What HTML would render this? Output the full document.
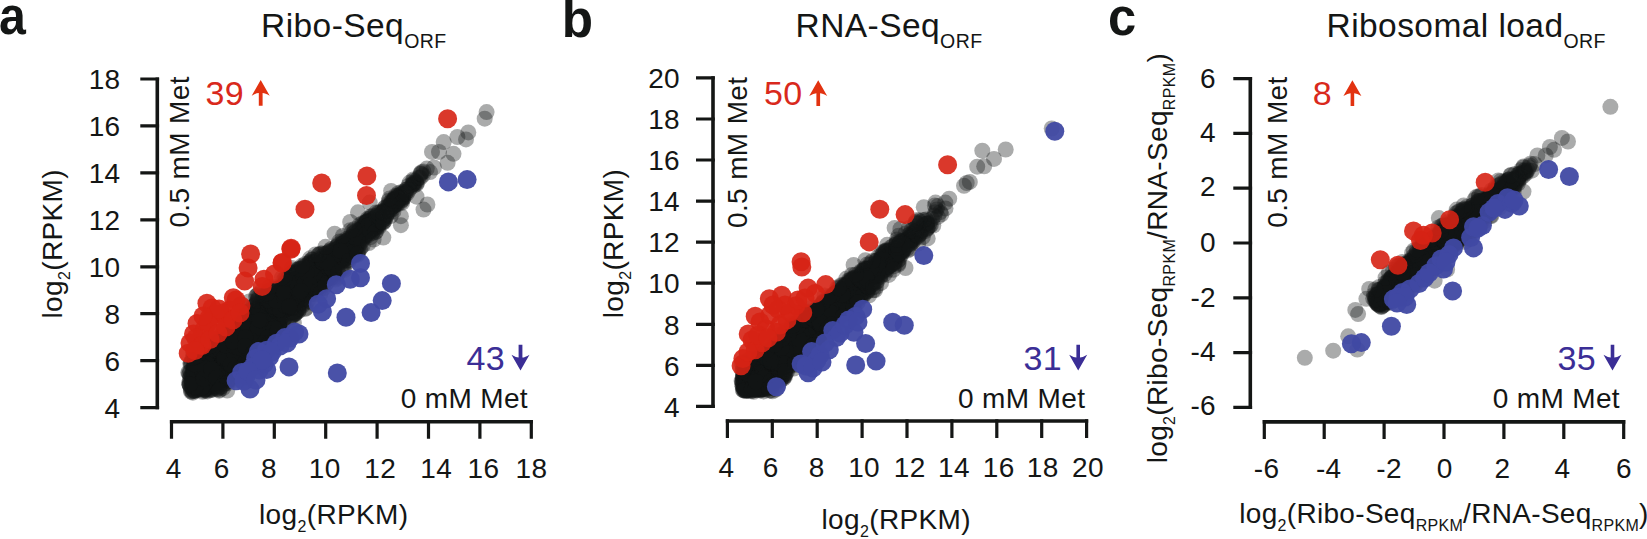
<!DOCTYPE html>
<html lang="en"><head><meta charset="utf-8"><title>Figure</title>
<style>html,body{margin:0;padding:0;background:#fff;overflow:hidden}svg{display:block}text{font-family:"Liberation Sans",sans-serif;letter-spacing:0.013em}</style>
</head><body>
<svg width="1647" height="539" viewBox="0 0 1647 539">
<rect width="1647" height="539" fill="#fff"/>
<text transform="translate(-0.9 34.4) scale(0.885 1)" font-size="54.5" font-weight="bold" fill="#141615">a</text>
<text x="261" y="37.2" font-size="33.5" text-anchor="start" fill="#141615">Ribo-Seq<tspan font-size="19.5" dy="11">ORF</tspan></text>
<path d="M157.3 77.4V409.2M169.9 421.8H532.9" fill="none" stroke="#141615" stroke-width="3.6"/>
<path d="M159.1 79H140.3M159.1 125.9H140.3M159.1 172.9H140.3M159.1 219.8H140.3M159.1 266.8H140.3M159.1 313.7H140.3M159.1 360.6H140.3M159.1 407.6H140.3M171.5 420V438.8M222.9 420V438.8M274.3 420V438.8M325.7 420V438.8M377.1 420V438.8M428.5 420V438.8M479.9 420V438.8M531.3 420V438.8" fill="none" stroke="#141615" stroke-width="3.2"/>
<text x="120.5" y="89.2" font-size="28" text-anchor="end" fill="#141615">18</text>
<text x="120.5" y="136.1" font-size="28" text-anchor="end" fill="#141615">16</text>
<text x="120.5" y="183.1" font-size="28" text-anchor="end" fill="#141615">14</text>
<text x="120.5" y="230" font-size="28" text-anchor="end" fill="#141615">12</text>
<text x="120.5" y="277" font-size="28" text-anchor="end" fill="#141615">10</text>
<text x="120.5" y="323.9" font-size="28" text-anchor="end" fill="#141615">8</text>
<text x="120.5" y="370.8" font-size="28" text-anchor="end" fill="#141615">6</text>
<text x="120.5" y="417.8" font-size="28" text-anchor="end" fill="#141615">4</text>
<text x="173.8" y="478" font-size="28" text-anchor="middle" fill="#141615">4</text>
<text x="221.6" y="478" font-size="28" text-anchor="middle" fill="#141615">6</text>
<text x="269" y="478" font-size="28" text-anchor="middle" fill="#141615">8</text>
<text x="324.8" y="478" font-size="28" text-anchor="middle" fill="#141615">10</text>
<text x="380.3" y="478" font-size="28" text-anchor="middle" fill="#141615">12</text>
<text x="436.2" y="478" font-size="28" text-anchor="middle" fill="#141615">14</text>
<text x="483.5" y="478" font-size="28" text-anchor="middle" fill="#141615">16</text>
<text x="531.5" y="478" font-size="28" text-anchor="middle" fill="#141615">18</text>
<text x="259" y="523.8" font-size="28" text-anchor="start" fill="#141615">log<tspan font-size="16" dy="8">2</tspan><tspan font-size="28" dy="-8">(RPKM)</tspan></text>
<text transform="translate(62 318.5) rotate(-90)" font-size="28" text-anchor="start" fill="#141615">log<tspan font-size="16" dy="8">2</tspan><tspan font-size="28" dy="-8">(RPKM)</tspan></text>
<text transform="translate(189.2 227.6) rotate(-90)" font-size="28" text-anchor="start" fill="#141615">0.5 mM Met</text>
<text x="205.5" y="105" font-size="34" text-anchor="start" fill="#d9291c">39</text>
<path d="M260.7 80L269.7 95.8Q265.2 93 262.6 93L262.6 105.8L258.8 105.8L258.8 93Q256.2 93 251.7 95.8Z" fill="#e23210"/>
<text x="466.5" y="370.4" font-size="34" text-anchor="start" fill="#3b2e96">43</text>
<path d="M520.5 370.6L529.5 354.8Q525 357.6 522.4 357.6L522.4 344.8L518.6 344.8L518.6 357.6Q516 357.6 511.5 354.8Z" fill="#3b2e96"/>
<text x="528" y="407.7" font-size="28" text-anchor="end" fill="#141615">0 mM Met</text>
<g fill="#141615" fill-opacity="0.36">
<circle cx="207.3" cy="386.9" r="8"/><circle cx="214.8" cy="367.5" r="8"/><circle cx="210.3" cy="374.6" r="8"/><circle cx="197.2" cy="377.8" r="8"/><circle cx="195.5" cy="371.8" r="8"/><circle cx="216.2" cy="379.2" r="8"/><circle cx="221.1" cy="356.8" r="8"/><circle cx="210.6" cy="370.5" r="8"/><circle cx="227.7" cy="366.1" r="8"/><circle cx="226.9" cy="363.6" r="8"/><circle cx="204.6" cy="371.3" r="8"/><circle cx="209.2" cy="381.2" r="8"/><circle cx="202.7" cy="361.4" r="8"/><circle cx="200.7" cy="386.6" r="8"/><circle cx="202.9" cy="373.5" r="8"/><circle cx="193.6" cy="372.9" r="8"/><circle cx="213.7" cy="354.7" r="8"/><circle cx="224.7" cy="369.4" r="8"/><circle cx="221.5" cy="371.1" r="8"/><circle cx="192.8" cy="392.7" r="8"/><circle cx="212.4" cy="379.7" r="8"/><circle cx="198.4" cy="370.3" r="8"/><circle cx="206" cy="351.7" r="8"/><circle cx="213.6" cy="374.6" r="8"/><circle cx="207.7" cy="368.4" r="8"/><circle cx="207.4" cy="373.4" r="8"/><circle cx="203.1" cy="376.6" r="8"/><circle cx="204.7" cy="365.5" r="8"/><circle cx="202.7" cy="391.8" r="8"/><circle cx="230.1" cy="375.2" r="8"/><circle cx="227.5" cy="373.4" r="8"/><circle cx="221.8" cy="379.1" r="8"/><circle cx="207.7" cy="376.4" r="8"/><circle cx="209" cy="369.8" r="8"/><circle cx="219.2" cy="361.3" r="8"/><circle cx="206.2" cy="387.8" r="8"/><circle cx="213.2" cy="376.3" r="8"/><circle cx="205.8" cy="358.3" r="8"/><circle cx="215.9" cy="364.1" r="8"/><circle cx="207.8" cy="385.1" r="8"/><circle cx="225.2" cy="361.8" r="8"/><circle cx="217" cy="376.2" r="8"/><circle cx="209.2" cy="362.5" r="8"/><circle cx="204.6" cy="371.3" r="8"/><circle cx="203.7" cy="368.5" r="8"/><circle cx="221.7" cy="381.5" r="8"/><circle cx="224.2" cy="379.1" r="8"/><circle cx="200.2" cy="359.9" r="8"/><circle cx="199.4" cy="366.9" r="8"/><circle cx="208.8" cy="380" r="8"/><circle cx="230.6" cy="369.8" r="8"/><circle cx="206.3" cy="365.8" r="8"/><circle cx="212.1" cy="350" r="8"/><circle cx="221.8" cy="374.1" r="8"/><circle cx="218.6" cy="366" r="8"/><circle cx="217.3" cy="366" r="8"/><circle cx="215.7" cy="355.8" r="8"/><circle cx="205.9" cy="380.8" r="8"/><circle cx="206.2" cy="378.3" r="8"/><circle cx="208.5" cy="357.6" r="8"/><circle cx="219.7" cy="367.4" r="8"/><circle cx="206.4" cy="377.5" r="8"/><circle cx="222.8" cy="360.6" r="8"/><circle cx="215.1" cy="367.1" r="8"/><circle cx="213.3" cy="374.3" r="8"/><circle cx="197.3" cy="380.4" r="8"/><circle cx="209.8" cy="352.3" r="8"/><circle cx="212.8" cy="374.2" r="8"/><circle cx="194.9" cy="363.2" r="8"/><circle cx="209.2" cy="376.9" r="8"/><circle cx="216.5" cy="373.3" r="8"/><circle cx="219.5" cy="355.4" r="8"/><circle cx="190.8" cy="390" r="8"/><circle cx="207.6" cy="361.2" r="8"/><circle cx="203.3" cy="365.7" r="8"/><circle cx="201.7" cy="378.9" r="8"/><circle cx="201.8" cy="375" r="8"/><circle cx="210.7" cy="360" r="8"/><circle cx="207.8" cy="387.3" r="8"/><circle cx="206.4" cy="375.2" r="8"/><circle cx="215" cy="363.6" r="8"/><circle cx="202.9" cy="360.9" r="8"/><circle cx="218.3" cy="362.7" r="8"/><circle cx="229.2" cy="375.3" r="8"/><circle cx="212" cy="380.5" r="8"/><circle cx="215" cy="366.8" r="8"/><circle cx="209.7" cy="364.1" r="8"/><circle cx="209" cy="354" r="8"/><circle cx="211.9" cy="366.9" r="8"/><circle cx="203.6" cy="362.9" r="8"/><circle cx="211.7" cy="377.1" r="8"/><circle cx="224.2" cy="364" r="8"/><circle cx="217.9" cy="381" r="8"/><circle cx="208" cy="368.7" r="8"/><circle cx="232.2" cy="367.2" r="8"/><circle cx="194.6" cy="374.8" r="8"/><circle cx="189.5" cy="374.2" r="8"/><circle cx="197.3" cy="385.8" r="8"/><circle cx="205.5" cy="384.4" r="8"/><circle cx="203.2" cy="378.6" r="8"/><circle cx="205.4" cy="384.9" r="8"/><circle cx="207.8" cy="376.3" r="8"/><circle cx="199.4" cy="374.7" r="8"/><circle cx="201.7" cy="365.6" r="8"/><circle cx="202.7" cy="373.4" r="8"/><circle cx="211.6" cy="369.3" r="8"/><circle cx="214.1" cy="358.9" r="8"/><circle cx="190.3" cy="363.4" r="8"/><circle cx="218.8" cy="374.3" r="8"/><circle cx="216.3" cy="353.9" r="8"/><circle cx="195" cy="378.9" r="8"/><circle cx="205.8" cy="379.5" r="8"/><circle cx="207.1" cy="369.9" r="8"/><circle cx="199.7" cy="387.4" r="8"/><circle cx="193.3" cy="384" r="8"/><circle cx="210.7" cy="365.7" r="8"/><circle cx="199.9" cy="365.1" r="8"/><circle cx="203.7" cy="377" r="8"/><circle cx="200.8" cy="384" r="8"/><circle cx="214.4" cy="360.5" r="8"/><circle cx="217.6" cy="388.4" r="8"/><circle cx="191.7" cy="386" r="8"/><circle cx="194.8" cy="388.5" r="8"/><circle cx="213.8" cy="372" r="8"/><circle cx="228" cy="367.8" r="8"/><circle cx="219" cy="370.6" r="8"/><circle cx="209.2" cy="382.6" r="8"/><circle cx="191.2" cy="364" r="8"/><circle cx="204.5" cy="357.2" r="8"/><circle cx="210.6" cy="364.1" r="8"/><circle cx="208.5" cy="366.2" r="8"/><circle cx="197.8" cy="364.7" r="8"/><circle cx="207.4" cy="372.3" r="8"/><circle cx="227.2" cy="381" r="8"/><circle cx="219.5" cy="381.5" r="8"/><circle cx="215.7" cy="374.1" r="8"/><circle cx="190.7" cy="376.2" r="8"/><circle cx="211" cy="359.2" r="8"/><circle cx="206.5" cy="352.3" r="8"/><circle cx="206.2" cy="381.2" r="8"/><circle cx="202.2" cy="385.8" r="8"/><circle cx="203.2" cy="361.1" r="8"/><circle cx="211.8" cy="366.1" r="8"/><circle cx="205.2" cy="383.9" r="8"/><circle cx="207.1" cy="385.4" r="8"/><circle cx="218" cy="358.1" r="8"/><circle cx="210.8" cy="385.1" r="8"/><circle cx="223.1" cy="359.3" r="8"/><circle cx="212.6" cy="365.2" r="8"/><circle cx="214.9" cy="380.1" r="8"/><circle cx="202.9" cy="377.4" r="8"/><circle cx="229.9" cy="379" r="8"/><circle cx="207.1" cy="366.6" r="8"/><circle cx="219.8" cy="366.9" r="8"/><circle cx="217.2" cy="367" r="8"/><circle cx="189" cy="383.1" r="8"/><circle cx="191.8" cy="381.3" r="8"/><circle cx="200.5" cy="386.5" r="8"/><circle cx="210.2" cy="360.4" r="8"/><circle cx="196.9" cy="384.5" r="8"/><circle cx="210.3" cy="381.8" r="8"/><circle cx="222.2" cy="358.4" r="8"/><circle cx="211.9" cy="379.1" r="8"/><circle cx="194.2" cy="369" r="8"/><circle cx="227.8" cy="367.2" r="8"/><circle cx="202.8" cy="363.4" r="8"/><circle cx="208" cy="357.8" r="8"/><circle cx="213.6" cy="368.5" r="8"/><circle cx="195.8" cy="381.7" r="8"/><circle cx="209.4" cy="373.2" r="8"/><circle cx="208.3" cy="361.9" r="8"/><circle cx="209.6" cy="382.4" r="8"/><circle cx="205.5" cy="381.2" r="8"/><circle cx="207" cy="377.8" r="8"/><circle cx="225.7" cy="366.6" r="8"/><circle cx="229" cy="371.5" r="8"/><circle cx="205.5" cy="377.7" r="8"/><circle cx="218" cy="354.5" r="8"/><circle cx="217.8" cy="361.9" r="8"/><circle cx="211.3" cy="361.3" r="8"/><circle cx="211.3" cy="348.7" r="8"/><circle cx="210.4" cy="381.6" r="8"/><circle cx="228.6" cy="366.8" r="8"/><circle cx="207.4" cy="391.4" r="8"/><circle cx="212.2" cy="368" r="8"/><circle cx="214.3" cy="350.9" r="8"/><circle cx="228.8" cy="371.3" r="8"/><circle cx="191.3" cy="375" r="8"/><circle cx="223" cy="379.9" r="8"/><circle cx="195.6" cy="389.1" r="8"/><circle cx="201.7" cy="376.9" r="8"/><circle cx="196.2" cy="382.4" r="8"/><circle cx="207" cy="350.9" r="8"/><circle cx="230.4" cy="375.9" r="8"/><circle cx="206.7" cy="351.3" r="8"/><circle cx="207.9" cy="359.4" r="8"/><circle cx="199.7" cy="370.4" r="8"/><circle cx="217.9" cy="361.9" r="8"/><circle cx="211" cy="352.7" r="8"/><circle cx="219.3" cy="355.4" r="8"/><circle cx="209.6" cy="354.1" r="8"/><circle cx="192.8" cy="375.4" r="8"/><circle cx="194.2" cy="387.7" r="8"/><circle cx="222.5" cy="374.8" r="8"/><circle cx="222.9" cy="367.6" r="8"/><circle cx="194" cy="389.9" r="8"/><circle cx="231.4" cy="367.5" r="8"/><circle cx="199.3" cy="380" r="8"/><circle cx="225" cy="365.9" r="8"/><circle cx="208.7" cy="381" r="8"/><circle cx="205.8" cy="370.1" r="8"/><circle cx="193.4" cy="371.1" r="8"/><circle cx="196.6" cy="372.7" r="8"/><circle cx="207.3" cy="361.7" r="8"/><circle cx="212" cy="365.4" r="8"/><circle cx="198.4" cy="376.9" r="8"/><circle cx="199.5" cy="377.3" r="8"/><circle cx="221.9" cy="364.9" r="8"/><circle cx="218.3" cy="370.8" r="8"/><circle cx="204.3" cy="371.7" r="8"/><circle cx="206.1" cy="375.9" r="8"/><circle cx="204.2" cy="366.1" r="8"/><circle cx="201.1" cy="379.3" r="8"/><circle cx="199.2" cy="380.3" r="8"/><circle cx="199.3" cy="385.5" r="8"/><circle cx="206.4" cy="362.3" r="8"/><circle cx="201.6" cy="382" r="8"/><circle cx="206.2" cy="353.9" r="8"/><circle cx="209.8" cy="389.5" r="8"/><circle cx="193.5" cy="374.1" r="8"/><circle cx="214.4" cy="351.1" r="8"/><circle cx="195.3" cy="384.2" r="8"/><circle cx="221" cy="362.7" r="8"/><circle cx="193.4" cy="382.7" r="8"/><circle cx="211.6" cy="355.4" r="8"/><circle cx="194.1" cy="368.6" r="8"/><circle cx="203.6" cy="363.7" r="8"/><circle cx="212.4" cy="359.5" r="8"/><circle cx="222.6" cy="373.4" r="8"/><circle cx="209.6" cy="372.6" r="8"/><circle cx="212.3" cy="373.6" r="8"/><circle cx="200.5" cy="383.7" r="8"/><circle cx="201.2" cy="387.9" r="8"/><circle cx="222.7" cy="382.1" r="8"/><circle cx="209.7" cy="386.7" r="8"/><circle cx="193.5" cy="385.5" r="8"/><circle cx="193.7" cy="390.9" r="8"/><circle cx="222.4" cy="376.2" r="8"/><circle cx="206.5" cy="390.6" r="8"/><circle cx="212" cy="362" r="8"/><circle cx="224.5" cy="367" r="8"/><circle cx="200.2" cy="377.1" r="8"/><circle cx="214.7" cy="352.7" r="8"/><circle cx="192.3" cy="391.4" r="8"/><circle cx="202.6" cy="376" r="8"/><circle cx="223.2" cy="372.1" r="8"/><circle cx="196" cy="386.2" r="8"/><circle cx="215.4" cy="374.3" r="8"/><circle cx="233" cy="370.5" r="8"/><circle cx="211.1" cy="377.8" r="8"/><circle cx="194.6" cy="383.1" r="8"/><circle cx="203.3" cy="384.4" r="8"/><circle cx="203.8" cy="357.2" r="8"/><circle cx="216.4" cy="387.1" r="8"/><circle cx="198.6" cy="366.4" r="8"/><circle cx="215.4" cy="381" r="8"/><circle cx="211" cy="348.3" r="8"/><circle cx="209.3" cy="367.4" r="8"/><circle cx="193.8" cy="385.5" r="8"/><circle cx="198.4" cy="377.4" r="8"/><circle cx="208.9" cy="361.6" r="8"/><circle cx="202.9" cy="388.8" r="8"/><circle cx="231.4" cy="367.6" r="8"/><circle cx="194.1" cy="368.4" r="8"/><circle cx="217.2" cy="361.8" r="8"/><circle cx="205.3" cy="389.2" r="8"/><circle cx="210.5" cy="377.2" r="8"/><circle cx="205.1" cy="364.1" r="8"/><circle cx="192.4" cy="381.8" r="8"/><circle cx="209.6" cy="385.1" r="8"/><circle cx="220.8" cy="359.6" r="8"/><circle cx="213.9" cy="365.3" r="8"/><circle cx="225" cy="367.5" r="8"/><circle cx="202.4" cy="367.1" r="8"/><circle cx="214.9" cy="380.1" r="8"/><circle cx="213.4" cy="357.3" r="8"/><circle cx="217.6" cy="374.1" r="8"/><circle cx="200.6" cy="377.9" r="8"/><circle cx="198.1" cy="372.8" r="8"/><circle cx="219.3" cy="364.7" r="8"/><circle cx="221.9" cy="360.4" r="8"/><circle cx="201.3" cy="362.1" r="8"/><circle cx="202.5" cy="365.5" r="8"/><circle cx="216.2" cy="381.4" r="8"/><circle cx="223.5" cy="370.4" r="8"/><circle cx="221.8" cy="382.2" r="8"/><circle cx="202.6" cy="386.3" r="8"/><circle cx="215.1" cy="383.2" r="8"/><circle cx="206.1" cy="364" r="8"/><circle cx="210.2" cy="347.6" r="8"/><circle cx="230.2" cy="370" r="8"/><circle cx="217.3" cy="363.7" r="8"/><circle cx="220.8" cy="371.8" r="8"/><circle cx="214.1" cy="361" r="8"/><circle cx="200.6" cy="366.5" r="8"/><circle cx="208.7" cy="362.5" r="8"/><circle cx="213.8" cy="366" r="8"/><circle cx="201.7" cy="352.3" r="8"/><circle cx="228" cy="370.8" r="8"/><circle cx="223.9" cy="381.1" r="8"/><circle cx="192.1" cy="385.1" r="8"/><circle cx="210.8" cy="379.1" r="8"/><circle cx="191.7" cy="361.1" r="8"/><circle cx="218.5" cy="354.7" r="8"/><circle cx="221.6" cy="371.5" r="8"/><circle cx="195.9" cy="373.2" r="8"/><circle cx="212.8" cy="372.9" r="8"/><circle cx="221.5" cy="368.7" r="8"/><circle cx="228.1" cy="368.4" r="8"/><circle cx="195.9" cy="365.6" r="8"/><circle cx="196.4" cy="380.7" r="8"/><circle cx="212.2" cy="352.2" r="8"/><circle cx="195.5" cy="359.6" r="8"/><circle cx="201.9" cy="385.6" r="8"/><circle cx="203.3" cy="352.4" r="8"/><circle cx="197.6" cy="386.2" r="8"/><circle cx="198.4" cy="362.5" r="8"/><circle cx="235.2" cy="371.4" r="8"/><circle cx="215.8" cy="365.6" r="8"/><circle cx="233" cy="367.7" r="8"/><circle cx="192.5" cy="378.6" r="8"/><circle cx="227.2" cy="363" r="8"/><circle cx="195.2" cy="363.3" r="8"/><circle cx="221.1" cy="371.9" r="8"/><circle cx="216.5" cy="363.7" r="8"/><circle cx="204.2" cy="375.9" r="8"/><circle cx="198.7" cy="375.4" r="8"/><circle cx="195.7" cy="376.9" r="8"/><circle cx="219.5" cy="367.3" r="8"/><circle cx="222.3" cy="360.7" r="8"/><circle cx="204.4" cy="364.5" r="8"/><circle cx="231.3" cy="368.7" r="8"/><circle cx="207.7" cy="353.6" r="8"/><circle cx="193.5" cy="371.5" r="8"/><circle cx="192.8" cy="387" r="8"/><circle cx="211.1" cy="385.4" r="8"/><circle cx="213.1" cy="369.5" r="8"/><circle cx="195.9" cy="381.2" r="8"/><circle cx="196.8" cy="367.1" r="8"/><circle cx="210.5" cy="379.2" r="8"/><circle cx="212.4" cy="380.1" r="8"/><circle cx="222.4" cy="369.1" r="8"/><circle cx="203.1" cy="353.7" r="8"/><circle cx="208.5" cy="359.6" r="8"/><circle cx="209.3" cy="376" r="8"/><circle cx="213.7" cy="378.8" r="8"/><circle cx="209.3" cy="365.7" r="8"/><circle cx="211.8" cy="369.3" r="8"/><circle cx="216.2" cy="353.5" r="8"/><circle cx="215" cy="368.7" r="8"/><circle cx="190" cy="378.1" r="8"/><circle cx="197.2" cy="361.6" r="8"/><circle cx="217.4" cy="359.6" r="8"/><circle cx="200.2" cy="374.7" r="8"/><circle cx="219.5" cy="365.3" r="8"/><circle cx="232.4" cy="372.7" r="8"/><circle cx="195.4" cy="382.2" r="8"/><circle cx="205.9" cy="363.4" r="8"/><circle cx="228" cy="364.5" r="8"/><circle cx="204.5" cy="375.6" r="8"/><circle cx="224.9" cy="374.2" r="8"/><circle cx="207" cy="389.2" r="8"/><circle cx="214.3" cy="352.4" r="8"/><circle cx="198.7" cy="377.3" r="8"/><circle cx="205.9" cy="378.8" r="8"/><circle cx="219.4" cy="359" r="8"/><circle cx="207.2" cy="352.1" r="8"/><circle cx="202.9" cy="377.1" r="8"/><circle cx="197.7" cy="374.6" r="8"/><circle cx="209.7" cy="357.5" r="8"/><circle cx="204.1" cy="377.7" r="8"/><circle cx="194.7" cy="359.8" r="8"/><circle cx="205.6" cy="386.4" r="8"/><circle cx="210.8" cy="351.8" r="8"/><circle cx="194.9" cy="385" r="8"/><circle cx="222" cy="362.3" r="8"/><circle cx="210" cy="354.4" r="8"/><circle cx="205.8" cy="353" r="8"/><circle cx="228.5" cy="364.8" r="8"/><circle cx="216.9" cy="370.1" r="8"/><circle cx="197.8" cy="373.3" r="8"/><circle cx="218.8" cy="378.2" r="8"/><circle cx="225.8" cy="363.1" r="8"/><circle cx="222.7" cy="364.1" r="8"/><circle cx="212.4" cy="389.7" r="8"/><circle cx="210.4" cy="350.3" r="8"/><circle cx="215.1" cy="364.9" r="8"/><circle cx="214.7" cy="384.5" r="8"/><circle cx="222" cy="370.9" r="8"/><circle cx="198.6" cy="389.5" r="8"/><circle cx="216.6" cy="369.9" r="8"/><circle cx="208.5" cy="372.9" r="8"/><circle cx="218" cy="375.8" r="8"/><circle cx="227.7" cy="363.5" r="8"/><circle cx="210.8" cy="354.4" r="8"/><circle cx="191.6" cy="382.8" r="8"/><circle cx="199.4" cy="378.8" r="8"/><circle cx="203.5" cy="380.8" r="8"/><circle cx="215.7" cy="358.6" r="8"/><circle cx="212.5" cy="371.7" r="8"/><circle cx="228.3" cy="367.3" r="8"/><circle cx="203.2" cy="375" r="8"/><circle cx="215.5" cy="355.8" r="8"/><circle cx="224.5" cy="365.8" r="8"/><circle cx="204.5" cy="358.1" r="8"/><circle cx="199.9" cy="369.1" r="8"/><circle cx="206.8" cy="364.8" r="8"/><circle cx="217.7" cy="381.4" r="8"/><circle cx="205.9" cy="385.1" r="8"/><circle cx="205.7" cy="389.3" r="8"/><circle cx="196.4" cy="387.6" r="8"/><circle cx="223.2" cy="363.7" r="8"/><circle cx="193.4" cy="388.4" r="8"/><circle cx="223" cy="362.6" r="8"/><circle cx="205.4" cy="367.4" r="8"/><circle cx="190.8" cy="387.7" r="8"/><circle cx="205.3" cy="385.4" r="8"/><circle cx="194.5" cy="373.9" r="8"/><circle cx="208.2" cy="385.8" r="8"/><circle cx="215.2" cy="364" r="8"/><circle cx="211.2" cy="349.4" r="8"/><circle cx="217.8" cy="369.9" r="8"/><circle cx="207.2" cy="359.9" r="8"/><circle cx="228.3" cy="379.9" r="8"/><circle cx="221.8" cy="362.7" r="8"/><circle cx="200.3" cy="357.1" r="8"/><circle cx="215.4" cy="362.1" r="8"/><circle cx="216.1" cy="381" r="8"/><circle cx="194.2" cy="383.9" r="8"/><circle cx="213.2" cy="365.9" r="8"/><circle cx="200.7" cy="356.1" r="8"/><circle cx="201.9" cy="367.3" r="8"/><circle cx="213.9" cy="355.9" r="8"/><circle cx="228" cy="381.1" r="8"/><circle cx="195.6" cy="371.7" r="8"/><circle cx="216.7" cy="363.7" r="8"/><circle cx="213.9" cy="370.6" r="8"/><circle cx="198.6" cy="369.7" r="8"/><circle cx="199.5" cy="374.9" r="8"/><circle cx="201.5" cy="385.8" r="8"/><circle cx="196.2" cy="376.1" r="8"/><circle cx="199.3" cy="382.3" r="8"/><circle cx="217.6" cy="389.1" r="8"/><circle cx="210.3" cy="384.7" r="8"/><circle cx="222.6" cy="381.6" r="8"/><circle cx="214.8" cy="359.8" r="8"/><circle cx="206.6" cy="364" r="8"/><circle cx="201.7" cy="364.5" r="8"/><circle cx="212" cy="371.6" r="8"/><circle cx="197.7" cy="377.5" r="8"/><circle cx="195.9" cy="382.5" r="8"/><circle cx="220.1" cy="359.5" r="8"/><circle cx="213.2" cy="382.5" r="8"/><circle cx="209.3" cy="385.3" r="8"/><circle cx="218.7" cy="363.5" r="8"/><circle cx="218" cy="377.3" r="8"/><circle cx="206.1" cy="388.1" r="8"/><circle cx="212.9" cy="379.3" r="8"/><circle cx="222.3" cy="376" r="8"/><circle cx="225.4" cy="370.3" r="8"/><circle cx="204" cy="349.2" r="8"/><circle cx="204.1" cy="389.1" r="8"/><circle cx="196" cy="390.2" r="8"/><circle cx="212.5" cy="376.4" r="8"/><circle cx="205.5" cy="370.2" r="8"/><circle cx="194.5" cy="369.3" r="8"/><circle cx="201.3" cy="361.7" r="8"/><circle cx="213.4" cy="368.4" r="8"/><circle cx="208.9" cy="352.5" r="8"/><circle cx="210.7" cy="361.5" r="8"/><circle cx="208.6" cy="378.1" r="8"/><circle cx="217.6" cy="373.8" r="8"/><circle cx="220.2" cy="379.5" r="8"/><circle cx="213.1" cy="350.4" r="8"/><circle cx="196.8" cy="388.7" r="8"/><circle cx="194.4" cy="372.8" r="8"/><circle cx="221.8" cy="365.9" r="8"/><circle cx="218.6" cy="369.9" r="8"/><circle cx="216.3" cy="383.9" r="8"/><circle cx="196.1" cy="390" r="8"/><circle cx="227.5" cy="376.3" r="8"/><circle cx="196.1" cy="384" r="8"/><circle cx="212.4" cy="372.5" r="8"/><circle cx="215.7" cy="361.5" r="8"/><circle cx="226.1" cy="364.1" r="8"/><circle cx="188.3" cy="372.4" r="8"/><circle cx="204.9" cy="367.8" r="8"/><circle cx="206.2" cy="366.7" r="8"/><circle cx="216.1" cy="362.4" r="8"/><circle cx="196.3" cy="370.6" r="8"/><circle cx="213.3" cy="360.6" r="8"/><circle cx="209" cy="380.8" r="8"/><circle cx="207.7" cy="387" r="8"/><circle cx="217.7" cy="362.6" r="8"/><circle cx="211.7" cy="375.4" r="8"/><circle cx="210.9" cy="390" r="8"/><circle cx="208.9" cy="362.5" r="8"/><circle cx="219.1" cy="371.2" r="8"/><circle cx="214.3" cy="375.8" r="8"/><circle cx="216.7" cy="365.9" r="8"/><circle cx="218.9" cy="357" r="8"/><circle cx="229.9" cy="365.5" r="8"/><circle cx="200.1" cy="366.4" r="8"/><circle cx="213.5" cy="354.6" r="8"/><circle cx="199.1" cy="369.3" r="8"/><circle cx="202.3" cy="382.5" r="8"/><circle cx="190" cy="381.5" r="8"/><circle cx="219.8" cy="370.4" r="8"/><circle cx="218.4" cy="368.4" r="8"/><circle cx="227.5" cy="364.2" r="8"/><circle cx="198.2" cy="385.2" r="8"/><circle cx="200.3" cy="375.3" r="8"/><circle cx="227.2" cy="363.6" r="8"/><circle cx="212.7" cy="367.8" r="8"/><circle cx="220.3" cy="366.8" r="8"/><circle cx="198.4" cy="378.6" r="8"/><circle cx="221.8" cy="377.7" r="8"/><circle cx="217.1" cy="362.8" r="8"/><circle cx="228.5" cy="370.1" r="8"/><circle cx="200.8" cy="387.2" r="8"/><circle cx="205.7" cy="373.5" r="8"/><circle cx="204.5" cy="390.2" r="8"/><circle cx="219.6" cy="372.6" r="8"/><circle cx="224.5" cy="370.5" r="8"/><circle cx="212.5" cy="352.1" r="8"/><circle cx="208" cy="372.3" r="8"/><circle cx="198.1" cy="383.5" r="8"/><circle cx="215.1" cy="368.8" r="8"/><circle cx="217.1" cy="354.1" r="8"/><circle cx="201.2" cy="363" r="8"/><circle cx="203.8" cy="376.4" r="8"/><circle cx="203.4" cy="382.1" r="8"/><circle cx="226.4" cy="366.7" r="8"/><circle cx="201.5" cy="381.9" r="8"/><circle cx="207.8" cy="361.9" r="8"/><circle cx="204.9" cy="372.6" r="8"/><circle cx="215" cy="385.4" r="8"/><circle cx="192.9" cy="374.3" r="8"/><circle cx="197.7" cy="371.6" r="8"/><circle cx="201.9" cy="370.9" r="8"/><circle cx="228.2" cy="372.5" r="8"/><circle cx="227" cy="373" r="8"/><circle cx="189.7" cy="385.1" r="8"/><circle cx="197" cy="373.9" r="8"/><circle cx="217" cy="384.5" r="8"/><circle cx="216.2" cy="368.8" r="8"/><circle cx="198.2" cy="375.4" r="8"/><circle cx="227.7" cy="369.1" r="8"/><circle cx="204.7" cy="373.6" r="8"/><circle cx="198.9" cy="377.9" r="8"/><circle cx="214.8" cy="359.7" r="8"/><circle cx="211.9" cy="374.3" r="8"/><circle cx="196.2" cy="365.6" r="8"/><circle cx="196.6" cy="376.8" r="8"/><circle cx="196.2" cy="376.4" r="8"/><circle cx="212.4" cy="352.8" r="8"/><circle cx="216" cy="374.2" r="8"/><circle cx="203.2" cy="376.7" r="8"/><circle cx="204.5" cy="363.4" r="8"/><circle cx="204.5" cy="372.5" r="8"/><circle cx="209.1" cy="355.6" r="8"/><circle cx="214" cy="378.3" r="8"/><circle cx="200.5" cy="388.7" r="8"/><circle cx="203.9" cy="367" r="8"/><circle cx="207.3" cy="372.8" r="8"/><circle cx="197.6" cy="377.4" r="8"/><circle cx="200.4" cy="383.9" r="8"/><circle cx="212.2" cy="354.8" r="8"/><circle cx="200.3" cy="373.2" r="8"/><circle cx="225.3" cy="379.9" r="8"/><circle cx="220.9" cy="374.3" r="8"/><circle cx="207" cy="381.5" r="8"/><circle cx="204.9" cy="364.9" r="8"/><circle cx="224" cy="376.2" r="8"/><circle cx="219.7" cy="358.7" r="8"/><circle cx="190.3" cy="371.4" r="8"/><circle cx="216" cy="369.7" r="8"/><circle cx="200" cy="353.1" r="8"/><circle cx="220.1" cy="382.4" r="8"/><circle cx="207.1" cy="369.9" r="8"/><circle cx="197.3" cy="384.6" r="8"/><circle cx="209.1" cy="347.6" r="8"/><circle cx="202.1" cy="353.9" r="8"/><circle cx="213.4" cy="357.6" r="8"/><circle cx="202.3" cy="367.7" r="8"/><circle cx="192.5" cy="381.1" r="8"/><circle cx="206.6" cy="366.6" r="8"/><circle cx="192.3" cy="381.7" r="8"/><circle cx="197" cy="380.7" r="8"/><circle cx="207.3" cy="357" r="8"/><circle cx="205.9" cy="361.3" r="8"/><circle cx="206.8" cy="387.6" r="8"/><circle cx="206.3" cy="359.7" r="8"/><circle cx="214.7" cy="366.5" r="8"/><circle cx="193.1" cy="375.8" r="8"/><circle cx="212.5" cy="388.1" r="8"/><circle cx="189.5" cy="384.6" r="8"/><circle cx="194.7" cy="365.1" r="8"/><circle cx="196.1" cy="380.9" r="8"/><circle cx="206.5" cy="378.2" r="8"/><circle cx="207.1" cy="370" r="8"/><circle cx="217.4" cy="363" r="8"/><circle cx="194.6" cy="370.5" r="8"/><circle cx="212.9" cy="366.4" r="8"/><circle cx="198.1" cy="388.3" r="8"/><circle cx="223.9" cy="375.9" r="8"/><circle cx="219.2" cy="381.1" r="8"/><circle cx="219.2" cy="366.3" r="8"/><circle cx="201.3" cy="369.4" r="8"/><circle cx="219.4" cy="359.3" r="8"/><circle cx="221.4" cy="378.2" r="8"/><circle cx="191.1" cy="391.5" r="8"/><circle cx="213.7" cy="367.8" r="8"/><circle cx="210.6" cy="370.4" r="8"/><circle cx="222.2" cy="362.9" r="8"/><circle cx="202.4" cy="381.4" r="8"/><circle cx="214" cy="359.3" r="8"/><circle cx="200.7" cy="382.5" r="8"/><circle cx="223.1" cy="372.2" r="8"/><circle cx="192.4" cy="373.8" r="8"/><circle cx="207.9" cy="366.2" r="8"/><circle cx="208.9" cy="347.8" r="8"/><circle cx="221.4" cy="377.3" r="8"/><circle cx="195.6" cy="387.6" r="8"/><circle cx="225.2" cy="362.7" r="8"/><circle cx="215.5" cy="354.7" r="8"/><circle cx="221.9" cy="370.1" r="8"/><circle cx="209.6" cy="359.3" r="8"/><circle cx="227.8" cy="371.3" r="8"/><circle cx="209.3" cy="371.9" r="8"/><circle cx="220.9" cy="364.5" r="8"/><circle cx="202.6" cy="376" r="8"/><circle cx="196.4" cy="382.4" r="8"/><circle cx="219.9" cy="362.5" r="8"/><circle cx="227.7" cy="373.3" r="8"/><circle cx="211" cy="378.4" r="8"/><circle cx="197.9" cy="361.1" r="8"/><circle cx="197.6" cy="366.8" r="8"/><circle cx="205.3" cy="357.3" r="8"/><circle cx="223" cy="369.4" r="8"/><circle cx="235.5" cy="371" r="8"/><circle cx="203.4" cy="358.8" r="8"/><circle cx="219.4" cy="363.4" r="8"/><circle cx="192.8" cy="389" r="8"/><circle cx="219.6" cy="387.6" r="8"/><circle cx="202.2" cy="377" r="8"/><circle cx="207.7" cy="385.5" r="8"/><circle cx="194.8" cy="370" r="8"/><circle cx="224.4" cy="383.6" r="8"/><circle cx="207.3" cy="364.8" r="8"/><circle cx="197.9" cy="355.7" r="8"/><circle cx="207" cy="361.8" r="8"/><circle cx="210.3" cy="376.9" r="8"/><circle cx="228" cy="365.5" r="8"/><circle cx="224.4" cy="361.2" r="8"/><circle cx="208.8" cy="372" r="8"/><circle cx="232.4" cy="375.9" r="8"/><circle cx="218.3" cy="368.2" r="8"/><circle cx="220.8" cy="365.5" r="8"/><circle cx="212.1" cy="374.3" r="8"/><circle cx="200.5" cy="361.8" r="8"/><circle cx="190.9" cy="362.9" r="8"/><circle cx="216.6" cy="370.9" r="8"/><circle cx="224.6" cy="361.3" r="8"/><circle cx="199.2" cy="367" r="8"/><circle cx="219.2" cy="368.8" r="8"/><circle cx="202.2" cy="364.5" r="8"/><circle cx="210.1" cy="353.3" r="8"/><circle cx="219.8" cy="365" r="8"/><circle cx="208.3" cy="375.8" r="8"/><circle cx="193.3" cy="368.6" r="8"/><circle cx="215.7" cy="367.2" r="8"/><circle cx="197.7" cy="358.2" r="8"/><circle cx="212" cy="372.9" r="8"/><circle cx="224.1" cy="369" r="8"/><circle cx="205.4" cy="364.3" r="8"/><circle cx="221.9" cy="373.2" r="8"/><circle cx="212.1" cy="364.4" r="8"/><circle cx="214.3" cy="363.7" r="8"/><circle cx="210.2" cy="365.6" r="8"/><circle cx="214.7" cy="353.3" r="8"/><circle cx="193.7" cy="390" r="8"/><circle cx="198.8" cy="362.2" r="8"/><circle cx="216.1" cy="366.7" r="8"/><circle cx="202.1" cy="382.8" r="8"/><circle cx="221.6" cy="374.1" r="8"/><circle cx="221.8" cy="367.9" r="8"/><circle cx="209.3" cy="374.3" r="8"/><circle cx="213.8" cy="354.6" r="8"/><circle cx="222.9" cy="363.9" r="8"/><circle cx="214.5" cy="361" r="8"/><circle cx="203.1" cy="374.2" r="8"/><circle cx="207.6" cy="351.4" r="8"/><circle cx="213" cy="380.8" r="8"/><circle cx="227.4" cy="371.1" r="8"/><circle cx="204.3" cy="354.6" r="8"/><circle cx="227.9" cy="368.1" r="8"/><circle cx="210.4" cy="369.3" r="8"/><circle cx="196" cy="370.1" r="8"/><circle cx="204.8" cy="377.6" r="8"/><circle cx="213.8" cy="385.9" r="8"/><circle cx="204.1" cy="385" r="8"/><circle cx="198.6" cy="374.3" r="8"/><circle cx="194.1" cy="364.1" r="8"/><circle cx="213.2" cy="380.5" r="8"/><circle cx="199.9" cy="362.3" r="8"/><circle cx="205.2" cy="378.3" r="8"/><circle cx="203.2" cy="390.7" r="8"/><circle cx="204.8" cy="364.3" r="8"/><circle cx="194.5" cy="381.7" r="8"/><circle cx="207.5" cy="377" r="8"/><circle cx="226.4" cy="378.9" r="8"/><circle cx="213.1" cy="381.1" r="8"/><circle cx="211.9" cy="375" r="8"/><circle cx="211.4" cy="373.9" r="8"/><circle cx="226.5" cy="364" r="8"/><circle cx="205" cy="381.2" r="8"/><circle cx="212.2" cy="357.5" r="8"/><circle cx="222.6" cy="359.9" r="8"/><circle cx="212.3" cy="377.7" r="8"/><circle cx="193.3" cy="383" r="8"/><circle cx="205.9" cy="378.6" r="8"/><circle cx="194.7" cy="391" r="8"/><circle cx="192.6" cy="375.8" r="8"/><circle cx="220.6" cy="372.6" r="8"/><circle cx="227.5" cy="364.4" r="8"/><circle cx="218.2" cy="379.4" r="8"/><circle cx="225.1" cy="370.7" r="8"/><circle cx="215.7" cy="385.6" r="8"/><circle cx="211" cy="360" r="8"/><circle cx="219.1" cy="381" r="8"/><circle cx="205" cy="357.5" r="8"/><circle cx="195.4" cy="372.9" r="8"/><circle cx="215.1" cy="376.2" r="8"/><circle cx="229.7" cy="364.8" r="8"/><circle cx="199.8" cy="376.5" r="8"/><circle cx="205.5" cy="370.9" r="8"/><circle cx="216.8" cy="383.1" r="8"/><circle cx="201.8" cy="362.9" r="8"/><circle cx="208.3" cy="380.2" r="8"/><circle cx="189.1" cy="372.9" r="8"/><circle cx="197.7" cy="379.2" r="8"/><circle cx="222.2" cy="364" r="8"/><circle cx="207.8" cy="382.6" r="8"/><circle cx="203.1" cy="358.5" r="8"/><circle cx="217.7" cy="385.8" r="8"/><circle cx="195.3" cy="379.2" r="8"/><circle cx="204.7" cy="362.6" r="8"/><circle cx="207" cy="370.9" r="8"/><circle cx="197.9" cy="354.1" r="8"/><circle cx="204.1" cy="357.1" r="8"/><circle cx="199.7" cy="375.2" r="8"/><circle cx="212.6" cy="378.1" r="8"/><circle cx="202.5" cy="386.9" r="8"/><circle cx="226.3" cy="371" r="8"/><circle cx="214.4" cy="368.8" r="8"/><circle cx="213.1" cy="380.8" r="8"/><circle cx="206.3" cy="372.6" r="8"/><circle cx="218.1" cy="369.2" r="8"/><circle cx="212.1" cy="384" r="8"/><circle cx="209.2" cy="349.7" r="8"/><circle cx="220" cy="357.9" r="8"/><circle cx="212.5" cy="363" r="8"/><circle cx="193.8" cy="371.5" r="8"/><circle cx="197.8" cy="375.8" r="8"/><circle cx="204" cy="367.8" r="8"/><circle cx="200.9" cy="360.5" r="8"/><circle cx="194.4" cy="364.4" r="8"/><circle cx="228.3" cy="374.9" r="8"/><circle cx="202" cy="381.7" r="8"/><circle cx="202.8" cy="373.6" r="8"/><circle cx="209.6" cy="367.3" r="8"/><circle cx="194.7" cy="364" r="8"/><circle cx="224.2" cy="367.6" r="8"/><circle cx="201.5" cy="388.1" r="8"/><circle cx="218.1" cy="377.1" r="8"/><circle cx="207.7" cy="354.1" r="8"/><circle cx="229.3" cy="369.8" r="8"/><circle cx="219.2" cy="367.6" r="8"/><circle cx="207.2" cy="370.7" r="8"/><circle cx="193.9" cy="384.1" r="8"/><circle cx="205.1" cy="368.6" r="8"/><circle cx="195.5" cy="387.1" r="8"/><circle cx="211.2" cy="372.4" r="8"/><circle cx="189.7" cy="384.4" r="8"/><circle cx="203.6" cy="378.9" r="8"/><circle cx="227.3" cy="376.7" r="8"/><circle cx="211.5" cy="352.9" r="8"/><circle cx="211.2" cy="369.1" r="8"/><circle cx="216.3" cy="378" r="8"/><circle cx="193.8" cy="355.6" r="8"/><circle cx="193.1" cy="352.4" r="8"/><circle cx="223.8" cy="383.8" r="8"/><circle cx="203.4" cy="346.1" r="8"/><circle cx="203.4" cy="348.9" r="8"/><circle cx="234.8" cy="373" r="8"/><circle cx="192.9" cy="357.6" r="8"/><circle cx="235.5" cy="373.3" r="8"/><circle cx="223.1" cy="388.2" r="8"/><circle cx="194.8" cy="356.6" r="8"/><circle cx="227.4" cy="383.3" r="8"/><circle cx="235.2" cy="376.8" r="8"/><circle cx="207.2" cy="345.8" r="8"/><circle cx="205.8" cy="347.4" r="8"/><circle cx="203.7" cy="343.1" r="8"/><circle cx="233.7" cy="373.7" r="8"/><circle cx="227.2" cy="390.5" r="8"/><circle cx="200.5" cy="344.9" r="8"/><circle cx="195.8" cy="352.7" r="8"/><circle cx="235.3" cy="376.3" r="8"/><circle cx="219.3" cy="389.8" r="8"/><circle cx="196.9" cy="351.6" r="8"/><circle cx="197.5" cy="355.7" r="8"/><circle cx="231.9" cy="379.2" r="8"/><circle cx="222.1" cy="386.4" r="8"/><circle cx="234.9" cy="379.8" r="8"/><circle cx="219.2" cy="390.7" r="8"/><circle cx="234.9" cy="372.5" r="8"/><circle cx="228.3" cy="345.8" r="8"/><circle cx="228.6" cy="363.1" r="8"/><circle cx="265.7" cy="326.7" r="8"/><circle cx="235.4" cy="336.9" r="8"/><circle cx="226.6" cy="349.3" r="8"/><circle cx="258.5" cy="349.6" r="8"/><circle cx="245.5" cy="332.9" r="8"/><circle cx="252" cy="334.4" r="8"/><circle cx="241.9" cy="330.3" r="8"/><circle cx="266.5" cy="315.6" r="8"/><circle cx="247.5" cy="345.5" r="8"/><circle cx="231.1" cy="359.9" r="8"/><circle cx="248.7" cy="346.6" r="8"/><circle cx="229.1" cy="346.9" r="8"/><circle cx="270.3" cy="332.1" r="8"/><circle cx="247.7" cy="343.3" r="8"/><circle cx="243.5" cy="334.4" r="8"/><circle cx="256.1" cy="328.1" r="8"/><circle cx="271.4" cy="314" r="8"/><circle cx="279.3" cy="315.4" r="8"/><circle cx="251.6" cy="327.4" r="8"/><circle cx="279.3" cy="323.7" r="8"/><circle cx="263.2" cy="311.1" r="8"/><circle cx="235.7" cy="363.6" r="8"/><circle cx="222.7" cy="355.7" r="8"/><circle cx="237.8" cy="342.5" r="8"/><circle cx="245.7" cy="328.9" r="8"/><circle cx="242.7" cy="349.9" r="8"/><circle cx="239.8" cy="344.8" r="8"/><circle cx="259.7" cy="326.4" r="8"/><circle cx="231" cy="359.9" r="8"/><circle cx="228" cy="342.5" r="8"/><circle cx="238.5" cy="346.2" r="8"/><circle cx="221.5" cy="348.6" r="8"/><circle cx="263.6" cy="337.3" r="8"/><circle cx="272.7" cy="316.6" r="8"/><circle cx="264.3" cy="319.5" r="8"/><circle cx="256.8" cy="336.8" r="8"/><circle cx="235.2" cy="346.6" r="8"/><circle cx="244.3" cy="320.1" r="8"/><circle cx="254.9" cy="321.3" r="8"/><circle cx="234.3" cy="351.1" r="8"/><circle cx="257.6" cy="333.6" r="8"/><circle cx="264.9" cy="317.9" r="8"/><circle cx="253.9" cy="319.2" r="8"/><circle cx="264.3" cy="314.2" r="8"/><circle cx="257" cy="324.1" r="8"/><circle cx="272.6" cy="308.8" r="8"/><circle cx="271.3" cy="321.3" r="8"/><circle cx="248.2" cy="326" r="8"/><circle cx="237.7" cy="326.3" r="8"/><circle cx="266" cy="302.9" r="8"/><circle cx="229.5" cy="357" r="8"/><circle cx="277.5" cy="321.9" r="8"/><circle cx="277.3" cy="326.2" r="8"/><circle cx="247.9" cy="332.6" r="8"/><circle cx="217.7" cy="349.5" r="8"/><circle cx="254.6" cy="340.8" r="8"/><circle cx="230.9" cy="344.3" r="8"/><circle cx="271.2" cy="322.6" r="8"/><circle cx="259" cy="321.8" r="8"/><circle cx="217" cy="350.3" r="8"/><circle cx="239.5" cy="336.5" r="8"/><circle cx="257.6" cy="324.5" r="8"/><circle cx="268.2" cy="311.4" r="8"/><circle cx="230.5" cy="364.5" r="8"/><circle cx="229.6" cy="347.3" r="8"/><circle cx="221.1" cy="351.2" r="8"/><circle cx="244.5" cy="346.5" r="8"/><circle cx="231.2" cy="364.5" r="8"/><circle cx="231.6" cy="360.6" r="8"/><circle cx="243.7" cy="348.3" r="8"/><circle cx="222.9" cy="349" r="8"/><circle cx="244.5" cy="322.1" r="8"/><circle cx="253.4" cy="347.2" r="8"/><circle cx="228" cy="345.7" r="8"/><circle cx="232.1" cy="362.9" r="8"/><circle cx="268.4" cy="314.3" r="8"/><circle cx="251.3" cy="355.4" r="8"/><circle cx="263.1" cy="329.3" r="8"/><circle cx="250.2" cy="315.1" r="8"/><circle cx="235.5" cy="345.9" r="8"/><circle cx="266.7" cy="327.8" r="8"/><circle cx="270.9" cy="332.4" r="8"/><circle cx="223.4" cy="346" r="8"/><circle cx="269.7" cy="317.7" r="8"/><circle cx="277.2" cy="315.9" r="8"/><circle cx="271.7" cy="323.6" r="8"/><circle cx="233.4" cy="325.5" r="8"/><circle cx="259" cy="340.2" r="8"/><circle cx="279.8" cy="315.1" r="8"/><circle cx="224.6" cy="341" r="8"/><circle cx="268.4" cy="312.8" r="8"/><circle cx="270.8" cy="312.5" r="8"/><circle cx="247.7" cy="345.2" r="8"/><circle cx="261.3" cy="313.8" r="8"/><circle cx="239.2" cy="343.2" r="8"/><circle cx="235.4" cy="341" r="8"/><circle cx="238.8" cy="317.7" r="8"/><circle cx="233" cy="355.9" r="8"/><circle cx="258.8" cy="318.2" r="8"/><circle cx="245.3" cy="330.8" r="8"/><circle cx="254" cy="324.7" r="8"/><circle cx="262.3" cy="339" r="8"/><circle cx="231" cy="327.2" r="8"/><circle cx="225.7" cy="355" r="8"/><circle cx="216.3" cy="338.5" r="8"/><circle cx="223.2" cy="354.1" r="8"/><circle cx="214.4" cy="343.2" r="8"/><circle cx="239.4" cy="330.6" r="8"/><circle cx="261.5" cy="316.6" r="8"/><circle cx="247.4" cy="355.3" r="8"/><circle cx="242.5" cy="332.2" r="8"/><circle cx="229.5" cy="356.2" r="8"/><circle cx="268.1" cy="316.1" r="8"/><circle cx="272.4" cy="316.1" r="8"/><circle cx="265.6" cy="327.7" r="8"/><circle cx="241.2" cy="359.1" r="8"/><circle cx="280.8" cy="317.1" r="8"/><circle cx="248.3" cy="314.9" r="8"/><circle cx="253.2" cy="326.7" r="8"/><circle cx="266.6" cy="338.9" r="8"/><circle cx="249.5" cy="325.3" r="8"/><circle cx="256" cy="303.3" r="8"/><circle cx="254.5" cy="329.3" r="8"/><circle cx="239" cy="348.1" r="8"/><circle cx="252.7" cy="334.6" r="8"/><circle cx="259" cy="316.3" r="8"/><circle cx="279.7" cy="322" r="8"/><circle cx="222.1" cy="334.7" r="8"/><circle cx="249.6" cy="315.2" r="8"/><circle cx="283.1" cy="322.4" r="8"/><circle cx="258.1" cy="311.8" r="8"/><circle cx="242.3" cy="340" r="8"/><circle cx="265.8" cy="309.7" r="8"/><circle cx="241.2" cy="327.5" r="8"/><circle cx="277.8" cy="314.1" r="8"/><circle cx="243.5" cy="338" r="8"/><circle cx="258.9" cy="314.5" r="8"/><circle cx="234" cy="324.4" r="8"/><circle cx="228.9" cy="356.3" r="8"/><circle cx="221.5" cy="356.3" r="8"/><circle cx="262.6" cy="321.4" r="8"/><circle cx="235.8" cy="346.5" r="8"/><circle cx="241.3" cy="337.2" r="8"/><circle cx="265.2" cy="302.2" r="8"/><circle cx="227.4" cy="330.6" r="8"/><circle cx="254.8" cy="329.9" r="8"/><circle cx="253.3" cy="313.4" r="8"/><circle cx="222.9" cy="354.7" r="8"/><circle cx="263.1" cy="324.2" r="8"/><circle cx="234.3" cy="328.3" r="8"/><circle cx="265.5" cy="306" r="8"/><circle cx="224.1" cy="351.3" r="8"/><circle cx="232.2" cy="355.9" r="8"/><circle cx="244.3" cy="317.2" r="8"/><circle cx="230.4" cy="361.1" r="8"/><circle cx="279.5" cy="327.2" r="8"/><circle cx="235.7" cy="329.6" r="8"/><circle cx="242.8" cy="330.6" r="8"/><circle cx="231.9" cy="333.7" r="8"/><circle cx="263.9" cy="323.8" r="8"/><circle cx="260" cy="313.5" r="8"/><circle cx="264.1" cy="300.8" r="8"/><circle cx="283.9" cy="321.1" r="8"/><circle cx="232.9" cy="365.5" r="8"/><circle cx="235.3" cy="328.4" r="8"/><circle cx="260.7" cy="315.9" r="8"/><circle cx="265.8" cy="338" r="8"/><circle cx="229" cy="358.2" r="8"/><circle cx="235.6" cy="363.9" r="8"/><circle cx="277.4" cy="321.8" r="8"/><circle cx="269.3" cy="322.7" r="8"/><circle cx="221.6" cy="350.7" r="8"/><circle cx="244.5" cy="344.8" r="8"/><circle cx="250.7" cy="323.9" r="8"/><circle cx="266" cy="330.2" r="8"/><circle cx="247.2" cy="339.1" r="8"/><circle cx="257.9" cy="330.1" r="8"/><circle cx="255.5" cy="343.4" r="8"/><circle cx="240" cy="328.2" r="8"/><circle cx="240.2" cy="331.8" r="8"/><circle cx="274.6" cy="322.1" r="8"/><circle cx="242.5" cy="332.4" r="8"/><circle cx="243.7" cy="339.7" r="8"/><circle cx="261.1" cy="306.4" r="8"/><circle cx="262.7" cy="314" r="8"/><circle cx="271.6" cy="327.1" r="8"/><circle cx="270.6" cy="309.8" r="8"/><circle cx="262.2" cy="308.9" r="8"/><circle cx="233" cy="339.6" r="8"/><circle cx="245.6" cy="331.9" r="8"/><circle cx="241.1" cy="336.3" r="8"/><circle cx="237.3" cy="338.9" r="8"/><circle cx="279.4" cy="324.6" r="8"/><circle cx="230.4" cy="341" r="8"/><circle cx="248.4" cy="329.7" r="8"/><circle cx="271.7" cy="331.9" r="8"/><circle cx="259.3" cy="328" r="8"/><circle cx="265.2" cy="339.8" r="8"/><circle cx="243.9" cy="337.7" r="8"/><circle cx="260.6" cy="341.4" r="8"/><circle cx="247.5" cy="353.5" r="8"/><circle cx="221.7" cy="344.6" r="8"/><circle cx="252" cy="311.9" r="8"/><circle cx="262.5" cy="334" r="8"/><circle cx="278.1" cy="314.3" r="8"/><circle cx="248.8" cy="313.5" r="8"/><circle cx="232.1" cy="328.8" r="8"/><circle cx="263.6" cy="308.1" r="8"/><circle cx="230.5" cy="335.1" r="8"/><circle cx="274.2" cy="316.9" r="8"/><circle cx="239.2" cy="339.8" r="8"/><circle cx="256.6" cy="314.8" r="8"/><circle cx="251.6" cy="330.9" r="8"/><circle cx="280.6" cy="317.8" r="8"/><circle cx="238.9" cy="343.6" r="8"/><circle cx="225.9" cy="354.3" r="8"/><circle cx="251.5" cy="333.1" r="8"/><circle cx="241.7" cy="365.8" r="8"/><circle cx="243.5" cy="362.9" r="8"/><circle cx="232.5" cy="331.2" r="8"/><circle cx="243.1" cy="360" r="8"/><circle cx="216.2" cy="343.8" r="8"/><circle cx="226" cy="357" r="8"/><circle cx="253.5" cy="335.9" r="8"/><circle cx="246.3" cy="337.4" r="8"/><circle cx="265.5" cy="321.1" r="8"/><circle cx="239.2" cy="336.7" r="8"/><circle cx="242.7" cy="347.3" r="8"/><circle cx="217.4" cy="346.3" r="8"/><circle cx="263.5" cy="317.5" r="8"/><circle cx="279.9" cy="316.5" r="8"/><circle cx="241" cy="341" r="8"/><circle cx="240.7" cy="359.2" r="8"/><circle cx="254.7" cy="322.4" r="8"/><circle cx="254.2" cy="323.8" r="8"/><circle cx="240.5" cy="319.3" r="8"/><circle cx="232.7" cy="345" r="8"/><circle cx="271.7" cy="329.4" r="8"/><circle cx="250.5" cy="346" r="8"/><circle cx="224.8" cy="342.7" r="8"/><circle cx="221.7" cy="356" r="8"/><circle cx="227.6" cy="328.9" r="8"/><circle cx="227.6" cy="348.7" r="8"/><circle cx="248.9" cy="319.8" r="8"/><circle cx="261.4" cy="313.9" r="8"/><circle cx="236.9" cy="365.4" r="8"/><circle cx="233.5" cy="348.1" r="8"/><circle cx="249.9" cy="336.3" r="8"/><circle cx="277.9" cy="318.4" r="8"/><circle cx="251.9" cy="328.3" r="8"/><circle cx="240.5" cy="337.7" r="8"/><circle cx="234.7" cy="349.8" r="8"/><circle cx="234.5" cy="342.2" r="8"/><circle cx="255.2" cy="321" r="8"/><circle cx="253.3" cy="343" r="8"/><circle cx="233.9" cy="345.1" r="8"/><circle cx="272.8" cy="313.9" r="8"/><circle cx="250.5" cy="342.6" r="8"/><circle cx="225.6" cy="340.8" r="8"/><circle cx="253.8" cy="341.9" r="8"/><circle cx="242" cy="364.4" r="8"/><circle cx="249.8" cy="351.7" r="8"/><circle cx="278.6" cy="320.4" r="8"/><circle cx="240.4" cy="330.3" r="8"/><circle cx="236.7" cy="357.4" r="8"/><circle cx="239.6" cy="367.9" r="8"/><circle cx="232.1" cy="360.1" r="8"/><circle cx="218.9" cy="346.2" r="8"/><circle cx="243.9" cy="348.8" r="8"/><circle cx="269.3" cy="337.3" r="8"/><circle cx="264.1" cy="330.5" r="8"/><circle cx="270.7" cy="320.3" r="8"/><circle cx="250.1" cy="310.5" r="8"/><circle cx="233.3" cy="350.1" r="8"/><circle cx="257.3" cy="310.1" r="8"/><circle cx="268.3" cy="312.6" r="8"/><circle cx="260.3" cy="322.7" r="8"/><circle cx="250.1" cy="335.8" r="8"/><circle cx="275" cy="324.6" r="8"/><circle cx="238.2" cy="322.9" r="8"/><circle cx="258.5" cy="328" r="8"/><circle cx="264.1" cy="303.9" r="8"/><circle cx="237.7" cy="360.2" r="8"/><circle cx="261" cy="309.7" r="8"/><circle cx="216.7" cy="347.8" r="8"/><circle cx="261" cy="346.1" r="8"/><circle cx="267.2" cy="312.9" r="8"/><circle cx="263.7" cy="330.5" r="8"/><circle cx="260.8" cy="335.8" r="8"/><circle cx="262.6" cy="321.1" r="8"/><circle cx="253.3" cy="339.7" r="8"/><circle cx="262.3" cy="316.3" r="8"/><circle cx="261.6" cy="318.3" r="8"/><circle cx="236.2" cy="358.8" r="8"/><circle cx="225" cy="339.1" r="8"/><circle cx="226.8" cy="353.7" r="8"/><circle cx="245.4" cy="320.4" r="8"/><circle cx="233.9" cy="358.8" r="8"/><circle cx="274.8" cy="328.4" r="8"/><circle cx="244.5" cy="337" r="8"/><circle cx="227.8" cy="360.8" r="8"/><circle cx="221.3" cy="339.4" r="8"/><circle cx="265.2" cy="322.6" r="8"/><circle cx="227.5" cy="348.1" r="8"/><circle cx="261.6" cy="303.7" r="8"/><circle cx="260.1" cy="322.5" r="8"/><circle cx="265.4" cy="312" r="8"/><circle cx="272" cy="308.7" r="8"/><circle cx="236.6" cy="364.8" r="8"/><circle cx="244.3" cy="326.2" r="8"/><circle cx="225.9" cy="348.3" r="8"/><circle cx="262" cy="328.2" r="8"/><circle cx="279.7" cy="328" r="8"/><circle cx="260.2" cy="332.2" r="8"/><circle cx="230.2" cy="334.4" r="8"/><circle cx="235.1" cy="326.4" r="8"/><circle cx="223.7" cy="343.1" r="8"/><circle cx="253.4" cy="329.1" r="8"/><circle cx="262.4" cy="318.4" r="8"/><circle cx="240.5" cy="358.2" r="8"/><circle cx="222.1" cy="338.1" r="8"/><circle cx="254.2" cy="350.1" r="8"/><circle cx="250.6" cy="330.3" r="8"/><circle cx="239.4" cy="323.5" r="8"/><circle cx="246.4" cy="338.9" r="8"/><circle cx="266.1" cy="339.7" r="8"/><circle cx="263.1" cy="300.9" r="8"/><circle cx="275.9" cy="328.8" r="8"/><circle cx="228.3" cy="357.7" r="8"/><circle cx="241.8" cy="340.4" r="8"/><circle cx="279.1" cy="326.3" r="8"/><circle cx="235.7" cy="360.3" r="8"/><circle cx="260.9" cy="313.8" r="8"/><circle cx="257.4" cy="319" r="8"/><circle cx="237.4" cy="346.2" r="8"/><circle cx="277.1" cy="321.7" r="8"/><circle cx="232.8" cy="345.7" r="8"/><circle cx="237.8" cy="324.2" r="8"/><circle cx="276.6" cy="312.6" r="8"/><circle cx="267.6" cy="314.2" r="8"/><circle cx="248.1" cy="339.9" r="8"/><circle cx="226.7" cy="341.6" r="8"/><circle cx="231.6" cy="334.7" r="8"/><circle cx="249.9" cy="326.5" r="8"/><circle cx="265.4" cy="326.1" r="8"/><circle cx="274.9" cy="325.7" r="8"/><circle cx="260.9" cy="329.6" r="8"/><circle cx="260.9" cy="318.4" r="8"/><circle cx="266.9" cy="310.2" r="8"/><circle cx="243.7" cy="334.5" r="8"/><circle cx="265.1" cy="306" r="8"/><circle cx="236.9" cy="359.5" r="8"/><circle cx="235.7" cy="346.3" r="8"/><circle cx="241.7" cy="332.2" r="8"/><circle cx="230.5" cy="360.8" r="8"/><circle cx="230.3" cy="343.2" r="8"/><circle cx="220.1" cy="354" r="8"/><circle cx="266.7" cy="318" r="8"/><circle cx="277.2" cy="328.9" r="8"/><circle cx="272" cy="330.3" r="8"/><circle cx="251.8" cy="322.1" r="8"/><circle cx="248.5" cy="333.6" r="8"/><circle cx="269.3" cy="314.4" r="8"/><circle cx="265.1" cy="318.8" r="8"/><circle cx="224.3" cy="336.3" r="8"/><circle cx="254.1" cy="315.3" r="8"/><circle cx="247.7" cy="360.4" r="8"/><circle cx="258" cy="323.2" r="8"/><circle cx="251.9" cy="320.1" r="8"/><circle cx="270.3" cy="318.6" r="8"/><circle cx="257.8" cy="328.4" r="8"/><circle cx="249.5" cy="315.1" r="8"/><circle cx="256.5" cy="325" r="8"/><circle cx="251" cy="317.3" r="8"/><circle cx="237.2" cy="333.9" r="8"/><circle cx="255.5" cy="310.1" r="8"/><circle cx="229.7" cy="330.4" r="8"/><circle cx="258.1" cy="317.8" r="8"/><circle cx="259.9" cy="306.9" r="8"/><circle cx="261.8" cy="315.2" r="8"/><circle cx="242.3" cy="344" r="8"/><circle cx="226" cy="357.6" r="8"/><circle cx="238.8" cy="340.5" r="8"/><circle cx="263.6" cy="330.1" r="8"/><circle cx="256.7" cy="328.3" r="8"/><circle cx="263.3" cy="318.1" r="8"/><circle cx="251.1" cy="331" r="8"/><circle cx="224.8" cy="355.5" r="8"/><circle cx="247.6" cy="326.8" r="8"/><circle cx="221.6" cy="355.2" r="8"/><circle cx="265.6" cy="330" r="8"/><circle cx="234.1" cy="347.9" r="8"/><circle cx="269" cy="307.3" r="8"/><circle cx="232.5" cy="357" r="8"/><circle cx="238.5" cy="354.5" r="8"/><circle cx="220.3" cy="349" r="8"/><circle cx="254.5" cy="330.4" r="8"/><circle cx="273.7" cy="322.8" r="8"/><circle cx="234.9" cy="344.5" r="8"/><circle cx="238.9" cy="354" r="8"/><circle cx="261.3" cy="332.1" r="8"/><circle cx="270.4" cy="310.4" r="8"/><circle cx="232.3" cy="333.5" r="8"/><circle cx="270" cy="317.3" r="8"/><circle cx="257.5" cy="329" r="8"/><circle cx="270.8" cy="324.2" r="8"/><circle cx="246" cy="346.7" r="8"/><circle cx="247.6" cy="330.4" r="8"/><circle cx="233.5" cy="353.6" r="8"/><circle cx="251.2" cy="317.5" r="8"/><circle cx="259.1" cy="314.9" r="8"/><circle cx="267.4" cy="335.6" r="8"/><circle cx="261.9" cy="335.5" r="8"/><circle cx="257.7" cy="320.8" r="8"/><circle cx="227.2" cy="333.6" r="8"/><circle cx="247.3" cy="323.5" r="8"/><circle cx="263.6" cy="323.3" r="8"/><circle cx="267.4" cy="309.5" r="8"/><circle cx="249.8" cy="343.9" r="8"/><circle cx="237.9" cy="338.5" r="8"/><circle cx="211.1" cy="344.6" r="8"/><circle cx="278.6" cy="323.7" r="8"/><circle cx="266.3" cy="313.5" r="8"/><circle cx="266.5" cy="323.1" r="8"/><circle cx="247.1" cy="329.7" r="8"/><circle cx="248.5" cy="311.6" r="8"/><circle cx="267.7" cy="310" r="8"/><circle cx="274.5" cy="317.2" r="8"/><circle cx="248.6" cy="342.7" r="8"/><circle cx="247.3" cy="331.1" r="8"/><circle cx="231.5" cy="356.9" r="8"/><circle cx="260.7" cy="324.8" r="8"/><circle cx="280.1" cy="316.4" r="8"/><circle cx="258.4" cy="331.9" r="8"/><circle cx="263.2" cy="317.2" r="8"/><circle cx="266.2" cy="315.5" r="8"/><circle cx="261" cy="320.7" r="8"/><circle cx="245.3" cy="340.2" r="8"/><circle cx="261.5" cy="312.4" r="8"/><circle cx="269.4" cy="313.7" r="8"/><circle cx="249.1" cy="345.4" r="8"/><circle cx="246.1" cy="337.7" r="8"/><circle cx="218.1" cy="350.9" r="8"/><circle cx="237.7" cy="321.3" r="8"/><circle cx="259" cy="310" r="8"/><circle cx="264.3" cy="301.2" r="8"/><circle cx="271.2" cy="310" r="8"/><circle cx="251.1" cy="317.7" r="8"/><circle cx="237.4" cy="346.8" r="8"/><circle cx="240.8" cy="338.5" r="8"/><circle cx="266.3" cy="309.1" r="8"/><circle cx="221.5" cy="348.2" r="8"/><circle cx="277.1" cy="313.2" r="8"/><circle cx="275.8" cy="317.4" r="8"/><circle cx="224.5" cy="334.6" r="8"/><circle cx="239" cy="330.7" r="8"/><circle cx="241.6" cy="334.1" r="8"/><circle cx="256" cy="337.1" r="8"/><circle cx="227.8" cy="355.5" r="8"/><circle cx="262" cy="331.8" r="8"/><circle cx="232.9" cy="349.4" r="8"/><circle cx="273.4" cy="312.4" r="8"/><circle cx="246.9" cy="315.2" r="8"/><circle cx="242.1" cy="332.4" r="8"/><circle cx="251.7" cy="342.4" r="8"/><circle cx="270.6" cy="315" r="8"/><circle cx="248.3" cy="353.8" r="8"/><circle cx="264.8" cy="338" r="8"/><circle cx="261.9" cy="327.8" r="8"/><circle cx="230.8" cy="334.4" r="8"/><circle cx="229.7" cy="352.1" r="8"/><circle cx="231.2" cy="349.5" r="8"/><circle cx="237" cy="326.3" r="8"/><circle cx="269.8" cy="318.5" r="8"/><circle cx="228.5" cy="357.2" r="8"/><circle cx="261.7" cy="315.3" r="8"/><circle cx="272" cy="313.8" r="8"/><circle cx="233.1" cy="356.9" r="8"/><circle cx="224.6" cy="355.6" r="8"/><circle cx="250.1" cy="317.3" r="8"/><circle cx="275" cy="320.5" r="8"/><circle cx="261.7" cy="319.1" r="8"/><circle cx="236.9" cy="338.1" r="8"/><circle cx="240.6" cy="330" r="8"/><circle cx="252" cy="351.6" r="8"/><circle cx="235.8" cy="329.3" r="8"/><circle cx="273.4" cy="323.4" r="8"/><circle cx="258.2" cy="310.6" r="8"/><circle cx="244.6" cy="356.3" r="8"/><circle cx="244.2" cy="351.9" r="8"/><circle cx="254" cy="330.6" r="8"/><circle cx="248.8" cy="323.5" r="8"/><circle cx="239.9" cy="342.8" r="8"/><circle cx="232.7" cy="344.8" r="8"/><circle cx="223.4" cy="358.1" r="8"/><circle cx="240.2" cy="330.8" r="8"/><circle cx="251.6" cy="322.5" r="8"/><circle cx="246.7" cy="335.1" r="8"/><circle cx="274.7" cy="327.2" r="8"/><circle cx="267.8" cy="323.1" r="8"/><circle cx="269" cy="315.9" r="8"/><circle cx="237.2" cy="323.9" r="8"/><circle cx="266" cy="314.8" r="8"/><circle cx="224.4" cy="347" r="8"/><circle cx="253.6" cy="333.1" r="8"/><circle cx="254.8" cy="317.5" r="8"/><circle cx="231.4" cy="350.6" r="8"/><circle cx="223.8" cy="345.4" r="8"/><circle cx="264.3" cy="328.1" r="8"/><circle cx="243.2" cy="349.9" r="8"/><circle cx="235.6" cy="358.5" r="8"/><circle cx="263.1" cy="311.1" r="8"/><circle cx="259.2" cy="313.7" r="8"/><circle cx="241.1" cy="327.2" r="8"/><circle cx="266.9" cy="336.7" r="8"/><circle cx="242.3" cy="341.8" r="8"/><circle cx="246.2" cy="351.7" r="8"/><circle cx="274.9" cy="328.7" r="8"/><circle cx="261.6" cy="328.5" r="8"/><circle cx="226.3" cy="354.8" r="8"/><circle cx="215.6" cy="350.6" r="8"/><circle cx="267.3" cy="316" r="8"/><circle cx="231.2" cy="355.3" r="8"/><circle cx="241.4" cy="316.7" r="8"/><circle cx="234.7" cy="340.1" r="8"/><circle cx="223.8" cy="346.7" r="8"/><circle cx="265.6" cy="312.7" r="8"/><circle cx="234.7" cy="335.6" r="8"/><circle cx="217.5" cy="341.3" r="8"/><circle cx="241.9" cy="360.3" r="8"/><circle cx="262.4" cy="327.6" r="8"/><circle cx="250.1" cy="337.7" r="8"/><circle cx="259.9" cy="315.7" r="8"/><circle cx="276.6" cy="320.5" r="8"/><circle cx="232.8" cy="330.2" r="8"/><circle cx="237" cy="322.4" r="8"/><circle cx="232" cy="361.4" r="8"/><circle cx="240.5" cy="344" r="8"/><circle cx="263.8" cy="308.9" r="8"/><circle cx="245.5" cy="324.7" r="8"/><circle cx="254.5" cy="319.1" r="8"/><circle cx="251" cy="343.5" r="8"/><circle cx="273" cy="319.5" r="8"/><circle cx="227.8" cy="356.7" r="8"/><circle cx="227.2" cy="354.5" r="8"/><circle cx="218.8" cy="347.8" r="8"/><circle cx="250" cy="325.5" r="8"/><circle cx="243.5" cy="327" r="8"/><circle cx="247.8" cy="323" r="8"/><circle cx="260.5" cy="329.6" r="8"/><circle cx="246.5" cy="326.3" r="8"/><circle cx="261" cy="313" r="8"/><circle cx="227.6" cy="358.3" r="8"/><circle cx="233.7" cy="347.6" r="8"/><circle cx="263" cy="318.3" r="8"/><circle cx="265.2" cy="329.2" r="8"/><circle cx="269.4" cy="325.9" r="8"/><circle cx="227.3" cy="362.3" r="8"/><circle cx="222.6" cy="350.8" r="8"/><circle cx="243.7" cy="345.8" r="8"/><circle cx="252.6" cy="317.6" r="8"/><circle cx="255.7" cy="304.5" r="8"/><circle cx="259.5" cy="317.9" r="8"/><circle cx="263.2" cy="317.4" r="8"/><circle cx="260" cy="330.7" r="8"/><circle cx="245.8" cy="333.2" r="8"/><circle cx="222.9" cy="345.2" r="8"/><circle cx="220.9" cy="350.5" r="8"/><circle cx="239.8" cy="352.8" r="8"/><circle cx="282.2" cy="316.9" r="8"/><circle cx="236.1" cy="331" r="8"/><circle cx="273.9" cy="313.8" r="8"/><circle cx="255.6" cy="305.2" r="8"/><circle cx="252.5" cy="328" r="8"/><circle cx="266.7" cy="317.7" r="8"/><circle cx="263.5" cy="330.7" r="8"/><circle cx="279.9" cy="328.1" r="8"/><circle cx="226.8" cy="338.2" r="8"/><circle cx="227.2" cy="358.9" r="8"/><circle cx="258.4" cy="347.5" r="8"/><circle cx="261.7" cy="311" r="8"/><circle cx="232.3" cy="334.6" r="8"/><circle cx="228.4" cy="361.5" r="8"/><circle cx="224.8" cy="340.9" r="8"/><circle cx="250.3" cy="319.4" r="8"/><circle cx="255.3" cy="325.4" r="8"/><circle cx="269.1" cy="318.5" r="8"/><circle cx="264.2" cy="309.1" r="8"/><circle cx="226.7" cy="349.5" r="8"/><circle cx="239" cy="325.8" r="8"/><circle cx="254.6" cy="319" r="8"/><circle cx="274.8" cy="314.3" r="8"/><circle cx="231.3" cy="341.9" r="8"/><circle cx="266.6" cy="314.2" r="8"/><circle cx="240.6" cy="339.9" r="8"/><circle cx="278.6" cy="314.1" r="8"/><circle cx="235.2" cy="330.6" r="8"/><circle cx="254.1" cy="323" r="8"/><circle cx="249" cy="343.6" r="8"/><circle cx="235.8" cy="359.5" r="8"/><circle cx="265.4" cy="335.8" r="8"/><circle cx="227.7" cy="347.7" r="8"/><circle cx="254.2" cy="332.2" r="8"/><circle cx="267.4" cy="324.3" r="8"/><circle cx="247.4" cy="330.5" r="8"/><circle cx="242.3" cy="351.3" r="8"/><circle cx="236.2" cy="346.8" r="8"/><circle cx="258.4" cy="306.9" r="8"/><circle cx="264.6" cy="309.4" r="8"/><circle cx="252.5" cy="324.7" r="8"/><circle cx="257" cy="336.7" r="8"/><circle cx="227.8" cy="341.7" r="8"/><circle cx="251.8" cy="332.9" r="8"/><circle cx="247.2" cy="336.8" r="8"/><circle cx="252.9" cy="319.2" r="8"/><circle cx="224" cy="352.4" r="8"/><circle cx="219.3" cy="340.7" r="8"/><circle cx="264.6" cy="309.8" r="8"/><circle cx="251.3" cy="320.1" r="8"/><circle cx="259.9" cy="339.3" r="8"/><circle cx="266.7" cy="327.8" r="8"/><circle cx="237.1" cy="352.3" r="8"/><circle cx="265.8" cy="321.3" r="8"/><circle cx="227.5" cy="358.8" r="8"/><circle cx="255.3" cy="327.5" r="8"/><circle cx="274.3" cy="324.4" r="8"/><circle cx="262.1" cy="310.3" r="8"/><circle cx="223.5" cy="355.7" r="8"/><circle cx="244.9" cy="340" r="8"/><circle cx="263.2" cy="329.4" r="8"/><circle cx="241" cy="348.6" r="8"/><circle cx="227.7" cy="335.6" r="8"/><circle cx="251.3" cy="319.2" r="8"/><circle cx="254.6" cy="333.6" r="8"/><circle cx="245.6" cy="345.2" r="8"/><circle cx="259.4" cy="337.7" r="8"/><circle cx="226.6" cy="355.2" r="8"/><circle cx="223.7" cy="354.4" r="8"/><circle cx="265.3" cy="304.4" r="8"/><circle cx="272.9" cy="334" r="8"/><circle cx="273.6" cy="309.6" r="8"/><circle cx="254.9" cy="308.9" r="8"/><circle cx="246.1" cy="339.8" r="8"/><circle cx="226.9" cy="349.5" r="8"/><circle cx="274.8" cy="315" r="8"/><circle cx="239.2" cy="343.7" r="8"/><circle cx="265.9" cy="307.6" r="8"/><circle cx="269.5" cy="309.2" r="8"/><circle cx="256.2" cy="328.7" r="8"/><circle cx="262.6" cy="332.9" r="8"/><circle cx="244.3" cy="329.1" r="8"/><circle cx="271.7" cy="327.5" r="8"/><circle cx="251.6" cy="319.7" r="8"/><circle cx="255.8" cy="328.1" r="8"/><circle cx="229.1" cy="335" r="8"/><circle cx="228.7" cy="345.6" r="8"/><circle cx="229" cy="350.9" r="8"/><circle cx="217" cy="347" r="8"/><circle cx="263.1" cy="304.9" r="8"/><circle cx="261.1" cy="345" r="8"/><circle cx="270.8" cy="324.6" r="8"/><circle cx="223.4" cy="348.2" r="8"/><circle cx="263.6" cy="324.7" r="8"/><circle cx="243.4" cy="363.5" r="8"/><circle cx="230.8" cy="347.6" r="8"/><circle cx="234.2" cy="341.9" r="8"/><circle cx="228.6" cy="330.9" r="8"/><circle cx="264.6" cy="335.6" r="8"/><circle cx="254.2" cy="346.1" r="8"/><circle cx="240.6" cy="340.7" r="8"/><circle cx="265.8" cy="318.9" r="8"/><circle cx="254.8" cy="322.7" r="8"/><circle cx="241.8" cy="317.6" r="8"/><circle cx="276.7" cy="314.6" r="8"/><circle cx="259.5" cy="339.7" r="8"/><circle cx="240.7" cy="351.5" r="8"/><circle cx="265.9" cy="337.8" r="8"/><circle cx="257.2" cy="340.4" r="8"/><circle cx="278.7" cy="314.8" r="8"/><circle cx="244.2" cy="331.7" r="8"/><circle cx="244.8" cy="337.3" r="8"/><circle cx="269.2" cy="318" r="8"/><circle cx="252.4" cy="331" r="8"/><circle cx="276.9" cy="312.2" r="8"/><circle cx="239.2" cy="359.4" r="8"/><circle cx="230.4" cy="350.9" r="8"/><circle cx="267.1" cy="311.8" r="8"/><circle cx="230.9" cy="339.8" r="8"/><circle cx="265.1" cy="317.6" r="8"/><circle cx="271.3" cy="332.5" r="8"/><circle cx="218.9" cy="343.1" r="8"/><circle cx="228.9" cy="333.9" r="8"/><circle cx="240.5" cy="335.4" r="8"/><circle cx="230.4" cy="356.6" r="8"/><circle cx="255.5" cy="315.6" r="8"/><circle cx="259.8" cy="309.3" r="8"/><circle cx="247" cy="334.2" r="8"/><circle cx="239.8" cy="333.5" r="8"/><circle cx="268" cy="325.3" r="8"/><circle cx="244.8" cy="346.3" r="8"/><circle cx="242.6" cy="345" r="8"/><circle cx="248.5" cy="329.1" r="8"/><circle cx="245.8" cy="351.1" r="8"/><circle cx="258.1" cy="317.4" r="8"/><circle cx="263.8" cy="317.3" r="8"/><circle cx="278.3" cy="318" r="8"/><circle cx="258.5" cy="306.3" r="8"/><circle cx="252.5" cy="333.6" r="8"/><circle cx="270.4" cy="315.7" r="8"/><circle cx="261.3" cy="320.8" r="8"/><circle cx="248.5" cy="324.5" r="8"/><circle cx="244.7" cy="315.3" r="8"/><circle cx="235.7" cy="342.1" r="8"/><circle cx="274.7" cy="322.6" r="8"/><circle cx="272.8" cy="320.1" r="8"/><circle cx="266.1" cy="331.7" r="8"/><circle cx="225.5" cy="338.7" r="8"/><circle cx="263" cy="308.7" r="8"/><circle cx="242.5" cy="316.3" r="8"/><circle cx="253.3" cy="331.6" r="8"/><circle cx="224.3" cy="357" r="8"/><circle cx="266.4" cy="324.2" r="8"/><circle cx="279.8" cy="327" r="8"/><circle cx="265.3" cy="310.1" r="8"/><circle cx="229.8" cy="328.2" r="8"/><circle cx="235.4" cy="329.2" r="8"/><circle cx="254.8" cy="334.9" r="8"/><circle cx="247.2" cy="347.6" r="8"/><circle cx="263.2" cy="333.5" r="8"/><circle cx="220.2" cy="350" r="8"/><circle cx="250.9" cy="320.1" r="8"/><circle cx="241.4" cy="348.1" r="8"/><circle cx="224.1" cy="350.6" r="8"/><circle cx="250.1" cy="310.9" r="8"/><circle cx="270.2" cy="326.1" r="8"/><circle cx="228.1" cy="359.1" r="8"/><circle cx="263.6" cy="316.8" r="8"/><circle cx="228.3" cy="338.4" r="8"/><circle cx="252.7" cy="314.5" r="8"/><circle cx="265.8" cy="323.6" r="8"/><circle cx="268.9" cy="306.6" r="8"/><circle cx="266" cy="325.9" r="8"/><circle cx="276.4" cy="320.6" r="8"/><circle cx="230" cy="346.3" r="8"/><circle cx="266.8" cy="310.3" r="8"/><circle cx="240.9" cy="351.4" r="8"/><circle cx="263" cy="328.6" r="8"/><circle cx="239.4" cy="350.9" r="8"/><circle cx="248.7" cy="334.7" r="8"/><circle cx="222.2" cy="346.5" r="8"/><circle cx="263.6" cy="321.2" r="8"/><circle cx="261.2" cy="316.1" r="8"/><circle cx="231.5" cy="354.6" r="8"/><circle cx="228.7" cy="350.8" r="8"/><circle cx="251.5" cy="332.8" r="8"/><circle cx="212.9" cy="349.1" r="8"/><circle cx="250.1" cy="332.1" r="8"/><circle cx="266.8" cy="323" r="8"/><circle cx="253.7" cy="334.6" r="8"/><circle cx="243.5" cy="350.9" r="8"/><circle cx="264.1" cy="336" r="8"/><circle cx="270.4" cy="321.6" r="8"/><circle cx="265.9" cy="323.3" r="8"/><circle cx="224" cy="358.4" r="8"/><circle cx="266.2" cy="329.7" r="8"/><circle cx="274.1" cy="317.6" r="8"/><circle cx="221.8" cy="340" r="8"/><circle cx="234.4" cy="349.3" r="8"/><circle cx="240.7" cy="337.9" r="8"/><circle cx="234.3" cy="353.4" r="8"/><circle cx="268.6" cy="320.3" r="8"/><circle cx="260.3" cy="304.4" r="8"/><circle cx="270.8" cy="315.1" r="8"/><circle cx="240.3" cy="342.4" r="8"/><circle cx="224.2" cy="331.3" r="8"/><circle cx="230.7" cy="365.1" r="8"/><circle cx="273.5" cy="327.9" r="8"/><circle cx="248.7" cy="329.6" r="8"/><circle cx="233.2" cy="342.9" r="8"/><circle cx="269.3" cy="313.7" r="8"/><circle cx="242.5" cy="325.1" r="8"/><circle cx="256.1" cy="335.5" r="8"/><circle cx="235.2" cy="368.7" r="8"/><circle cx="225.5" cy="345.3" r="8"/><circle cx="257.9" cy="327.7" r="8"/><circle cx="235.7" cy="346.8" r="8"/><circle cx="248.8" cy="352.3" r="8"/><circle cx="250.2" cy="340" r="8"/><circle cx="237.8" cy="347.3" r="8"/><circle cx="232.8" cy="330.4" r="8"/><circle cx="268.1" cy="337.4" r="8"/><circle cx="264.3" cy="314.8" r="8"/><circle cx="237.5" cy="336.5" r="8"/><circle cx="260.7" cy="320.4" r="8"/><circle cx="232.8" cy="341.7" r="8"/><circle cx="245.5" cy="337.3" r="8"/><circle cx="259.1" cy="319.9" r="8"/><circle cx="245" cy="346.2" r="8"/><circle cx="279.4" cy="335.4" r="8"/><circle cx="207.9" cy="338.8" r="8"/><circle cx="209.9" cy="346.2" r="8"/><circle cx="252.9" cy="306.4" r="8"/><circle cx="253.7" cy="360.1" r="8"/><circle cx="277.8" cy="334" r="8"/><circle cx="277.8" cy="329.2" r="8"/><circle cx="263.4" cy="346.9" r="8"/><circle cx="249.6" cy="364.5" r="8"/><circle cx="253.1" cy="353.1" r="8"/><circle cx="246.3" cy="361" r="8"/><circle cx="256" cy="296.5" r="8"/><circle cx="264.4" cy="343.3" r="8"/><circle cx="245.1" cy="363.5" r="8"/><circle cx="258.3" cy="297.5" r="8"/><circle cx="256.9" cy="295.4" r="8"/><circle cx="258.4" cy="299.2" r="8"/><circle cx="249.3" cy="301.4" r="8"/><circle cx="243.2" cy="313.5" r="8"/><circle cx="267.9" cy="344" r="8"/><circle cx="244.2" cy="307.1" r="8"/><circle cx="249.3" cy="362.2" r="8"/><circle cx="268.5" cy="345.3" r="8"/><circle cx="260.4" cy="354.1" r="8"/><circle cx="257.4" cy="300.7" r="8"/><circle cx="248.2" cy="362.9" r="8"/><circle cx="239.7" cy="369.2" r="8"/><circle cx="226.8" cy="329.4" r="8"/><circle cx="289.9" cy="293.2" r="8"/><circle cx="300.1" cy="281.4" r="8"/><circle cx="325.4" cy="265.6" r="8"/><circle cx="320.6" cy="273.7" r="8"/><circle cx="284.4" cy="286.5" r="8"/><circle cx="291.2" cy="297.1" r="8"/><circle cx="309.7" cy="294.6" r="8"/><circle cx="324.2" cy="264.9" r="8"/><circle cx="279.7" cy="312.6" r="8"/><circle cx="311.3" cy="283.9" r="8"/><circle cx="276.9" cy="303" r="8"/><circle cx="288" cy="297.3" r="8"/><circle cx="333.3" cy="274.1" r="8"/><circle cx="316" cy="276.8" r="8"/><circle cx="313" cy="270.3" r="8"/><circle cx="300" cy="294.8" r="8"/><circle cx="299.4" cy="290.2" r="8"/><circle cx="288.6" cy="308.9" r="8"/><circle cx="318.8" cy="285.2" r="8"/><circle cx="288.6" cy="305.7" r="8"/><circle cx="288.8" cy="303.6" r="8"/><circle cx="329.1" cy="269.4" r="8"/><circle cx="298.9" cy="280" r="8"/><circle cx="307.5" cy="286.1" r="8"/><circle cx="289" cy="309.9" r="8"/><circle cx="314.9" cy="276" r="8"/><circle cx="295.6" cy="276.5" r="8"/><circle cx="303.9" cy="268.9" r="8"/><circle cx="307.5" cy="282.5" r="8"/><circle cx="313.5" cy="269.7" r="8"/><circle cx="282.8" cy="289.3" r="8"/><circle cx="297.1" cy="299.1" r="8"/><circle cx="321.4" cy="274" r="8"/><circle cx="276.7" cy="292.6" r="8"/><circle cx="288.1" cy="306.2" r="8"/><circle cx="273.5" cy="303.7" r="8"/><circle cx="316.7" cy="289.4" r="8"/><circle cx="291.2" cy="278.7" r="8"/><circle cx="304.3" cy="296.6" r="8"/><circle cx="312.8" cy="273.9" r="8"/><circle cx="318.2" cy="287.8" r="8"/><circle cx="315.6" cy="267.2" r="8"/><circle cx="306" cy="274.9" r="8"/><circle cx="303.9" cy="268" r="8"/><circle cx="299.2" cy="268.9" r="8"/><circle cx="323.9" cy="278.3" r="8"/><circle cx="284.6" cy="287.1" r="8"/><circle cx="310.2" cy="261.6" r="8"/><circle cx="314" cy="283.5" r="8"/><circle cx="292.4" cy="304.9" r="8"/><circle cx="306.6" cy="270.5" r="8"/><circle cx="305" cy="282.5" r="8"/><circle cx="287.1" cy="300" r="8"/><circle cx="283.8" cy="301.4" r="8"/><circle cx="311" cy="267.6" r="8"/><circle cx="309.5" cy="265.5" r="8"/><circle cx="298.7" cy="304.8" r="8"/><circle cx="278.9" cy="303.4" r="8"/><circle cx="292.4" cy="291.3" r="8"/><circle cx="327.1" cy="272.3" r="8"/><circle cx="312.4" cy="272.3" r="8"/><circle cx="308.9" cy="280.7" r="8"/><circle cx="310.1" cy="267.7" r="8"/><circle cx="295.8" cy="281.1" r="8"/><circle cx="287.9" cy="279.8" r="8"/><circle cx="322.4" cy="263" r="8"/><circle cx="281.5" cy="307.9" r="8"/><circle cx="279.8" cy="309.1" r="8"/><circle cx="298.7" cy="311" r="8"/><circle cx="316" cy="278.5" r="8"/><circle cx="308.8" cy="270.7" r="8"/><circle cx="268.4" cy="304.2" r="8"/><circle cx="293.4" cy="301.4" r="8"/><circle cx="285.5" cy="278.7" r="8"/><circle cx="275.1" cy="309.7" r="8"/><circle cx="296.3" cy="294.3" r="8"/><circle cx="325.3" cy="280.6" r="8"/><circle cx="325.7" cy="267.1" r="8"/><circle cx="273.5" cy="298.9" r="8"/><circle cx="298.4" cy="286.2" r="8"/><circle cx="313.7" cy="280.8" r="8"/><circle cx="295" cy="272.1" r="8"/><circle cx="303.8" cy="280.9" r="8"/><circle cx="298.9" cy="284.9" r="8"/><circle cx="326.8" cy="270.7" r="8"/><circle cx="291.6" cy="287.4" r="8"/><circle cx="301.1" cy="268.6" r="8"/><circle cx="297.1" cy="298.7" r="8"/><circle cx="301.2" cy="279.1" r="8"/><circle cx="300.9" cy="299.9" r="8"/><circle cx="303" cy="289.2" r="8"/><circle cx="296.1" cy="283.3" r="8"/><circle cx="268.5" cy="295.6" r="8"/><circle cx="298.6" cy="278.2" r="8"/><circle cx="326.5" cy="268.1" r="8"/><circle cx="306.8" cy="270.5" r="8"/><circle cx="280" cy="294.4" r="8"/><circle cx="331.9" cy="272.8" r="8"/><circle cx="305.1" cy="280.3" r="8"/><circle cx="311.8" cy="277.5" r="8"/><circle cx="315.1" cy="272.5" r="8"/><circle cx="309.9" cy="264.6" r="8"/><circle cx="286.5" cy="293.3" r="8"/><circle cx="290.8" cy="296.1" r="8"/><circle cx="314.1" cy="261.7" r="8"/><circle cx="274" cy="305.9" r="8"/><circle cx="307" cy="285.9" r="8"/><circle cx="302.8" cy="271.3" r="8"/><circle cx="292.1" cy="272.8" r="8"/><circle cx="307.8" cy="267.3" r="8"/><circle cx="314.7" cy="276.5" r="8"/><circle cx="316.1" cy="286.7" r="8"/><circle cx="303.6" cy="303.8" r="8"/><circle cx="267.5" cy="300.2" r="8"/><circle cx="304.7" cy="278.9" r="8"/><circle cx="276.4" cy="288.7" r="8"/><circle cx="322.9" cy="275.4" r="8"/><circle cx="294.4" cy="302.7" r="8"/><circle cx="291.9" cy="291.8" r="8"/><circle cx="286" cy="281.9" r="8"/><circle cx="330.3" cy="272" r="8"/><circle cx="301.1" cy="285.7" r="8"/><circle cx="307.6" cy="270.7" r="8"/><circle cx="318.4" cy="266.8" r="8"/><circle cx="300.2" cy="288.8" r="8"/><circle cx="276.4" cy="308.7" r="8"/><circle cx="293.9" cy="302.3" r="8"/><circle cx="314.1" cy="276" r="8"/><circle cx="275.1" cy="287.2" r="8"/><circle cx="279.7" cy="293.7" r="8"/><circle cx="318.1" cy="276.4" r="8"/><circle cx="305.7" cy="280.5" r="8"/><circle cx="316.7" cy="285" r="8"/><circle cx="311.6" cy="287.1" r="8"/><circle cx="322" cy="270.9" r="8"/><circle cx="291.8" cy="291.7" r="8"/><circle cx="281.2" cy="302.4" r="8"/><circle cx="318.2" cy="264.2" r="8"/><circle cx="287.5" cy="297.4" r="8"/><circle cx="303.6" cy="275.9" r="8"/><circle cx="285.7" cy="310.1" r="8"/><circle cx="294.2" cy="298.3" r="8"/><circle cx="274.3" cy="304.3" r="8"/><circle cx="274.7" cy="296.2" r="8"/><circle cx="315" cy="270.6" r="8"/><circle cx="274.8" cy="292.9" r="8"/><circle cx="307.7" cy="300.8" r="8"/><circle cx="287.2" cy="310.2" r="8"/><circle cx="298.3" cy="308.8" r="8"/><circle cx="284.9" cy="309.4" r="8"/><circle cx="302.5" cy="289" r="8"/><circle cx="327.4" cy="279" r="8"/><circle cx="295.2" cy="288.9" r="8"/><circle cx="286.2" cy="307.8" r="8"/><circle cx="310.8" cy="265.5" r="8"/><circle cx="322.4" cy="264.2" r="8"/><circle cx="297" cy="293.5" r="8"/><circle cx="314.3" cy="280.7" r="8"/><circle cx="300.2" cy="288.2" r="8"/><circle cx="287.2" cy="285.7" r="8"/><circle cx="293.9" cy="275.2" r="8"/><circle cx="303.1" cy="272.7" r="8"/><circle cx="309" cy="280.8" r="8"/><circle cx="315.5" cy="278.7" r="8"/><circle cx="310.3" cy="291.4" r="8"/><circle cx="306.9" cy="280.5" r="8"/><circle cx="310.3" cy="265.9" r="8"/><circle cx="304.2" cy="280.5" r="8"/><circle cx="302.6" cy="305.5" r="8"/><circle cx="318.2" cy="275.7" r="8"/><circle cx="273.8" cy="298.7" r="8"/><circle cx="282.2" cy="309.3" r="8"/><circle cx="317.5" cy="259.3" r="8"/><circle cx="310" cy="272.2" r="8"/><circle cx="274.2" cy="301" r="8"/><circle cx="295.3" cy="313.4" r="8"/><circle cx="316.4" cy="278.2" r="8"/><circle cx="295" cy="295.1" r="8"/><circle cx="317.1" cy="266.6" r="8"/><circle cx="306.5" cy="267.2" r="8"/><circle cx="313.9" cy="289.1" r="8"/><circle cx="317.5" cy="265.6" r="8"/><circle cx="316.5" cy="288.4" r="8"/><circle cx="294.6" cy="278.6" r="8"/><circle cx="313" cy="268" r="8"/><circle cx="302.9" cy="278.7" r="8"/><circle cx="290.6" cy="301.7" r="8"/><circle cx="322.7" cy="272.9" r="8"/><circle cx="329.6" cy="270" r="8"/><circle cx="285" cy="307.4" r="8"/><circle cx="275.4" cy="302.9" r="8"/><circle cx="281.7" cy="298" r="8"/><circle cx="321.7" cy="272.3" r="8"/><circle cx="304.8" cy="266.4" r="8"/><circle cx="294.3" cy="312" r="8"/><circle cx="311.2" cy="270.7" r="8"/><circle cx="304.4" cy="276.3" r="8"/><circle cx="285.5" cy="288.1" r="8"/><circle cx="309" cy="268.5" r="8"/><circle cx="306.1" cy="291.3" r="8"/><circle cx="298.6" cy="310.7" r="8"/><circle cx="317.6" cy="272.1" r="8"/><circle cx="295.5" cy="269.9" r="8"/><circle cx="312.2" cy="263.2" r="8"/><circle cx="275.7" cy="304.7" r="8"/><circle cx="308.7" cy="290.7" r="8"/><circle cx="304.6" cy="277.9" r="8"/><circle cx="303.7" cy="300.5" r="8"/><circle cx="304.8" cy="286.1" r="8"/><circle cx="300.5" cy="282.4" r="8"/><circle cx="296.9" cy="282.1" r="8"/><circle cx="281.1" cy="298.2" r="8"/><circle cx="304.2" cy="285.3" r="8"/><circle cx="295.5" cy="284.8" r="8"/><circle cx="286.6" cy="298.4" r="8"/><circle cx="272.2" cy="291.2" r="8"/><circle cx="270.5" cy="302.8" r="8"/><circle cx="302.4" cy="282.4" r="8"/><circle cx="290.3" cy="282.3" r="8"/><circle cx="267.7" cy="294.2" r="8"/><circle cx="280.2" cy="290.3" r="8"/><circle cx="300.5" cy="280.6" r="8"/><circle cx="323.5" cy="270.3" r="8"/><circle cx="308.6" cy="276.6" r="8"/><circle cx="296.1" cy="293.9" r="8"/><circle cx="316" cy="277.3" r="8"/><circle cx="305.2" cy="279.3" r="8"/><circle cx="305.1" cy="275.7" r="8"/><circle cx="331" cy="277.8" r="8"/><circle cx="288.9" cy="303.2" r="8"/><circle cx="300.3" cy="283.9" r="8"/><circle cx="302.6" cy="284.5" r="8"/><circle cx="319" cy="272.6" r="8"/><circle cx="296.2" cy="292.9" r="8"/><circle cx="292.3" cy="277.7" r="8"/><circle cx="279.2" cy="297.7" r="8"/><circle cx="309.5" cy="287.6" r="8"/><circle cx="319" cy="276.2" r="8"/><circle cx="318.6" cy="282" r="8"/><circle cx="284.1" cy="303" r="8"/><circle cx="307.4" cy="280.8" r="8"/><circle cx="283" cy="313.8" r="8"/><circle cx="296.4" cy="288.7" r="8"/><circle cx="302.7" cy="270.9" r="8"/><circle cx="316.3" cy="263.8" r="8"/><circle cx="305.2" cy="271.6" r="8"/><circle cx="295" cy="290.9" r="8"/><circle cx="323.1" cy="280.2" r="8"/><circle cx="299.4" cy="303" r="8"/><circle cx="306.1" cy="280.3" r="8"/><circle cx="312.7" cy="268.1" r="8"/><circle cx="282.5" cy="299.5" r="8"/><circle cx="295.4" cy="287.8" r="8"/><circle cx="283.2" cy="307.8" r="8"/><circle cx="309.1" cy="263.2" r="8"/><circle cx="280.6" cy="308.5" r="8"/><circle cx="313.4" cy="277.1" r="8"/><circle cx="315.2" cy="271.2" r="8"/><circle cx="272" cy="299.3" r="8"/><circle cx="278.5" cy="304.5" r="8"/><circle cx="313.6" cy="274.3" r="8"/><circle cx="282.4" cy="303" r="8"/><circle cx="310.9" cy="272.3" r="8"/><circle cx="305.4" cy="289.2" r="8"/><circle cx="316.9" cy="261.5" r="8"/><circle cx="315.9" cy="272.7" r="8"/><circle cx="298.4" cy="288.8" r="8"/><circle cx="276.9" cy="298.6" r="8"/><circle cx="311.1" cy="274.3" r="8"/><circle cx="283.8" cy="299.5" r="8"/><circle cx="277" cy="300.8" r="8"/><circle cx="308.6" cy="277.1" r="8"/><circle cx="269.8" cy="290.5" r="8"/><circle cx="315.7" cy="268.2" r="8"/><circle cx="319.7" cy="285.9" r="8"/><circle cx="315.2" cy="272" r="8"/><circle cx="325.7" cy="275.7" r="8"/><circle cx="276.3" cy="298.7" r="8"/><circle cx="323.2" cy="276.6" r="8"/><circle cx="287.6" cy="313.1" r="8"/><circle cx="285.2" cy="292.5" r="8"/><circle cx="280.6" cy="289.4" r="8"/><circle cx="295.2" cy="280.9" r="8"/><circle cx="318.2" cy="271.5" r="8"/><circle cx="299.2" cy="272.7" r="8"/><circle cx="316.4" cy="262.1" r="8"/><circle cx="316.2" cy="290.3" r="8"/><circle cx="309.2" cy="274.6" r="8"/><circle cx="281.6" cy="290.9" r="8"/><circle cx="279.4" cy="309.5" r="8"/><circle cx="300.6" cy="290.3" r="8"/><circle cx="321.5" cy="270.2" r="8"/><circle cx="274.3" cy="299" r="8"/><circle cx="301.9" cy="272.6" r="8"/><circle cx="284.9" cy="294.1" r="8"/><circle cx="324.3" cy="275.9" r="8"/><circle cx="300.5" cy="295.3" r="8"/><circle cx="317.9" cy="277.4" r="8"/><circle cx="307" cy="278.6" r="8"/><circle cx="305.4" cy="273" r="8"/><circle cx="310.5" cy="262.3" r="8"/><circle cx="303.3" cy="278.4" r="8"/><circle cx="288.2" cy="294.4" r="8"/><circle cx="314.4" cy="274.3" r="8"/><circle cx="323.6" cy="264" r="8"/><circle cx="300.2" cy="292.5" r="8"/><circle cx="325.9" cy="278.5" r="8"/><circle cx="305.5" cy="289.2" r="8"/><circle cx="305.6" cy="296.1" r="8"/><circle cx="287.5" cy="293.6" r="8"/><circle cx="301.1" cy="281.6" r="8"/><circle cx="311.6" cy="268.2" r="8"/><circle cx="273" cy="307.1" r="8"/><circle cx="284.6" cy="298.1" r="8"/><circle cx="323.3" cy="278.6" r="8"/><circle cx="302.7" cy="300.6" r="8"/><circle cx="314.3" cy="287.5" r="8"/><circle cx="312.5" cy="290.5" r="8"/><circle cx="269.4" cy="293" r="8"/><circle cx="334.4" cy="275.5" r="8"/><circle cx="284.3" cy="309.3" r="8"/><circle cx="311.3" cy="284.2" r="8"/><circle cx="318.3" cy="279" r="8"/><circle cx="287.5" cy="285.8" r="8"/><circle cx="294.1" cy="273.6" r="8"/><circle cx="298.1" cy="273.8" r="8"/><circle cx="308.5" cy="281.7" r="8"/><circle cx="295.1" cy="293.5" r="8"/><circle cx="302.5" cy="295.6" r="8"/><circle cx="273.9" cy="299" r="8"/><circle cx="278.4" cy="308.5" r="8"/><circle cx="284.8" cy="300" r="8"/><circle cx="289.8" cy="295.5" r="8"/><circle cx="273.4" cy="308.6" r="8"/><circle cx="288.7" cy="298.2" r="8"/><circle cx="262.7" cy="297.6" r="8"/><circle cx="289.7" cy="292.8" r="8"/><circle cx="301" cy="291" r="8"/><circle cx="324.8" cy="272.9" r="8"/><circle cx="288.7" cy="287.9" r="8"/><circle cx="287.7" cy="299.9" r="8"/><circle cx="284.8" cy="302" r="8"/><circle cx="294.5" cy="289.9" r="8"/><circle cx="295.1" cy="289.2" r="8"/><circle cx="322" cy="271.7" r="8"/><circle cx="276" cy="311.1" r="8"/><circle cx="285" cy="289.4" r="8"/><circle cx="315.2" cy="294.3" r="8"/><circle cx="306.7" cy="271.9" r="8"/><circle cx="332.8" cy="274" r="8"/><circle cx="280.5" cy="294.6" r="8"/><circle cx="326.4" cy="279.6" r="8"/><circle cx="301.8" cy="292.6" r="8"/><circle cx="280.1" cy="308.7" r="8"/><circle cx="294.7" cy="300.2" r="8"/><circle cx="291.4" cy="278.9" r="8"/><circle cx="304.5" cy="279" r="8"/><circle cx="265.8" cy="298.3" r="8"/><circle cx="322.9" cy="265.9" r="8"/><circle cx="273.8" cy="304.9" r="8"/><circle cx="310.8" cy="274" r="8"/><circle cx="321.1" cy="272" r="8"/><circle cx="294.8" cy="299.5" r="8"/><circle cx="294" cy="313.6" r="8"/><circle cx="287.9" cy="283.6" r="8"/><circle cx="289.9" cy="290.4" r="8"/><circle cx="311.2" cy="269.4" r="8"/><circle cx="286.6" cy="307.2" r="8"/><circle cx="327" cy="270.7" r="8"/><circle cx="318.6" cy="285.5" r="8"/><circle cx="286.9" cy="287.6" r="8"/><circle cx="282.1" cy="301" r="8"/><circle cx="313.6" cy="274.8" r="8"/><circle cx="302.6" cy="288.9" r="8"/><circle cx="315" cy="278.7" r="8"/><circle cx="319.8" cy="279.9" r="8"/><circle cx="272.2" cy="303" r="8"/><circle cx="317.9" cy="281.4" r="8"/><circle cx="316.6" cy="261.3" r="8"/><circle cx="303" cy="266.4" r="8"/><circle cx="317.3" cy="265.7" r="8"/><circle cx="299.9" cy="286.1" r="8"/><circle cx="328.2" cy="269.9" r="8"/><circle cx="295.4" cy="275.5" r="8"/><circle cx="287" cy="292.7" r="8"/><circle cx="281.2" cy="302.6" r="8"/><circle cx="311" cy="265" r="8"/><circle cx="290.6" cy="286.8" r="8"/><circle cx="326.7" cy="274.2" r="8"/><circle cx="310.9" cy="265.8" r="8"/><circle cx="303.7" cy="292.3" r="8"/><circle cx="298.9" cy="289.3" r="8"/><circle cx="295.3" cy="306.8" r="8"/><circle cx="317" cy="275.7" r="8"/><circle cx="323.4" cy="266.1" r="8"/><circle cx="296" cy="294.6" r="8"/><circle cx="322.8" cy="275.3" r="8"/><circle cx="317.1" cy="268.5" r="8"/><circle cx="286.6" cy="296.5" r="8"/><circle cx="314.6" cy="290" r="8"/><circle cx="275.5" cy="305.7" r="8"/><circle cx="310.6" cy="275.9" r="8"/><circle cx="326.9" cy="267.6" r="8"/><circle cx="318.7" cy="276.6" r="8"/><circle cx="297" cy="273.2" r="8"/><circle cx="306.6" cy="273.2" r="8"/><circle cx="290" cy="297.5" r="8"/><circle cx="276" cy="302.9" r="8"/><circle cx="309.2" cy="289.4" r="8"/><circle cx="298.7" cy="292.2" r="8"/><circle cx="270.9" cy="302.1" r="8"/><circle cx="289.4" cy="280.8" r="8"/><circle cx="280" cy="306.5" r="8"/><circle cx="293.1" cy="286.6" r="8"/><circle cx="310.5" cy="289.4" r="8"/><circle cx="290.1" cy="317.4" r="8"/><circle cx="316.3" cy="269.3" r="8"/><circle cx="298.5" cy="286.1" r="8"/><circle cx="298.8" cy="294.8" r="8"/><circle cx="291.6" cy="290.2" r="8"/><circle cx="286.7" cy="286.4" r="8"/><circle cx="315.2" cy="275.7" r="8"/><circle cx="292.3" cy="299.5" r="8"/><circle cx="316.6" cy="277.3" r="8"/><circle cx="321.3" cy="266.2" r="8"/><circle cx="325.5" cy="267.1" r="8"/><circle cx="295.9" cy="311.9" r="8"/><circle cx="311.7" cy="282.7" r="8"/><circle cx="304.7" cy="294.9" r="8"/><circle cx="306" cy="282.9" r="8"/><circle cx="288.4" cy="277.5" r="8"/><circle cx="299.8" cy="270" r="8"/><circle cx="311.6" cy="259.8" r="8"/><circle cx="275.6" cy="303.6" r="8"/><circle cx="284.6" cy="295.5" r="8"/><circle cx="296.5" cy="298.3" r="8"/><circle cx="306.6" cy="288.7" r="8"/><circle cx="318.4" cy="274.9" r="8"/><circle cx="296.5" cy="279.2" r="8"/><circle cx="328.6" cy="275.9" r="8"/><circle cx="324" cy="274.9" r="8"/><circle cx="294" cy="288.9" r="8"/><circle cx="274" cy="298.1" r="8"/><circle cx="287" cy="297.1" r="8"/><circle cx="281.6" cy="305.1" r="8"/><circle cx="311.6" cy="281.6" r="8"/><circle cx="292.7" cy="272.2" r="8"/><circle cx="294.4" cy="313.8" r="8"/><circle cx="319.6" cy="274.4" r="8"/><circle cx="306.1" cy="282.5" r="8"/><circle cx="280" cy="291.4" r="8"/><circle cx="310.1" cy="288.1" r="8"/><circle cx="312.4" cy="264.7" r="8"/><circle cx="318.7" cy="265.4" r="8"/><circle cx="293.6" cy="286.6" r="8"/><circle cx="305.1" cy="277.8" r="8"/><circle cx="295.2" cy="303.4" r="8"/><circle cx="286.8" cy="311.8" r="8"/><circle cx="298.2" cy="286.2" r="8"/><circle cx="270.3" cy="294.5" r="8"/><circle cx="306.6" cy="289.1" r="8"/><circle cx="296.8" cy="287.5" r="8"/><circle cx="282.4" cy="296.8" r="8"/><circle cx="279.4" cy="304.4" r="8"/><circle cx="302.4" cy="275.9" r="8"/><circle cx="314.7" cy="281.3" r="8"/><circle cx="267.6" cy="302.8" r="8"/><circle cx="301.8" cy="287.9" r="8"/><circle cx="281.8" cy="305.1" r="8"/><circle cx="287.4" cy="314.1" r="8"/><circle cx="298.4" cy="300" r="8"/><circle cx="312.5" cy="288.8" r="8"/><circle cx="293.7" cy="287.4" r="8"/><circle cx="300.4" cy="291" r="8"/><circle cx="313.3" cy="268.8" r="8"/><circle cx="306" cy="271.1" r="8"/><circle cx="299.4" cy="279.6" r="8"/><circle cx="298" cy="309.3" r="8"/><circle cx="297.1" cy="295.2" r="8"/><circle cx="285.8" cy="308.1" r="8"/><circle cx="301.7" cy="299.2" r="8"/><circle cx="295.2" cy="296.6" r="8"/><circle cx="315.1" cy="280.5" r="8"/><circle cx="287.2" cy="296" r="8"/><circle cx="311.3" cy="280.7" r="8"/><circle cx="282.2" cy="298.4" r="8"/><circle cx="307.4" cy="290.1" r="8"/><circle cx="291.8" cy="275.8" r="8"/><circle cx="270" cy="296.3" r="8"/><circle cx="297.1" cy="272.3" r="8"/><circle cx="322" cy="265.6" r="8"/><circle cx="287.8" cy="303.1" r="8"/><circle cx="286.4" cy="304" r="8"/><circle cx="275.3" cy="307.4" r="8"/><circle cx="289" cy="291" r="8"/><circle cx="310.1" cy="291.1" r="8"/><circle cx="302.4" cy="298.6" r="8"/><circle cx="333.4" cy="273.9" r="8"/><circle cx="323.3" cy="282.2" r="8"/><circle cx="309.9" cy="279.5" r="8"/><circle cx="321.1" cy="272.4" r="8"/><circle cx="305.6" cy="283.6" r="8"/><circle cx="292.1" cy="272.8" r="8"/><circle cx="296.2" cy="293.4" r="8"/><circle cx="291.7" cy="289.6" r="8"/><circle cx="297.3" cy="289.2" r="8"/><circle cx="304.9" cy="290.6" r="8"/><circle cx="274.6" cy="294.5" r="8"/><circle cx="304.4" cy="297.5" r="8"/><circle cx="284.4" cy="308.6" r="8"/><circle cx="263.6" cy="295.7" r="8"/><circle cx="277.1" cy="301.9" r="8"/><circle cx="317.4" cy="274.2" r="8"/><circle cx="305.9" cy="290" r="8"/><circle cx="318.5" cy="263.6" r="8"/><circle cx="323.2" cy="267" r="8"/><circle cx="300.5" cy="286.2" r="8"/><circle cx="266.4" cy="295.9" r="8"/><circle cx="309.5" cy="273.1" r="8"/><circle cx="299.5" cy="293.1" r="8"/><circle cx="292.7" cy="296.3" r="8"/><circle cx="292.7" cy="288.1" r="8"/><circle cx="302.6" cy="288.3" r="8"/><circle cx="320.5" cy="277.3" r="8"/><circle cx="292.5" cy="306.4" r="8"/><circle cx="319.7" cy="270.5" r="8"/><circle cx="273.8" cy="298.2" r="8"/><circle cx="276.5" cy="296.2" r="8"/><circle cx="287.3" cy="299.6" r="8"/><circle cx="301.8" cy="287.9" r="8"/><circle cx="313.2" cy="263.6" r="8"/><circle cx="300.6" cy="296.3" r="8"/><circle cx="322" cy="282.4" r="8"/><circle cx="270.5" cy="302" r="8"/><circle cx="280.5" cy="302.4" r="8"/><circle cx="291.6" cy="317.1" r="8"/><circle cx="274.7" cy="302.2" r="8"/><circle cx="308.3" cy="280.6" r="8"/><circle cx="284.7" cy="287.2" r="8"/><circle cx="320.3" cy="274.2" r="8"/><circle cx="286" cy="290" r="8"/><circle cx="281.5" cy="294.2" r="8"/><circle cx="295" cy="281.3" r="8"/><circle cx="287.9" cy="286.4" r="8"/><circle cx="288.4" cy="320.9" r="8"/><circle cx="278" cy="293.1" r="8"/><circle cx="296" cy="288.4" r="8"/><circle cx="326.9" cy="266.9" r="8"/><circle cx="284.5" cy="287.8" r="8"/><circle cx="311.7" cy="262.6" r="8"/><circle cx="281.9" cy="311.1" r="8"/><circle cx="289.3" cy="302.8" r="8"/><circle cx="301.1" cy="271.7" r="8"/><circle cx="282.1" cy="293.3" r="8"/><circle cx="291.1" cy="308" r="8"/><circle cx="277.4" cy="298.6" r="8"/><circle cx="275.2" cy="309.2" r="8"/><circle cx="304.6" cy="273.7" r="8"/><circle cx="283.1" cy="289.6" r="8"/><circle cx="312.6" cy="270.6" r="8"/><circle cx="301" cy="285.8" r="8"/><circle cx="278.9" cy="292.8" r="8"/><circle cx="327.5" cy="271.9" r="8"/><circle cx="319.6" cy="269.5" r="8"/><circle cx="292.9" cy="297.8" r="8"/><circle cx="278.9" cy="309.4" r="8"/><circle cx="280.6" cy="308.1" r="8"/><circle cx="322.2" cy="265" r="8"/><circle cx="277.7" cy="306.4" r="8"/><circle cx="284.1" cy="288.6" r="8"/><circle cx="312.5" cy="281.4" r="8"/><circle cx="299.6" cy="281.7" r="8"/><circle cx="320.9" cy="281.5" r="8"/><circle cx="283.2" cy="285.4" r="8"/><circle cx="274.6" cy="300.3" r="8"/><circle cx="280.8" cy="293.6" r="8"/><circle cx="289.7" cy="298.2" r="8"/><circle cx="305.5" cy="279.8" r="8"/><circle cx="273.3" cy="306.5" r="8"/><circle cx="282" cy="288.2" r="8"/><circle cx="297.3" cy="278.2" r="8"/><circle cx="324.3" cy="273.6" r="8"/><circle cx="298.8" cy="273.3" r="8"/><circle cx="288.2" cy="294.3" r="8"/><circle cx="292.6" cy="312.1" r="8"/><circle cx="310.9" cy="290.7" r="8"/><circle cx="296.6" cy="294.6" r="8"/><circle cx="292.8" cy="289.2" r="8"/><circle cx="285.2" cy="316.9" r="8"/><circle cx="285.5" cy="281.5" r="8"/><circle cx="300.9" cy="290.3" r="8"/><circle cx="287" cy="285.8" r="8"/><circle cx="302" cy="293.7" r="8"/><circle cx="308.9" cy="276" r="8"/><circle cx="296.1" cy="283.6" r="8"/><circle cx="274.5" cy="297.8" r="8"/><circle cx="285.7" cy="306.8" r="8"/><circle cx="280.6" cy="287.2" r="8"/><circle cx="275.2" cy="302.9" r="8"/><circle cx="306.6" cy="277.5" r="8"/><circle cx="327.2" cy="272.4" r="8"/><circle cx="315.5" cy="263.1" r="8"/><circle cx="329.7" cy="273.9" r="8"/><circle cx="301.4" cy="290.4" r="8"/><circle cx="281.9" cy="307.5" r="8"/><circle cx="322.3" cy="271.8" r="8"/><circle cx="291" cy="291.4" r="8"/><circle cx="299.7" cy="285.3" r="8"/><circle cx="323.1" cy="268.2" r="8"/><circle cx="287.2" cy="286.5" r="8"/><circle cx="321.7" cy="267.4" r="8"/><circle cx="290.2" cy="304.9" r="8"/><circle cx="303.2" cy="281" r="8"/><circle cx="290.5" cy="304.1" r="8"/><circle cx="312.1" cy="273.5" r="8"/><circle cx="295.9" cy="300.7" r="8"/><circle cx="304.7" cy="274.9" r="8"/><circle cx="292.5" cy="307.9" r="8"/><circle cx="266.1" cy="293.8" r="8"/><circle cx="303.1" cy="287.3" r="8"/><circle cx="316.5" cy="268" r="8"/><circle cx="295" cy="276.3" r="8"/><circle cx="291.1" cy="305.8" r="8"/><circle cx="311.2" cy="264.5" r="8"/><circle cx="278.4" cy="292.4" r="8"/><circle cx="290.5" cy="291.3" r="8"/><circle cx="324.4" cy="277.2" r="8"/><circle cx="298.2" cy="282.5" r="8"/><circle cx="321.2" cy="273.1" r="8"/><circle cx="300.9" cy="302.9" r="8"/><circle cx="292.1" cy="280.6" r="8"/><circle cx="302.2" cy="279.4" r="8"/><circle cx="284" cy="301.4" r="8"/><circle cx="327.9" cy="276.7" r="8"/><circle cx="303.4" cy="273.3" r="8"/><circle cx="268.2" cy="300.8" r="8"/><circle cx="289.3" cy="274.8" r="8"/><circle cx="275.4" cy="307" r="8"/><circle cx="278.5" cy="288.5" r="8"/><circle cx="309.9" cy="273.8" r="8"/><circle cx="316.8" cy="285.4" r="8"/><circle cx="295.9" cy="275.6" r="8"/><circle cx="303.3" cy="302.9" r="8"/><circle cx="290.5" cy="279.9" r="8"/><circle cx="291.3" cy="304.5" r="8"/><circle cx="323.8" cy="284" r="8"/><circle cx="285.1" cy="298.9" r="8"/><circle cx="279.9" cy="309.9" r="8"/><circle cx="269.1" cy="300.3" r="8"/><circle cx="316.1" cy="273.1" r="8"/><circle cx="294.5" cy="314.7" r="8"/><circle cx="311.6" cy="272.6" r="8"/><circle cx="299.9" cy="290.2" r="8"/><circle cx="303.9" cy="271.5" r="8"/><circle cx="290.6" cy="284.3" r="8"/><circle cx="298.7" cy="291.5" r="8"/><circle cx="296" cy="313.2" r="8"/><circle cx="296.3" cy="301.3" r="8"/><circle cx="286.7" cy="302.5" r="8"/><circle cx="305.8" cy="280.6" r="8"/><circle cx="289.3" cy="307.4" r="8"/><circle cx="268.7" cy="295.9" r="8"/><circle cx="296.6" cy="288.1" r="8"/><circle cx="304.8" cy="283.2" r="8"/><circle cx="271" cy="290.5" r="8"/><circle cx="292" cy="306.9" r="8"/><circle cx="285.3" cy="305.5" r="8"/><circle cx="318.5" cy="277.8" r="8"/><circle cx="314.1" cy="275" r="8"/><circle cx="300.5" cy="281.1" r="8"/><circle cx="306.8" cy="273.1" r="8"/><circle cx="282.8" cy="290" r="8"/><circle cx="310" cy="285.1" r="8"/><circle cx="288.3" cy="281.5" r="8"/><circle cx="276.2" cy="300.9" r="8"/><circle cx="324" cy="279" r="8"/><circle cx="298.8" cy="268.9" r="8"/><circle cx="300.8" cy="291.3" r="8"/><circle cx="283.9" cy="292.7" r="8"/><circle cx="289.3" cy="306.4" r="8"/><circle cx="305.2" cy="263.9" r="8"/><circle cx="312" cy="259.7" r="8"/><circle cx="327.6" cy="282.2" r="8"/><circle cx="310.2" cy="258.3" r="8"/><circle cx="323.5" cy="288.3" r="8"/><circle cx="318.3" cy="290.7" r="8"/><circle cx="284.3" cy="278.9" r="8"/><circle cx="320.5" cy="293.5" r="8"/><circle cx="306.1" cy="308" r="8"/><circle cx="291.7" cy="268.1" r="8"/><circle cx="325.4" cy="284.9" r="8"/><circle cx="336.7" cy="277.8" r="8"/><circle cx="269" cy="290.2" r="8"/><circle cx="282" cy="277.6" r="8"/><circle cx="335.8" cy="279.5" r="8"/><circle cx="267.1" cy="293.3" r="8"/><circle cx="258.1" cy="294.5" r="8"/><circle cx="335" cy="276.9" r="8"/><circle cx="293.9" cy="322.9" r="8"/><circle cx="305.3" cy="308.9" r="8"/><circle cx="301.8" cy="265.8" r="8"/><circle cx="312.2" cy="302.9" r="8"/><circle cx="269.3" cy="286.8" r="8"/><circle cx="261.7" cy="291.2" r="8"/><circle cx="367.5" cy="230.5" r="8"/><circle cx="366.9" cy="225.7" r="8"/><circle cx="370.7" cy="223.2" r="8"/><circle cx="342.7" cy="249.5" r="8"/><circle cx="331.7" cy="255" r="8"/><circle cx="324.6" cy="261.7" r="8"/><circle cx="366.2" cy="228" r="8"/><circle cx="334.5" cy="256.9" r="8"/><circle cx="367.4" cy="219.1" r="8"/><circle cx="326.6" cy="265.1" r="8"/><circle cx="326.8" cy="257.3" r="8"/><circle cx="378.1" cy="222.1" r="8"/><circle cx="329.4" cy="260" r="8"/><circle cx="333.7" cy="263" r="8"/><circle cx="350.2" cy="252.2" r="8"/><circle cx="365.4" cy="223.9" r="8"/><circle cx="369.8" cy="221.6" r="8"/><circle cx="354.1" cy="254.1" r="8"/><circle cx="328.7" cy="252.3" r="8"/><circle cx="333.6" cy="263.8" r="8"/><circle cx="372.2" cy="229.9" r="8"/><circle cx="329" cy="261.6" r="8"/><circle cx="333" cy="258.3" r="8"/><circle cx="364.6" cy="228.3" r="8"/><circle cx="336.3" cy="252.8" r="8"/><circle cx="365.3" cy="237" r="8"/><circle cx="351.9" cy="239.7" r="8"/><circle cx="368.7" cy="227.2" r="8"/><circle cx="344.3" cy="248.9" r="8"/><circle cx="344.7" cy="243.7" r="8"/><circle cx="328.1" cy="261.3" r="8"/><circle cx="344.8" cy="245.7" r="8"/><circle cx="353.8" cy="238.3" r="8"/><circle cx="363.2" cy="235.1" r="8"/><circle cx="370.5" cy="226.8" r="8"/><circle cx="352.3" cy="244.8" r="8"/><circle cx="370.5" cy="224.5" r="8"/><circle cx="323.2" cy="260.6" r="8"/><circle cx="370.1" cy="222" r="8"/><circle cx="373.7" cy="218.9" r="8"/><circle cx="332.4" cy="250.4" r="8"/><circle cx="340.6" cy="260.1" r="8"/><circle cx="344" cy="245.4" r="8"/><circle cx="341.4" cy="246.5" r="8"/><circle cx="339.3" cy="247.9" r="8"/><circle cx="329.8" cy="250.6" r="8"/><circle cx="340" cy="259.6" r="8"/><circle cx="340" cy="246.4" r="8"/><circle cx="356.2" cy="238" r="8"/><circle cx="328.8" cy="268" r="8"/><circle cx="363.1" cy="232.1" r="8"/><circle cx="321.9" cy="262.1" r="8"/><circle cx="376.4" cy="224.5" r="8"/><circle cx="338.7" cy="261.7" r="8"/><circle cx="341.7" cy="261.9" r="8"/><circle cx="376.6" cy="221.8" r="8"/><circle cx="330.2" cy="264.8" r="8"/><circle cx="352.9" cy="236.4" r="8"/><circle cx="367.3" cy="221.1" r="8"/><circle cx="344.6" cy="256" r="8"/><circle cx="355.8" cy="238.4" r="8"/><circle cx="374" cy="230.5" r="8"/><circle cx="372.9" cy="228.7" r="8"/><circle cx="346.2" cy="250" r="8"/><circle cx="378.9" cy="224" r="8"/><circle cx="355" cy="254.7" r="8"/><circle cx="370.5" cy="216.6" r="8"/><circle cx="375.9" cy="224.8" r="8"/><circle cx="333.7" cy="264.1" r="8"/><circle cx="342.1" cy="247.5" r="8"/><circle cx="324.9" cy="261.7" r="8"/><circle cx="348.4" cy="246.8" r="8"/><circle cx="328.4" cy="262.3" r="8"/><circle cx="340.8" cy="258.2" r="8"/><circle cx="347.4" cy="248.6" r="8"/><circle cx="348.2" cy="252.1" r="8"/><circle cx="346.9" cy="240.4" r="8"/><circle cx="347.3" cy="249" r="8"/><circle cx="352.1" cy="231.6" r="8"/><circle cx="331.7" cy="264.9" r="8"/><circle cx="343.3" cy="253.7" r="8"/><circle cx="342.3" cy="246.4" r="8"/><circle cx="334.3" cy="249.6" r="8"/><circle cx="331.1" cy="266" r="8"/><circle cx="334.8" cy="255.6" r="8"/><circle cx="351.9" cy="246.7" r="8"/><circle cx="327.8" cy="264.1" r="8"/><circle cx="362" cy="223.5" r="8"/><circle cx="355.1" cy="238.1" r="8"/><circle cx="355.9" cy="241.9" r="8"/><circle cx="373.4" cy="228.1" r="8"/><circle cx="351.5" cy="245.1" r="8"/><circle cx="359.3" cy="237.2" r="8"/><circle cx="362.4" cy="239.3" r="8"/><circle cx="374.4" cy="222.1" r="8"/><circle cx="371.7" cy="219.4" r="8"/><circle cx="323.3" cy="262.6" r="8"/><circle cx="348.8" cy="242.6" r="8"/><circle cx="353.6" cy="239.3" r="8"/><circle cx="368.3" cy="231.4" r="8"/><circle cx="333.2" cy="262.6" r="8"/><circle cx="326.7" cy="256.6" r="8"/><circle cx="330.4" cy="258.4" r="8"/><circle cx="371.1" cy="229" r="8"/><circle cx="366.9" cy="227.5" r="8"/><circle cx="326.6" cy="260.2" r="8"/><circle cx="374.7" cy="222.5" r="8"/><circle cx="338.3" cy="244.6" r="8"/><circle cx="342.4" cy="243.4" r="8"/><circle cx="351.2" cy="256.7" r="8"/><circle cx="332.2" cy="265.1" r="8"/><circle cx="372.2" cy="216" r="8"/><circle cx="365.3" cy="230.3" r="8"/><circle cx="347.6" cy="251.4" r="8"/><circle cx="350.1" cy="251.3" r="8"/><circle cx="375.5" cy="228.2" r="8"/><circle cx="324.1" cy="260.1" r="8"/><circle cx="354.6" cy="247.9" r="8"/><circle cx="364.4" cy="227.6" r="8"/><circle cx="349.7" cy="246.8" r="8"/><circle cx="368.2" cy="221.8" r="8"/><circle cx="365.4" cy="235.9" r="8"/><circle cx="364.2" cy="231.4" r="8"/><circle cx="342.1" cy="248.1" r="8"/><circle cx="329.3" cy="261.4" r="8"/><circle cx="337.5" cy="267.2" r="8"/><circle cx="346.7" cy="244.2" r="8"/><circle cx="330.8" cy="267.8" r="8"/><circle cx="358.2" cy="245.7" r="8"/><circle cx="348.3" cy="244.2" r="8"/><circle cx="358.1" cy="251.1" r="8"/><circle cx="332.4" cy="265.4" r="8"/><circle cx="336.4" cy="249.5" r="8"/><circle cx="371.2" cy="226.7" r="8"/><circle cx="354.7" cy="238.3" r="8"/><circle cx="349.3" cy="246.2" r="8"/><circle cx="362.1" cy="225.4" r="8"/><circle cx="360.1" cy="232.1" r="8"/><circle cx="321.6" cy="258.9" r="8"/><circle cx="331.1" cy="269.2" r="8"/><circle cx="367.6" cy="227.9" r="8"/><circle cx="326.6" cy="253.5" r="8"/><circle cx="342.5" cy="243.7" r="8"/><circle cx="372.4" cy="233" r="8"/><circle cx="342.1" cy="251.6" r="8"/><circle cx="366.3" cy="229.4" r="8"/><circle cx="322.6" cy="262.7" r="8"/><circle cx="339.8" cy="255.9" r="8"/><circle cx="352" cy="247.2" r="8"/><circle cx="334.1" cy="271" r="8"/><circle cx="356.5" cy="241.8" r="8"/><circle cx="359.1" cy="230" r="8"/><circle cx="355.4" cy="252.4" r="8"/><circle cx="345.5" cy="246.4" r="8"/><circle cx="341.4" cy="255.4" r="8"/><circle cx="375.3" cy="221.8" r="8"/><circle cx="342.2" cy="258.3" r="8"/><circle cx="347.5" cy="260.6" r="8"/><circle cx="360.4" cy="236.2" r="8"/><circle cx="376.5" cy="225.7" r="8"/><circle cx="378.4" cy="224.2" r="8"/><circle cx="331.9" cy="267.1" r="8"/><circle cx="349.1" cy="240.2" r="8"/><circle cx="332" cy="257.3" r="8"/><circle cx="356.4" cy="233.9" r="8"/><circle cx="342.5" cy="247.5" r="8"/><circle cx="367" cy="225.7" r="8"/><circle cx="341.4" cy="260.6" r="8"/><circle cx="370.1" cy="230.9" r="8"/><circle cx="330.7" cy="259.1" r="8"/><circle cx="351.2" cy="242.3" r="8"/><circle cx="355.9" cy="247.6" r="8"/><circle cx="348.4" cy="244.9" r="8"/><circle cx="371.2" cy="223.5" r="8"/><circle cx="352.7" cy="238.5" r="8"/><circle cx="331.7" cy="261.1" r="8"/><circle cx="340.3" cy="252.3" r="8"/><circle cx="345.1" cy="248.7" r="8"/><circle cx="345.7" cy="250.9" r="8"/><circle cx="333.4" cy="258.9" r="8"/><circle cx="345.3" cy="247.9" r="8"/><circle cx="335.5" cy="262.1" r="8"/><circle cx="351.3" cy="239.1" r="8"/><circle cx="370.9" cy="231.6" r="8"/><circle cx="369.8" cy="223.2" r="8"/><circle cx="339.2" cy="254.9" r="8"/><circle cx="328.4" cy="265.3" r="8"/><circle cx="337.2" cy="246.2" r="8"/><circle cx="354.1" cy="246.4" r="8"/><circle cx="335.8" cy="262.9" r="8"/><circle cx="335.9" cy="249.9" r="8"/><circle cx="354.1" cy="236.5" r="8"/><circle cx="329.3" cy="253.4" r="8"/><circle cx="366.3" cy="226.3" r="8"/><circle cx="327.6" cy="256.6" r="8"/><circle cx="361.9" cy="236.2" r="8"/><circle cx="349.2" cy="239.3" r="8"/><circle cx="370.7" cy="228" r="8"/><circle cx="356.4" cy="230.9" r="8"/><circle cx="346.2" cy="247.7" r="8"/><circle cx="323.9" cy="254.4" r="8"/><circle cx="361" cy="232.8" r="8"/><circle cx="359.7" cy="248.9" r="8"/><circle cx="353.1" cy="253.3" r="8"/><circle cx="348.2" cy="249" r="8"/><circle cx="349.9" cy="247.6" r="8"/><circle cx="334.5" cy="271.5" r="8"/><circle cx="342.4" cy="241.4" r="8"/><circle cx="361.8" cy="229.7" r="8"/><circle cx="337.9" cy="252" r="8"/><circle cx="366.2" cy="228.7" r="8"/><circle cx="336.2" cy="263.1" r="8"/><circle cx="344.9" cy="258.2" r="8"/><circle cx="367" cy="225.7" r="8"/><circle cx="368.1" cy="235.4" r="8"/><circle cx="339.5" cy="261.7" r="8"/><circle cx="363.2" cy="233" r="8"/><circle cx="368.4" cy="222.8" r="8"/><circle cx="369.3" cy="224" r="8"/><circle cx="354.7" cy="239.5" r="8"/><circle cx="336.7" cy="252.4" r="8"/><circle cx="320.5" cy="253.5" r="8"/><circle cx="355.2" cy="234.3" r="8"/><circle cx="335.1" cy="261.8" r="8"/><circle cx="318.8" cy="254.7" r="8"/><circle cx="348.5" cy="253.9" r="8"/><circle cx="351.6" cy="237.1" r="8"/><circle cx="326.3" cy="256.6" r="8"/><circle cx="370" cy="226.7" r="8"/><circle cx="345.5" cy="250.2" r="8"/><circle cx="337.7" cy="263.5" r="8"/><circle cx="340.2" cy="251.8" r="8"/><circle cx="361.4" cy="228.7" r="8"/><circle cx="353.9" cy="256" r="8"/><circle cx="355.4" cy="243.3" r="8"/><circle cx="373" cy="224.3" r="8"/><circle cx="375.5" cy="224" r="8"/><circle cx="373.3" cy="218.4" r="8"/><circle cx="347.5" cy="260" r="8"/><circle cx="326.3" cy="264.6" r="8"/><circle cx="338.9" cy="261.9" r="8"/><circle cx="333.1" cy="262.4" r="8"/><circle cx="371.4" cy="217.5" r="8"/><circle cx="344.7" cy="259.6" r="8"/><circle cx="325.7" cy="265.5" r="8"/><circle cx="359.2" cy="230.8" r="8"/><circle cx="345.4" cy="247.3" r="8"/><circle cx="334" cy="271.1" r="8"/><circle cx="330.6" cy="255.2" r="8"/><circle cx="364.3" cy="223" r="8"/><circle cx="335.7" cy="254.7" r="8"/><circle cx="341.9" cy="268.1" r="8"/><circle cx="347" cy="240.7" r="8"/><circle cx="344.6" cy="248" r="8"/><circle cx="329.4" cy="268.9" r="8"/><circle cx="341.3" cy="262.1" r="8"/><circle cx="337" cy="257.9" r="8"/><circle cx="363.4" cy="230.9" r="8"/><circle cx="329.6" cy="260.6" r="8"/><circle cx="330.3" cy="261.1" r="8"/><circle cx="374.9" cy="218.1" r="8"/><circle cx="338.5" cy="256.5" r="8"/><circle cx="362.5" cy="230.7" r="8"/><circle cx="347" cy="246.3" r="8"/><circle cx="331.1" cy="256.8" r="8"/><circle cx="323.2" cy="260.6" r="8"/><circle cx="359.8" cy="233.6" r="8"/><circle cx="331.2" cy="265.3" r="8"/><circle cx="349.7" cy="250.3" r="8"/><circle cx="341.7" cy="259.6" r="8"/><circle cx="322.1" cy="256.7" r="8"/><circle cx="343.1" cy="256.7" r="8"/><circle cx="354.3" cy="254.5" r="8"/><circle cx="359.3" cy="240.9" r="8"/><circle cx="372.9" cy="229.2" r="8"/><circle cx="335.2" cy="259.3" r="8"/><circle cx="340.4" cy="255.3" r="8"/><circle cx="374.1" cy="223.4" r="8"/><circle cx="369.4" cy="226.4" r="8"/><circle cx="336.7" cy="256.8" r="8"/><circle cx="361.4" cy="228" r="8"/><circle cx="374.8" cy="222.9" r="8"/><circle cx="368" cy="231.5" r="8"/><circle cx="345.4" cy="247.2" r="8"/><circle cx="328.7" cy="251.9" r="8"/><circle cx="348.8" cy="243.1" r="8"/><circle cx="362.4" cy="233.8" r="8"/><circle cx="340.4" cy="256.4" r="8"/><circle cx="343.5" cy="243" r="8"/><circle cx="369.1" cy="221.2" r="8"/><circle cx="352.4" cy="244.6" r="8"/><circle cx="340.2" cy="256.7" r="8"/><circle cx="353.4" cy="237.4" r="8"/><circle cx="344.1" cy="251.2" r="8"/><circle cx="337.3" cy="254.8" r="8"/><circle cx="347.8" cy="251.2" r="8"/><circle cx="371.7" cy="229.4" r="8"/><circle cx="340.8" cy="267.5" r="8"/><circle cx="349.1" cy="252.9" r="8"/><circle cx="333.5" cy="269" r="8"/><circle cx="363.6" cy="225.9" r="8"/><circle cx="336.8" cy="246.9" r="8"/><circle cx="374.6" cy="220.1" r="8"/><circle cx="342.5" cy="252.8" r="8"/><circle cx="359.9" cy="236.7" r="8"/><circle cx="355.8" cy="236.4" r="8"/><circle cx="332.7" cy="268.9" r="8"/><circle cx="378.1" cy="225.7" r="8"/><circle cx="348.4" cy="247.4" r="8"/><circle cx="367.3" cy="223.2" r="8"/><circle cx="354.6" cy="251.3" r="8"/><circle cx="366.5" cy="228.8" r="8"/><circle cx="333.9" cy="254.6" r="8"/><circle cx="367.1" cy="234.2" r="8"/><circle cx="334.3" cy="252" r="8"/><circle cx="349.3" cy="237.7" r="8"/><circle cx="341" cy="259.1" r="8"/><circle cx="337.3" cy="264.6" r="8"/><circle cx="378.4" cy="226.3" r="8"/><circle cx="329.2" cy="258.5" r="8"/><circle cx="362.9" cy="229.7" r="8"/><circle cx="344.5" cy="242.3" r="8"/><circle cx="339.2" cy="241.6" r="8"/><circle cx="334.2" cy="268.9" r="8"/><circle cx="362.7" cy="245.6" r="8"/><circle cx="359.6" cy="224.9" r="8"/><circle cx="349.8" cy="244.4" r="8"/><circle cx="370.2" cy="218.7" r="8"/><circle cx="350.9" cy="251.2" r="8"/><circle cx="365.3" cy="231.9" r="8"/><circle cx="344.6" cy="251.6" r="8"/><circle cx="347.4" cy="257.4" r="8"/><circle cx="331.5" cy="267.7" r="8"/><circle cx="345.5" cy="257.5" r="8"/><circle cx="345.4" cy="251.8" r="8"/><circle cx="347" cy="246.4" r="8"/><circle cx="360.6" cy="248.1" r="8"/><circle cx="340.8" cy="259.9" r="8"/><circle cx="366" cy="222.1" r="8"/><circle cx="355" cy="243.2" r="8"/><circle cx="348.5" cy="249.5" r="8"/><circle cx="367.3" cy="221.2" r="8"/><circle cx="359.9" cy="234.7" r="8"/><circle cx="365.1" cy="223.7" r="8"/><circle cx="364.4" cy="235.7" r="8"/><circle cx="334.7" cy="263.6" r="8"/><circle cx="358.4" cy="235.9" r="8"/><circle cx="352.2" cy="238.9" r="8"/><circle cx="350.5" cy="251.8" r="8"/><circle cx="331.3" cy="248.9" r="8"/><circle cx="378.6" cy="227.4" r="8"/><circle cx="332.9" cy="270.3" r="8"/><circle cx="361.9" cy="237.9" r="8"/><circle cx="355.7" cy="238.1" r="8"/><circle cx="334.4" cy="261.6" r="8"/><circle cx="376.3" cy="224.3" r="8"/><circle cx="359.3" cy="244.8" r="8"/><circle cx="366.3" cy="222.1" r="8"/><circle cx="348.2" cy="243.3" r="8"/><circle cx="322.6" cy="261.6" r="8"/><circle cx="347.6" cy="249.5" r="8"/><circle cx="370.6" cy="237.2" r="8"/><circle cx="353.8" cy="232.8" r="8"/><circle cx="334.2" cy="271.8" r="8"/><circle cx="356.8" cy="245.5" r="8"/><circle cx="356.2" cy="246.2" r="8"/><circle cx="329.6" cy="259.6" r="8"/><circle cx="322.2" cy="253.6" r="8"/><circle cx="351.9" cy="246.4" r="8"/><circle cx="360.7" cy="235" r="8"/><circle cx="340.2" cy="254.9" r="8"/><circle cx="324.9" cy="259.6" r="8"/><circle cx="353.5" cy="233.5" r="8"/><circle cx="357.6" cy="234.9" r="8"/><circle cx="347.7" cy="247.1" r="8"/><circle cx="346.4" cy="238.9" r="8"/><circle cx="372.6" cy="220.5" r="8"/><circle cx="346.1" cy="245.2" r="8"/><circle cx="361.8" cy="241" r="8"/><circle cx="340.6" cy="256.9" r="8"/><circle cx="346.9" cy="258.1" r="8"/><circle cx="346.7" cy="249.1" r="8"/><circle cx="375" cy="222.7" r="8"/><circle cx="363.7" cy="231" r="8"/><circle cx="363.8" cy="227.5" r="8"/><circle cx="321.9" cy="259.1" r="8"/><circle cx="373.9" cy="223.2" r="8"/><circle cx="378.5" cy="222.6" r="8"/><circle cx="366.5" cy="234.2" r="8"/><circle cx="368.7" cy="225.2" r="8"/><circle cx="345.6" cy="251.1" r="8"/><circle cx="367.5" cy="232.7" r="8"/><circle cx="352.6" cy="252.7" r="8"/><circle cx="331.1" cy="267.8" r="8"/><circle cx="330.8" cy="253" r="8"/><circle cx="327" cy="262.6" r="8"/><circle cx="356.4" cy="238.4" r="8"/><circle cx="340.3" cy="250.7" r="8"/><circle cx="372.1" cy="224" r="8"/><circle cx="354.4" cy="229.2" r="8"/><circle cx="357.6" cy="253.7" r="8"/><circle cx="318.9" cy="254.8" r="8"/><circle cx="342.9" cy="235.9" r="8"/><circle cx="338.3" cy="272.7" r="8"/><circle cx="315.4" cy="254.5" r="8"/><circle cx="375.5" cy="232.1" r="8"/><circle cx="348.7" cy="261.4" r="8"/><circle cx="325.5" cy="246.8" r="8"/><circle cx="350.2" cy="230.2" r="8"/><circle cx="357.7" cy="254.9" r="8"/><circle cx="344.3" cy="270.1" r="8"/><circle cx="376" cy="231.6" r="8"/><circle cx="368.8" cy="243.1" r="8"/><circle cx="343.1" cy="268.9" r="8"/><circle cx="382.8" cy="219.5" r="8"/><circle cx="401.5" cy="200" r="8"/><circle cx="381.2" cy="213.5" r="8"/><circle cx="402.8" cy="196.3" r="8"/><circle cx="393" cy="206.7" r="8"/><circle cx="403.2" cy="197.7" r="8"/><circle cx="397.7" cy="195.4" r="8"/><circle cx="394.3" cy="199.4" r="8"/><circle cx="388.9" cy="200.7" r="8"/><circle cx="386.2" cy="215.9" r="8"/><circle cx="379.1" cy="220.1" r="8"/><circle cx="375.9" cy="212.6" r="8"/><circle cx="393.9" cy="201.4" r="8"/><circle cx="396.1" cy="202.6" r="8"/><circle cx="402.1" cy="196.1" r="8"/><circle cx="384.6" cy="208.2" r="8"/><circle cx="385.4" cy="218.4" r="8"/><circle cx="398.8" cy="198.5" r="8"/><circle cx="390.9" cy="207.7" r="8"/><circle cx="384.5" cy="220.9" r="8"/><circle cx="381.9" cy="222.1" r="8"/><circle cx="378.5" cy="215.8" r="8"/><circle cx="383.5" cy="211.6" r="8"/><circle cx="392.9" cy="201.4" r="8"/><circle cx="380.1" cy="218.6" r="8"/><circle cx="381.5" cy="211.4" r="8"/><circle cx="390.6" cy="203.3" r="8"/><circle cx="400.1" cy="197" r="8"/><circle cx="384" cy="219" r="8"/><circle cx="402.7" cy="199.9" r="8"/><circle cx="397.1" cy="198.1" r="8"/><circle cx="395.4" cy="204.1" r="8"/><circle cx="399.1" cy="195.6" r="8"/><circle cx="383.7" cy="217.6" r="8"/><circle cx="391.5" cy="203.9" r="8"/><circle cx="402" cy="196.1" r="8"/><circle cx="394.5" cy="198.5" r="8"/><circle cx="392.5" cy="207" r="8"/><circle cx="397.6" cy="201" r="8"/><circle cx="382.9" cy="217.1" r="8"/><circle cx="382.2" cy="213.3" r="8"/><circle cx="397.4" cy="203.3" r="8"/><circle cx="384.3" cy="211.9" r="8"/><circle cx="388" cy="206.3" r="8"/><circle cx="396.3" cy="201.2" r="8"/><circle cx="390.6" cy="204.1" r="8"/><circle cx="385.1" cy="207.3" r="8"/><circle cx="383" cy="222.4" r="8"/><circle cx="403.5" cy="197.8" r="8"/><circle cx="395.8" cy="195.5" r="8"/><circle cx="396.3" cy="200.7" r="8"/><circle cx="392.8" cy="209" r="8"/><circle cx="401.4" cy="193.8" r="8"/><circle cx="399.2" cy="197.9" r="8"/><circle cx="396.6" cy="196.5" r="8"/><circle cx="401.8" cy="197.8" r="8"/><circle cx="378.7" cy="213.2" r="8"/><circle cx="393.4" cy="199.9" r="8"/><circle cx="379.2" cy="217" r="8"/><circle cx="385.7" cy="210.4" r="8"/><circle cx="391.3" cy="206.2" r="8"/><circle cx="394.5" cy="200.5" r="8"/><circle cx="386.7" cy="213.9" r="8"/><circle cx="392" cy="200.3" r="8"/><circle cx="395.3" cy="205.1" r="8"/><circle cx="384.1" cy="210.5" r="8"/><circle cx="403.4" cy="194.9" r="8"/><circle cx="397.7" cy="200.6" r="8"/><circle cx="388.5" cy="210.3" r="8"/><circle cx="386.9" cy="211.1" r="8"/><circle cx="389.6" cy="211.2" r="8"/><circle cx="376.6" cy="215.8" r="8"/><circle cx="398.8" cy="193" r="8"/><circle cx="378.3" cy="212.6" r="8"/><circle cx="389.9" cy="209.6" r="8"/><circle cx="383.3" cy="222.5" r="8"/><circle cx="394.7" cy="199.9" r="8"/><circle cx="394" cy="205.5" r="8"/><circle cx="394.5" cy="204" r="8"/><circle cx="401.9" cy="198.2" r="8"/><circle cx="400.8" cy="197.3" r="8"/><circle cx="394.9" cy="200.3" r="8"/><circle cx="397.5" cy="201.1" r="8"/><circle cx="400.6" cy="197.6" r="8"/><circle cx="400.7" cy="202.2" r="8"/><circle cx="393.4" cy="211.4" r="8"/><circle cx="397.2" cy="200.6" r="8"/><circle cx="383.2" cy="217.1" r="8"/><circle cx="386.7" cy="214.5" r="8"/><circle cx="397.4" cy="204.3" r="8"/><circle cx="397.6" cy="197.3" r="8"/><circle cx="388.6" cy="203.4" r="8"/><circle cx="397.6" cy="198.1" r="8"/><circle cx="389.3" cy="206.5" r="8"/><circle cx="382.9" cy="212.4" r="8"/><circle cx="402" cy="202.9" r="8"/><circle cx="390.7" cy="216" r="8"/><circle cx="389.6" cy="198.4" r="8"/><circle cx="416.9" cy="182.9" r="8"/><circle cx="412.3" cy="184.9" r="8"/><circle cx="413.5" cy="180.7" r="8"/><circle cx="416.6" cy="184.2" r="8"/><circle cx="410.2" cy="187.9" r="8"/><circle cx="413.1" cy="184.1" r="8"/><circle cx="413.2" cy="179.5" r="8"/><circle cx="401.8" cy="191.9" r="8"/><circle cx="413.8" cy="184.1" r="8"/><circle cx="413.4" cy="183" r="8"/><circle cx="415.9" cy="182.4" r="8"/><circle cx="406" cy="189.8" r="8"/><circle cx="406.3" cy="189.7" r="8"/><circle cx="413.9" cy="185.6" r="8"/><circle cx="406" cy="191.8" r="8"/><circle cx="415.7" cy="181.2" r="8"/><circle cx="408.8" cy="190.3" r="8"/><circle cx="403.8" cy="192.2" r="8"/><circle cx="402.5" cy="193.7" r="8"/><circle cx="405.3" cy="193.6" r="8"/><circle cx="406.8" cy="193.5" r="8"/><circle cx="408.4" cy="186" r="8"/><circle cx="409.7" cy="182.6" r="8"/><circle cx="421.6" cy="172.2" r="8"/><circle cx="420.4" cy="177.5" r="8"/><circle cx="421" cy="174" r="8"/><circle cx="418.7" cy="177.7" r="8"/><circle cx="420.5" cy="173.5" r="8"/><circle cx="422.9" cy="175.2" r="8"/><circle cx="426.8" cy="168.6" r="8"/><circle cx="423.5" cy="171.5" r="8"/><circle cx="486.6" cy="112.1" r="8"/><circle cx="484.7" cy="118.7" r="8"/><circle cx="468.3" cy="132.4" r="8"/><circle cx="466" cy="139.4" r="8"/><circle cx="457.4" cy="137" r="8"/><circle cx="443.7" cy="142.1" r="8"/><circle cx="432" cy="151.9" r="8"/><circle cx="439" cy="151.9" r="8"/><circle cx="453.5" cy="153.8" r="8"/><circle cx="447.6" cy="162.8" r="8"/><circle cx="434" cy="167.5" r="8"/><circle cx="430" cy="172.1" r="8"/><circle cx="427.4" cy="204.5" r="8"/><circle cx="423.5" cy="209.6" r="8"/><circle cx="416.5" cy="196.7" r="8"/><circle cx="400.9" cy="216.2" r="8"/><circle cx="400.9" cy="225.2" r="8"/><circle cx="383.3" cy="237.6" r="8"/><circle cx="373.6" cy="239.6" r="8"/><circle cx="334.6" cy="233.7" r="8"/><circle cx="350.2" cy="222" r="8"/><circle cx="358" cy="212.3" r="8"/><circle cx="369.7" cy="202.6" r="8"/><circle cx="391.1" cy="190.9" r="8"/>
</g>
<g fill="#d62214" fill-opacity="0.9">
<circle cx="447.6" cy="118.7" r="9.5"/><circle cx="366.9" cy="176" r="9.5"/><circle cx="366.5" cy="195.5" r="9.5"/><circle cx="321.7" cy="183" r="9.5"/><circle cx="305" cy="209.2" r="9.5"/><circle cx="290.9" cy="249.3" r="9.5"/><circle cx="282" cy="263" r="9.5"/><circle cx="250.6" cy="254" r="9.5"/><circle cx="291.1" cy="248.3" r="9.5"/><circle cx="282.3" cy="262.4" r="9.5"/><circle cx="248.1" cy="268" r="9.5"/><circle cx="244.6" cy="281.1" r="9.5"/><circle cx="264" cy="279.3" r="9.5"/><circle cx="274.5" cy="274" r="9.5"/><circle cx="262.2" cy="286.4" r="9.5"/><circle cx="206.9" cy="303.3" r="9.5"/><circle cx="233.3" cy="297.7" r="9.5"/><circle cx="241" cy="305.8" r="9.5"/><circle cx="223.4" cy="312.8" r="9.5"/><circle cx="197" cy="323.4" r="9.5"/><circle cx="193.5" cy="334" r="9.5"/><circle cx="188.2" cy="353.3" r="9.5"/><circle cx="209" cy="318" r="9.5"/><circle cx="216" cy="325" r="9.5"/><circle cx="202" cy="335" r="9.5"/><circle cx="230" cy="310" r="9.5"/><circle cx="212" cy="308" r="9.5"/><circle cx="200" cy="345" r="9.5"/><circle cx="190" cy="343" r="9.5"/><circle cx="236" cy="300" r="9.5"/><circle cx="205" cy="328" r="9.5"/><circle cx="196" cy="338" r="9.5"/><circle cx="226" cy="318" r="9.5"/><circle cx="215" cy="314" r="9.5"/><circle cx="208" cy="322" r="9.5"/><circle cx="219" cy="309" r="9.5"/><circle cx="203" cy="316" r="9.5"/><circle cx="202" cy="345.5" r="9.5"/><circle cx="210" cy="339.5" r="9.5"/><circle cx="218" cy="333.5" r="9.5"/><circle cx="226" cy="327" r="9.5"/><circle cx="195" cy="350.5" r="9.5"/><circle cx="233" cy="320" r="9.5"/><circle cx="240" cy="313" r="9.5"/>
</g>
<g fill="#4049a3" fill-opacity="0.95">
<circle cx="448.4" cy="181.9" r="9.5"/><circle cx="467.1" cy="179.6" r="9.5"/><circle cx="360.5" cy="263.4" r="9.5"/><circle cx="360.5" cy="277.8" r="9.5"/><circle cx="350.2" cy="279.2" r="9.5"/><circle cx="336.3" cy="284.8" r="9.5"/><circle cx="391.4" cy="283.4" r="9.5"/><circle cx="382.2" cy="300.6" r="9.5"/><circle cx="371.1" cy="312.6" r="9.5"/><circle cx="346" cy="317.3" r="9.5"/><circle cx="326.6" cy="298.7" r="9.5"/><circle cx="318.2" cy="304.3" r="9.5"/><circle cx="322.4" cy="311.8" r="9.5"/><circle cx="294.6" cy="332.1" r="9.5"/><circle cx="284.8" cy="337.6" r="9.5"/><circle cx="276.5" cy="343.2" r="9.5"/><circle cx="266.7" cy="350.2" r="9.5"/><circle cx="258.4" cy="351.6" r="9.5"/><circle cx="289" cy="366.9" r="9.5"/><circle cx="337.3" cy="372.9" r="9.5"/><circle cx="250" cy="389.1" r="9.5"/><circle cx="241.7" cy="372.4" r="9.5"/><circle cx="252.8" cy="366.9" r="9.5"/><circle cx="264" cy="364.1" r="9.5"/><circle cx="266.7" cy="369.6" r="9.5"/><circle cx="236.1" cy="380.8" r="9.5"/><circle cx="255.6" cy="358.5" r="9.5"/><circle cx="269.5" cy="357.1" r="9.5"/><circle cx="280" cy="346" r="9.5"/><circle cx="290" cy="338" r="9.5"/><circle cx="246" cy="376" r="9.5"/><circle cx="259" cy="370" r="9.5"/><circle cx="272" cy="352" r="9.5"/><circle cx="244" cy="381" r="9.5"/><circle cx="262" cy="360" r="9.5"/><circle cx="287" cy="343" r="9.5"/><circle cx="299" cy="334" r="9.5"/><circle cx="248" cy="371" r="9.5"/><circle cx="256" cy="380" r="9.5"/>
</g>
<text transform="translate(561.8 36.8) scale(0.94 1)" font-size="54.5" font-weight="bold" fill="#141615">b</text>
<text x="795.5" y="37" font-size="33.5" text-anchor="start" fill="#141615">RNA-Seq<tspan font-size="19.5" dy="11">ORF</tspan></text>
<path d="M713 76.3V408M725.8 421H1088.2" fill="none" stroke="#141615" stroke-width="3.6"/>
<path d="M714.8 77.9H696M714.8 119H696M714.8 160H696M714.8 201.1H696M714.8 242.1H696M714.8 283.2H696M714.8 324.3H696M714.8 365.3H696M714.8 406.4H696M727.4 419.2V438M772.3 419.2V438M817.2 419.2V438M862.1 419.2V438M907 419.2V438M951.9 419.2V438M996.8 419.2V438M1041.7 419.2V438M1086.6 419.2V438" fill="none" stroke="#141615" stroke-width="3.2"/>
<text x="680" y="88.1" font-size="28" text-anchor="end" fill="#141615">20</text>
<text x="680" y="129.2" font-size="28" text-anchor="end" fill="#141615">18</text>
<text x="680" y="170.2" font-size="28" text-anchor="end" fill="#141615">16</text>
<text x="680" y="211.3" font-size="28" text-anchor="end" fill="#141615">14</text>
<text x="680" y="252.3" font-size="28" text-anchor="end" fill="#141615">12</text>
<text x="680" y="293.4" font-size="28" text-anchor="end" fill="#141615">10</text>
<text x="680" y="334.5" font-size="28" text-anchor="end" fill="#141615">8</text>
<text x="680" y="375.5" font-size="28" text-anchor="end" fill="#141615">6</text>
<text x="680" y="416.6" font-size="28" text-anchor="end" fill="#141615">4</text>
<text x="726.5" y="477" font-size="28" text-anchor="middle" fill="#141615">4</text>
<text x="770.7" y="477" font-size="28" text-anchor="middle" fill="#141615">6</text>
<text x="816.6" y="477" font-size="28" text-anchor="middle" fill="#141615">8</text>
<text x="864.1" y="477" font-size="28" text-anchor="middle" fill="#141615">10</text>
<text x="909.7" y="477" font-size="28" text-anchor="middle" fill="#141615">12</text>
<text x="954" y="477" font-size="28" text-anchor="middle" fill="#141615">14</text>
<text x="998.7" y="477" font-size="28" text-anchor="middle" fill="#141615">16</text>
<text x="1042.7" y="477" font-size="28" text-anchor="middle" fill="#141615">18</text>
<text x="1088" y="477" font-size="28" text-anchor="middle" fill="#141615">20</text>
<text x="821.5" y="529.4" font-size="28" text-anchor="start" fill="#141615">log<tspan font-size="16" dy="8">2</tspan><tspan font-size="28" dy="-8">(RPKM)</tspan></text>
<text transform="translate(622.6 318.3) rotate(-90)" font-size="28" text-anchor="start" fill="#141615">log<tspan font-size="16" dy="8">2</tspan><tspan font-size="28" dy="-8">(RPKM)</tspan></text>
<text transform="translate(746.5 228) rotate(-90)" font-size="28" text-anchor="start" fill="#141615">0.5 mM Met</text>
<text x="764" y="105.3" font-size="34" text-anchor="start" fill="#d9291c">50</text>
<path d="M818.2 80.3L827.2 96.1Q822.7 93.3 820.1 93.3L820.1 106.1L816.4 106.1L816.4 93.3Q813.7 93.3 809.2 96.1Z" fill="#e23210"/>
<text x="1023.5" y="370.4" font-size="34" text-anchor="start" fill="#3b2e96">31</text>
<path d="M1078.2 370.6L1087.2 354.8Q1082.7 357.6 1080 357.6L1080 344.8L1076.4 344.8L1076.4 357.6Q1073.7 357.6 1069.2 354.8Z" fill="#3b2e96"/>
<text x="1085.3" y="407.7" font-size="28" text-anchor="end" fill="#141615">0 mM Met</text>
<g fill="#141615" fill-opacity="0.36">
<circle cx="769.9" cy="365" r="8"/><circle cx="771.1" cy="363.3" r="8"/><circle cx="766.9" cy="383.7" r="8"/><circle cx="747.7" cy="369.6" r="8"/><circle cx="769.9" cy="367.4" r="8"/><circle cx="772.2" cy="372.5" r="8"/><circle cx="767.7" cy="364.4" r="8"/><circle cx="758.8" cy="382.2" r="8"/><circle cx="755.2" cy="363.9" r="8"/><circle cx="762.6" cy="389.1" r="8"/><circle cx="771.1" cy="369.1" r="8"/><circle cx="759.1" cy="381.3" r="8"/><circle cx="764.4" cy="388.9" r="8"/><circle cx="762.7" cy="358.9" r="8"/><circle cx="757.6" cy="382.5" r="8"/><circle cx="742.4" cy="381.8" r="8"/><circle cx="752.8" cy="378.9" r="8"/><circle cx="752.1" cy="386.9" r="8"/><circle cx="773.9" cy="376.5" r="8"/><circle cx="745.2" cy="368.5" r="8"/><circle cx="753.6" cy="384" r="8"/><circle cx="744.7" cy="384.2" r="8"/><circle cx="756.1" cy="376.9" r="8"/><circle cx="757.5" cy="385.7" r="8"/><circle cx="761.4" cy="359.6" r="8"/><circle cx="750.3" cy="387.7" r="8"/><circle cx="762.4" cy="372.7" r="8"/><circle cx="771.1" cy="371" r="8"/><circle cx="755.1" cy="383.6" r="8"/><circle cx="754" cy="383.4" r="8"/><circle cx="763.9" cy="387.9" r="8"/><circle cx="751.6" cy="379.4" r="8"/><circle cx="753.5" cy="368.3" r="8"/><circle cx="770.2" cy="379.1" r="8"/><circle cx="747.8" cy="385.2" r="8"/><circle cx="766.9" cy="361.5" r="8"/><circle cx="773.2" cy="374.6" r="8"/><circle cx="758.1" cy="373.3" r="8"/><circle cx="764.8" cy="361.8" r="8"/><circle cx="758.3" cy="377.8" r="8"/><circle cx="762.4" cy="357.4" r="8"/><circle cx="765.8" cy="365.3" r="8"/><circle cx="747.5" cy="389" r="8"/><circle cx="753.3" cy="385.7" r="8"/><circle cx="758.1" cy="387.8" r="8"/><circle cx="767.9" cy="373.3" r="8"/><circle cx="762" cy="363.4" r="8"/><circle cx="744.4" cy="387" r="8"/><circle cx="770.9" cy="363.4" r="8"/><circle cx="749.8" cy="380" r="8"/><circle cx="774.8" cy="372.5" r="8"/><circle cx="748.5" cy="368.3" r="8"/><circle cx="767.8" cy="373.6" r="8"/><circle cx="754.5" cy="377" r="8"/><circle cx="755.8" cy="371" r="8"/><circle cx="752.1" cy="387.8" r="8"/><circle cx="751.2" cy="386.5" r="8"/><circle cx="769.5" cy="374.1" r="8"/><circle cx="760.1" cy="383" r="8"/><circle cx="762.8" cy="386.8" r="8"/><circle cx="753.8" cy="365.8" r="8"/><circle cx="745.2" cy="387.9" r="8"/><circle cx="761.2" cy="376.5" r="8"/><circle cx="756.9" cy="363.6" r="8"/><circle cx="751.8" cy="379.9" r="8"/><circle cx="752.8" cy="390.4" r="8"/><circle cx="755.6" cy="378.5" r="8"/><circle cx="763.9" cy="366.5" r="8"/><circle cx="773.1" cy="370.4" r="8"/><circle cx="751.1" cy="384.7" r="8"/><circle cx="766.3" cy="372.6" r="8"/><circle cx="751.2" cy="390.8" r="8"/><circle cx="762.3" cy="361.8" r="8"/><circle cx="771.4" cy="370.1" r="8"/><circle cx="756.1" cy="387.8" r="8"/><circle cx="756" cy="376" r="8"/><circle cx="770.8" cy="374.7" r="8"/><circle cx="759.8" cy="369.8" r="8"/><circle cx="771.3" cy="370.5" r="8"/><circle cx="769.3" cy="368.6" r="8"/><circle cx="774.7" cy="374.6" r="8"/><circle cx="774.4" cy="373.9" r="8"/><circle cx="766.1" cy="375" r="8"/><circle cx="768.4" cy="379.2" r="8"/><circle cx="745" cy="381.7" r="8"/><circle cx="767" cy="362.2" r="8"/><circle cx="771.2" cy="378.2" r="8"/><circle cx="748.4" cy="376.1" r="8"/><circle cx="762.8" cy="378.2" r="8"/><circle cx="750.5" cy="373.7" r="8"/><circle cx="766.8" cy="373.2" r="8"/><circle cx="748.5" cy="383" r="8"/><circle cx="748.9" cy="385.4" r="8"/><circle cx="758.6" cy="362.3" r="8"/><circle cx="773.3" cy="379.6" r="8"/><circle cx="763.4" cy="372.9" r="8"/><circle cx="771.5" cy="363.6" r="8"/><circle cx="744.6" cy="378.7" r="8"/><circle cx="772.9" cy="377.6" r="8"/><circle cx="758.8" cy="367.4" r="8"/><circle cx="767.5" cy="364.4" r="8"/><circle cx="761.7" cy="382.8" r="8"/><circle cx="754.2" cy="388.3" r="8"/><circle cx="774.4" cy="372.9" r="8"/><circle cx="756.8" cy="380.1" r="8"/><circle cx="759.3" cy="376" r="8"/><circle cx="753.7" cy="364.1" r="8"/><circle cx="751.9" cy="387.2" r="8"/><circle cx="751.2" cy="378.3" r="8"/><circle cx="766.1" cy="376.1" r="8"/><circle cx="762.3" cy="370.3" r="8"/><circle cx="749.7" cy="377.8" r="8"/><circle cx="774.9" cy="376.2" r="8"/><circle cx="760.6" cy="373" r="8"/><circle cx="770.3" cy="376.2" r="8"/><circle cx="749.2" cy="369.3" r="8"/><circle cx="765.4" cy="375.7" r="8"/><circle cx="759.3" cy="389" r="8"/><circle cx="750.7" cy="383.3" r="8"/><circle cx="753.3" cy="381.7" r="8"/><circle cx="761.5" cy="387.7" r="8"/><circle cx="768.4" cy="361.6" r="8"/><circle cx="751.3" cy="388.6" r="8"/><circle cx="754" cy="377.8" r="8"/><circle cx="761.2" cy="375.3" r="8"/><circle cx="748" cy="367.4" r="8"/><circle cx="767.9" cy="375.9" r="8"/><circle cx="769.7" cy="363.6" r="8"/><circle cx="756.1" cy="389.6" r="8"/><circle cx="754.1" cy="383.3" r="8"/><circle cx="757.2" cy="389.1" r="8"/><circle cx="760.4" cy="374.5" r="8"/><circle cx="744.2" cy="374.7" r="8"/><circle cx="759.1" cy="379.3" r="8"/><circle cx="769.4" cy="362.7" r="8"/><circle cx="774.3" cy="377.4" r="8"/><circle cx="769.1" cy="369.5" r="8"/><circle cx="761.3" cy="370.9" r="8"/><circle cx="762.2" cy="369.5" r="8"/><circle cx="757" cy="375.1" r="8"/><circle cx="757.3" cy="387" r="8"/><circle cx="766.7" cy="370.2" r="8"/><circle cx="756.1" cy="366.8" r="8"/><circle cx="763.2" cy="381.7" r="8"/><circle cx="775.3" cy="374.5" r="8"/><circle cx="760.5" cy="360.9" r="8"/><circle cx="772.6" cy="375.5" r="8"/><circle cx="763.7" cy="370.8" r="8"/><circle cx="767.1" cy="361.8" r="8"/><circle cx="764.8" cy="367.4" r="8"/><circle cx="768.1" cy="366.7" r="8"/><circle cx="768.4" cy="378.1" r="8"/><circle cx="759.4" cy="359.2" r="8"/><circle cx="760.4" cy="374.5" r="8"/><circle cx="750.6" cy="364.5" r="8"/><circle cx="746.2" cy="387.6" r="8"/><circle cx="773.4" cy="375.5" r="8"/><circle cx="762.5" cy="362.3" r="8"/><circle cx="778" cy="370.4" r="8"/><circle cx="765" cy="380.4" r="8"/><circle cx="760.9" cy="372.6" r="8"/><circle cx="743" cy="386.5" r="8"/><circle cx="772.4" cy="377.9" r="8"/><circle cx="779.5" cy="373.7" r="8"/><circle cx="753.3" cy="362.6" r="8"/><circle cx="769.8" cy="366.3" r="8"/><circle cx="759.9" cy="372.4" r="8"/><circle cx="760.6" cy="384.2" r="8"/><circle cx="752.5" cy="372.8" r="8"/><circle cx="749.1" cy="375.6" r="8"/><circle cx="759" cy="385.2" r="8"/><circle cx="761.6" cy="389" r="8"/><circle cx="765.4" cy="374.5" r="8"/><circle cx="746.2" cy="389.6" r="8"/><circle cx="772.7" cy="382.8" r="8"/><circle cx="754.1" cy="378.4" r="8"/><circle cx="749.8" cy="382.1" r="8"/><circle cx="752.6" cy="362.2" r="8"/><circle cx="775.7" cy="375.7" r="8"/><circle cx="760.4" cy="367.9" r="8"/><circle cx="755.7" cy="369.5" r="8"/><circle cx="774" cy="372.1" r="8"/><circle cx="752.9" cy="385.3" r="8"/><circle cx="752.3" cy="376.7" r="8"/><circle cx="757.8" cy="375.1" r="8"/><circle cx="753.7" cy="379.2" r="8"/><circle cx="753.7" cy="391.8" r="8"/><circle cx="757.3" cy="361.2" r="8"/><circle cx="764.8" cy="372.8" r="8"/><circle cx="753.4" cy="376.3" r="8"/><circle cx="748.3" cy="373.2" r="8"/><circle cx="761.9" cy="380.6" r="8"/><circle cx="744.8" cy="375.4" r="8"/><circle cx="768" cy="380" r="8"/><circle cx="759.1" cy="361.7" r="8"/><circle cx="770.4" cy="385.5" r="8"/><circle cx="752" cy="385.4" r="8"/><circle cx="763.9" cy="362.9" r="8"/><circle cx="766" cy="378.8" r="8"/><circle cx="752.1" cy="374.1" r="8"/><circle cx="775.4" cy="372.1" r="8"/><circle cx="749.4" cy="386.5" r="8"/><circle cx="763.8" cy="381.9" r="8"/><circle cx="767.2" cy="367.7" r="8"/><circle cx="748.5" cy="390.9" r="8"/><circle cx="742.6" cy="380.6" r="8"/><circle cx="767.2" cy="360.1" r="8"/><circle cx="757.3" cy="376.2" r="8"/><circle cx="755.6" cy="389.2" r="8"/><circle cx="752.9" cy="368.6" r="8"/><circle cx="756.3" cy="368.6" r="8"/><circle cx="769.2" cy="369.2" r="8"/><circle cx="746.2" cy="386.6" r="8"/><circle cx="747.7" cy="377.7" r="8"/><circle cx="767.4" cy="369.2" r="8"/><circle cx="765.2" cy="359" r="8"/><circle cx="775.6" cy="370.9" r="8"/><circle cx="755" cy="369.7" r="8"/><circle cx="744.6" cy="382.8" r="8"/><circle cx="753.1" cy="375.5" r="8"/><circle cx="760.6" cy="385.9" r="8"/><circle cx="776.6" cy="379.4" r="8"/><circle cx="752.4" cy="382.4" r="8"/><circle cx="752.3" cy="383.6" r="8"/><circle cx="763" cy="371.4" r="8"/><circle cx="760.7" cy="374.8" r="8"/><circle cx="762.4" cy="368.9" r="8"/><circle cx="763.1" cy="363.1" r="8"/><circle cx="756.4" cy="366.8" r="8"/><circle cx="743.5" cy="388.3" r="8"/><circle cx="776.3" cy="379.3" r="8"/><circle cx="763.8" cy="387.3" r="8"/><circle cx="775" cy="379.6" r="8"/><circle cx="776.8" cy="372" r="8"/><circle cx="750.9" cy="385.7" r="8"/><circle cx="767.9" cy="379.1" r="8"/><circle cx="758.2" cy="375.2" r="8"/><circle cx="751.6" cy="388.2" r="8"/><circle cx="749.4" cy="384.7" r="8"/><circle cx="758.3" cy="372.1" r="8"/><circle cx="753.8" cy="371.3" r="8"/><circle cx="749.3" cy="381.4" r="8"/><circle cx="754.4" cy="376.6" r="8"/><circle cx="758.3" cy="361.7" r="8"/><circle cx="771.9" cy="364.6" r="8"/><circle cx="746.6" cy="380.4" r="8"/><circle cx="766.6" cy="371.9" r="8"/><circle cx="753.2" cy="384.9" r="8"/><circle cx="765.8" cy="365.1" r="8"/><circle cx="749.4" cy="388.5" r="8"/><circle cx="771.7" cy="371.4" r="8"/><circle cx="748.9" cy="374.2" r="8"/><circle cx="751" cy="363.7" r="8"/><circle cx="760.8" cy="382" r="8"/><circle cx="755.5" cy="364.9" r="8"/><circle cx="776.5" cy="374" r="8"/><circle cx="768" cy="382.5" r="8"/><circle cx="769.1" cy="383.6" r="8"/><circle cx="775" cy="370.1" r="8"/><circle cx="764.6" cy="380.8" r="8"/><circle cx="757.1" cy="374.9" r="8"/><circle cx="754.9" cy="374.9" r="8"/><circle cx="750.6" cy="365.7" r="8"/><circle cx="744.9" cy="382.5" r="8"/><circle cx="760.9" cy="366.2" r="8"/><circle cx="752.3" cy="373.4" r="8"/><circle cx="754.5" cy="383.3" r="8"/><circle cx="761" cy="370.9" r="8"/><circle cx="762.2" cy="360.8" r="8"/><circle cx="751.4" cy="370.6" r="8"/><circle cx="765.8" cy="370.1" r="8"/><circle cx="769.5" cy="378.7" r="8"/><circle cx="757.9" cy="358.4" r="8"/><circle cx="749.8" cy="386.8" r="8"/><circle cx="767.2" cy="387.1" r="8"/><circle cx="750.6" cy="386.2" r="8"/><circle cx="760.3" cy="364.2" r="8"/><circle cx="760.4" cy="373.9" r="8"/><circle cx="765.7" cy="386.9" r="8"/><circle cx="745.8" cy="387.7" r="8"/><circle cx="758.6" cy="366.7" r="8"/><circle cx="769.4" cy="366.6" r="8"/><circle cx="768" cy="377.7" r="8"/><circle cx="769.4" cy="379.2" r="8"/><circle cx="777.8" cy="371.2" r="8"/><circle cx="754.5" cy="384.4" r="8"/><circle cx="761.2" cy="380.7" r="8"/><circle cx="748.8" cy="383" r="8"/><circle cx="751.4" cy="383" r="8"/><circle cx="753.4" cy="375.5" r="8"/><circle cx="772.6" cy="378.9" r="8"/><circle cx="768.5" cy="365" r="8"/><circle cx="745.5" cy="387.2" r="8"/><circle cx="769.4" cy="377.1" r="8"/><circle cx="771.1" cy="374.2" r="8"/><circle cx="759.8" cy="390" r="8"/><circle cx="760" cy="364" r="8"/><circle cx="752.8" cy="387.9" r="8"/><circle cx="764.1" cy="370.1" r="8"/><circle cx="762.6" cy="372.3" r="8"/><circle cx="771.6" cy="366.3" r="8"/><circle cx="768.8" cy="362.4" r="8"/><circle cx="762.5" cy="367" r="8"/><circle cx="761.1" cy="372" r="8"/><circle cx="754.6" cy="371.5" r="8"/><circle cx="763.2" cy="365.9" r="8"/><circle cx="759.4" cy="358.7" r="8"/><circle cx="767.4" cy="361.5" r="8"/><circle cx="751.2" cy="380.5" r="8"/><circle cx="759.4" cy="375.6" r="8"/><circle cx="765.6" cy="387.4" r="8"/><circle cx="745.7" cy="390.8" r="8"/><circle cx="773.2" cy="378.2" r="8"/><circle cx="743.2" cy="377.7" r="8"/><circle cx="760.7" cy="376" r="8"/><circle cx="755.8" cy="363.7" r="8"/><circle cx="764.3" cy="360.5" r="8"/><circle cx="754.1" cy="388.2" r="8"/><circle cx="770.1" cy="373.3" r="8"/><circle cx="748.9" cy="375.8" r="8"/><circle cx="744" cy="388.5" r="8"/><circle cx="772" cy="370.3" r="8"/><circle cx="760.8" cy="383.6" r="8"/><circle cx="763.7" cy="379.8" r="8"/><circle cx="769" cy="384.9" r="8"/><circle cx="766.2" cy="373.6" r="8"/><circle cx="771.3" cy="384.4" r="8"/><circle cx="770.7" cy="373" r="8"/><circle cx="757.2" cy="366.4" r="8"/><circle cx="758.6" cy="359" r="8"/><circle cx="761.5" cy="368.7" r="8"/><circle cx="764.8" cy="364.2" r="8"/><circle cx="758.9" cy="371.2" r="8"/><circle cx="761" cy="380.2" r="8"/><circle cx="763.4" cy="375.3" r="8"/><circle cx="772.5" cy="369.9" r="8"/><circle cx="744.2" cy="384.5" r="8"/><circle cx="750.4" cy="383.4" r="8"/><circle cx="753.7" cy="381" r="8"/><circle cx="752.3" cy="375" r="8"/><circle cx="745.3" cy="368.5" r="8"/><circle cx="754.5" cy="388.1" r="8"/><circle cx="757.2" cy="378.1" r="8"/><circle cx="756.8" cy="385.6" r="8"/><circle cx="763.9" cy="388.7" r="8"/><circle cx="763.3" cy="368.4" r="8"/><circle cx="766.7" cy="367.2" r="8"/><circle cx="771.3" cy="377.2" r="8"/><circle cx="771.9" cy="374" r="8"/><circle cx="757.5" cy="362.9" r="8"/><circle cx="751.5" cy="367.8" r="8"/><circle cx="765.9" cy="367.5" r="8"/><circle cx="762.2" cy="389.3" r="8"/><circle cx="762.8" cy="385" r="8"/><circle cx="751.3" cy="387.8" r="8"/><circle cx="757.3" cy="365.9" r="8"/><circle cx="761.4" cy="369.8" r="8"/><circle cx="766.9" cy="372.6" r="8"/><circle cx="763.9" cy="379.6" r="8"/><circle cx="752.9" cy="387.6" r="8"/><circle cx="768.9" cy="373" r="8"/><circle cx="768.4" cy="365.6" r="8"/><circle cx="751.8" cy="385.3" r="8"/><circle cx="751.8" cy="375.9" r="8"/><circle cx="759.9" cy="390.4" r="8"/><circle cx="771.9" cy="368.5" r="8"/><circle cx="769.7" cy="371.7" r="8"/><circle cx="765.2" cy="373.7" r="8"/><circle cx="758.9" cy="375.5" r="8"/><circle cx="761.5" cy="386.6" r="8"/><circle cx="761.8" cy="388.8" r="8"/><circle cx="752.9" cy="381.9" r="8"/><circle cx="769.8" cy="379.6" r="8"/><circle cx="742.9" cy="378.2" r="8"/><circle cx="744.1" cy="376.7" r="8"/><circle cx="749" cy="388.6" r="8"/><circle cx="767.6" cy="379.5" r="8"/><circle cx="775.6" cy="368.6" r="8"/><circle cx="762.4" cy="362" r="8"/><circle cx="759.2" cy="384.2" r="8"/><circle cx="745.2" cy="377.1" r="8"/><circle cx="758.5" cy="374.2" r="8"/><circle cx="764" cy="373.2" r="8"/><circle cx="773" cy="382.1" r="8"/><circle cx="763.7" cy="366.9" r="8"/><circle cx="747.3" cy="374.9" r="8"/><circle cx="743.6" cy="378.9" r="8"/><circle cx="758.4" cy="387.5" r="8"/><circle cx="772.5" cy="378.8" r="8"/><circle cx="745.4" cy="388.9" r="8"/><circle cx="768.5" cy="379.6" r="8"/><circle cx="768.1" cy="368.9" r="8"/><circle cx="776.5" cy="376.4" r="8"/><circle cx="753.9" cy="379.1" r="8"/><circle cx="752.8" cy="369.7" r="8"/><circle cx="771.2" cy="364.8" r="8"/><circle cx="758.1" cy="362.7" r="8"/><circle cx="773.9" cy="373.7" r="8"/><circle cx="766" cy="370.3" r="8"/><circle cx="761.9" cy="364.4" r="8"/><circle cx="752.9" cy="386.7" r="8"/><circle cx="750.5" cy="370.9" r="8"/><circle cx="746.5" cy="390.7" r="8"/><circle cx="776.3" cy="369.4" r="8"/><circle cx="749.6" cy="378.9" r="8"/><circle cx="766.8" cy="363.8" r="8"/><circle cx="765.3" cy="381.3" r="8"/><circle cx="772.4" cy="367.4" r="8"/><circle cx="761.8" cy="382.9" r="8"/><circle cx="749.8" cy="382.3" r="8"/><circle cx="769.3" cy="381.3" r="8"/><circle cx="767.8" cy="372" r="8"/><circle cx="749.4" cy="377.9" r="8"/><circle cx="753.8" cy="386.1" r="8"/><circle cx="767" cy="366" r="8"/><circle cx="770.3" cy="381.3" r="8"/><circle cx="767.3" cy="379.8" r="8"/><circle cx="757.6" cy="378.8" r="8"/><circle cx="753.8" cy="375" r="8"/><circle cx="768.8" cy="373.5" r="8"/><circle cx="767" cy="377.2" r="8"/><circle cx="759.9" cy="378.7" r="8"/><circle cx="761.8" cy="357.2" r="8"/><circle cx="742.9" cy="389.6" r="8"/><circle cx="764.5" cy="376.1" r="8"/><circle cx="773.1" cy="374" r="8"/><circle cx="744.5" cy="384.1" r="8"/><circle cx="773.6" cy="368.6" r="8"/><circle cx="754.5" cy="386.9" r="8"/><circle cx="744.5" cy="378.3" r="8"/><circle cx="764.9" cy="368.9" r="8"/><circle cx="749.2" cy="382.6" r="8"/><circle cx="768.3" cy="368.4" r="8"/><circle cx="745.5" cy="371.7" r="8"/><circle cx="769.4" cy="387" r="8"/><circle cx="759.1" cy="379.3" r="8"/><circle cx="749.8" cy="388.3" r="8"/><circle cx="750.6" cy="380.2" r="8"/><circle cx="763.1" cy="376.7" r="8"/><circle cx="747.9" cy="386.1" r="8"/><circle cx="756.4" cy="369.6" r="8"/><circle cx="744.3" cy="374.4" r="8"/><circle cx="755.1" cy="377.8" r="8"/><circle cx="762.4" cy="387.9" r="8"/><circle cx="764.4" cy="374.1" r="8"/><circle cx="749.2" cy="375.8" r="8"/><circle cx="767.7" cy="364.9" r="8"/><circle cx="753.2" cy="372.1" r="8"/><circle cx="777" cy="370.7" r="8"/><circle cx="764.1" cy="381.4" r="8"/><circle cx="758.3" cy="366.2" r="8"/><circle cx="759.3" cy="358.9" r="8"/><circle cx="769.1" cy="382.7" r="8"/><circle cx="751.5" cy="383.2" r="8"/><circle cx="778.5" cy="374.4" r="8"/><circle cx="745.1" cy="383.6" r="8"/><circle cx="767.4" cy="367.8" r="8"/><circle cx="755.1" cy="380.6" r="8"/><circle cx="747.2" cy="374.6" r="8"/><circle cx="766.9" cy="381.6" r="8"/><circle cx="766.8" cy="378.8" r="8"/><circle cx="744.2" cy="384.4" r="8"/><circle cx="767.3" cy="361.7" r="8"/><circle cx="750.6" cy="377.9" r="8"/><circle cx="766.8" cy="383.5" r="8"/><circle cx="762.4" cy="384.9" r="8"/><circle cx="767.6" cy="376.5" r="8"/><circle cx="752" cy="374" r="8"/><circle cx="763.7" cy="375.4" r="8"/><circle cx="754.3" cy="376.6" r="8"/><circle cx="759.9" cy="361.9" r="8"/><circle cx="762.7" cy="367.1" r="8"/><circle cx="746.7" cy="388.5" r="8"/><circle cx="753.3" cy="369.2" r="8"/><circle cx="764.5" cy="371.3" r="8"/><circle cx="775.7" cy="369.6" r="8"/><circle cx="744.3" cy="381.4" r="8"/><circle cx="774.9" cy="373.1" r="8"/><circle cx="765" cy="382.5" r="8"/><circle cx="756.6" cy="373.2" r="8"/><circle cx="776.8" cy="370.5" r="8"/><circle cx="760.1" cy="379.9" r="8"/><circle cx="771.7" cy="383.1" r="8"/><circle cx="758.2" cy="384.4" r="8"/><circle cx="757.6" cy="379.9" r="8"/><circle cx="771.2" cy="367.2" r="8"/><circle cx="771" cy="377.6" r="8"/><circle cx="760" cy="371.1" r="8"/><circle cx="767.3" cy="380.2" r="8"/><circle cx="761.1" cy="357.9" r="8"/><circle cx="763" cy="375.1" r="8"/><circle cx="752.2" cy="374.9" r="8"/><circle cx="762.4" cy="357.9" r="8"/><circle cx="743.3" cy="390.4" r="8"/><circle cx="779.8" cy="375.3" r="8"/><circle cx="763.2" cy="372.4" r="8"/><circle cx="747.7" cy="377.4" r="8"/><circle cx="759.5" cy="380.4" r="8"/><circle cx="763.6" cy="379.6" r="8"/><circle cx="747.1" cy="370.2" r="8"/><circle cx="747.3" cy="390.4" r="8"/><circle cx="758" cy="377.9" r="8"/><circle cx="768.9" cy="386.3" r="8"/><circle cx="749.5" cy="368.2" r="8"/><circle cx="746" cy="368.1" r="8"/><circle cx="757.9" cy="383.9" r="8"/><circle cx="758.9" cy="386.9" r="8"/><circle cx="778.2" cy="378.1" r="8"/><circle cx="755.6" cy="381.2" r="8"/><circle cx="759.6" cy="366.6" r="8"/><circle cx="758.2" cy="373.6" r="8"/><circle cx="755.3" cy="369.4" r="8"/><circle cx="754.2" cy="384.5" r="8"/><circle cx="756.6" cy="360.9" r="8"/><circle cx="774.6" cy="377.1" r="8"/><circle cx="747" cy="384.7" r="8"/><circle cx="766.8" cy="364.9" r="8"/><circle cx="762.2" cy="379.2" r="8"/><circle cx="757.7" cy="390.1" r="8"/><circle cx="756.9" cy="378.8" r="8"/><circle cx="755.6" cy="372.7" r="8"/><circle cx="746.1" cy="383" r="8"/><circle cx="754.2" cy="376.3" r="8"/><circle cx="763.1" cy="377.5" r="8"/><circle cx="758.4" cy="375.6" r="8"/><circle cx="765.9" cy="370.7" r="8"/><circle cx="765.6" cy="383.9" r="8"/><circle cx="768.6" cy="373.8" r="8"/><circle cx="760.8" cy="375.4" r="8"/><circle cx="761.2" cy="382" r="8"/><circle cx="770.9" cy="372.5" r="8"/><circle cx="750.4" cy="373.9" r="8"/><circle cx="775.9" cy="368.2" r="8"/><circle cx="743.9" cy="381.5" r="8"/><circle cx="758" cy="369.6" r="8"/><circle cx="749.2" cy="373.4" r="8"/><circle cx="752.9" cy="364.3" r="8"/><circle cx="768.1" cy="374.2" r="8"/><circle cx="764.6" cy="377.2" r="8"/><circle cx="760.7" cy="382.8" r="8"/><circle cx="748.4" cy="381.7" r="8"/><circle cx="751.7" cy="375.4" r="8"/><circle cx="760.8" cy="383.2" r="8"/><circle cx="749.3" cy="377.6" r="8"/><circle cx="771.2" cy="366.3" r="8"/><circle cx="779.3" cy="372.2" r="8"/><circle cx="752.7" cy="369" r="8"/><circle cx="774.7" cy="370.3" r="8"/><circle cx="749.3" cy="386.4" r="8"/><circle cx="744.2" cy="387.5" r="8"/><circle cx="766.4" cy="362.3" r="8"/><circle cx="769.2" cy="366.1" r="8"/><circle cx="756.2" cy="388.4" r="8"/><circle cx="764.2" cy="366.8" r="8"/><circle cx="768.5" cy="372.9" r="8"/><circle cx="754.7" cy="371.7" r="8"/><circle cx="771.5" cy="369.8" r="8"/><circle cx="767.2" cy="374.3" r="8"/><circle cx="768.6" cy="371.4" r="8"/><circle cx="765.8" cy="381.3" r="8"/><circle cx="743.4" cy="379.7" r="8"/><circle cx="769.7" cy="385" r="8"/><circle cx="767.9" cy="384.4" r="8"/><circle cx="766.2" cy="372.4" r="8"/><circle cx="746.1" cy="377.7" r="8"/><circle cx="748.5" cy="384.7" r="8"/><circle cx="755.9" cy="379.4" r="8"/><circle cx="774.8" cy="380.4" r="8"/><circle cx="752" cy="377" r="8"/><circle cx="764.5" cy="368.9" r="8"/><circle cx="758" cy="376.4" r="8"/><circle cx="752.9" cy="381.3" r="8"/><circle cx="752.8" cy="375.5" r="8"/><circle cx="758.2" cy="374.2" r="8"/><circle cx="777.4" cy="373.7" r="8"/><circle cx="746.8" cy="374.2" r="8"/><circle cx="770.5" cy="373.7" r="8"/><circle cx="746.6" cy="368.1" r="8"/><circle cx="769.5" cy="385.2" r="8"/><circle cx="745.2" cy="377.6" r="8"/><circle cx="760.1" cy="386.5" r="8"/><circle cx="743" cy="375.3" r="8"/><circle cx="764.9" cy="377.5" r="8"/><circle cx="755" cy="366.7" r="8"/><circle cx="752.1" cy="377.3" r="8"/><circle cx="768.5" cy="386.4" r="8"/><circle cx="757.4" cy="363.5" r="8"/><circle cx="757.7" cy="381" r="8"/><circle cx="749.7" cy="389.5" r="8"/><circle cx="757.9" cy="358.8" r="8"/><circle cx="763.7" cy="391.4" r="8"/><circle cx="750.2" cy="380.2" r="8"/><circle cx="771.3" cy="370.5" r="8"/><circle cx="762.2" cy="364.1" r="8"/><circle cx="770.4" cy="375" r="8"/><circle cx="741.6" cy="380.8" r="8"/><circle cx="764.3" cy="372.7" r="8"/><circle cx="764.1" cy="366.5" r="8"/><circle cx="769.6" cy="374.3" r="8"/><circle cx="772.9" cy="369.6" r="8"/><circle cx="742.5" cy="386.3" r="8"/><circle cx="753.8" cy="382.3" r="8"/><circle cx="762.4" cy="386.6" r="8"/><circle cx="770.9" cy="377.5" r="8"/><circle cx="766.2" cy="362" r="8"/><circle cx="755.2" cy="376.3" r="8"/><circle cx="746.7" cy="386" r="8"/><circle cx="759.8" cy="372.7" r="8"/><circle cx="751.1" cy="377.5" r="8"/><circle cx="771.4" cy="373.8" r="8"/><circle cx="773.4" cy="375.9" r="8"/><circle cx="754" cy="383.4" r="8"/><circle cx="745.9" cy="384.7" r="8"/><circle cx="765.7" cy="363.5" r="8"/><circle cx="767.4" cy="378.4" r="8"/><circle cx="762" cy="377.6" r="8"/><circle cx="748.2" cy="377.1" r="8"/><circle cx="768.1" cy="363.8" r="8"/><circle cx="765.5" cy="365.8" r="8"/><circle cx="746.1" cy="390.1" r="8"/><circle cx="760.5" cy="368.9" r="8"/><circle cx="752.7" cy="377.6" r="8"/><circle cx="768" cy="365.6" r="8"/><circle cx="745.9" cy="387.6" r="8"/><circle cx="742.2" cy="384.2" r="8"/><circle cx="765.6" cy="373" r="8"/><circle cx="742.5" cy="381.9" r="8"/><circle cx="766.1" cy="367.4" r="8"/><circle cx="752.1" cy="374.5" r="8"/><circle cx="755.5" cy="361.9" r="8"/><circle cx="772.7" cy="368.8" r="8"/><circle cx="754.3" cy="373.6" r="8"/><circle cx="763.4" cy="362.4" r="8"/><circle cx="758.5" cy="374.8" r="8"/><circle cx="756" cy="381.3" r="8"/><circle cx="772.2" cy="375.4" r="8"/><circle cx="744.9" cy="389.3" r="8"/><circle cx="748.3" cy="384.9" r="8"/><circle cx="753.8" cy="383.6" r="8"/><circle cx="745.6" cy="390" r="8"/><circle cx="749.1" cy="375.1" r="8"/><circle cx="769.6" cy="382.5" r="8"/><circle cx="748.9" cy="387.1" r="8"/><circle cx="773.1" cy="384.1" r="8"/><circle cx="763.7" cy="370.5" r="8"/><circle cx="746.5" cy="375.9" r="8"/><circle cx="756.5" cy="367.2" r="8"/><circle cx="760.6" cy="378.8" r="8"/><circle cx="746.6" cy="376.6" r="8"/><circle cx="771.8" cy="384.1" r="8"/><circle cx="759.2" cy="361.4" r="8"/><circle cx="748.6" cy="385.1" r="8"/><circle cx="743.1" cy="374.4" r="8"/><circle cx="768.6" cy="366" r="8"/><circle cx="761.3" cy="372.1" r="8"/><circle cx="746.9" cy="387" r="8"/><circle cx="752.9" cy="389.7" r="8"/><circle cx="768.1" cy="378" r="8"/><circle cx="771.2" cy="370" r="8"/><circle cx="759.2" cy="365" r="8"/><circle cx="768.3" cy="380.9" r="8"/><circle cx="761.7" cy="372.6" r="8"/><circle cx="762.3" cy="367.5" r="8"/><circle cx="760.2" cy="370.3" r="8"/><circle cx="756.8" cy="387.1" r="8"/><circle cx="775.2" cy="371.2" r="8"/><circle cx="745.1" cy="373.5" r="8"/><circle cx="753.4" cy="365.1" r="8"/><circle cx="759.7" cy="376.1" r="8"/><circle cx="768.5" cy="362.8" r="8"/><circle cx="766.1" cy="383.5" r="8"/><circle cx="775.9" cy="367.8" r="8"/><circle cx="758.4" cy="369.3" r="8"/><circle cx="759.9" cy="383.8" r="8"/><circle cx="745.5" cy="382.5" r="8"/><circle cx="758.2" cy="384" r="8"/><circle cx="763.2" cy="387.2" r="8"/><circle cx="760.3" cy="378.1" r="8"/><circle cx="755.9" cy="380.8" r="8"/><circle cx="763.6" cy="365.3" r="8"/><circle cx="757.4" cy="375.8" r="8"/><circle cx="750.5" cy="383.4" r="8"/><circle cx="750.8" cy="383.6" r="8"/><circle cx="758.4" cy="363.8" r="8"/><circle cx="780.9" cy="372.6" r="8"/><circle cx="753.8" cy="366.2" r="8"/><circle cx="743.7" cy="384.2" r="8"/><circle cx="750.8" cy="377.4" r="8"/><circle cx="767.5" cy="369.1" r="8"/><circle cx="775.6" cy="368.1" r="8"/><circle cx="754.3" cy="379.6" r="8"/><circle cx="753.5" cy="369.2" r="8"/><circle cx="749.3" cy="378.8" r="8"/><circle cx="761.7" cy="379.9" r="8"/><circle cx="773.4" cy="370.8" r="8"/><circle cx="750.5" cy="373.4" r="8"/><circle cx="750.7" cy="371.4" r="8"/><circle cx="766.6" cy="377.8" r="8"/><circle cx="746.7" cy="382.1" r="8"/><circle cx="775.6" cy="369.5" r="8"/><circle cx="752.5" cy="390.7" r="8"/><circle cx="752" cy="385.7" r="8"/><circle cx="769.3" cy="383.1" r="8"/><circle cx="745.8" cy="384.2" r="8"/><circle cx="756.2" cy="364" r="8"/><circle cx="750.9" cy="380.2" r="8"/><circle cx="759.2" cy="364.9" r="8"/><circle cx="754.7" cy="362.5" r="8"/><circle cx="760.9" cy="360.5" r="8"/><circle cx="744.4" cy="390.6" r="8"/><circle cx="766.7" cy="377" r="8"/><circle cx="758.9" cy="372" r="8"/><circle cx="762" cy="361.2" r="8"/><circle cx="756.2" cy="371.6" r="8"/><circle cx="767.3" cy="367.7" r="8"/><circle cx="774.4" cy="379.7" r="8"/><circle cx="755" cy="387.3" r="8"/><circle cx="746.3" cy="387.8" r="8"/><circle cx="757.6" cy="380.9" r="8"/><circle cx="760.8" cy="381.9" r="8"/><circle cx="771" cy="366.3" r="8"/><circle cx="744.5" cy="390.3" r="8"/><circle cx="765.5" cy="369.7" r="8"/><circle cx="765.1" cy="371" r="8"/><circle cx="752.1" cy="378.7" r="8"/><circle cx="766.6" cy="385.7" r="8"/><circle cx="777.3" cy="375.8" r="8"/><circle cx="761.1" cy="371.6" r="8"/><circle cx="763.8" cy="389.8" r="8"/><circle cx="766.5" cy="362.4" r="8"/><circle cx="768.4" cy="378.1" r="8"/><circle cx="755.7" cy="378.4" r="8"/><circle cx="757" cy="383.4" r="8"/><circle cx="754.3" cy="378.5" r="8"/><circle cx="748" cy="374" r="8"/><circle cx="765.7" cy="375.9" r="8"/><circle cx="768.1" cy="365.2" r="8"/><circle cx="752.9" cy="387.1" r="8"/><circle cx="775.5" cy="369.3" r="8"/><circle cx="755.8" cy="389.5" r="8"/><circle cx="751.7" cy="388.4" r="8"/><circle cx="755.5" cy="380" r="8"/><circle cx="762.1" cy="367.8" r="8"/><circle cx="773.1" cy="382.8" r="8"/><circle cx="742.5" cy="371.3" r="8"/><circle cx="755.1" cy="389.2" r="8"/><circle cx="764.3" cy="377.4" r="8"/><circle cx="756" cy="381.7" r="8"/><circle cx="768.4" cy="362.7" r="8"/><circle cx="770.8" cy="381.3" r="8"/><circle cx="748.3" cy="360.6" r="8"/><circle cx="783.4" cy="378.5" r="8"/><circle cx="746.8" cy="367" r="8"/><circle cx="752.2" cy="362.5" r="8"/><circle cx="770" cy="388.2" r="8"/><circle cx="778.4" cy="384.9" r="8"/><circle cx="784.3" cy="376" r="8"/><circle cx="785" cy="376.5" r="8"/><circle cx="742.8" cy="368.7" r="8"/><circle cx="743.1" cy="368.6" r="8"/><circle cx="776.5" cy="382.7" r="8"/><circle cx="753.2" cy="358.7" r="8"/><circle cx="779.6" cy="377.5" r="8"/><circle cx="750.3" cy="362.4" r="8"/><circle cx="781" cy="379.8" r="8"/><circle cx="747.6" cy="364" r="8"/><circle cx="745.4" cy="366.2" r="8"/><circle cx="768.8" cy="388.5" r="8"/><circle cx="772" cy="385.6" r="8"/><circle cx="761.2" cy="356.4" r="8"/><circle cx="769.6" cy="390.6" r="8"/><circle cx="783.6" cy="374.7" r="8"/><circle cx="753.6" cy="358.9" r="8"/><circle cx="784" cy="376.7" r="8"/><circle cx="772.5" cy="391.3" r="8"/><circle cx="744.1" cy="369.2" r="8"/><circle cx="745.9" cy="363.6" r="8"/><circle cx="760.8" cy="354.7" r="8"/><circle cx="775.8" cy="389.7" r="8"/><circle cx="759.2" cy="356.7" r="8"/><circle cx="755.3" cy="353.8" r="8"/><circle cx="749.2" cy="359.1" r="8"/><circle cx="771.1" cy="390.4" r="8"/><circle cx="782.3" cy="376.3" r="8"/><circle cx="741.6" cy="363.1" r="8"/><circle cx="743" cy="362" r="8"/><circle cx="780.3" cy="379.8" r="8"/><circle cx="756.7" cy="353" r="8"/><circle cx="805.6" cy="328" r="8"/><circle cx="772.4" cy="356.7" r="8"/><circle cx="781.8" cy="354.9" r="8"/><circle cx="784" cy="360.9" r="8"/><circle cx="804.8" cy="331.2" r="8"/><circle cx="813.1" cy="326.5" r="8"/><circle cx="771.9" cy="362.9" r="8"/><circle cx="778" cy="354.9" r="8"/><circle cx="783.5" cy="344.7" r="8"/><circle cx="795.6" cy="342.6" r="8"/><circle cx="777.7" cy="352.8" r="8"/><circle cx="778.6" cy="349.2" r="8"/><circle cx="814.9" cy="325.8" r="8"/><circle cx="810.9" cy="318.2" r="8"/><circle cx="788.6" cy="353.1" r="8"/><circle cx="801.3" cy="350.5" r="8"/><circle cx="791.2" cy="349.3" r="8"/><circle cx="787" cy="359.6" r="8"/><circle cx="790.4" cy="340.8" r="8"/><circle cx="801" cy="345.5" r="8"/><circle cx="804" cy="323.2" r="8"/><circle cx="808" cy="329.2" r="8"/><circle cx="797.4" cy="328.5" r="8"/><circle cx="780.3" cy="361.6" r="8"/><circle cx="788.8" cy="358.7" r="8"/><circle cx="774.2" cy="357.5" r="8"/><circle cx="768" cy="356" r="8"/><circle cx="800" cy="331.4" r="8"/><circle cx="787.5" cy="351.9" r="8"/><circle cx="771.1" cy="352.2" r="8"/><circle cx="804.4" cy="329.2" r="8"/><circle cx="811.1" cy="331.2" r="8"/><circle cx="770.1" cy="362.2" r="8"/><circle cx="774.7" cy="363.3" r="8"/><circle cx="791.4" cy="341.8" r="8"/><circle cx="817.5" cy="324.4" r="8"/><circle cx="777.3" cy="367.3" r="8"/><circle cx="807.5" cy="335" r="8"/><circle cx="783.7" cy="371.4" r="8"/><circle cx="786.4" cy="358.8" r="8"/><circle cx="808.8" cy="324.4" r="8"/><circle cx="816.3" cy="333.8" r="8"/><circle cx="775.4" cy="355.3" r="8"/><circle cx="814.8" cy="329.2" r="8"/><circle cx="774.7" cy="355.6" r="8"/><circle cx="813.1" cy="325.3" r="8"/><circle cx="768.2" cy="352.3" r="8"/><circle cx="810" cy="316.9" r="8"/><circle cx="807.6" cy="340" r="8"/><circle cx="778.2" cy="359.8" r="8"/><circle cx="806.1" cy="333.6" r="8"/><circle cx="808.1" cy="334.3" r="8"/><circle cx="794.4" cy="340.4" r="8"/><circle cx="805.7" cy="335.2" r="8"/><circle cx="797.7" cy="335.4" r="8"/><circle cx="774.6" cy="352.1" r="8"/><circle cx="801.9" cy="345.7" r="8"/><circle cx="817.2" cy="328.4" r="8"/><circle cx="787.9" cy="353.6" r="8"/><circle cx="814.3" cy="323.7" r="8"/><circle cx="794.1" cy="339.2" r="8"/><circle cx="812.9" cy="332.6" r="8"/><circle cx="787.4" cy="347.3" r="8"/><circle cx="785.8" cy="336.4" r="8"/><circle cx="770.8" cy="360.5" r="8"/><circle cx="790.3" cy="354.4" r="8"/><circle cx="799.5" cy="333.9" r="8"/><circle cx="781.8" cy="363.5" r="8"/><circle cx="812.7" cy="323.6" r="8"/><circle cx="781.5" cy="345.1" r="8"/><circle cx="805.5" cy="320.2" r="8"/><circle cx="818" cy="334.3" r="8"/><circle cx="794.3" cy="341.8" r="8"/><circle cx="781.5" cy="362" r="8"/><circle cx="802.8" cy="343.6" r="8"/><circle cx="809.6" cy="338.5" r="8"/><circle cx="803.4" cy="325.9" r="8"/><circle cx="773.5" cy="361" r="8"/><circle cx="807.2" cy="330.1" r="8"/><circle cx="776.8" cy="359.1" r="8"/><circle cx="805.6" cy="343.7" r="8"/><circle cx="810.8" cy="329.5" r="8"/><circle cx="775.4" cy="359.4" r="8"/><circle cx="809.5" cy="322.1" r="8"/><circle cx="808.6" cy="335.8" r="8"/><circle cx="773.1" cy="357.4" r="8"/><circle cx="784.7" cy="349.3" r="8"/><circle cx="780.4" cy="368.3" r="8"/><circle cx="781.5" cy="362.3" r="8"/><circle cx="811.2" cy="325.5" r="8"/><circle cx="781.4" cy="363.8" r="8"/><circle cx="807.9" cy="328.9" r="8"/><circle cx="775.3" cy="348.4" r="8"/><circle cx="801" cy="346.3" r="8"/><circle cx="791.9" cy="361.9" r="8"/><circle cx="797.2" cy="358.6" r="8"/><circle cx="789.5" cy="345.2" r="8"/><circle cx="795.9" cy="331.2" r="8"/><circle cx="808.9" cy="320" r="8"/><circle cx="806.4" cy="329.9" r="8"/><circle cx="807.1" cy="341.3" r="8"/><circle cx="804.9" cy="335.7" r="8"/><circle cx="794.3" cy="347.7" r="8"/><circle cx="814.9" cy="341" r="8"/><circle cx="783.5" cy="350.3" r="8"/><circle cx="777.9" cy="357.6" r="8"/><circle cx="774.1" cy="360.1" r="8"/><circle cx="813.7" cy="323.2" r="8"/><circle cx="796.3" cy="354.9" r="8"/><circle cx="781.2" cy="354.3" r="8"/><circle cx="783.7" cy="350.2" r="8"/><circle cx="791.6" cy="340.4" r="8"/><circle cx="799.3" cy="350.7" r="8"/><circle cx="794.8" cy="359.7" r="8"/><circle cx="769.2" cy="359" r="8"/><circle cx="803.3" cy="343.4" r="8"/><circle cx="792" cy="354.2" r="8"/><circle cx="806.6" cy="333.8" r="8"/><circle cx="800.1" cy="355.3" r="8"/><circle cx="794.1" cy="360" r="8"/><circle cx="812.5" cy="329.2" r="8"/><circle cx="805.1" cy="319.3" r="8"/><circle cx="775.7" cy="352" r="8"/><circle cx="780.7" cy="350.1" r="8"/><circle cx="786.2" cy="355.6" r="8"/><circle cx="798.7" cy="353.5" r="8"/><circle cx="794.7" cy="337.5" r="8"/><circle cx="797.6" cy="343.2" r="8"/><circle cx="796.3" cy="332.9" r="8"/><circle cx="801" cy="334.3" r="8"/><circle cx="802.6" cy="332.9" r="8"/><circle cx="797" cy="350.9" r="8"/><circle cx="789.3" cy="349.4" r="8"/><circle cx="791.4" cy="344.1" r="8"/><circle cx="789.8" cy="350" r="8"/><circle cx="786.4" cy="356.1" r="8"/><circle cx="819" cy="335.2" r="8"/><circle cx="815.6" cy="333.7" r="8"/><circle cx="772.9" cy="354.2" r="8"/><circle cx="798.3" cy="348.3" r="8"/><circle cx="787.2" cy="358.6" r="8"/><circle cx="784.1" cy="342" r="8"/><circle cx="803.6" cy="325.6" r="8"/><circle cx="814.5" cy="324.4" r="8"/><circle cx="775.7" cy="367.4" r="8"/><circle cx="796.6" cy="332.2" r="8"/><circle cx="790.8" cy="351.2" r="8"/><circle cx="772.4" cy="360.6" r="8"/><circle cx="816.8" cy="324.6" r="8"/><circle cx="785.1" cy="354.2" r="8"/><circle cx="794.8" cy="335.1" r="8"/><circle cx="813.1" cy="339.2" r="8"/><circle cx="814.6" cy="334.7" r="8"/><circle cx="805.4" cy="324.6" r="8"/><circle cx="781.4" cy="352.8" r="8"/><circle cx="808.6" cy="319.3" r="8"/><circle cx="784.5" cy="359" r="8"/><circle cx="810.2" cy="329" r="8"/><circle cx="806.3" cy="323.8" r="8"/><circle cx="808.5" cy="340.8" r="8"/><circle cx="798.9" cy="328" r="8"/><circle cx="778.7" cy="350.2" r="8"/><circle cx="780.9" cy="349.3" r="8"/><circle cx="800.2" cy="342.1" r="8"/><circle cx="778" cy="368.8" r="8"/><circle cx="819.1" cy="332" r="8"/><circle cx="780.3" cy="345.8" r="8"/><circle cx="781.3" cy="350.1" r="8"/><circle cx="780.7" cy="358.8" r="8"/><circle cx="807" cy="332.6" r="8"/><circle cx="805.2" cy="330" r="8"/><circle cx="791.8" cy="334" r="8"/><circle cx="814" cy="333" r="8"/><circle cx="806.2" cy="334.2" r="8"/><circle cx="812.5" cy="328.2" r="8"/><circle cx="769.5" cy="356.9" r="8"/><circle cx="796.6" cy="345" r="8"/><circle cx="791.1" cy="334.5" r="8"/><circle cx="771.1" cy="362.2" r="8"/><circle cx="800.8" cy="336.7" r="8"/><circle cx="777.8" cy="359.2" r="8"/><circle cx="774.7" cy="352.3" r="8"/><circle cx="769.4" cy="351.1" r="8"/><circle cx="782.8" cy="351" r="8"/><circle cx="807.4" cy="324.8" r="8"/><circle cx="814.7" cy="329.5" r="8"/><circle cx="771.4" cy="362.8" r="8"/><circle cx="793" cy="334.9" r="8"/><circle cx="810.4" cy="325.8" r="8"/><circle cx="790.9" cy="346.4" r="8"/><circle cx="778.6" cy="360.5" r="8"/><circle cx="802.9" cy="341.6" r="8"/><circle cx="787" cy="358.8" r="8"/><circle cx="796.8" cy="353.6" r="8"/><circle cx="787.5" cy="353.2" r="8"/><circle cx="794.5" cy="335.7" r="8"/><circle cx="778.1" cy="361.1" r="8"/><circle cx="794" cy="338.1" r="8"/><circle cx="791.7" cy="361.1" r="8"/><circle cx="794.8" cy="352" r="8"/><circle cx="809.3" cy="340.8" r="8"/><circle cx="780.1" cy="353.9" r="8"/><circle cx="770.8" cy="361.9" r="8"/><circle cx="801.6" cy="346.2" r="8"/><circle cx="783" cy="347.2" r="8"/><circle cx="772.2" cy="362.9" r="8"/><circle cx="797.6" cy="349.1" r="8"/><circle cx="794.8" cy="332.9" r="8"/><circle cx="773.1" cy="347.9" r="8"/><circle cx="793.3" cy="357.6" r="8"/><circle cx="799.7" cy="348" r="8"/><circle cx="791.2" cy="344" r="8"/><circle cx="768.5" cy="356.1" r="8"/><circle cx="791.9" cy="348.5" r="8"/><circle cx="803.1" cy="330.1" r="8"/><circle cx="814.6" cy="335" r="8"/><circle cx="814" cy="328.1" r="8"/><circle cx="770.8" cy="355.4" r="8"/><circle cx="792.1" cy="349.8" r="8"/><circle cx="780.3" cy="370.6" r="8"/><circle cx="801.1" cy="329.6" r="8"/><circle cx="804.5" cy="329.2" r="8"/><circle cx="812.7" cy="330.9" r="8"/><circle cx="809.2" cy="330" r="8"/><circle cx="778.4" cy="354.9" r="8"/><circle cx="797.8" cy="345.5" r="8"/><circle cx="803.8" cy="322.5" r="8"/><circle cx="776.3" cy="364.2" r="8"/><circle cx="809.7" cy="334.2" r="8"/><circle cx="800.8" cy="340.7" r="8"/><circle cx="796.1" cy="336" r="8"/><circle cx="813.1" cy="320.9" r="8"/><circle cx="811.6" cy="325.8" r="8"/><circle cx="799" cy="346.8" r="8"/><circle cx="799.8" cy="333.9" r="8"/><circle cx="812.9" cy="325.9" r="8"/><circle cx="789.5" cy="333.7" r="8"/><circle cx="805" cy="351" r="8"/><circle cx="786.6" cy="338.6" r="8"/><circle cx="795" cy="330.9" r="8"/><circle cx="778.7" cy="357.2" r="8"/><circle cx="808.6" cy="326.8" r="8"/><circle cx="775.3" cy="361.5" r="8"/><circle cx="784" cy="358.3" r="8"/><circle cx="813.1" cy="334.5" r="8"/><circle cx="780.5" cy="351.2" r="8"/><circle cx="777.2" cy="356.3" r="8"/><circle cx="781.3" cy="350.4" r="8"/><circle cx="768.8" cy="357.9" r="8"/><circle cx="799.9" cy="330.6" r="8"/><circle cx="801.4" cy="352.6" r="8"/><circle cx="807.2" cy="339.1" r="8"/><circle cx="811.4" cy="335.8" r="8"/><circle cx="780.5" cy="352.5" r="8"/><circle cx="793.2" cy="349.3" r="8"/><circle cx="799.7" cy="353.1" r="8"/><circle cx="794.5" cy="342.3" r="8"/><circle cx="794.6" cy="342.7" r="8"/><circle cx="778.2" cy="349.4" r="8"/><circle cx="814" cy="326.6" r="8"/><circle cx="801.4" cy="324.6" r="8"/><circle cx="802.6" cy="336.6" r="8"/><circle cx="812.7" cy="327.1" r="8"/><circle cx="811.8" cy="318.5" r="8"/><circle cx="796.9" cy="333.4" r="8"/><circle cx="820" cy="333.3" r="8"/><circle cx="783.6" cy="360.1" r="8"/><circle cx="790.8" cy="361.5" r="8"/><circle cx="812.1" cy="333.4" r="8"/><circle cx="800.1" cy="342.7" r="8"/><circle cx="800.1" cy="341.4" r="8"/><circle cx="778.8" cy="359.5" r="8"/><circle cx="801.5" cy="343.5" r="8"/><circle cx="799.2" cy="347.5" r="8"/><circle cx="783.4" cy="351.5" r="8"/><circle cx="777.7" cy="364.4" r="8"/><circle cx="795.8" cy="339.8" r="8"/><circle cx="789.2" cy="366.6" r="8"/><circle cx="806.3" cy="324.7" r="8"/><circle cx="811.3" cy="338.1" r="8"/><circle cx="810.7" cy="343.3" r="8"/><circle cx="796.8" cy="335.7" r="8"/><circle cx="802.2" cy="329.1" r="8"/><circle cx="790.9" cy="334.3" r="8"/><circle cx="809.2" cy="338.9" r="8"/><circle cx="778.8" cy="349.9" r="8"/><circle cx="796.9" cy="327.9" r="8"/><circle cx="789.7" cy="361.7" r="8"/><circle cx="789.4" cy="356.1" r="8"/><circle cx="813.4" cy="328.1" r="8"/><circle cx="795.4" cy="333.9" r="8"/><circle cx="796.2" cy="327.1" r="8"/><circle cx="791.1" cy="348.4" r="8"/><circle cx="791.7" cy="348.8" r="8"/><circle cx="791.8" cy="341.5" r="8"/><circle cx="797.8" cy="331.6" r="8"/><circle cx="823.4" cy="329" r="8"/><circle cx="808.2" cy="327.9" r="8"/><circle cx="774.4" cy="359.7" r="8"/><circle cx="790.1" cy="349.9" r="8"/><circle cx="799.1" cy="333.1" r="8"/><circle cx="795.3" cy="349.3" r="8"/><circle cx="779.9" cy="364.8" r="8"/><circle cx="787.7" cy="355.4" r="8"/><circle cx="776.7" cy="365.7" r="8"/><circle cx="799.9" cy="339.6" r="8"/><circle cx="803.4" cy="329.4" r="8"/><circle cx="810" cy="322.7" r="8"/><circle cx="779.9" cy="363.3" r="8"/><circle cx="798.6" cy="343.7" r="8"/><circle cx="804.1" cy="349.7" r="8"/><circle cx="802.3" cy="345.5" r="8"/><circle cx="778.1" cy="364" r="8"/><circle cx="815.4" cy="332" r="8"/><circle cx="777.5" cy="364.9" r="8"/><circle cx="783.2" cy="348.6" r="8"/><circle cx="800.5" cy="344.8" r="8"/><circle cx="813.9" cy="333.9" r="8"/><circle cx="809.4" cy="325.8" r="8"/><circle cx="806.8" cy="348" r="8"/><circle cx="789.8" cy="365.2" r="8"/><circle cx="801.1" cy="324.9" r="8"/><circle cx="785.4" cy="345.2" r="8"/><circle cx="782.9" cy="362.5" r="8"/><circle cx="790.7" cy="345.7" r="8"/><circle cx="808.2" cy="327.4" r="8"/><circle cx="792.8" cy="337" r="8"/><circle cx="789.5" cy="338.3" r="8"/><circle cx="777.1" cy="355.7" r="8"/><circle cx="793.2" cy="355.9" r="8"/><circle cx="814.3" cy="327.9" r="8"/><circle cx="771.2" cy="358.5" r="8"/><circle cx="774.5" cy="354.2" r="8"/><circle cx="770.4" cy="349.8" r="8"/><circle cx="769.7" cy="352.9" r="8"/><circle cx="801.7" cy="338.2" r="8"/><circle cx="799.4" cy="331.7" r="8"/><circle cx="780" cy="353.4" r="8"/><circle cx="796.9" cy="351.4" r="8"/><circle cx="792.9" cy="340.2" r="8"/><circle cx="775" cy="358.6" r="8"/><circle cx="782.3" cy="356.8" r="8"/><circle cx="823.9" cy="332.7" r="8"/><circle cx="783" cy="353.1" r="8"/><circle cx="811.1" cy="335.7" r="8"/><circle cx="811.3" cy="318.9" r="8"/><circle cx="788.6" cy="354" r="8"/><circle cx="807.8" cy="322.5" r="8"/><circle cx="804.4" cy="345.7" r="8"/><circle cx="804.8" cy="336.3" r="8"/><circle cx="811.4" cy="325.6" r="8"/><circle cx="777.5" cy="345.8" r="8"/><circle cx="817" cy="324.8" r="8"/><circle cx="790.9" cy="353.9" r="8"/><circle cx="781.8" cy="356.2" r="8"/><circle cx="781.3" cy="342.2" r="8"/><circle cx="801" cy="346.2" r="8"/><circle cx="793.3" cy="333.9" r="8"/><circle cx="820.5" cy="333" r="8"/><circle cx="787.1" cy="334.6" r="8"/><circle cx="789.7" cy="348.3" r="8"/><circle cx="781.9" cy="348.4" r="8"/><circle cx="786.4" cy="355.5" r="8"/><circle cx="786.8" cy="344.2" r="8"/><circle cx="792.4" cy="338.8" r="8"/><circle cx="792" cy="343.6" r="8"/><circle cx="782.3" cy="370.3" r="8"/><circle cx="776.1" cy="354.9" r="8"/><circle cx="783.5" cy="348.2" r="8"/><circle cx="782" cy="354.5" r="8"/><circle cx="785.1" cy="354.8" r="8"/><circle cx="788.6" cy="349.5" r="8"/><circle cx="800.5" cy="332" r="8"/><circle cx="798.1" cy="351" r="8"/><circle cx="789" cy="365.8" r="8"/><circle cx="770.3" cy="353.5" r="8"/><circle cx="781.4" cy="354.4" r="8"/><circle cx="799.1" cy="340.4" r="8"/><circle cx="796.8" cy="333.5" r="8"/><circle cx="797.5" cy="344" r="8"/><circle cx="790.9" cy="351.4" r="8"/><circle cx="812.6" cy="326.6" r="8"/><circle cx="814.6" cy="327.8" r="8"/><circle cx="772.4" cy="362.1" r="8"/><circle cx="774.6" cy="352.6" r="8"/><circle cx="817.5" cy="326.3" r="8"/><circle cx="768.2" cy="357.2" r="8"/><circle cx="772.8" cy="361.4" r="8"/><circle cx="763.7" cy="355.6" r="8"/><circle cx="812.2" cy="323.3" r="8"/><circle cx="792.2" cy="352" r="8"/><circle cx="817.5" cy="326.3" r="8"/><circle cx="773.1" cy="362.7" r="8"/><circle cx="811.6" cy="341.8" r="8"/><circle cx="813.1" cy="328.8" r="8"/><circle cx="793.1" cy="350.5" r="8"/><circle cx="792.7" cy="348.9" r="8"/><circle cx="811.3" cy="325.1" r="8"/><circle cx="776.6" cy="351.2" r="8"/><circle cx="798" cy="333.9" r="8"/><circle cx="788.3" cy="364.2" r="8"/><circle cx="806.8" cy="347.7" r="8"/><circle cx="789.3" cy="342.9" r="8"/><circle cx="790.1" cy="338.7" r="8"/><circle cx="812.9" cy="338.2" r="8"/><circle cx="814.3" cy="336.5" r="8"/><circle cx="792.7" cy="354.3" r="8"/><circle cx="797.1" cy="338.2" r="8"/><circle cx="823.4" cy="333.2" r="8"/><circle cx="771.3" cy="357.2" r="8"/><circle cx="800.4" cy="348.5" r="8"/><circle cx="808.9" cy="319.9" r="8"/><circle cx="775.3" cy="352.5" r="8"/><circle cx="792.5" cy="349.3" r="8"/><circle cx="788.5" cy="361.3" r="8"/><circle cx="789.7" cy="347.9" r="8"/><circle cx="778.5" cy="344.4" r="8"/><circle cx="777.7" cy="357.8" r="8"/><circle cx="812.3" cy="344" r="8"/><circle cx="768.3" cy="357.9" r="8"/><circle cx="792.6" cy="344.3" r="8"/><circle cx="790" cy="339.2" r="8"/><circle cx="813.6" cy="327.3" r="8"/><circle cx="817.7" cy="326.8" r="8"/><circle cx="807" cy="319.9" r="8"/><circle cx="818.3" cy="334.6" r="8"/><circle cx="802.7" cy="341.7" r="8"/><circle cx="784.2" cy="359.6" r="8"/><circle cx="781.4" cy="355.1" r="8"/><circle cx="801.8" cy="335.6" r="8"/><circle cx="803.7" cy="347.4" r="8"/><circle cx="784.2" cy="365.9" r="8"/><circle cx="769.1" cy="361.2" r="8"/><circle cx="791.2" cy="342.7" r="8"/><circle cx="810.9" cy="333.5" r="8"/><circle cx="773.9" cy="352.2" r="8"/><circle cx="784.4" cy="349.5" r="8"/><circle cx="811" cy="321.5" r="8"/><circle cx="790.3" cy="341.2" r="8"/><circle cx="790.7" cy="342.1" r="8"/><circle cx="783.7" cy="351.1" r="8"/><circle cx="773.6" cy="355.6" r="8"/><circle cx="776.1" cy="360.3" r="8"/><circle cx="811.7" cy="319.2" r="8"/><circle cx="821.2" cy="333.1" r="8"/><circle cx="779.6" cy="355.6" r="8"/><circle cx="800.5" cy="339.9" r="8"/><circle cx="806.6" cy="337.9" r="8"/><circle cx="799.8" cy="329.2" r="8"/><circle cx="773.8" cy="360.1" r="8"/><circle cx="803.8" cy="338.2" r="8"/><circle cx="797.1" cy="342.6" r="8"/><circle cx="810.7" cy="321" r="8"/><circle cx="772.7" cy="361.1" r="8"/><circle cx="782" cy="354.5" r="8"/><circle cx="783.3" cy="353.7" r="8"/><circle cx="776.8" cy="357.6" r="8"/><circle cx="790.6" cy="352.9" r="8"/><circle cx="816.3" cy="328.6" r="8"/><circle cx="809" cy="332.1" r="8"/><circle cx="803.3" cy="328.8" r="8"/><circle cx="796.5" cy="332.7" r="8"/><circle cx="771.6" cy="363.6" r="8"/><circle cx="773.6" cy="350.3" r="8"/><circle cx="786.2" cy="359.8" r="8"/><circle cx="778.9" cy="369.4" r="8"/><circle cx="810.4" cy="323.6" r="8"/><circle cx="802.8" cy="334.3" r="8"/><circle cx="798.3" cy="341.5" r="8"/><circle cx="799" cy="332.4" r="8"/><circle cx="799.2" cy="337.5" r="8"/><circle cx="796.4" cy="351.2" r="8"/><circle cx="807.9" cy="327.7" r="8"/><circle cx="781.9" cy="359.8" r="8"/><circle cx="804.8" cy="333.7" r="8"/><circle cx="805.5" cy="339.5" r="8"/><circle cx="798.4" cy="340.7" r="8"/><circle cx="814.6" cy="326.6" r="8"/><circle cx="799.2" cy="343.5" r="8"/><circle cx="778" cy="355.5" r="8"/><circle cx="804.1" cy="336.5" r="8"/><circle cx="780.4" cy="357.1" r="8"/><circle cx="812.3" cy="325.8" r="8"/><circle cx="805.3" cy="341" r="8"/><circle cx="774.7" cy="351" r="8"/><circle cx="818" cy="329.4" r="8"/><circle cx="803.1" cy="341.5" r="8"/><circle cx="790.9" cy="350.4" r="8"/><circle cx="815.7" cy="333.6" r="8"/><circle cx="781.2" cy="354.2" r="8"/><circle cx="786.7" cy="339.6" r="8"/><circle cx="786.3" cy="362.7" r="8"/><circle cx="810" cy="328.4" r="8"/><circle cx="787" cy="334.1" r="8"/><circle cx="778" cy="356.8" r="8"/><circle cx="779.4" cy="351.9" r="8"/><circle cx="789.7" cy="350" r="8"/><circle cx="773.6" cy="349.5" r="8"/><circle cx="794.5" cy="354.2" r="8"/><circle cx="773.3" cy="351.4" r="8"/><circle cx="776.9" cy="351.8" r="8"/><circle cx="799.4" cy="349.1" r="8"/><circle cx="780.7" cy="341.5" r="8"/><circle cx="794.3" cy="341.9" r="8"/><circle cx="804.6" cy="327.9" r="8"/><circle cx="814.9" cy="325.4" r="8"/><circle cx="782.4" cy="358.9" r="8"/><circle cx="808.8" cy="334.2" r="8"/><circle cx="795.9" cy="338.1" r="8"/><circle cx="782.1" cy="349.2" r="8"/><circle cx="795.9" cy="337.9" r="8"/><circle cx="811.1" cy="321.8" r="8"/><circle cx="811.8" cy="340.2" r="8"/><circle cx="794.9" cy="357.5" r="8"/><circle cx="772.1" cy="361.9" r="8"/><circle cx="791.4" cy="356.8" r="8"/><circle cx="805.6" cy="323.8" r="8"/><circle cx="813.4" cy="334" r="8"/><circle cx="796.5" cy="337" r="8"/><circle cx="801.2" cy="329.5" r="8"/><circle cx="775.8" cy="356.4" r="8"/><circle cx="808.6" cy="340.8" r="8"/><circle cx="809.8" cy="339.6" r="8"/><circle cx="802.7" cy="335.2" r="8"/><circle cx="819.3" cy="328.4" r="8"/><circle cx="810.4" cy="331.3" r="8"/><circle cx="773.6" cy="362.5" r="8"/><circle cx="793.1" cy="346.4" r="8"/><circle cx="801.6" cy="343.6" r="8"/><circle cx="816.7" cy="330.2" r="8"/><circle cx="818.4" cy="332.4" r="8"/><circle cx="788.8" cy="345.8" r="8"/><circle cx="786.9" cy="355.1" r="8"/><circle cx="765.1" cy="357.7" r="8"/><circle cx="799.9" cy="324.6" r="8"/><circle cx="778.6" cy="358.8" r="8"/><circle cx="788.5" cy="356.8" r="8"/><circle cx="787.5" cy="343" r="8"/><circle cx="778" cy="364.4" r="8"/><circle cx="788.8" cy="360.4" r="8"/><circle cx="813.1" cy="336.9" r="8"/><circle cx="796.5" cy="354.8" r="8"/><circle cx="809.1" cy="333.4" r="8"/><circle cx="805.2" cy="334" r="8"/><circle cx="790.2" cy="358.4" r="8"/><circle cx="786.1" cy="356.6" r="8"/><circle cx="798.1" cy="336.1" r="8"/><circle cx="805.2" cy="349.2" r="8"/><circle cx="796.8" cy="339.9" r="8"/><circle cx="802" cy="334.1" r="8"/><circle cx="793.4" cy="355" r="8"/><circle cx="815.2" cy="330.8" r="8"/><circle cx="795.5" cy="338.1" r="8"/><circle cx="778.1" cy="364.7" r="8"/><circle cx="775.3" cy="346.7" r="8"/><circle cx="787.6" cy="342.3" r="8"/><circle cx="802.6" cy="336.1" r="8"/><circle cx="799.4" cy="330.3" r="8"/><circle cx="793.9" cy="353.2" r="8"/><circle cx="795.8" cy="359.1" r="8"/><circle cx="791.8" cy="342.4" r="8"/><circle cx="797.6" cy="352.4" r="8"/><circle cx="804.6" cy="347" r="8"/><circle cx="794.4" cy="353.1" r="8"/><circle cx="790.2" cy="353.3" r="8"/><circle cx="817.1" cy="338.7" r="8"/><circle cx="799.5" cy="342.9" r="8"/><circle cx="790.3" cy="341.7" r="8"/><circle cx="777.2" cy="344.6" r="8"/><circle cx="806.1" cy="326.4" r="8"/><circle cx="782.6" cy="360" r="8"/><circle cx="785.4" cy="352.3" r="8"/><circle cx="783.5" cy="358.4" r="8"/><circle cx="811.3" cy="325.5" r="8"/><circle cx="804.5" cy="348" r="8"/><circle cx="797.9" cy="328.5" r="8"/><circle cx="778.8" cy="369.4" r="8"/><circle cx="772.8" cy="363.2" r="8"/><circle cx="783.5" cy="363.3" r="8"/><circle cx="791.1" cy="336.7" r="8"/><circle cx="809.2" cy="318.3" r="8"/><circle cx="801.5" cy="331.1" r="8"/><circle cx="820.4" cy="331.4" r="8"/><circle cx="796.6" cy="338.3" r="8"/><circle cx="787.2" cy="362" r="8"/><circle cx="792.5" cy="349.6" r="8"/><circle cx="781" cy="347.1" r="8"/><circle cx="792.2" cy="356.4" r="8"/><circle cx="806.4" cy="336.2" r="8"/><circle cx="819.7" cy="327.2" r="8"/><circle cx="813.8" cy="321.6" r="8"/><circle cx="812.2" cy="327.1" r="8"/><circle cx="797.1" cy="326.9" r="8"/><circle cx="807.7" cy="337.1" r="8"/><circle cx="795.8" cy="335.9" r="8"/><circle cx="791.5" cy="347.8" r="8"/><circle cx="783.2" cy="371.3" r="8"/><circle cx="796.1" cy="344.2" r="8"/><circle cx="815.1" cy="322.4" r="8"/><circle cx="780.6" cy="354.6" r="8"/><circle cx="807.8" cy="326" r="8"/><circle cx="806.7" cy="318.1" r="8"/><circle cx="778.6" cy="366.9" r="8"/><circle cx="784.4" cy="341.8" r="8"/><circle cx="784.1" cy="354.3" r="8"/><circle cx="800.2" cy="334.3" r="8"/><circle cx="812.3" cy="326.4" r="8"/><circle cx="805.7" cy="322.5" r="8"/><circle cx="793.4" cy="354.1" r="8"/><circle cx="786.5" cy="365.6" r="8"/><circle cx="778.1" cy="360" r="8"/><circle cx="813.9" cy="331.2" r="8"/><circle cx="795" cy="351.7" r="8"/><circle cx="786.6" cy="343.6" r="8"/><circle cx="811.9" cy="318.8" r="8"/><circle cx="790.6" cy="341.3" r="8"/><circle cx="783.8" cy="366.8" r="8"/><circle cx="779.4" cy="356" r="8"/><circle cx="811.1" cy="328.9" r="8"/><circle cx="796.8" cy="326.1" r="8"/><circle cx="777.9" cy="355" r="8"/><circle cx="803.3" cy="340.6" r="8"/><circle cx="810.7" cy="328.4" r="8"/><circle cx="793.7" cy="339.5" r="8"/><circle cx="795.2" cy="334.7" r="8"/><circle cx="777.5" cy="361.4" r="8"/><circle cx="799.5" cy="342.4" r="8"/><circle cx="792.8" cy="362.8" r="8"/><circle cx="792.8" cy="342" r="8"/><circle cx="792.6" cy="354.9" r="8"/><circle cx="818.6" cy="329.3" r="8"/><circle cx="812.5" cy="332.4" r="8"/><circle cx="816.5" cy="324.5" r="8"/><circle cx="794.9" cy="354.7" r="8"/><circle cx="800.5" cy="343.2" r="8"/><circle cx="790.6" cy="350.4" r="8"/><circle cx="802.1" cy="335.4" r="8"/><circle cx="796.3" cy="339.9" r="8"/><circle cx="799.1" cy="350.5" r="8"/><circle cx="784" cy="358.2" r="8"/><circle cx="815" cy="333.6" r="8"/><circle cx="807.2" cy="346.6" r="8"/><circle cx="798" cy="326.8" r="8"/><circle cx="812.1" cy="333.8" r="8"/><circle cx="796.3" cy="338.9" r="8"/><circle cx="770" cy="357.7" r="8"/><circle cx="777.9" cy="349.5" r="8"/><circle cx="789.9" cy="352.1" r="8"/><circle cx="770.4" cy="359.1" r="8"/><circle cx="786.6" cy="346.5" r="8"/><circle cx="778.9" cy="356" r="8"/><circle cx="795.1" cy="345.4" r="8"/><circle cx="773.7" cy="348.3" r="8"/><circle cx="796.6" cy="351" r="8"/><circle cx="800.4" cy="339.4" r="8"/><circle cx="787.1" cy="356.4" r="8"/><circle cx="804.3" cy="330.4" r="8"/><circle cx="784.9" cy="345" r="8"/><circle cx="766.7" cy="358.4" r="8"/><circle cx="794.8" cy="333.7" r="8"/><circle cx="794.8" cy="349.3" r="8"/><circle cx="785.1" cy="363.5" r="8"/><circle cx="776.3" cy="359.6" r="8"/><circle cx="782.3" cy="345.9" r="8"/><circle cx="808.7" cy="339.4" r="8"/><circle cx="812.4" cy="335.4" r="8"/><circle cx="797.8" cy="348.2" r="8"/><circle cx="800.4" cy="328.5" r="8"/><circle cx="772.8" cy="355.2" r="8"/><circle cx="803.8" cy="349.2" r="8"/><circle cx="775.9" cy="351.7" r="8"/><circle cx="816.1" cy="330.1" r="8"/><circle cx="792" cy="330.7" r="8"/><circle cx="810.3" cy="337.9" r="8"/><circle cx="812.8" cy="322.3" r="8"/><circle cx="808.6" cy="329.4" r="8"/><circle cx="815.8" cy="324.6" r="8"/><circle cx="787.2" cy="358.3" r="8"/><circle cx="792" cy="357.8" r="8"/><circle cx="811.9" cy="333.3" r="8"/><circle cx="810.1" cy="328.2" r="8"/><circle cx="810.8" cy="325.3" r="8"/><circle cx="779.9" cy="358.4" r="8"/><circle cx="806.9" cy="325.4" r="8"/><circle cx="773.5" cy="359.3" r="8"/><circle cx="775.6" cy="355.3" r="8"/><circle cx="784.2" cy="352.6" r="8"/><circle cx="808" cy="326.2" r="8"/><circle cx="793.3" cy="352" r="8"/><circle cx="774.7" cy="362.3" r="8"/><circle cx="801.7" cy="335.7" r="8"/><circle cx="791.4" cy="352.4" r="8"/><circle cx="817.3" cy="336.2" r="8"/><circle cx="778.9" cy="355.5" r="8"/><circle cx="787.7" cy="358.9" r="8"/><circle cx="809" cy="336" r="8"/><circle cx="798.6" cy="339.1" r="8"/><circle cx="771.7" cy="354.8" r="8"/><circle cx="790.7" cy="346" r="8"/><circle cx="812.8" cy="322.7" r="8"/><circle cx="786.4" cy="344.8" r="8"/><circle cx="814.2" cy="334.6" r="8"/><circle cx="785.6" cy="344.2" r="8"/><circle cx="814" cy="330.9" r="8"/><circle cx="779.7" cy="350.3" r="8"/><circle cx="778.6" cy="357.1" r="8"/><circle cx="782.6" cy="352.5" r="8"/><circle cx="787.7" cy="339.2" r="8"/><circle cx="780.5" cy="358.6" r="8"/><circle cx="792" cy="347.3" r="8"/><circle cx="799.5" cy="346.2" r="8"/><circle cx="776.9" cy="355.7" r="8"/><circle cx="785.2" cy="368.5" r="8"/><circle cx="800.9" cy="335.2" r="8"/><circle cx="792.5" cy="333.7" r="8"/><circle cx="779.2" cy="346.5" r="8"/><circle cx="799.9" cy="348.4" r="8"/><circle cx="809.9" cy="336.1" r="8"/><circle cx="770.1" cy="354" r="8"/><circle cx="772.7" cy="355.6" r="8"/><circle cx="775.5" cy="353.7" r="8"/><circle cx="783.5" cy="340.5" r="8"/><circle cx="785.9" cy="354.9" r="8"/><circle cx="791.6" cy="352.7" r="8"/><circle cx="796.2" cy="341.8" r="8"/><circle cx="801.7" cy="348" r="8"/><circle cx="785.9" cy="346.9" r="8"/><circle cx="799" cy="345.3" r="8"/><circle cx="818.6" cy="336.1" r="8"/><circle cx="770.1" cy="359.3" r="8"/><circle cx="779.2" cy="363.5" r="8"/><circle cx="810.1" cy="335.5" r="8"/><circle cx="793.6" cy="349.1" r="8"/><circle cx="787.7" cy="348.1" r="8"/><circle cx="799.5" cy="336.6" r="8"/><circle cx="811.8" cy="322.3" r="8"/><circle cx="775.5" cy="351.2" r="8"/><circle cx="796.9" cy="349.5" r="8"/><circle cx="811.2" cy="338.8" r="8"/><circle cx="782.1" cy="349.7" r="8"/><circle cx="804" cy="329.1" r="8"/><circle cx="795.7" cy="330.2" r="8"/><circle cx="786" cy="351.2" r="8"/><circle cx="812.6" cy="322" r="8"/><circle cx="783.5" cy="363.4" r="8"/><circle cx="799" cy="339" r="8"/><circle cx="770.6" cy="361.5" r="8"/><circle cx="803.8" cy="320.8" r="8"/><circle cx="781.4" cy="348" r="8"/><circle cx="816.2" cy="328.2" r="8"/><circle cx="785.6" cy="373.9" r="8"/><circle cx="790.6" cy="329.8" r="8"/><circle cx="793.8" cy="368.6" r="8"/><circle cx="774.3" cy="341" r="8"/><circle cx="825.4" cy="332.4" r="8"/><circle cx="793.6" cy="327.7" r="8"/><circle cx="785.8" cy="330.2" r="8"/><circle cx="787" cy="371.4" r="8"/><circle cx="816.1" cy="342.2" r="8"/><circle cx="782.9" cy="333.9" r="8"/><circle cx="797.8" cy="326.2" r="8"/><circle cx="823.4" cy="335.2" r="8"/><circle cx="817.8" cy="344" r="8"/><circle cx="793.7" cy="365.4" r="8"/><circle cx="809.8" cy="353" r="8"/><circle cx="767.5" cy="344.3" r="8"/><circle cx="817.9" cy="343.6" r="8"/><circle cx="800.7" cy="316.7" r="8"/><circle cx="804.5" cy="319.6" r="8"/><circle cx="795.3" cy="362" r="8"/><circle cx="820.5" cy="339.9" r="8"/><circle cx="784.9" cy="332.6" r="8"/><circle cx="785.2" cy="373.5" r="8"/><circle cx="805.3" cy="319.5" r="8"/><circle cx="784.9" cy="370.9" r="8"/><circle cx="795.4" cy="363.7" r="8"/><circle cx="795" cy="323.9" r="8"/><circle cx="792" cy="323.9" r="8"/><circle cx="798.9" cy="361.3" r="8"/><circle cx="808.1" cy="354.3" r="8"/><circle cx="805.4" cy="313.4" r="8"/><circle cx="813.5" cy="345.4" r="8"/><circle cx="766.7" cy="350" r="8"/><circle cx="788.8" cy="334" r="8"/><circle cx="781.7" cy="339.4" r="8"/><circle cx="779.8" cy="334.8" r="8"/><circle cx="774.6" cy="344.6" r="8"/><circle cx="792.3" cy="325.8" r="8"/><circle cx="849.8" cy="304.7" r="8"/><circle cx="824.8" cy="317" r="8"/><circle cx="842.2" cy="303" r="8"/><circle cx="855.2" cy="277.4" r="8"/><circle cx="817.4" cy="320.3" r="8"/><circle cx="849.4" cy="299.4" r="8"/><circle cx="845.7" cy="295.7" r="8"/><circle cx="836.9" cy="317.1" r="8"/><circle cx="825.6" cy="304.2" r="8"/><circle cx="867.4" cy="289.8" r="8"/><circle cx="826.2" cy="310.5" r="8"/><circle cx="844.4" cy="292" r="8"/><circle cx="859.5" cy="291.3" r="8"/><circle cx="843" cy="299.9" r="8"/><circle cx="836.5" cy="317.5" r="8"/><circle cx="821" cy="312.6" r="8"/><circle cx="823.1" cy="307" r="8"/><circle cx="838.3" cy="295" r="8"/><circle cx="827.2" cy="320.6" r="8"/><circle cx="840.8" cy="300" r="8"/><circle cx="835.6" cy="306.9" r="8"/><circle cx="828.3" cy="307.6" r="8"/><circle cx="857.7" cy="283.3" r="8"/><circle cx="839.8" cy="316.1" r="8"/><circle cx="843.6" cy="297.2" r="8"/><circle cx="858.2" cy="296.8" r="8"/><circle cx="845.6" cy="297.5" r="8"/><circle cx="827.3" cy="306.9" r="8"/><circle cx="850.9" cy="283.3" r="8"/><circle cx="832.6" cy="304.5" r="8"/><circle cx="821.7" cy="314.1" r="8"/><circle cx="846.4" cy="296.9" r="8"/><circle cx="834.7" cy="313.8" r="8"/><circle cx="841" cy="300.5" r="8"/><circle cx="824.4" cy="320.4" r="8"/><circle cx="841.8" cy="305.1" r="8"/><circle cx="827.8" cy="302.9" r="8"/><circle cx="818.6" cy="320" r="8"/><circle cx="811.4" cy="317.6" r="8"/><circle cx="825.3" cy="312.9" r="8"/><circle cx="838.5" cy="298.4" r="8"/><circle cx="856.7" cy="296.2" r="8"/><circle cx="858.4" cy="280.7" r="8"/><circle cx="852" cy="282.5" r="8"/><circle cx="847.9" cy="304.6" r="8"/><circle cx="847.8" cy="291.5" r="8"/><circle cx="851.4" cy="290.7" r="8"/><circle cx="820.7" cy="305.2" r="8"/><circle cx="830.8" cy="313" r="8"/><circle cx="820.8" cy="314.7" r="8"/><circle cx="863.9" cy="289.2" r="8"/><circle cx="831.6" cy="310.5" r="8"/><circle cx="856" cy="291.3" r="8"/><circle cx="841.8" cy="312.7" r="8"/><circle cx="823.6" cy="315.8" r="8"/><circle cx="848.6" cy="292.1" r="8"/><circle cx="851" cy="301.3" r="8"/><circle cx="854.4" cy="297.5" r="8"/><circle cx="829.3" cy="318.5" r="8"/><circle cx="860.8" cy="291.5" r="8"/><circle cx="860.3" cy="296.3" r="8"/><circle cx="850.8" cy="291.7" r="8"/><circle cx="824" cy="314.3" r="8"/><circle cx="832" cy="322.4" r="8"/><circle cx="841.5" cy="297.7" r="8"/><circle cx="854.6" cy="294.7" r="8"/><circle cx="835.3" cy="295" r="8"/><circle cx="845.1" cy="295.4" r="8"/><circle cx="843.8" cy="305.9" r="8"/><circle cx="825.2" cy="309.5" r="8"/><circle cx="850.3" cy="291.7" r="8"/><circle cx="841.9" cy="291.4" r="8"/><circle cx="833.1" cy="320.8" r="8"/><circle cx="825.7" cy="321.7" r="8"/><circle cx="823.7" cy="317.5" r="8"/><circle cx="840.5" cy="298.4" r="8"/><circle cx="842.3" cy="299.4" r="8"/><circle cx="837.4" cy="305.1" r="8"/><circle cx="816" cy="310.8" r="8"/><circle cx="851.5" cy="304.5" r="8"/><circle cx="830.2" cy="319.9" r="8"/><circle cx="835.7" cy="299.4" r="8"/><circle cx="847.3" cy="299.9" r="8"/><circle cx="840.1" cy="294.5" r="8"/><circle cx="834.6" cy="306.4" r="8"/><circle cx="849.3" cy="298.3" r="8"/><circle cx="831.4" cy="318.3" r="8"/><circle cx="859.8" cy="280.8" r="8"/><circle cx="831.6" cy="317.3" r="8"/><circle cx="833" cy="304.8" r="8"/><circle cx="837.4" cy="317.1" r="8"/><circle cx="843.4" cy="301.5" r="8"/><circle cx="850.2" cy="298.6" r="8"/><circle cx="847.2" cy="298.2" r="8"/><circle cx="851.8" cy="284.7" r="8"/><circle cx="836.1" cy="298" r="8"/><circle cx="831.2" cy="317.3" r="8"/><circle cx="853.2" cy="287.3" r="8"/><circle cx="839.7" cy="298.8" r="8"/><circle cx="850.5" cy="294.2" r="8"/><circle cx="845.6" cy="288" r="8"/><circle cx="863.9" cy="288.7" r="8"/><circle cx="846" cy="299.1" r="8"/><circle cx="861.5" cy="286.5" r="8"/><circle cx="837.6" cy="297.8" r="8"/><circle cx="827.8" cy="315.3" r="8"/><circle cx="833.4" cy="322.7" r="8"/><circle cx="832.3" cy="309.3" r="8"/><circle cx="851.2" cy="299.5" r="8"/><circle cx="823.4" cy="315.1" r="8"/><circle cx="856.3" cy="284.5" r="8"/><circle cx="816.9" cy="318.6" r="8"/><circle cx="836.3" cy="308.3" r="8"/><circle cx="829.1" cy="317.6" r="8"/><circle cx="845.4" cy="309.5" r="8"/><circle cx="850.4" cy="295" r="8"/><circle cx="841" cy="308.8" r="8"/><circle cx="842.6" cy="285.2" r="8"/><circle cx="842.7" cy="307.6" r="8"/><circle cx="858" cy="282.3" r="8"/><circle cx="846.3" cy="298.1" r="8"/><circle cx="836" cy="305.3" r="8"/><circle cx="861.9" cy="284.3" r="8"/><circle cx="858.1" cy="296.5" r="8"/><circle cx="857.7" cy="295.3" r="8"/><circle cx="853.9" cy="288.8" r="8"/><circle cx="845.9" cy="296.7" r="8"/><circle cx="865.5" cy="288.4" r="8"/><circle cx="832.6" cy="317.7" r="8"/><circle cx="842.8" cy="291.1" r="8"/><circle cx="817" cy="321.6" r="8"/><circle cx="843.2" cy="313.3" r="8"/><circle cx="854.9" cy="292.4" r="8"/><circle cx="834" cy="294.5" r="8"/><circle cx="831.3" cy="305.1" r="8"/><circle cx="866.9" cy="287.5" r="8"/><circle cx="823.5" cy="307.8" r="8"/><circle cx="836.6" cy="293" r="8"/><circle cx="857" cy="289.4" r="8"/><circle cx="853.5" cy="289.3" r="8"/><circle cx="846.7" cy="304.6" r="8"/><circle cx="855.8" cy="280.2" r="8"/><circle cx="818.4" cy="321.6" r="8"/><circle cx="842.3" cy="289" r="8"/><circle cx="860.2" cy="291.3" r="8"/><circle cx="853" cy="279.3" r="8"/><circle cx="818" cy="322.5" r="8"/><circle cx="846.2" cy="296.4" r="8"/><circle cx="849.1" cy="291" r="8"/><circle cx="858.5" cy="290.5" r="8"/><circle cx="845.9" cy="303.4" r="8"/><circle cx="832.4" cy="310" r="8"/><circle cx="864.9" cy="285.5" r="8"/><circle cx="831.4" cy="313.2" r="8"/><circle cx="844.5" cy="297.1" r="8"/><circle cx="844.2" cy="303.6" r="8"/><circle cx="850.1" cy="294.2" r="8"/><circle cx="855" cy="295.6" r="8"/><circle cx="857.9" cy="283.6" r="8"/><circle cx="819.7" cy="312.3" r="8"/><circle cx="815.8" cy="321.4" r="8"/><circle cx="843.4" cy="286.9" r="8"/><circle cx="827.9" cy="323.2" r="8"/><circle cx="826.8" cy="324" r="8"/><circle cx="861.9" cy="285.7" r="8"/><circle cx="850.1" cy="299.8" r="8"/><circle cx="845.6" cy="306.8" r="8"/><circle cx="832.9" cy="316.4" r="8"/><circle cx="834.1" cy="321.2" r="8"/><circle cx="845.5" cy="286.6" r="8"/><circle cx="827.9" cy="318.4" r="8"/><circle cx="815.1" cy="310.7" r="8"/><circle cx="829.2" cy="310" r="8"/><circle cx="822.2" cy="312.2" r="8"/><circle cx="849" cy="287.1" r="8"/><circle cx="845.1" cy="307.9" r="8"/><circle cx="848.3" cy="291.5" r="8"/><circle cx="835.9" cy="308.2" r="8"/><circle cx="814.3" cy="319.6" r="8"/><circle cx="844.8" cy="298.6" r="8"/><circle cx="840.3" cy="300.4" r="8"/><circle cx="841.1" cy="301.7" r="8"/><circle cx="849.3" cy="291.3" r="8"/><circle cx="854.5" cy="287.4" r="8"/><circle cx="862.3" cy="294.5" r="8"/><circle cx="833" cy="296.7" r="8"/><circle cx="838.8" cy="302.7" r="8"/><circle cx="833.9" cy="300.9" r="8"/><circle cx="826.6" cy="319.5" r="8"/><circle cx="836.4" cy="317.3" r="8"/><circle cx="844" cy="309.4" r="8"/><circle cx="837.9" cy="302" r="8"/><circle cx="842.5" cy="314.3" r="8"/><circle cx="835.7" cy="303.6" r="8"/><circle cx="836" cy="300" r="8"/><circle cx="841.8" cy="305.2" r="8"/><circle cx="824.2" cy="309.8" r="8"/><circle cx="832.4" cy="312" r="8"/><circle cx="840" cy="296.7" r="8"/><circle cx="846.4" cy="294.3" r="8"/><circle cx="840.4" cy="290.7" r="8"/><circle cx="816.6" cy="317.9" r="8"/><circle cx="836.3" cy="311.5" r="8"/><circle cx="841" cy="292.7" r="8"/><circle cx="852.2" cy="296.7" r="8"/><circle cx="822.9" cy="315.6" r="8"/><circle cx="823.7" cy="308.4" r="8"/><circle cx="853.8" cy="295.3" r="8"/><circle cx="827.2" cy="314.6" r="8"/><circle cx="822.8" cy="325.6" r="8"/><circle cx="830.4" cy="304.1" r="8"/><circle cx="825.1" cy="312.8" r="8"/><circle cx="851.9" cy="290.9" r="8"/><circle cx="834.2" cy="302.3" r="8"/><circle cx="858.3" cy="286.9" r="8"/><circle cx="831.6" cy="319" r="8"/><circle cx="834.8" cy="308.8" r="8"/><circle cx="843" cy="293.7" r="8"/><circle cx="863.8" cy="284.5" r="8"/><circle cx="841" cy="296.8" r="8"/><circle cx="830.6" cy="316" r="8"/><circle cx="853.4" cy="293.1" r="8"/><circle cx="826.7" cy="314.6" r="8"/><circle cx="822.4" cy="308.8" r="8"/><circle cx="826" cy="324.6" r="8"/><circle cx="862.7" cy="289.3" r="8"/><circle cx="857.9" cy="285.8" r="8"/><circle cx="826.8" cy="301.9" r="8"/><circle cx="819.8" cy="314.4" r="8"/><circle cx="827.2" cy="302.7" r="8"/><circle cx="827.1" cy="316.7" r="8"/><circle cx="862.5" cy="282.7" r="8"/><circle cx="833.9" cy="305.6" r="8"/><circle cx="844.2" cy="310.3" r="8"/><circle cx="838.1" cy="296.1" r="8"/><circle cx="832.3" cy="314.3" r="8"/><circle cx="856.2" cy="288" r="8"/><circle cx="844.4" cy="304.5" r="8"/><circle cx="834.5" cy="311.3" r="8"/><circle cx="836.8" cy="292.5" r="8"/><circle cx="822.5" cy="316.8" r="8"/><circle cx="815.3" cy="316.6" r="8"/><circle cx="863.3" cy="284.8" r="8"/><circle cx="841.5" cy="302" r="8"/><circle cx="838.9" cy="298.9" r="8"/><circle cx="831.4" cy="298.6" r="8"/><circle cx="835" cy="296.9" r="8"/><circle cx="829.7" cy="317.5" r="8"/><circle cx="830.8" cy="311.8" r="8"/><circle cx="844.3" cy="309.3" r="8"/><circle cx="851.5" cy="286.7" r="8"/><circle cx="850.5" cy="290.9" r="8"/><circle cx="856.7" cy="295.4" r="8"/><circle cx="824" cy="328.7" r="8"/><circle cx="825.3" cy="324.8" r="8"/><circle cx="832.5" cy="309.5" r="8"/><circle cx="827.5" cy="316.4" r="8"/><circle cx="839.7" cy="295.5" r="8"/><circle cx="820.4" cy="320.8" r="8"/><circle cx="830.5" cy="304.5" r="8"/><circle cx="846" cy="285.1" r="8"/><circle cx="851.3" cy="298.2" r="8"/><circle cx="823.9" cy="323.5" r="8"/><circle cx="834.1" cy="300" r="8"/><circle cx="846.8" cy="298.7" r="8"/><circle cx="846.2" cy="295.1" r="8"/><circle cx="818.3" cy="310.9" r="8"/><circle cx="851.9" cy="286.1" r="8"/><circle cx="853.5" cy="288.4" r="8"/><circle cx="850.7" cy="296.8" r="8"/><circle cx="848.5" cy="302.6" r="8"/><circle cx="846.7" cy="306.8" r="8"/><circle cx="837" cy="304.9" r="8"/><circle cx="851.9" cy="285" r="8"/><circle cx="830.7" cy="298.7" r="8"/><circle cx="816.2" cy="317.3" r="8"/><circle cx="866.2" cy="291.7" r="8"/><circle cx="850" cy="288" r="8"/><circle cx="854.2" cy="291.9" r="8"/><circle cx="832.9" cy="313.9" r="8"/><circle cx="823.5" cy="319.4" r="8"/><circle cx="827.3" cy="311.9" r="8"/><circle cx="835.7" cy="303" r="8"/><circle cx="852.5" cy="289.6" r="8"/><circle cx="825" cy="323" r="8"/><circle cx="858.4" cy="284.8" r="8"/><circle cx="819.3" cy="322.5" r="8"/><circle cx="819.7" cy="320" r="8"/><circle cx="819.3" cy="315.9" r="8"/><circle cx="831.9" cy="316.5" r="8"/><circle cx="849.2" cy="295.4" r="8"/><circle cx="861.7" cy="288.7" r="8"/><circle cx="831.6" cy="307.5" r="8"/><circle cx="816.7" cy="311.1" r="8"/><circle cx="827.8" cy="310.7" r="8"/><circle cx="833.8" cy="301.1" r="8"/><circle cx="818.1" cy="309.1" r="8"/><circle cx="854.3" cy="289" r="8"/><circle cx="820" cy="324.3" r="8"/><circle cx="843.9" cy="307.3" r="8"/><circle cx="828.4" cy="304.3" r="8"/><circle cx="848.5" cy="302" r="8"/><circle cx="849.5" cy="297.8" r="8"/><circle cx="843.2" cy="302.4" r="8"/><circle cx="837.7" cy="313.4" r="8"/><circle cx="839.5" cy="317.4" r="8"/><circle cx="832" cy="317.9" r="8"/><circle cx="814.7" cy="311.8" r="8"/><circle cx="830.5" cy="317.7" r="8"/><circle cx="863.3" cy="295.1" r="8"/><circle cx="844.5" cy="289" r="8"/><circle cx="851.2" cy="288.3" r="8"/><circle cx="858.8" cy="291.2" r="8"/><circle cx="827" cy="313.4" r="8"/><circle cx="836.3" cy="297.3" r="8"/><circle cx="837.2" cy="297.5" r="8"/><circle cx="845.1" cy="289.8" r="8"/><circle cx="844.3" cy="296.3" r="8"/><circle cx="839.8" cy="296.6" r="8"/><circle cx="831.5" cy="313.2" r="8"/><circle cx="836.9" cy="315" r="8"/><circle cx="850.4" cy="282.6" r="8"/><circle cx="867.6" cy="291.5" r="8"/><circle cx="834.7" cy="313.5" r="8"/><circle cx="819.3" cy="323.7" r="8"/><circle cx="844.1" cy="313.4" r="8"/><circle cx="826.2" cy="315.5" r="8"/><circle cx="854" cy="289.3" r="8"/><circle cx="822.7" cy="303.4" r="8"/><circle cx="840.4" cy="301.8" r="8"/><circle cx="828.7" cy="312.4" r="8"/><circle cx="826.7" cy="313.8" r="8"/><circle cx="842.1" cy="305.5" r="8"/><circle cx="845.2" cy="285.7" r="8"/><circle cx="818.9" cy="310.4" r="8"/><circle cx="836.4" cy="311.8" r="8"/><circle cx="837.4" cy="311.6" r="8"/><circle cx="821.5" cy="319.1" r="8"/><circle cx="830.2" cy="302.8" r="8"/><circle cx="832.5" cy="301.7" r="8"/><circle cx="857.8" cy="295.6" r="8"/><circle cx="852.2" cy="289.8" r="8"/><circle cx="823.9" cy="307.6" r="8"/><circle cx="829.2" cy="323.8" r="8"/><circle cx="835.4" cy="293.1" r="8"/><circle cx="834.4" cy="309.5" r="8"/><circle cx="844.4" cy="308.4" r="8"/><circle cx="829.2" cy="322.1" r="8"/><circle cx="816.4" cy="312.1" r="8"/><circle cx="827" cy="304.8" r="8"/><circle cx="837.8" cy="297.2" r="8"/><circle cx="849.9" cy="301.3" r="8"/><circle cx="821.2" cy="318.1" r="8"/><circle cx="818.4" cy="309.8" r="8"/><circle cx="827.1" cy="323.1" r="8"/><circle cx="851.7" cy="299.1" r="8"/><circle cx="852" cy="304.9" r="8"/><circle cx="813.7" cy="318.4" r="8"/><circle cx="847.8" cy="306" r="8"/><circle cx="817.1" cy="316.7" r="8"/><circle cx="848.2" cy="298" r="8"/><circle cx="826.5" cy="308.9" r="8"/><circle cx="851.6" cy="295.6" r="8"/><circle cx="850.8" cy="287.1" r="8"/><circle cx="833.6" cy="302.4" r="8"/><circle cx="813.6" cy="319.7" r="8"/><circle cx="832.2" cy="305.9" r="8"/><circle cx="850.9" cy="289.2" r="8"/><circle cx="821.6" cy="314.1" r="8"/><circle cx="847.9" cy="292.2" r="8"/><circle cx="854" cy="296" r="8"/><circle cx="824.2" cy="322.9" r="8"/><circle cx="853.3" cy="278.1" r="8"/><circle cx="832.8" cy="313.1" r="8"/><circle cx="843.1" cy="298.1" r="8"/><circle cx="842.4" cy="309.9" r="8"/><circle cx="813" cy="316.3" r="8"/><circle cx="815.2" cy="311.9" r="8"/><circle cx="850.9" cy="301.6" r="8"/><circle cx="848.7" cy="308.1" r="8"/><circle cx="823.2" cy="315.2" r="8"/><circle cx="842.6" cy="288.6" r="8"/><circle cx="831.1" cy="316.1" r="8"/><circle cx="841.6" cy="291.8" r="8"/><circle cx="823.6" cy="302.6" r="8"/><circle cx="841.9" cy="305.9" r="8"/><circle cx="859.2" cy="287.3" r="8"/><circle cx="811.4" cy="313.5" r="8"/><circle cx="831.7" cy="314.2" r="8"/><circle cx="858" cy="289.9" r="8"/><circle cx="849.1" cy="290.2" r="8"/><circle cx="824.6" cy="314.4" r="8"/><circle cx="838.9" cy="307.3" r="8"/><circle cx="819.1" cy="315.9" r="8"/><circle cx="850" cy="301" r="8"/><circle cx="821.6" cy="314.2" r="8"/><circle cx="857.1" cy="278.7" r="8"/><circle cx="842" cy="310.5" r="8"/><circle cx="822.5" cy="313.7" r="8"/><circle cx="831" cy="303.2" r="8"/><circle cx="840.9" cy="291" r="8"/><circle cx="832.8" cy="312.1" r="8"/><circle cx="827.1" cy="303.3" r="8"/><circle cx="860.2" cy="285" r="8"/><circle cx="826.4" cy="325.3" r="8"/><circle cx="824.4" cy="313.3" r="8"/><circle cx="834.8" cy="316.6" r="8"/><circle cx="845.4" cy="294.1" r="8"/><circle cx="842.6" cy="311" r="8"/><circle cx="849.8" cy="300.1" r="8"/><circle cx="844.7" cy="299.5" r="8"/><circle cx="862.6" cy="291.8" r="8"/><circle cx="849.5" cy="293.9" r="8"/><circle cx="825.2" cy="320.2" r="8"/><circle cx="822.4" cy="321.9" r="8"/><circle cx="825.1" cy="311.8" r="8"/><circle cx="840.6" cy="304.4" r="8"/><circle cx="840.7" cy="312" r="8"/><circle cx="846.8" cy="292.4" r="8"/><circle cx="855.6" cy="289.3" r="8"/><circle cx="851.3" cy="286.2" r="8"/><circle cx="829.4" cy="324.8" r="8"/><circle cx="849.7" cy="292.7" r="8"/><circle cx="816.3" cy="316.3" r="8"/><circle cx="843.7" cy="311.2" r="8"/><circle cx="854.9" cy="301" r="8"/><circle cx="843.9" cy="303.9" r="8"/><circle cx="837.7" cy="316.2" r="8"/><circle cx="863" cy="288.7" r="8"/><circle cx="855.6" cy="291.1" r="8"/><circle cx="858" cy="283" r="8"/><circle cx="829.1" cy="310.8" r="8"/><circle cx="846.8" cy="302.2" r="8"/><circle cx="860.8" cy="282.5" r="8"/><circle cx="854.1" cy="284.3" r="8"/><circle cx="850.6" cy="280.7" r="8"/><circle cx="838.6" cy="307.5" r="8"/><circle cx="830" cy="319.4" r="8"/><circle cx="831.2" cy="308.5" r="8"/><circle cx="818" cy="321.7" r="8"/><circle cx="854.2" cy="300.2" r="8"/><circle cx="836" cy="293.2" r="8"/><circle cx="838.9" cy="318.2" r="8"/><circle cx="828.6" cy="320.4" r="8"/><circle cx="867.2" cy="287.3" r="8"/><circle cx="835.9" cy="321.3" r="8"/><circle cx="828.5" cy="320.8" r="8"/><circle cx="856.3" cy="300.8" r="8"/><circle cx="853.9" cy="303.8" r="8"/><circle cx="863.3" cy="287.8" r="8"/><circle cx="859.6" cy="284.5" r="8"/><circle cx="847.3" cy="300.1" r="8"/><circle cx="843.5" cy="301.1" r="8"/><circle cx="819.8" cy="322.7" r="8"/><circle cx="846.9" cy="298.3" r="8"/><circle cx="834.3" cy="302.7" r="8"/><circle cx="854.2" cy="282.1" r="8"/><circle cx="844.5" cy="297.2" r="8"/><circle cx="839.6" cy="304" r="8"/><circle cx="851.8" cy="295.5" r="8"/><circle cx="840" cy="301.7" r="8"/><circle cx="821.1" cy="319.9" r="8"/><circle cx="849.9" cy="297.2" r="8"/><circle cx="827.6" cy="309.9" r="8"/><circle cx="851.1" cy="292.4" r="8"/><circle cx="836.2" cy="301.3" r="8"/><circle cx="834.4" cy="315.6" r="8"/><circle cx="833.5" cy="303.8" r="8"/><circle cx="861.3" cy="293.6" r="8"/><circle cx="851.5" cy="296.9" r="8"/><circle cx="822" cy="327.4" r="8"/><circle cx="839.2" cy="310.4" r="8"/><circle cx="845.8" cy="303.8" r="8"/><circle cx="823.1" cy="314.9" r="8"/><circle cx="840.5" cy="303.3" r="8"/><circle cx="835.8" cy="303.8" r="8"/><circle cx="845" cy="308.5" r="8"/><circle cx="843.8" cy="303.7" r="8"/><circle cx="837.8" cy="314.4" r="8"/><circle cx="839.2" cy="295.2" r="8"/><circle cx="860.1" cy="294" r="8"/><circle cx="846.9" cy="310.4" r="8"/><circle cx="840.6" cy="313.9" r="8"/><circle cx="818" cy="317.7" r="8"/><circle cx="848.2" cy="305.6" r="8"/><circle cx="848.1" cy="294.7" r="8"/><circle cx="844.2" cy="303.3" r="8"/><circle cx="841.8" cy="303.9" r="8"/><circle cx="839.6" cy="300.1" r="8"/><circle cx="829.8" cy="311.3" r="8"/><circle cx="836.5" cy="294" r="8"/><circle cx="838.4" cy="300.8" r="8"/><circle cx="824.7" cy="325" r="8"/><circle cx="835.2" cy="297.7" r="8"/><circle cx="850.2" cy="305.4" r="8"/><circle cx="829.2" cy="301.1" r="8"/><circle cx="828.5" cy="314.4" r="8"/><circle cx="826.3" cy="314.2" r="8"/><circle cx="819.2" cy="319.1" r="8"/><circle cx="842.7" cy="308.5" r="8"/><circle cx="845" cy="299.5" r="8"/><circle cx="824.9" cy="313" r="8"/><circle cx="841.9" cy="291.9" r="8"/><circle cx="821.5" cy="325.5" r="8"/><circle cx="850.3" cy="289.6" r="8"/><circle cx="814.9" cy="316.5" r="8"/><circle cx="862.7" cy="287.7" r="8"/><circle cx="822.8" cy="322.7" r="8"/><circle cx="862.2" cy="282.7" r="8"/><circle cx="850.3" cy="301" r="8"/><circle cx="830.1" cy="314.4" r="8"/><circle cx="827.1" cy="318.1" r="8"/><circle cx="827.2" cy="314.4" r="8"/><circle cx="834.1" cy="305.2" r="8"/><circle cx="825" cy="326.2" r="8"/><circle cx="816.8" cy="311.9" r="8"/><circle cx="829.4" cy="313.9" r="8"/><circle cx="843" cy="298.4" r="8"/><circle cx="840.8" cy="299.9" r="8"/><circle cx="825" cy="311.7" r="8"/><circle cx="863.3" cy="286.9" r="8"/><circle cx="843" cy="307.4" r="8"/><circle cx="845.5" cy="290" r="8"/><circle cx="834.6" cy="312.1" r="8"/><circle cx="832.9" cy="307.9" r="8"/><circle cx="816.4" cy="315" r="8"/><circle cx="829.6" cy="298.5" r="8"/><circle cx="819" cy="315.5" r="8"/><circle cx="841.8" cy="289.1" r="8"/><circle cx="851.2" cy="301.2" r="8"/><circle cx="826.2" cy="309.9" r="8"/><circle cx="834" cy="299.3" r="8"/><circle cx="840.7" cy="292.2" r="8"/><circle cx="831.7" cy="308.5" r="8"/><circle cx="828.1" cy="304.1" r="8"/><circle cx="853.5" cy="291.7" r="8"/><circle cx="859.8" cy="286.4" r="8"/><circle cx="825.2" cy="314.1" r="8"/><circle cx="867.7" cy="290.7" r="8"/><circle cx="836.4" cy="316.4" r="8"/><circle cx="843.2" cy="301.5" r="8"/><circle cx="854.5" cy="278.4" r="8"/><circle cx="855.5" cy="287" r="8"/><circle cx="846.5" cy="298.5" r="8"/><circle cx="848.7" cy="284.2" r="8"/><circle cx="830.7" cy="317.2" r="8"/><circle cx="840.7" cy="314.3" r="8"/><circle cx="849.2" cy="300.7" r="8"/><circle cx="829.8" cy="306.5" r="8"/><circle cx="840.4" cy="306.8" r="8"/><circle cx="832.3" cy="296.4" r="8"/><circle cx="829.9" cy="310.6" r="8"/><circle cx="848.8" cy="296.5" r="8"/><circle cx="849.2" cy="292" r="8"/><circle cx="843.4" cy="293" r="8"/><circle cx="844.8" cy="285" r="8"/><circle cx="816.3" cy="317.1" r="8"/><circle cx="815.7" cy="317.5" r="8"/><circle cx="849.5" cy="280.5" r="8"/><circle cx="857" cy="295.8" r="8"/><circle cx="821.9" cy="314.3" r="8"/><circle cx="824.2" cy="307.9" r="8"/><circle cx="821.5" cy="324.3" r="8"/><circle cx="853.9" cy="291.7" r="8"/><circle cx="828.5" cy="309.6" r="8"/><circle cx="846.1" cy="302.4" r="8"/><circle cx="837.3" cy="311.7" r="8"/><circle cx="830.9" cy="312.8" r="8"/><circle cx="833.6" cy="297.3" r="8"/><circle cx="849.2" cy="293.2" r="8"/><circle cx="846.4" cy="286.1" r="8"/><circle cx="827.9" cy="307.8" r="8"/><circle cx="861.9" cy="287.5" r="8"/><circle cx="852.1" cy="291.7" r="8"/><circle cx="848.9" cy="282.2" r="8"/><circle cx="827.7" cy="317" r="8"/><circle cx="831.4" cy="303" r="8"/><circle cx="812.8" cy="318.2" r="8"/><circle cx="851.8" cy="279" r="8"/><circle cx="839.6" cy="298.5" r="8"/><circle cx="857.3" cy="292.3" r="8"/><circle cx="823.8" cy="313" r="8"/><circle cx="812" cy="318.2" r="8"/><circle cx="831.9" cy="296.1" r="8"/><circle cx="820.3" cy="312.3" r="8"/><circle cx="819.6" cy="323.5" r="8"/><circle cx="835.3" cy="307.5" r="8"/><circle cx="853.9" cy="298.9" r="8"/><circle cx="845.7" cy="298.3" r="8"/><circle cx="850.8" cy="291.9" r="8"/><circle cx="818.1" cy="311.5" r="8"/><circle cx="826.8" cy="317.7" r="8"/><circle cx="839.5" cy="297.8" r="8"/><circle cx="830.1" cy="299.6" r="8"/><circle cx="850.5" cy="282.8" r="8"/><circle cx="838.3" cy="315.9" r="8"/><circle cx="835.7" cy="292.3" r="8"/><circle cx="833.3" cy="297.1" r="8"/><circle cx="824.6" cy="309.3" r="8"/><circle cx="818.9" cy="318.5" r="8"/><circle cx="856.1" cy="281.4" r="8"/><circle cx="852" cy="285.4" r="8"/><circle cx="825.1" cy="319.1" r="8"/><circle cx="837.2" cy="304.1" r="8"/><circle cx="860.2" cy="294.8" r="8"/><circle cx="816.3" cy="315.4" r="8"/><circle cx="843.4" cy="297.4" r="8"/><circle cx="856.5" cy="279.4" r="8"/><circle cx="826" cy="326.2" r="8"/><circle cx="853.7" cy="298.2" r="8"/><circle cx="834.4" cy="303.6" r="8"/><circle cx="849.2" cy="282.6" r="8"/><circle cx="857.2" cy="283" r="8"/><circle cx="846.9" cy="310" r="8"/><circle cx="842.8" cy="294.4" r="8"/><circle cx="830.7" cy="309.5" r="8"/><circle cx="832.3" cy="313.4" r="8"/><circle cx="829.3" cy="312.1" r="8"/><circle cx="842.2" cy="294.9" r="8"/><circle cx="819.8" cy="322" r="8"/><circle cx="812.1" cy="307.5" r="8"/><circle cx="831.7" cy="330.9" r="8"/><circle cx="808.8" cy="314.5" r="8"/><circle cx="837.4" cy="287.6" r="8"/><circle cx="806.8" cy="311.6" r="8"/><circle cx="860.7" cy="297.6" r="8"/><circle cx="822.6" cy="302.5" r="8"/><circle cx="840.8" cy="285.3" r="8"/><circle cx="824.6" cy="295.6" r="8"/><circle cx="848.6" cy="280.3" r="8"/><circle cx="833.3" cy="294.5" r="8"/><circle cx="823.5" cy="301.3" r="8"/><circle cx="827.3" cy="329.8" r="8"/><circle cx="846.9" cy="311.5" r="8"/><circle cx="863.2" cy="295.9" r="8"/><circle cx="857.3" cy="302.7" r="8"/><circle cx="832" cy="324.4" r="8"/><circle cx="817.3" cy="307.8" r="8"/><circle cx="851.9" cy="274.9" r="8"/><circle cx="853.8" cy="309.9" r="8"/><circle cx="836.3" cy="325.2" r="8"/><circle cx="828.9" cy="296.7" r="8"/><circle cx="853.7" cy="307.7" r="8"/><circle cx="869.2" cy="295.3" r="8"/><circle cx="808.5" cy="313.3" r="8"/><circle cx="816.6" cy="309.2" r="8"/><circle cx="857.8" cy="302.6" r="8"/><circle cx="828.4" cy="328.1" r="8"/><circle cx="846.4" cy="278.6" r="8"/><circle cx="843.1" cy="316.2" r="8"/><circle cx="838.5" cy="288.2" r="8"/><circle cx="868" cy="268.6" r="8"/><circle cx="894.4" cy="259" r="8"/><circle cx="890.2" cy="261.9" r="8"/><circle cx="896.4" cy="254.7" r="8"/><circle cx="862.2" cy="276" r="8"/><circle cx="882.5" cy="259.9" r="8"/><circle cx="870.8" cy="276.8" r="8"/><circle cx="881.2" cy="261.8" r="8"/><circle cx="896.9" cy="252.8" r="8"/><circle cx="887.1" cy="261.8" r="8"/><circle cx="864" cy="279.7" r="8"/><circle cx="897.5" cy="261" r="8"/><circle cx="889.4" cy="256.5" r="8"/><circle cx="894.3" cy="258.4" r="8"/><circle cx="867" cy="269.1" r="8"/><circle cx="860.9" cy="279.8" r="8"/><circle cx="875.5" cy="275.6" r="8"/><circle cx="864" cy="278.4" r="8"/><circle cx="868.1" cy="287.3" r="8"/><circle cx="863.2" cy="273.7" r="8"/><circle cx="889.2" cy="254.1" r="8"/><circle cx="863.2" cy="281.2" r="8"/><circle cx="872.2" cy="269.4" r="8"/><circle cx="886.4" cy="251.5" r="8"/><circle cx="888.6" cy="259.1" r="8"/><circle cx="885.2" cy="255" r="8"/><circle cx="880.9" cy="263.3" r="8"/><circle cx="877.8" cy="266.2" r="8"/><circle cx="880.3" cy="269.6" r="8"/><circle cx="866.1" cy="279.9" r="8"/><circle cx="889.8" cy="252.7" r="8"/><circle cx="869.9" cy="277.1" r="8"/><circle cx="882.3" cy="255.2" r="8"/><circle cx="871" cy="284.9" r="8"/><circle cx="876.3" cy="281.5" r="8"/><circle cx="876.8" cy="275.7" r="8"/><circle cx="886.6" cy="264.1" r="8"/><circle cx="875.6" cy="276.3" r="8"/><circle cx="876" cy="260.7" r="8"/><circle cx="879.2" cy="264.3" r="8"/><circle cx="886.6" cy="267" r="8"/><circle cx="882.5" cy="270.7" r="8"/><circle cx="884.7" cy="274" r="8"/><circle cx="880.3" cy="259.4" r="8"/><circle cx="890.1" cy="249.8" r="8"/><circle cx="871.1" cy="264.5" r="8"/><circle cx="889.4" cy="263.5" r="8"/><circle cx="877.1" cy="275" r="8"/><circle cx="868.7" cy="282.3" r="8"/><circle cx="865.1" cy="273.3" r="8"/><circle cx="892.6" cy="259.3" r="8"/><circle cx="888" cy="257.4" r="8"/><circle cx="873.6" cy="269.3" r="8"/><circle cx="879" cy="264.9" r="8"/><circle cx="873.3" cy="284" r="8"/><circle cx="886.2" cy="251.1" r="8"/><circle cx="891.5" cy="259.4" r="8"/><circle cx="879.8" cy="270.4" r="8"/><circle cx="892.5" cy="264" r="8"/><circle cx="879.7" cy="263.9" r="8"/><circle cx="884.1" cy="268.4" r="8"/><circle cx="886.6" cy="261.8" r="8"/><circle cx="868.9" cy="276.3" r="8"/><circle cx="868.7" cy="268.9" r="8"/><circle cx="867.1" cy="268.1" r="8"/><circle cx="877.5" cy="271.6" r="8"/><circle cx="876.8" cy="272.6" r="8"/><circle cx="865.4" cy="268.9" r="8"/><circle cx="893" cy="262.3" r="8"/><circle cx="867.6" cy="282.4" r="8"/><circle cx="868.8" cy="273.5" r="8"/><circle cx="879.2" cy="270.9" r="8"/><circle cx="881" cy="259" r="8"/><circle cx="894.2" cy="262.7" r="8"/><circle cx="874" cy="268.7" r="8"/><circle cx="892.4" cy="258.2" r="8"/><circle cx="887.5" cy="260.9" r="8"/><circle cx="865.7" cy="281.8" r="8"/><circle cx="878.9" cy="263.4" r="8"/><circle cx="887.7" cy="251.7" r="8"/><circle cx="873.9" cy="276.8" r="8"/><circle cx="871.8" cy="284.8" r="8"/><circle cx="879.2" cy="271.1" r="8"/><circle cx="871.8" cy="278.4" r="8"/><circle cx="898" cy="254.7" r="8"/><circle cx="883.6" cy="264.4" r="8"/><circle cx="887.8" cy="255.7" r="8"/><circle cx="870.5" cy="263.2" r="8"/><circle cx="879.1" cy="275" r="8"/><circle cx="864.2" cy="281.8" r="8"/><circle cx="877.3" cy="270.4" r="8"/><circle cx="876.9" cy="264.4" r="8"/><circle cx="861.9" cy="273.3" r="8"/><circle cx="890.2" cy="261.2" r="8"/><circle cx="864.1" cy="280.8" r="8"/><circle cx="880.3" cy="275.7" r="8"/><circle cx="871.1" cy="283.1" r="8"/><circle cx="862.6" cy="278.4" r="8"/><circle cx="872.5" cy="275.1" r="8"/><circle cx="867.2" cy="273.5" r="8"/><circle cx="885.3" cy="251.3" r="8"/><circle cx="867.2" cy="276.1" r="8"/><circle cx="860.5" cy="279.5" r="8"/><circle cx="880.4" cy="276.9" r="8"/><circle cx="892.5" cy="253.9" r="8"/><circle cx="877.2" cy="278.4" r="8"/><circle cx="878.8" cy="266.9" r="8"/><circle cx="865" cy="277.6" r="8"/><circle cx="883.8" cy="251.4" r="8"/><circle cx="894" cy="260.9" r="8"/><circle cx="895.6" cy="253.6" r="8"/><circle cx="883.6" cy="256.4" r="8"/><circle cx="889.7" cy="256.1" r="8"/><circle cx="867" cy="273.2" r="8"/><circle cx="897" cy="253.8" r="8"/><circle cx="876" cy="265.6" r="8"/><circle cx="878.3" cy="266.8" r="8"/><circle cx="876.2" cy="276.1" r="8"/><circle cx="879.1" cy="265.5" r="8"/><circle cx="884.2" cy="254" r="8"/><circle cx="887.2" cy="261.2" r="8"/><circle cx="880.8" cy="260.5" r="8"/><circle cx="885.6" cy="269.6" r="8"/><circle cx="872.2" cy="276.4" r="8"/><circle cx="885" cy="262.2" r="8"/><circle cx="878.1" cy="269.2" r="8"/><circle cx="896.6" cy="252.3" r="8"/><circle cx="889.9" cy="260.9" r="8"/><circle cx="870.2" cy="275.5" r="8"/><circle cx="888.7" cy="251" r="8"/><circle cx="864.4" cy="281.6" r="8"/><circle cx="891.4" cy="257.8" r="8"/><circle cx="866.6" cy="275.3" r="8"/><circle cx="889.9" cy="265.6" r="8"/><circle cx="886.7" cy="270.8" r="8"/><circle cx="865.2" cy="279.4" r="8"/><circle cx="887" cy="264.7" r="8"/><circle cx="891.6" cy="261.3" r="8"/><circle cx="870.8" cy="277.4" r="8"/><circle cx="895.4" cy="255.9" r="8"/><circle cx="890.4" cy="258.9" r="8"/><circle cx="879.7" cy="267.9" r="8"/><circle cx="861.3" cy="274.9" r="8"/><circle cx="867" cy="264.6" r="8"/><circle cx="864.4" cy="268.5" r="8"/><circle cx="899.4" cy="259.2" r="8"/><circle cx="867.4" cy="286.4" r="8"/><circle cx="875" cy="276" r="8"/><circle cx="877.1" cy="281.5" r="8"/><circle cx="871.9" cy="276.1" r="8"/><circle cx="875.4" cy="263.4" r="8"/><circle cx="864.2" cy="276.4" r="8"/><circle cx="870.2" cy="276.4" r="8"/><circle cx="874.2" cy="267.9" r="8"/><circle cx="880.3" cy="258.9" r="8"/><circle cx="871.9" cy="269.5" r="8"/><circle cx="888.7" cy="266.6" r="8"/><circle cx="869.8" cy="274.8" r="8"/><circle cx="862.1" cy="278.5" r="8"/><circle cx="871.2" cy="279.4" r="8"/><circle cx="862.7" cy="281" r="8"/><circle cx="873.6" cy="268.7" r="8"/><circle cx="884.7" cy="257" r="8"/><circle cx="861.2" cy="280.9" r="8"/><circle cx="866.6" cy="281.9" r="8"/><circle cx="884.9" cy="262.1" r="8"/><circle cx="872.6" cy="267.1" r="8"/><circle cx="887.9" cy="258.7" r="8"/><circle cx="868.2" cy="273.5" r="8"/><circle cx="893.2" cy="250.1" r="8"/><circle cx="869.9" cy="280.3" r="8"/><circle cx="883.8" cy="261.1" r="8"/><circle cx="858.7" cy="274" r="8"/><circle cx="862.6" cy="276.7" r="8"/><circle cx="868" cy="276.5" r="8"/><circle cx="862.1" cy="276.2" r="8"/><circle cx="862.8" cy="271.2" r="8"/><circle cx="890.9" cy="251.7" r="8"/><circle cx="865.1" cy="273.5" r="8"/><circle cx="883.8" cy="266.1" r="8"/><circle cx="877.5" cy="272.9" r="8"/><circle cx="871.9" cy="272.7" r="8"/><circle cx="889.7" cy="257.7" r="8"/><circle cx="882.3" cy="259.9" r="8"/><circle cx="867.2" cy="280.7" r="8"/><circle cx="868.9" cy="287.1" r="8"/><circle cx="867.7" cy="269" r="8"/><circle cx="885" cy="261.7" r="8"/><circle cx="864.7" cy="279.2" r="8"/><circle cx="896.3" cy="256.7" r="8"/><circle cx="885.9" cy="260.7" r="8"/><circle cx="869" cy="273.8" r="8"/><circle cx="886.1" cy="257.9" r="8"/><circle cx="888.6" cy="254.3" r="8"/><circle cx="878.6" cy="262.4" r="8"/><circle cx="893.7" cy="257.4" r="8"/><circle cx="891.6" cy="255.6" r="8"/><circle cx="862.9" cy="270.8" r="8"/><circle cx="890.5" cy="257.7" r="8"/><circle cx="895.8" cy="253.8" r="8"/><circle cx="874" cy="270.7" r="8"/><circle cx="872.6" cy="274.2" r="8"/><circle cx="885.7" cy="269.3" r="8"/><circle cx="878.4" cy="256.7" r="8"/><circle cx="890.5" cy="264.5" r="8"/><circle cx="869.7" cy="283.2" r="8"/><circle cx="864.5" cy="282.8" r="8"/><circle cx="890.7" cy="247.5" r="8"/><circle cx="896.2" cy="256.2" r="8"/><circle cx="879.5" cy="264.8" r="8"/><circle cx="882.8" cy="262.5" r="8"/><circle cx="865.8" cy="275.2" r="8"/><circle cx="884.2" cy="260.2" r="8"/><circle cx="861.7" cy="277.5" r="8"/><circle cx="882.3" cy="262.3" r="8"/><circle cx="869.7" cy="284" r="8"/><circle cx="887.5" cy="261.8" r="8"/><circle cx="868.9" cy="276.4" r="8"/><circle cx="888.6" cy="266.6" r="8"/><circle cx="876" cy="268.7" r="8"/><circle cx="882.7" cy="253.9" r="8"/><circle cx="897.7" cy="254.7" r="8"/><circle cx="884.8" cy="266.1" r="8"/><circle cx="861.5" cy="270.9" r="8"/><circle cx="892.4" cy="259.5" r="8"/><circle cx="893.7" cy="257.4" r="8"/><circle cx="885.4" cy="263.7" r="8"/><circle cx="861.7" cy="275.1" r="8"/><circle cx="881.7" cy="269.7" r="8"/><circle cx="895.3" cy="261.7" r="8"/><circle cx="869.7" cy="275.8" r="8"/><circle cx="896.1" cy="256.1" r="8"/><circle cx="878" cy="264.5" r="8"/><circle cx="883.3" cy="271.1" r="8"/><circle cx="887" cy="266.8" r="8"/><circle cx="886.9" cy="258.5" r="8"/><circle cx="878.9" cy="270.2" r="8"/><circle cx="876.6" cy="276.4" r="8"/><circle cx="857.9" cy="277.2" r="8"/><circle cx="879.3" cy="267" r="8"/><circle cx="881.7" cy="261.2" r="8"/><circle cx="874" cy="281.6" r="8"/><circle cx="880.4" cy="263.5" r="8"/><circle cx="881.8" cy="258.5" r="8"/><circle cx="885.6" cy="267.8" r="8"/><circle cx="860.1" cy="276.5" r="8"/><circle cx="864.9" cy="269.4" r="8"/><circle cx="893.1" cy="253.2" r="8"/><circle cx="861.7" cy="279.4" r="8"/><circle cx="896.9" cy="256.2" r="8"/><circle cx="865.6" cy="277.7" r="8"/><circle cx="888.4" cy="251.9" r="8"/><circle cx="876.6" cy="260.8" r="8"/><circle cx="881.7" cy="260.3" r="8"/><circle cx="867" cy="275.9" r="8"/><circle cx="860.3" cy="280.1" r="8"/><circle cx="862.9" cy="280.4" r="8"/><circle cx="876" cy="273.9" r="8"/><circle cx="892.6" cy="250.2" r="8"/><circle cx="874.9" cy="275.7" r="8"/><circle cx="896.7" cy="258" r="8"/><circle cx="866.6" cy="280.3" r="8"/><circle cx="878.4" cy="264.5" r="8"/><circle cx="888.8" cy="255.5" r="8"/><circle cx="895.6" cy="251.5" r="8"/><circle cx="871.2" cy="268.2" r="8"/><circle cx="866.6" cy="278.3" r="8"/><circle cx="886" cy="250.3" r="8"/><circle cx="893.5" cy="263.9" r="8"/><circle cx="892.3" cy="255.7" r="8"/><circle cx="881.4" cy="253" r="8"/><circle cx="898.3" cy="264.7" r="8"/><circle cx="898.5" cy="263.3" r="8"/><circle cx="887.2" cy="244.8" r="8"/><circle cx="855.7" cy="274.4" r="8"/><circle cx="873.3" cy="290.3" r="8"/><circle cx="888.8" cy="274.9" r="8"/><circle cx="873" cy="287.3" r="8"/><circle cx="876.2" cy="286.8" r="8"/><circle cx="872.5" cy="260.9" r="8"/><circle cx="881" cy="282.9" r="8"/><circle cx="894.4" cy="266.2" r="8"/><circle cx="893.2" cy="269.8" r="8"/><circle cx="875.1" cy="290" r="8"/><circle cx="908.7" cy="237.6" r="8"/><circle cx="896.2" cy="243.9" r="8"/><circle cx="896" cy="249.5" r="8"/><circle cx="911.4" cy="239.3" r="8"/><circle cx="903.1" cy="241.1" r="8"/><circle cx="902.8" cy="248.9" r="8"/><circle cx="914.9" cy="238.6" r="8"/><circle cx="913" cy="241.4" r="8"/><circle cx="913.1" cy="234.6" r="8"/><circle cx="898.5" cy="246.8" r="8"/><circle cx="902.6" cy="248.3" r="8"/><circle cx="907.6" cy="244.5" r="8"/><circle cx="910" cy="238.1" r="8"/><circle cx="901.1" cy="255.1" r="8"/><circle cx="899" cy="243.4" r="8"/><circle cx="904.3" cy="240" r="8"/><circle cx="892.4" cy="246.6" r="8"/><circle cx="901.5" cy="252.3" r="8"/><circle cx="900.4" cy="246.1" r="8"/><circle cx="903.4" cy="250.8" r="8"/><circle cx="909.8" cy="238.9" r="8"/><circle cx="912" cy="242.5" r="8"/><circle cx="909.8" cy="234.6" r="8"/><circle cx="907.9" cy="250.4" r="8"/><circle cx="911.4" cy="241.1" r="8"/><circle cx="910.1" cy="237.5" r="8"/><circle cx="906.6" cy="241.5" r="8"/><circle cx="912" cy="240.3" r="8"/><circle cx="908" cy="238.5" r="8"/><circle cx="905.9" cy="245.7" r="8"/><circle cx="896.7" cy="250.7" r="8"/><circle cx="897.7" cy="245.9" r="8"/><circle cx="910.6" cy="236.5" r="8"/><circle cx="901.9" cy="241.6" r="8"/><circle cx="910.7" cy="240.8" r="8"/><circle cx="912.5" cy="239.9" r="8"/><circle cx="900" cy="250.5" r="8"/><circle cx="907.1" cy="248.3" r="8"/><circle cx="903.6" cy="249.7" r="8"/><circle cx="898" cy="245.7" r="8"/><circle cx="902.6" cy="242.7" r="8"/><circle cx="906.6" cy="239.7" r="8"/><circle cx="907.7" cy="242" r="8"/><circle cx="899.1" cy="244.5" r="8"/><circle cx="905.6" cy="247.1" r="8"/><circle cx="896.8" cy="242.5" r="8"/><circle cx="901.3" cy="243.6" r="8"/><circle cx="905.2" cy="244.4" r="8"/><circle cx="911.7" cy="235.9" r="8"/><circle cx="905.5" cy="233.4" r="8"/><circle cx="902.2" cy="252.8" r="8"/><circle cx="900.1" cy="253.4" r="8"/><circle cx="901.1" cy="241.3" r="8"/><circle cx="899.2" cy="246.8" r="8"/><circle cx="903.9" cy="248.6" r="8"/><circle cx="913.1" cy="236" r="8"/><circle cx="910.5" cy="239.3" r="8"/><circle cx="900.1" cy="242.8" r="8"/><circle cx="905.5" cy="241.7" r="8"/><circle cx="912.2" cy="233.6" r="8"/><circle cx="904.2" cy="242.1" r="8"/><circle cx="898.5" cy="248.9" r="8"/><circle cx="911.1" cy="238.6" r="8"/><circle cx="910.6" cy="240.1" r="8"/><circle cx="902.6" cy="245.9" r="8"/><circle cx="907.4" cy="240.4" r="8"/><circle cx="908" cy="235.3" r="8"/><circle cx="900.5" cy="241.2" r="8"/><circle cx="898.8" cy="253.9" r="8"/><circle cx="905.6" cy="241.3" r="8"/><circle cx="898.3" cy="247.8" r="8"/><circle cx="896.4" cy="244.5" r="8"/><circle cx="913" cy="237.2" r="8"/><circle cx="911.6" cy="235.8" r="8"/><circle cx="910" cy="244.2" r="8"/><circle cx="898.7" cy="235.7" r="8"/><circle cx="918.2" cy="243.7" r="8"/><circle cx="897" cy="239.5" r="8"/><circle cx="909.8" cy="248.9" r="8"/><circle cx="927.4" cy="223.7" r="8"/><circle cx="920.2" cy="233.3" r="8"/><circle cx="926.7" cy="221" r="8"/><circle cx="914.2" cy="231.6" r="8"/><circle cx="920.9" cy="231.2" r="8"/><circle cx="918" cy="231.7" r="8"/><circle cx="918.5" cy="230" r="8"/><circle cx="929.6" cy="223" r="8"/><circle cx="925.9" cy="219.6" r="8"/><circle cx="920.4" cy="234" r="8"/><circle cx="914.2" cy="226.1" r="8"/><circle cx="919.1" cy="231.7" r="8"/><circle cx="923.3" cy="225.4" r="8"/><circle cx="926.9" cy="223.4" r="8"/><circle cx="916.6" cy="234.5" r="8"/><circle cx="915.5" cy="231.2" r="8"/><circle cx="919.1" cy="232.9" r="8"/><circle cx="929.8" cy="225.8" r="8"/><circle cx="930.9" cy="225.2" r="8"/><circle cx="915.9" cy="231.3" r="8"/><circle cx="922" cy="230.1" r="8"/><circle cx="927.7" cy="227.4" r="8"/><circle cx="920.7" cy="228.6" r="8"/><circle cx="918.6" cy="235.1" r="8"/><circle cx="927.5" cy="223.2" r="8"/><circle cx="920.3" cy="222.3" r="8"/><circle cx="918.4" cy="236.4" r="8"/><circle cx="916.2" cy="233.3" r="8"/><circle cx="927.5" cy="228.3" r="8"/><circle cx="925.7" cy="223.9" r="8"/><circle cx="911.4" cy="230.5" r="8"/><circle cx="925.3" cy="231" r="8"/><circle cx="926.6" cy="229" r="8"/><circle cx="933.3" cy="225.5" r="8"/><circle cx="923.4" cy="219.9" r="8"/><circle cx="917.4" cy="228.2" r="8"/><circle cx="922.8" cy="237.2" r="8"/><circle cx="919.2" cy="220.7" r="8"/><circle cx="915.7" cy="221.7" r="8"/><circle cx="917.1" cy="220.1" r="8"/><circle cx="909.1" cy="228" r="8"/><circle cx="916.4" cy="223.2" r="8"/><circle cx="915.3" cy="223.2" r="8"/><circle cx="935.4" cy="212.2" r="8"/><circle cx="945.5" cy="208.4" r="8"/><circle cx="934.4" cy="215.5" r="8"/><circle cx="937.9" cy="216.9" r="8"/><circle cx="936.7" cy="209.4" r="8"/><circle cx="940.3" cy="212.2" r="8"/><circle cx="932" cy="218.9" r="8"/><circle cx="937.7" cy="206.1" r="8"/><circle cx="934.9" cy="205.4" r="8"/><circle cx="1051.7" cy="128.5" r="8"/><circle cx="1005.7" cy="149.5" r="8"/><circle cx="982.3" cy="150.7" r="8"/><circle cx="994" cy="158.9" r="8"/><circle cx="984.2" cy="166.3" r="8"/><circle cx="977.2" cy="166.7" r="8"/><circle cx="969.8" cy="181.9" r="8"/><circle cx="964" cy="185.8" r="8"/><circle cx="966.7" cy="183" r="8"/><circle cx="949.2" cy="198.7" r="8"/><circle cx="945.3" cy="202.6" r="8"/><circle cx="935.5" cy="202.6" r="8"/><circle cx="923.8" cy="207.2" r="8"/><circle cx="941.4" cy="214.3" r="8"/><circle cx="894.6" cy="227.9" r="8"/><circle cx="900.4" cy="229" r="8"/><circle cx="927.7" cy="238.4" r="8"/><circle cx="905.5" cy="268" r="8"/><circle cx="853.6" cy="265" r="8"/><circle cx="865.3" cy="260.3" r="8"/>
</g>
<g fill="#d62214" fill-opacity="0.9">
<circle cx="947.6" cy="164.7" r="9.5"/><circle cx="879.8" cy="209.2" r="9.5"/><circle cx="905.1" cy="214.6" r="9.5"/><circle cx="869.2" cy="241.9" r="9.5"/><circle cx="801.1" cy="261.7" r="9.5"/><circle cx="801.8" cy="267" r="9.5"/><circle cx="825.7" cy="284.6" r="9.5"/><circle cx="808.1" cy="288.1" r="9.5"/><circle cx="815.2" cy="293.4" r="9.5"/><circle cx="781.7" cy="295.2" r="9.5"/><circle cx="769.3" cy="298.7" r="9.5"/><circle cx="795.8" cy="305.8" r="9.5"/><circle cx="802.8" cy="312.8" r="9.5"/><circle cx="755.2" cy="316.3" r="9.5"/><circle cx="778.1" cy="309.3" r="9.5"/><circle cx="787" cy="319.9" r="9.5"/><circle cx="748.2" cy="334" r="9.5"/><circle cx="765.8" cy="328.7" r="9.5"/><circle cx="776.4" cy="332.2" r="9.5"/><circle cx="742.9" cy="358.6" r="9.5"/><circle cx="741.1" cy="365.7" r="9.5"/><circle cx="755.2" cy="349.8" r="9.5"/><circle cx="762.3" cy="342.8" r="9.5"/><circle cx="760" cy="322" r="9.5"/><circle cx="770" cy="315" r="9.5"/><circle cx="780" cy="325" r="9.5"/><circle cx="790" cy="312" r="9.5"/><circle cx="752" cy="340" r="9.5"/><circle cx="748" cy="352" r="9.5"/><circle cx="758" cy="335" r="9.5"/><circle cx="768" cy="338" r="9.5"/><circle cx="785" cy="305" r="9.5"/><circle cx="773" cy="305" r="9.5"/><circle cx="798" cy="300" r="9.5"/><circle cx="805" cy="298" r="9.5"/>
</g>
<g fill="#4049a3" fill-opacity="0.95">
<circle cx="1054.8" cy="131.2" r="9.5"/><circle cx="923.8" cy="255.6" r="9.5"/><circle cx="862.7" cy="309.3" r="9.5"/><circle cx="855.7" cy="316.3" r="9.5"/><circle cx="848.6" cy="319.9" r="9.5"/><circle cx="892.7" cy="322.3" r="9.5"/><circle cx="904.3" cy="325.2" r="9.5"/><circle cx="832.8" cy="330.4" r="9.5"/><circle cx="836.3" cy="337.5" r="9.5"/><circle cx="853.9" cy="332.2" r="9.5"/><circle cx="865.6" cy="343.5" r="9.5"/><circle cx="829.3" cy="349.8" r="9.5"/><circle cx="811.6" cy="351.6" r="9.5"/><circle cx="816.9" cy="360.4" r="9.5"/><circle cx="801.1" cy="363.9" r="9.5"/><circle cx="808.1" cy="372.7" r="9.5"/><circle cx="855.7" cy="365" r="9.5"/><circle cx="876.1" cy="361.1" r="9.5"/><circle cx="776.4" cy="386.8" r="9.5"/><circle cx="820" cy="355" r="9.5"/><circle cx="825" cy="343" r="9.5"/><circle cx="840" cy="333" r="9.5"/><circle cx="845" cy="325" r="9.5"/><circle cx="806" cy="366" r="9.5"/><circle cx="813" cy="368" r="9.5"/><circle cx="822" cy="362" r="9.5"/><circle cx="858" cy="322" r="9.5"/>
</g>
<text transform="translate(1107.9 34.8) scale(0.93 1)" font-size="54.5" font-weight="bold" fill="#141615">c</text>
<text x="1326.5" y="37" font-size="33.5" text-anchor="start" fill="#141615">Ribosomal load<tspan font-size="19.5" dy="11">ORF</tspan></text>
<path d="M1250.3 77V409M1262.7 421.9H1625.3" fill="none" stroke="#141615" stroke-width="3.6"/>
<path d="M1252.1 78.6H1233.3M1252.1 133.4H1233.3M1252.1 188.2H1233.3M1252.1 243H1233.3M1252.1 297.8H1233.3M1252.1 352.6H1233.3M1252.1 407.4H1233.3M1264.3 420.1V438.9M1324.2 420.1V438.9M1384.1 420.1V438.9M1444 420.1V438.9M1503.9 420.1V438.9M1563.8 420.1V438.9M1623.7 420.1V438.9" fill="none" stroke="#141615" stroke-width="3.2"/>
<text x="1216" y="88.1" font-size="28" text-anchor="end" fill="#141615">6</text>
<text x="1216" y="142.2" font-size="28" text-anchor="end" fill="#141615">4</text>
<text x="1216" y="196.3" font-size="28" text-anchor="end" fill="#141615">2</text>
<text x="1216" y="252.2" font-size="28" text-anchor="end" fill="#141615">0</text>
<text x="1216" y="306.6" font-size="28" text-anchor="end" fill="#141615">-2</text>
<text x="1216" y="361.4" font-size="28" text-anchor="end" fill="#141615">-4</text>
<text x="1216" y="415.2" font-size="28" text-anchor="end" fill="#141615">-6</text>
<text x="1266.5" y="477.5" font-size="28" text-anchor="middle" fill="#141615">-6</text>
<text x="1328.7" y="477.5" font-size="28" text-anchor="middle" fill="#141615">-4</text>
<text x="1389.1" y="477.5" font-size="28" text-anchor="middle" fill="#141615">-2</text>
<text x="1444.8" y="477.5" font-size="28" text-anchor="middle" fill="#141615">0</text>
<text x="1502.5" y="477.5" font-size="28" text-anchor="middle" fill="#141615">2</text>
<text x="1562.4" y="477.5" font-size="28" text-anchor="middle" fill="#141615">4</text>
<text x="1624" y="477.5" font-size="28" text-anchor="middle" fill="#141615">6</text>
<text x="1239.3" y="523" font-size="28" text-anchor="start" fill="#141615" textLength="409.5">log<tspan font-size="16" dy="8">2</tspan><tspan font-size="28" dy="-8">(Ribo-Seq</tspan><tspan font-size="16" dy="8">RPKM</tspan><tspan font-size="28" dy="-8">/RNA-Seq</tspan><tspan font-size="16" dy="8">RPKM</tspan><tspan font-size="28" dy="-8">)</tspan></text>
<text transform="translate(1167.4 463.3) rotate(-90)" font-size="28" text-anchor="start" fill="#141615" textLength="410.5">log<tspan font-size="16" dy="8">2</tspan><tspan font-size="28" dy="-8">(Ribo-Seq</tspan><tspan font-size="16" dy="8">RPKM</tspan><tspan font-size="28" dy="-8">/RNA-Seq</tspan><tspan font-size="16" dy="8">RPKM</tspan><tspan font-size="28" dy="-8">)</tspan></text>
<text transform="translate(1286.5 227.8) rotate(-90)" font-size="28" text-anchor="start" fill="#141615">0.5 mM Met</text>
<text x="1312.8" y="105.3" font-size="34" text-anchor="start" fill="#d9291c">8</text>
<path d="M1352.4 80.3L1361.4 96.1Q1356.9 93.3 1354.2 93.3L1354.2 106.1L1350.6 106.1L1350.6 93.3Q1347.9 93.3 1343.4 96.1Z" fill="#e23210"/>
<text x="1557.5" y="370.4" font-size="34" text-anchor="start" fill="#3b2e96">35</text>
<path d="M1612.5 370.6L1621.5 354.8Q1617 357.6 1614.3 357.6L1614.3 344.8L1610.7 344.8L1610.7 357.6Q1608 357.6 1603.5 354.8Z" fill="#3b2e96"/>
<text x="1620" y="407.7" font-size="28" text-anchor="end" fill="#141615">0 mM Met</text>
<g fill="#141615" fill-opacity="0.36">
<circle cx="1394.3" cy="296" r="8"/><circle cx="1386.9" cy="301.3" r="8"/><circle cx="1394.5" cy="282.3" r="8"/><circle cx="1388.7" cy="292.6" r="8"/><circle cx="1387.6" cy="287.2" r="8"/><circle cx="1384.7" cy="290.3" r="8"/><circle cx="1391.3" cy="286.4" r="8"/><circle cx="1393.6" cy="280.6" r="8"/><circle cx="1380.8" cy="302.3" r="8"/><circle cx="1379.7" cy="294.5" r="8"/><circle cx="1380.4" cy="301.7" r="8"/><circle cx="1378.7" cy="293.9" r="8"/><circle cx="1385.2" cy="298.6" r="8"/><circle cx="1391.6" cy="286.3" r="8"/><circle cx="1380.5" cy="300.8" r="8"/><circle cx="1376.2" cy="300.5" r="8"/><circle cx="1378.8" cy="297.4" r="8"/><circle cx="1390.6" cy="296.7" r="8"/><circle cx="1390.1" cy="283.3" r="8"/><circle cx="1386.1" cy="292.2" r="8"/><circle cx="1375.5" cy="297.7" r="8"/><circle cx="1389.3" cy="292.6" r="8"/><circle cx="1395.2" cy="283.8" r="8"/><circle cx="1389.9" cy="295.1" r="8"/><circle cx="1379.1" cy="301.9" r="8"/><circle cx="1390.6" cy="297.1" r="8"/><circle cx="1380.6" cy="296.2" r="8"/><circle cx="1381.2" cy="306.6" r="8"/><circle cx="1382.2" cy="295" r="8"/><circle cx="1395.1" cy="290.9" r="8"/><circle cx="1389.9" cy="289.8" r="8"/><circle cx="1402.7" cy="292.9" r="8"/><circle cx="1392.3" cy="279.6" r="8"/><circle cx="1391.2" cy="291" r="8"/><circle cx="1380.8" cy="303.3" r="8"/><circle cx="1384.3" cy="286.8" r="8"/><circle cx="1395.2" cy="281.2" r="8"/><circle cx="1389.7" cy="283.5" r="8"/><circle cx="1398" cy="294.9" r="8"/><circle cx="1385.5" cy="294.5" r="8"/><circle cx="1382.5" cy="303" r="8"/><circle cx="1393.9" cy="287" r="8"/><circle cx="1381.3" cy="302.9" r="8"/><circle cx="1387.6" cy="282.9" r="8"/><circle cx="1394.9" cy="285.6" r="8"/><circle cx="1398.9" cy="288.2" r="8"/><circle cx="1380.9" cy="301.9" r="8"/><circle cx="1390.2" cy="295.3" r="8"/><circle cx="1378" cy="301.2" r="8"/><circle cx="1380.2" cy="302.5" r="8"/><circle cx="1399.2" cy="291.1" r="8"/><circle cx="1390.9" cy="290.1" r="8"/><circle cx="1379.8" cy="303" r="8"/><circle cx="1384.5" cy="300.1" r="8"/><circle cx="1379.5" cy="305.5" r="8"/><circle cx="1383.3" cy="297.8" r="8"/><circle cx="1373.2" cy="298.4" r="8"/><circle cx="1402.1" cy="287.3" r="8"/><circle cx="1377.1" cy="302.1" r="8"/><circle cx="1387.3" cy="291.8" r="8"/><circle cx="1390.8" cy="280.2" r="8"/><circle cx="1378.8" cy="297.5" r="8"/><circle cx="1385.1" cy="293.4" r="8"/><circle cx="1388.1" cy="283.7" r="8"/><circle cx="1385.8" cy="302.1" r="8"/><circle cx="1398.7" cy="290.6" r="8"/><circle cx="1378.6" cy="301.1" r="8"/><circle cx="1379.6" cy="297.1" r="8"/><circle cx="1387.4" cy="297.4" r="8"/><circle cx="1386.1" cy="294.5" r="8"/><circle cx="1398.6" cy="285.7" r="8"/><circle cx="1397.1" cy="286.1" r="8"/><circle cx="1388.9" cy="292.7" r="8"/><circle cx="1390.5" cy="283.5" r="8"/><circle cx="1388.2" cy="293" r="8"/><circle cx="1384.3" cy="288" r="8"/><circle cx="1392.3" cy="280" r="8"/><circle cx="1380.9" cy="294.6" r="8"/><circle cx="1398.1" cy="289" r="8"/><circle cx="1398.5" cy="290.3" r="8"/><circle cx="1390.6" cy="282.2" r="8"/><circle cx="1390.1" cy="279.8" r="8"/><circle cx="1380.4" cy="301.9" r="8"/><circle cx="1388.2" cy="291.4" r="8"/><circle cx="1388.9" cy="289" r="8"/><circle cx="1393.2" cy="291.7" r="8"/><circle cx="1377.6" cy="299.5" r="8"/><circle cx="1377.5" cy="302.8" r="8"/><circle cx="1389.2" cy="297.6" r="8"/><circle cx="1389.8" cy="297.5" r="8"/><circle cx="1382.3" cy="298" r="8"/><circle cx="1381.4" cy="307" r="8"/><circle cx="1392.4" cy="290.2" r="8"/><circle cx="1380.8" cy="303.9" r="8"/><circle cx="1375.8" cy="295.1" r="8"/><circle cx="1377.1" cy="298.3" r="8"/><circle cx="1385.9" cy="296.5" r="8"/><circle cx="1386.5" cy="298.9" r="8"/><circle cx="1385.4" cy="287" r="8"/><circle cx="1393.1" cy="294.4" r="8"/><circle cx="1400" cy="286.5" r="8"/><circle cx="1382.2" cy="301.5" r="8"/><circle cx="1382.4" cy="301.8" r="8"/><circle cx="1390.9" cy="290.1" r="8"/><circle cx="1389.5" cy="289.1" r="8"/><circle cx="1389.3" cy="285.1" r="8"/><circle cx="1399.4" cy="293.1" r="8"/><circle cx="1381.2" cy="300.3" r="8"/><circle cx="1389.6" cy="292.1" r="8"/><circle cx="1397.9" cy="291.3" r="8"/><circle cx="1394.1" cy="293.4" r="8"/><circle cx="1392.9" cy="288.9" r="8"/><circle cx="1385.9" cy="286.2" r="8"/><circle cx="1384.1" cy="294.5" r="8"/><circle cx="1388.4" cy="280" r="8"/><circle cx="1398.9" cy="286.3" r="8"/><circle cx="1387.7" cy="301.5" r="8"/><circle cx="1383.2" cy="294.6" r="8"/><circle cx="1396.4" cy="284" r="8"/><circle cx="1384.2" cy="300" r="8"/><circle cx="1382.3" cy="299.9" r="8"/><circle cx="1389.5" cy="294.8" r="8"/><circle cx="1388.2" cy="298.4" r="8"/><circle cx="1381.1" cy="299.2" r="8"/><circle cx="1377.3" cy="295.8" r="8"/><circle cx="1384.7" cy="293.8" r="8"/><circle cx="1400.6" cy="291.7" r="8"/><circle cx="1381.5" cy="303.8" r="8"/><circle cx="1386.9" cy="302.2" r="8"/><circle cx="1379.4" cy="296.7" r="8"/><circle cx="1387.7" cy="290.9" r="8"/><circle cx="1379.9" cy="299.1" r="8"/><circle cx="1397.5" cy="282.1" r="8"/><circle cx="1383.7" cy="289.5" r="8"/><circle cx="1392.7" cy="284.7" r="8"/><circle cx="1405.9" cy="289.5" r="8"/><circle cx="1390.3" cy="282.2" r="8"/><circle cx="1400.4" cy="289.1" r="8"/><circle cx="1387.2" cy="287.5" r="8"/><circle cx="1382.9" cy="293.8" r="8"/><circle cx="1388.8" cy="287.6" r="8"/><circle cx="1393.1" cy="285.6" r="8"/><circle cx="1393" cy="290.1" r="8"/><circle cx="1379.2" cy="298.9" r="8"/><circle cx="1399.5" cy="290.4" r="8"/><circle cx="1402.6" cy="291.1" r="8"/><circle cx="1381.4" cy="301" r="8"/><circle cx="1397" cy="295.4" r="8"/><circle cx="1387.6" cy="296.8" r="8"/><circle cx="1392.9" cy="280.4" r="8"/><circle cx="1377" cy="303.3" r="8"/><circle cx="1393.1" cy="282.3" r="8"/><circle cx="1382.3" cy="300" r="8"/><circle cx="1387.4" cy="300.1" r="8"/><circle cx="1387.7" cy="293.4" r="8"/><circle cx="1401.3" cy="289.3" r="8"/><circle cx="1392.9" cy="277.9" r="8"/><circle cx="1395.4" cy="279.7" r="8"/><circle cx="1387.2" cy="282.2" r="8"/><circle cx="1387.9" cy="293.9" r="8"/><circle cx="1388.5" cy="290.1" r="8"/><circle cx="1388.9" cy="294.8" r="8"/><circle cx="1385.3" cy="304.1" r="8"/><circle cx="1383.3" cy="290.6" r="8"/><circle cx="1377.1" cy="303.6" r="8"/><circle cx="1397.7" cy="287" r="8"/><circle cx="1398.7" cy="286.1" r="8"/><circle cx="1378.8" cy="302.6" r="8"/><circle cx="1398.9" cy="291.7" r="8"/><circle cx="1391.5" cy="286.8" r="8"/><circle cx="1382.5" cy="292.3" r="8"/><circle cx="1388.3" cy="294.9" r="8"/><circle cx="1400.2" cy="287.8" r="8"/><circle cx="1388.4" cy="298.3" r="8"/><circle cx="1383.5" cy="294.8" r="8"/><circle cx="1384.1" cy="296.2" r="8"/><circle cx="1397.9" cy="285.1" r="8"/><circle cx="1391.3" cy="277.6" r="8"/><circle cx="1374.9" cy="297" r="8"/><circle cx="1383" cy="295.2" r="8"/><circle cx="1385.7" cy="298.4" r="8"/><circle cx="1394.9" cy="279.4" r="8"/><circle cx="1380" cy="300.9" r="8"/><circle cx="1379.3" cy="290.1" r="8"/><circle cx="1390.3" cy="290" r="8"/><circle cx="1395.2" cy="281" r="8"/><circle cx="1391.4" cy="278.2" r="8"/><circle cx="1388.6" cy="289.5" r="8"/><circle cx="1396.5" cy="292.8" r="8"/><circle cx="1398.3" cy="285.7" r="8"/><circle cx="1390.7" cy="282" r="8"/><circle cx="1381.3" cy="296.2" r="8"/><circle cx="1383.2" cy="292.3" r="8"/><circle cx="1377.2" cy="294.7" r="8"/><circle cx="1392.1" cy="280" r="8"/><circle cx="1391.3" cy="284.9" r="8"/><circle cx="1399.6" cy="284.3" r="8"/><circle cx="1377.5" cy="294.3" r="8"/><circle cx="1394.2" cy="293.5" r="8"/><circle cx="1388.7" cy="301.6" r="8"/><circle cx="1383.6" cy="288.1" r="8"/><circle cx="1379.1" cy="302.9" r="8"/><circle cx="1380.4" cy="299.6" r="8"/><circle cx="1403" cy="288.2" r="8"/><circle cx="1383.3" cy="305.3" r="8"/><circle cx="1379.3" cy="304" r="8"/><circle cx="1393.6" cy="292" r="8"/><circle cx="1386.6" cy="293.3" r="8"/><circle cx="1381.1" cy="295.6" r="8"/><circle cx="1399.8" cy="284.7" r="8"/><circle cx="1390.9" cy="278.1" r="8"/><circle cx="1391.8" cy="277.4" r="8"/><circle cx="1394.4" cy="285.7" r="8"/><circle cx="1387.4" cy="288.2" r="8"/><circle cx="1396" cy="283.6" r="8"/><circle cx="1389" cy="295.5" r="8"/><circle cx="1391.2" cy="281.6" r="8"/><circle cx="1378.2" cy="303.3" r="8"/><circle cx="1396.8" cy="292.9" r="8"/><circle cx="1397.6" cy="290.8" r="8"/><circle cx="1381.5" cy="294.2" r="8"/><circle cx="1379.2" cy="299.5" r="8"/><circle cx="1375.1" cy="301.1" r="8"/><circle cx="1391.9" cy="288" r="8"/><circle cx="1391.5" cy="293.4" r="8"/><circle cx="1395" cy="283" r="8"/><circle cx="1388" cy="291.7" r="8"/><circle cx="1400.1" cy="288.7" r="8"/><circle cx="1383.9" cy="299.3" r="8"/><circle cx="1392.8" cy="278.9" r="8"/><circle cx="1383.6" cy="299.6" r="8"/><circle cx="1397.7" cy="296.8" r="8"/><circle cx="1381.8" cy="289" r="8"/><circle cx="1400.6" cy="286.2" r="8"/><circle cx="1392.3" cy="291.2" r="8"/><circle cx="1386.4" cy="291.9" r="8"/><circle cx="1385.6" cy="289.1" r="8"/><circle cx="1397.3" cy="295.4" r="8"/><circle cx="1391.8" cy="293.6" r="8"/><circle cx="1398" cy="284.9" r="8"/><circle cx="1393.1" cy="284.1" r="8"/><circle cx="1389.2" cy="288.1" r="8"/><circle cx="1388.4" cy="301.9" r="8"/><circle cx="1390.1" cy="296.5" r="8"/><circle cx="1382.4" cy="305.9" r="8"/><circle cx="1391" cy="283.1" r="8"/><circle cx="1385.3" cy="301" r="8"/><circle cx="1396.8" cy="288.9" r="8"/><circle cx="1392.4" cy="288.9" r="8"/><circle cx="1378.1" cy="304.6" r="8"/><circle cx="1393.2" cy="296.1" r="8"/><circle cx="1387.9" cy="287.5" r="8"/><circle cx="1389.7" cy="287.7" r="8"/><circle cx="1385.8" cy="289.5" r="8"/><circle cx="1381.1" cy="296.5" r="8"/><circle cx="1381.1" cy="296.1" r="8"/><circle cx="1376.7" cy="297.1" r="8"/><circle cx="1378.5" cy="304.2" r="8"/><circle cx="1383.3" cy="297.9" r="8"/><circle cx="1376" cy="299.3" r="8"/><circle cx="1383.1" cy="289.6" r="8"/><circle cx="1397.7" cy="287.5" r="8"/><circle cx="1388.5" cy="300.5" r="8"/><circle cx="1397.5" cy="291.6" r="8"/><circle cx="1390.6" cy="290.2" r="8"/><circle cx="1389.8" cy="283" r="8"/><circle cx="1392.7" cy="291.8" r="8"/><circle cx="1384.9" cy="290.1" r="8"/><circle cx="1375.2" cy="299.6" r="8"/><circle cx="1384.2" cy="299.3" r="8"/><circle cx="1379.2" cy="286.9" r="8"/><circle cx="1378.6" cy="289.9" r="8"/><circle cx="1374" cy="295" r="8"/><circle cx="1385.2" cy="283" r="8"/><circle cx="1390.4" cy="302.8" r="8"/><circle cx="1401.2" cy="294.6" r="8"/><circle cx="1407.7" cy="292.6" r="8"/><circle cx="1385.6" cy="277.6" r="8"/><circle cx="1404.5" cy="294.7" r="8"/><circle cx="1375.3" cy="289.5" r="8"/><circle cx="1400.2" cy="299.2" r="8"/><circle cx="1396.3" cy="296.9" r="8"/><circle cx="1390.9" cy="300.9" r="8"/><circle cx="1398.4" cy="296.3" r="8"/><circle cx="1405.4" cy="266.4" r="8"/><circle cx="1421.8" cy="266.1" r="8"/><circle cx="1411" cy="285.3" r="8"/><circle cx="1405" cy="279.3" r="8"/><circle cx="1429.4" cy="257.5" r="8"/><circle cx="1410.6" cy="268" r="8"/><circle cx="1448.6" cy="249.6" r="8"/><circle cx="1421.1" cy="260.2" r="8"/><circle cx="1404.5" cy="269.9" r="8"/><circle cx="1430.9" cy="242.3" r="8"/><circle cx="1419.9" cy="270.9" r="8"/><circle cx="1430" cy="257" r="8"/><circle cx="1433" cy="241.2" r="8"/><circle cx="1421.7" cy="262.9" r="8"/><circle cx="1399.6" cy="281.4" r="8"/><circle cx="1436.2" cy="258.5" r="8"/><circle cx="1408.7" cy="272" r="8"/><circle cx="1428.2" cy="249.6" r="8"/><circle cx="1423.6" cy="259.1" r="8"/><circle cx="1438.8" cy="250.5" r="8"/><circle cx="1442" cy="243.4" r="8"/><circle cx="1398.5" cy="272.1" r="8"/><circle cx="1437.5" cy="255.2" r="8"/><circle cx="1420.7" cy="263.7" r="8"/><circle cx="1410.6" cy="266" r="8"/><circle cx="1435.1" cy="252.8" r="8"/><circle cx="1402.5" cy="270.4" r="8"/><circle cx="1445.1" cy="243.4" r="8"/><circle cx="1419.1" cy="263.9" r="8"/><circle cx="1399.9" cy="273.1" r="8"/><circle cx="1442.5" cy="243.4" r="8"/><circle cx="1400.8" cy="275" r="8"/><circle cx="1438.4" cy="254.8" r="8"/><circle cx="1404.8" cy="278.2" r="8"/><circle cx="1401.6" cy="275.3" r="8"/><circle cx="1408.3" cy="271" r="8"/><circle cx="1405.6" cy="266.2" r="8"/><circle cx="1424.3" cy="270" r="8"/><circle cx="1422.1" cy="257.3" r="8"/><circle cx="1402.4" cy="278.7" r="8"/><circle cx="1421.1" cy="268" r="8"/><circle cx="1420.9" cy="260.8" r="8"/><circle cx="1407.1" cy="271.5" r="8"/><circle cx="1436.8" cy="241.1" r="8"/><circle cx="1408.6" cy="283.1" r="8"/><circle cx="1421.1" cy="255.3" r="8"/><circle cx="1427.9" cy="259.2" r="8"/><circle cx="1434.2" cy="247.1" r="8"/><circle cx="1398.4" cy="279.7" r="8"/><circle cx="1434.7" cy="253.3" r="8"/><circle cx="1440.7" cy="252.7" r="8"/><circle cx="1428.9" cy="247.5" r="8"/><circle cx="1443.7" cy="242.3" r="8"/><circle cx="1432.7" cy="240.8" r="8"/><circle cx="1414.1" cy="270.2" r="8"/><circle cx="1401.1" cy="283.3" r="8"/><circle cx="1409" cy="274.9" r="8"/><circle cx="1428.6" cy="256.7" r="8"/><circle cx="1438.6" cy="252.2" r="8"/><circle cx="1410.5" cy="260.9" r="8"/><circle cx="1416.5" cy="260.1" r="8"/><circle cx="1420.6" cy="262" r="8"/><circle cx="1408.4" cy="263.4" r="8"/><circle cx="1444.1" cy="245.1" r="8"/><circle cx="1444.7" cy="249.1" r="8"/><circle cx="1415.4" cy="262.9" r="8"/><circle cx="1407" cy="266.5" r="8"/><circle cx="1413" cy="263.5" r="8"/><circle cx="1409.9" cy="263.5" r="8"/><circle cx="1425.1" cy="265.6" r="8"/><circle cx="1426.9" cy="251.3" r="8"/><circle cx="1408.6" cy="261.3" r="8"/><circle cx="1411.9" cy="272.5" r="8"/><circle cx="1429.4" cy="253.4" r="8"/><circle cx="1415.6" cy="260.8" r="8"/><circle cx="1434.6" cy="245.5" r="8"/><circle cx="1426.2" cy="271.6" r="8"/><circle cx="1416.6" cy="266" r="8"/><circle cx="1421.4" cy="265.1" r="8"/><circle cx="1425.7" cy="266" r="8"/><circle cx="1410.9" cy="260.4" r="8"/><circle cx="1412.9" cy="266.8" r="8"/><circle cx="1404" cy="277.1" r="8"/><circle cx="1403.5" cy="274.1" r="8"/><circle cx="1434.2" cy="246.3" r="8"/><circle cx="1433.4" cy="242.6" r="8"/><circle cx="1433.6" cy="244.1" r="8"/><circle cx="1411.8" cy="262.6" r="8"/><circle cx="1421.4" cy="260" r="8"/><circle cx="1413.1" cy="276.9" r="8"/><circle cx="1422.7" cy="262.6" r="8"/><circle cx="1412.8" cy="263.3" r="8"/><circle cx="1403.7" cy="283.7" r="8"/><circle cx="1407.2" cy="281.2" r="8"/><circle cx="1422.4" cy="253.2" r="8"/><circle cx="1431.4" cy="243.2" r="8"/><circle cx="1437.9" cy="257" r="8"/><circle cx="1398" cy="277" r="8"/><circle cx="1400.5" cy="273.7" r="8"/><circle cx="1427.4" cy="246.1" r="8"/><circle cx="1407.9" cy="278.8" r="8"/><circle cx="1419.3" cy="260.6" r="8"/><circle cx="1413.6" cy="274.5" r="8"/><circle cx="1402.8" cy="276.4" r="8"/><circle cx="1438.6" cy="249.7" r="8"/><circle cx="1435.3" cy="247.9" r="8"/><circle cx="1431.6" cy="262.4" r="8"/><circle cx="1441.7" cy="245.2" r="8"/><circle cx="1406.2" cy="266.7" r="8"/><circle cx="1432.6" cy="256" r="8"/><circle cx="1416.2" cy="270.9" r="8"/><circle cx="1412.9" cy="268.6" r="8"/><circle cx="1418.2" cy="271.3" r="8"/><circle cx="1430.6" cy="249.9" r="8"/><circle cx="1404" cy="279.7" r="8"/><circle cx="1424.4" cy="261.7" r="8"/><circle cx="1422.2" cy="260.9" r="8"/><circle cx="1400.3" cy="277.5" r="8"/><circle cx="1434.9" cy="252.6" r="8"/><circle cx="1401.2" cy="275" r="8"/><circle cx="1409.1" cy="274" r="8"/><circle cx="1425.7" cy="252.9" r="8"/><circle cx="1406.1" cy="273.2" r="8"/><circle cx="1402.2" cy="281.6" r="8"/><circle cx="1442.8" cy="245" r="8"/><circle cx="1433.8" cy="262.6" r="8"/><circle cx="1426.7" cy="254.8" r="8"/><circle cx="1432.8" cy="261.6" r="8"/><circle cx="1403.2" cy="264.8" r="8"/><circle cx="1422.8" cy="246.9" r="8"/><circle cx="1436.6" cy="245.4" r="8"/><circle cx="1426.5" cy="247.3" r="8"/><circle cx="1432.3" cy="254.3" r="8"/><circle cx="1409.9" cy="263" r="8"/><circle cx="1428.1" cy="264.2" r="8"/><circle cx="1426.4" cy="265.1" r="8"/><circle cx="1438.9" cy="245.4" r="8"/><circle cx="1417.8" cy="272.5" r="8"/><circle cx="1415.9" cy="264.6" r="8"/><circle cx="1432.6" cy="249.7" r="8"/><circle cx="1434.8" cy="242.5" r="8"/><circle cx="1423.8" cy="253.3" r="8"/><circle cx="1427.8" cy="255.8" r="8"/><circle cx="1415.4" cy="268" r="8"/><circle cx="1412.1" cy="280.1" r="8"/><circle cx="1430.5" cy="254.8" r="8"/><circle cx="1405.1" cy="287.8" r="8"/><circle cx="1409.8" cy="264.8" r="8"/><circle cx="1438.7" cy="239.2" r="8"/><circle cx="1408.5" cy="277.2" r="8"/><circle cx="1407.9" cy="264" r="8"/><circle cx="1420.9" cy="254.9" r="8"/><circle cx="1427.8" cy="242.2" r="8"/><circle cx="1432.3" cy="247.5" r="8"/><circle cx="1413.8" cy="270.1" r="8"/><circle cx="1432.1" cy="245.6" r="8"/><circle cx="1417.4" cy="271" r="8"/><circle cx="1420.7" cy="268.3" r="8"/><circle cx="1405.6" cy="277.5" r="8"/><circle cx="1417.1" cy="271.8" r="8"/><circle cx="1443.9" cy="242.1" r="8"/><circle cx="1437.8" cy="239.5" r="8"/><circle cx="1429.1" cy="247.8" r="8"/><circle cx="1434.1" cy="240.4" r="8"/><circle cx="1427.5" cy="257.5" r="8"/><circle cx="1425" cy="265.5" r="8"/><circle cx="1416.1" cy="266.7" r="8"/><circle cx="1406.7" cy="272" r="8"/><circle cx="1401.3" cy="283.5" r="8"/><circle cx="1433" cy="238" r="8"/><circle cx="1416.8" cy="275.7" r="8"/><circle cx="1404.7" cy="279.4" r="8"/><circle cx="1403" cy="272.6" r="8"/><circle cx="1425" cy="252.7" r="8"/><circle cx="1437.5" cy="256.8" r="8"/><circle cx="1405.6" cy="273" r="8"/><circle cx="1434.7" cy="250.6" r="8"/><circle cx="1414.4" cy="263.3" r="8"/><circle cx="1443.8" cy="247.2" r="8"/><circle cx="1427.2" cy="264.4" r="8"/><circle cx="1404.6" cy="280.8" r="8"/><circle cx="1418.5" cy="259.1" r="8"/><circle cx="1426.4" cy="262.3" r="8"/><circle cx="1423.7" cy="255.1" r="8"/><circle cx="1407.8" cy="281.9" r="8"/><circle cx="1402.6" cy="277.8" r="8"/><circle cx="1442.5" cy="250.8" r="8"/><circle cx="1414.7" cy="265.2" r="8"/><circle cx="1422.7" cy="265.9" r="8"/><circle cx="1429.7" cy="253.3" r="8"/><circle cx="1425.2" cy="246.9" r="8"/><circle cx="1419.8" cy="264.4" r="8"/><circle cx="1443" cy="240.8" r="8"/><circle cx="1403.2" cy="282.4" r="8"/><circle cx="1432.6" cy="238.2" r="8"/><circle cx="1415.2" cy="268.8" r="8"/><circle cx="1434.2" cy="247.3" r="8"/><circle cx="1438" cy="250.8" r="8"/><circle cx="1422.2" cy="250.3" r="8"/><circle cx="1423" cy="249.8" r="8"/><circle cx="1444.9" cy="242.9" r="8"/><circle cx="1443" cy="245.6" r="8"/><circle cx="1436.8" cy="255.6" r="8"/><circle cx="1406" cy="267.7" r="8"/><circle cx="1436" cy="259.5" r="8"/><circle cx="1406.2" cy="274.8" r="8"/><circle cx="1437.4" cy="244.2" r="8"/><circle cx="1429.7" cy="249.5" r="8"/><circle cx="1429.7" cy="252.8" r="8"/><circle cx="1415.3" cy="276.8" r="8"/><circle cx="1427.1" cy="262.6" r="8"/><circle cx="1409.8" cy="272.1" r="8"/><circle cx="1410.4" cy="280.2" r="8"/><circle cx="1421.5" cy="249.1" r="8"/><circle cx="1445.4" cy="249.7" r="8"/><circle cx="1418.4" cy="270.4" r="8"/><circle cx="1412.1" cy="267.1" r="8"/><circle cx="1405.7" cy="282.3" r="8"/><circle cx="1414" cy="258.1" r="8"/><circle cx="1420.7" cy="258.2" r="8"/><circle cx="1401.1" cy="279" r="8"/><circle cx="1412.2" cy="266.4" r="8"/><circle cx="1422.4" cy="269.7" r="8"/><circle cx="1406.4" cy="271.2" r="8"/><circle cx="1396.9" cy="273.1" r="8"/><circle cx="1410.9" cy="278.6" r="8"/><circle cx="1444.7" cy="242.8" r="8"/><circle cx="1440.6" cy="249.5" r="8"/><circle cx="1404.3" cy="272.9" r="8"/><circle cx="1427.5" cy="255.9" r="8"/><circle cx="1438.7" cy="242.1" r="8"/><circle cx="1424.2" cy="264.8" r="8"/><circle cx="1427.1" cy="261" r="8"/><circle cx="1443.7" cy="251.3" r="8"/><circle cx="1434.9" cy="246.7" r="8"/><circle cx="1438.2" cy="240.6" r="8"/><circle cx="1413.2" cy="267.5" r="8"/><circle cx="1419.7" cy="259.4" r="8"/><circle cx="1438" cy="245.9" r="8"/><circle cx="1418" cy="265.1" r="8"/><circle cx="1439" cy="247.3" r="8"/><circle cx="1441.6" cy="244.5" r="8"/><circle cx="1401" cy="271.7" r="8"/><circle cx="1412.8" cy="269.5" r="8"/><circle cx="1404" cy="286.1" r="8"/><circle cx="1438.4" cy="258.3" r="8"/><circle cx="1400" cy="273.2" r="8"/><circle cx="1421.2" cy="265.1" r="8"/><circle cx="1398.1" cy="276.7" r="8"/><circle cx="1426.5" cy="266.2" r="8"/><circle cx="1439.8" cy="243.9" r="8"/><circle cx="1403" cy="282.9" r="8"/><circle cx="1401.7" cy="282.8" r="8"/><circle cx="1434.5" cy="255.6" r="8"/><circle cx="1409.1" cy="269.7" r="8"/><circle cx="1435.5" cy="258.7" r="8"/><circle cx="1422.3" cy="263.5" r="8"/><circle cx="1445.6" cy="245.2" r="8"/><circle cx="1443.9" cy="248.1" r="8"/><circle cx="1414.3" cy="272.5" r="8"/><circle cx="1417.1" cy="269.5" r="8"/><circle cx="1405.6" cy="268.2" r="8"/><circle cx="1429" cy="249.9" r="8"/><circle cx="1437.2" cy="246.6" r="8"/><circle cx="1423.1" cy="266.1" r="8"/><circle cx="1426.3" cy="261.5" r="8"/><circle cx="1441.3" cy="255" r="8"/><circle cx="1435.2" cy="260.8" r="8"/><circle cx="1412" cy="274.8" r="8"/><circle cx="1444.4" cy="253" r="8"/><circle cx="1438.2" cy="254.7" r="8"/><circle cx="1431.1" cy="245.6" r="8"/><circle cx="1413.1" cy="271.3" r="8"/><circle cx="1406.2" cy="277.3" r="8"/><circle cx="1403.4" cy="276.8" r="8"/><circle cx="1415.4" cy="277.6" r="8"/><circle cx="1408" cy="271.8" r="8"/><circle cx="1398" cy="279.8" r="8"/><circle cx="1444.2" cy="243.9" r="8"/><circle cx="1431.2" cy="255.7" r="8"/><circle cx="1434.4" cy="252.7" r="8"/><circle cx="1412.8" cy="257.1" r="8"/><circle cx="1440.8" cy="251" r="8"/><circle cx="1411.2" cy="273.4" r="8"/><circle cx="1401.9" cy="273.9" r="8"/><circle cx="1436.7" cy="254.3" r="8"/><circle cx="1403.7" cy="275.1" r="8"/><circle cx="1413.8" cy="266.8" r="8"/><circle cx="1403.7" cy="274.9" r="8"/><circle cx="1424.2" cy="266.9" r="8"/><circle cx="1443.9" cy="242.9" r="8"/><circle cx="1439.9" cy="241.4" r="8"/><circle cx="1439.2" cy="247.3" r="8"/><circle cx="1423.6" cy="258.6" r="8"/><circle cx="1415.9" cy="266.2" r="8"/><circle cx="1436.3" cy="260.4" r="8"/><circle cx="1403" cy="276.6" r="8"/><circle cx="1444.7" cy="245.9" r="8"/><circle cx="1434.5" cy="248" r="8"/><circle cx="1437.3" cy="257.9" r="8"/><circle cx="1432.1" cy="253.7" r="8"/><circle cx="1415.6" cy="259.5" r="8"/><circle cx="1439.1" cy="238.1" r="8"/><circle cx="1438" cy="254" r="8"/><circle cx="1438.8" cy="247" r="8"/><circle cx="1439.4" cy="242.3" r="8"/><circle cx="1401.6" cy="278.5" r="8"/><circle cx="1405.7" cy="277.3" r="8"/><circle cx="1431.7" cy="250.6" r="8"/><circle cx="1423.3" cy="260.2" r="8"/><circle cx="1422.7" cy="256.4" r="8"/><circle cx="1429.7" cy="250.9" r="8"/><circle cx="1411.3" cy="272.3" r="8"/><circle cx="1417.5" cy="269.1" r="8"/><circle cx="1399.2" cy="281.9" r="8"/><circle cx="1405.6" cy="264" r="8"/><circle cx="1417.5" cy="276" r="8"/><circle cx="1434" cy="256.1" r="8"/><circle cx="1407.1" cy="272.2" r="8"/><circle cx="1402.4" cy="272.8" r="8"/><circle cx="1438.9" cy="237.6" r="8"/><circle cx="1399.8" cy="269.8" r="8"/><circle cx="1434.3" cy="251.8" r="8"/><circle cx="1418.1" cy="266.4" r="8"/><circle cx="1431.6" cy="248.7" r="8"/><circle cx="1443" cy="245.3" r="8"/><circle cx="1417.8" cy="267.3" r="8"/><circle cx="1444.4" cy="251.6" r="8"/><circle cx="1400.8" cy="281.2" r="8"/><circle cx="1434.3" cy="243.4" r="8"/><circle cx="1426.3" cy="259.3" r="8"/><circle cx="1425.2" cy="256" r="8"/><circle cx="1444.4" cy="246.3" r="8"/><circle cx="1400.5" cy="275.5" r="8"/><circle cx="1433.9" cy="263.3" r="8"/><circle cx="1444.6" cy="254.5" r="8"/><circle cx="1446.4" cy="246.1" r="8"/><circle cx="1444.4" cy="242.2" r="8"/><circle cx="1432.4" cy="263.5" r="8"/><circle cx="1426.3" cy="256.6" r="8"/><circle cx="1430.8" cy="248.5" r="8"/><circle cx="1442.5" cy="249.8" r="8"/><circle cx="1405.1" cy="277.4" r="8"/><circle cx="1411.6" cy="279" r="8"/><circle cx="1433" cy="255.6" r="8"/><circle cx="1422.9" cy="262.2" r="8"/><circle cx="1405.1" cy="280.2" r="8"/><circle cx="1404" cy="278.4" r="8"/><circle cx="1419.2" cy="261.4" r="8"/><circle cx="1399.4" cy="276.2" r="8"/><circle cx="1441.2" cy="243.1" r="8"/><circle cx="1424.1" cy="246.4" r="8"/><circle cx="1427.4" cy="268" r="8"/><circle cx="1440.8" cy="240.2" r="8"/><circle cx="1418.1" cy="269.2" r="8"/><circle cx="1412.2" cy="262.8" r="8"/><circle cx="1422.2" cy="250.9" r="8"/><circle cx="1420.9" cy="257.8" r="8"/><circle cx="1428.7" cy="249.1" r="8"/><circle cx="1405.8" cy="282.2" r="8"/><circle cx="1433.6" cy="253.3" r="8"/><circle cx="1426.6" cy="266.6" r="8"/><circle cx="1417.3" cy="258.1" r="8"/><circle cx="1427.2" cy="264.4" r="8"/><circle cx="1442.5" cy="248.4" r="8"/><circle cx="1424.2" cy="248.6" r="8"/><circle cx="1442.7" cy="255.3" r="8"/><circle cx="1410.4" cy="272.8" r="8"/><circle cx="1423.8" cy="265.4" r="8"/><circle cx="1404.8" cy="268.1" r="8"/><circle cx="1430.5" cy="254.6" r="8"/><circle cx="1436.1" cy="250.9" r="8"/><circle cx="1404.4" cy="284.8" r="8"/><circle cx="1404.1" cy="276.5" r="8"/><circle cx="1425.7" cy="263.9" r="8"/><circle cx="1402.1" cy="276.7" r="8"/><circle cx="1439.5" cy="254.2" r="8"/><circle cx="1411.2" cy="262.2" r="8"/><circle cx="1418.9" cy="254.4" r="8"/><circle cx="1407.4" cy="273.9" r="8"/><circle cx="1424.5" cy="262" r="8"/><circle cx="1430.8" cy="256.3" r="8"/><circle cx="1419.6" cy="268.2" r="8"/><circle cx="1420.9" cy="254.6" r="8"/><circle cx="1425.1" cy="268.6" r="8"/><circle cx="1409.2" cy="287.7" r="8"/><circle cx="1422.6" cy="254.8" r="8"/><circle cx="1423" cy="272.1" r="8"/><circle cx="1417.7" cy="269.4" r="8"/><circle cx="1441.9" cy="249.8" r="8"/><circle cx="1443.2" cy="252.5" r="8"/><circle cx="1409.4" cy="272.5" r="8"/><circle cx="1410.3" cy="270.1" r="8"/><circle cx="1408.4" cy="280.4" r="8"/><circle cx="1433.7" cy="263" r="8"/><circle cx="1403.5" cy="283.5" r="8"/><circle cx="1424.6" cy="258.7" r="8"/><circle cx="1441.7" cy="245.5" r="8"/><circle cx="1411.7" cy="271.8" r="8"/><circle cx="1428" cy="259.7" r="8"/><circle cx="1431.4" cy="265.4" r="8"/><circle cx="1409.6" cy="269.2" r="8"/><circle cx="1430.2" cy="251.8" r="8"/><circle cx="1397.7" cy="277.6" r="8"/><circle cx="1430.7" cy="254.5" r="8"/><circle cx="1414.8" cy="280.3" r="8"/><circle cx="1405.5" cy="285" r="8"/><circle cx="1399.2" cy="280.5" r="8"/><circle cx="1432.4" cy="255" r="8"/><circle cx="1444.2" cy="246.2" r="8"/><circle cx="1398.7" cy="274.8" r="8"/><circle cx="1421.6" cy="275.9" r="8"/><circle cx="1424.5" cy="262.1" r="8"/><circle cx="1425.5" cy="264.4" r="8"/><circle cx="1419.7" cy="253.7" r="8"/><circle cx="1420.5" cy="257.2" r="8"/><circle cx="1426" cy="251.5" r="8"/><circle cx="1438.6" cy="244.9" r="8"/><circle cx="1408.9" cy="282.8" r="8"/><circle cx="1420.7" cy="255.5" r="8"/><circle cx="1435.5" cy="243.1" r="8"/><circle cx="1410.8" cy="266.7" r="8"/><circle cx="1403.3" cy="276.6" r="8"/><circle cx="1417.4" cy="257" r="8"/><circle cx="1433.3" cy="255.5" r="8"/><circle cx="1442" cy="247.1" r="8"/><circle cx="1414.1" cy="261.8" r="8"/><circle cx="1432.3" cy="264.7" r="8"/><circle cx="1440.9" cy="239.8" r="8"/><circle cx="1438.9" cy="243.7" r="8"/><circle cx="1439" cy="249.6" r="8"/><circle cx="1428.3" cy="256" r="8"/><circle cx="1404.5" cy="280.6" r="8"/><circle cx="1403" cy="274.9" r="8"/><circle cx="1425.7" cy="261.2" r="8"/><circle cx="1413.6" cy="262.7" r="8"/><circle cx="1410" cy="268.7" r="8"/><circle cx="1407.9" cy="286.6" r="8"/><circle cx="1438.9" cy="241.4" r="8"/><circle cx="1441.5" cy="239.8" r="8"/><circle cx="1410.5" cy="271" r="8"/><circle cx="1424" cy="264.6" r="8"/><circle cx="1412.4" cy="277.7" r="8"/><circle cx="1427" cy="265.9" r="8"/><circle cx="1397.5" cy="278.8" r="8"/><circle cx="1404.3" cy="268.2" r="8"/><circle cx="1422" cy="274.8" r="8"/><circle cx="1415.8" cy="255.8" r="8"/><circle cx="1445.2" cy="246" r="8"/><circle cx="1429.5" cy="255.7" r="8"/><circle cx="1427" cy="243" r="8"/><circle cx="1431.8" cy="248.7" r="8"/><circle cx="1420.3" cy="265.3" r="8"/><circle cx="1407.7" cy="275.1" r="8"/><circle cx="1413.4" cy="265.2" r="8"/><circle cx="1419.3" cy="276.8" r="8"/><circle cx="1406.1" cy="280.1" r="8"/><circle cx="1426" cy="258.8" r="8"/><circle cx="1441.1" cy="245.6" r="8"/><circle cx="1436.2" cy="247.8" r="8"/><circle cx="1437.1" cy="257.3" r="8"/><circle cx="1416.1" cy="266.7" r="8"/><circle cx="1428.4" cy="248.2" r="8"/><circle cx="1420.4" cy="269.8" r="8"/><circle cx="1432.9" cy="242.8" r="8"/><circle cx="1438.7" cy="250.9" r="8"/><circle cx="1433.3" cy="254.1" r="8"/><circle cx="1409.5" cy="263.3" r="8"/><circle cx="1422.3" cy="253.5" r="8"/><circle cx="1406.6" cy="269.8" r="8"/><circle cx="1421.9" cy="267.5" r="8"/><circle cx="1425.8" cy="257.3" r="8"/><circle cx="1424" cy="250.5" r="8"/><circle cx="1401.2" cy="282.5" r="8"/><circle cx="1444.3" cy="247.7" r="8"/><circle cx="1433.1" cy="262.8" r="8"/><circle cx="1427.3" cy="247.9" r="8"/><circle cx="1421.2" cy="264.8" r="8"/><circle cx="1404" cy="284.3" r="8"/><circle cx="1431.9" cy="250.3" r="8"/><circle cx="1403.6" cy="283.5" r="8"/><circle cx="1397" cy="280.7" r="8"/><circle cx="1438.1" cy="238.3" r="8"/><circle cx="1435.9" cy="242.8" r="8"/><circle cx="1415.3" cy="260" r="8"/><circle cx="1429.2" cy="257" r="8"/><circle cx="1442.4" cy="243.8" r="8"/><circle cx="1412.5" cy="272.2" r="8"/><circle cx="1398.8" cy="273.5" r="8"/><circle cx="1426" cy="244.5" r="8"/><circle cx="1418.5" cy="267.4" r="8"/><circle cx="1407.2" cy="275.4" r="8"/><circle cx="1428.4" cy="248.6" r="8"/><circle cx="1415.3" cy="260.2" r="8"/><circle cx="1447.5" cy="247.2" r="8"/><circle cx="1417.5" cy="256.4" r="8"/><circle cx="1435.6" cy="250.3" r="8"/><circle cx="1418.1" cy="264" r="8"/><circle cx="1435.4" cy="243.1" r="8"/><circle cx="1430.1" cy="268.4" r="8"/><circle cx="1406" cy="277.5" r="8"/><circle cx="1441" cy="250.5" r="8"/><circle cx="1404" cy="266.8" r="8"/><circle cx="1403.9" cy="264.2" r="8"/><circle cx="1430" cy="249.7" r="8"/><circle cx="1400.9" cy="277.7" r="8"/><circle cx="1416.9" cy="260.9" r="8"/><circle cx="1399.7" cy="275.9" r="8"/><circle cx="1445.6" cy="253.7" r="8"/><circle cx="1439.5" cy="248.7" r="8"/><circle cx="1435.7" cy="248.2" r="8"/><circle cx="1413.3" cy="279.1" r="8"/><circle cx="1426.4" cy="268.8" r="8"/><circle cx="1438.3" cy="241.1" r="8"/><circle cx="1438.8" cy="248.3" r="8"/><circle cx="1421" cy="254.3" r="8"/><circle cx="1405" cy="278.6" r="8"/><circle cx="1438.1" cy="251" r="8"/><circle cx="1420.2" cy="264.2" r="8"/><circle cx="1435.1" cy="255.7" r="8"/><circle cx="1414.9" cy="264.9" r="8"/><circle cx="1422.7" cy="253.8" r="8"/><circle cx="1399.2" cy="278.7" r="8"/><circle cx="1436.6" cy="242" r="8"/><circle cx="1430.3" cy="249.6" r="8"/><circle cx="1426.6" cy="266.7" r="8"/><circle cx="1430.7" cy="257.9" r="8"/><circle cx="1430.7" cy="259.9" r="8"/><circle cx="1425.8" cy="263.9" r="8"/><circle cx="1433.3" cy="251.4" r="8"/><circle cx="1402.4" cy="284.8" r="8"/><circle cx="1438.6" cy="256.8" r="8"/><circle cx="1413.3" cy="269.8" r="8"/><circle cx="1427.6" cy="263.9" r="8"/><circle cx="1427.3" cy="248.7" r="8"/><circle cx="1403.8" cy="285.4" r="8"/><circle cx="1422.8" cy="259.5" r="8"/><circle cx="1430.6" cy="258.6" r="8"/><circle cx="1437.9" cy="244.4" r="8"/><circle cx="1408.5" cy="273.3" r="8"/><circle cx="1405.6" cy="287.1" r="8"/><circle cx="1411.6" cy="275.1" r="8"/><circle cx="1435.9" cy="254.4" r="8"/><circle cx="1428.8" cy="261.6" r="8"/><circle cx="1418.3" cy="263.3" r="8"/><circle cx="1424.5" cy="266.3" r="8"/><circle cx="1413.8" cy="272" r="8"/><circle cx="1414.5" cy="268.5" r="8"/><circle cx="1438.1" cy="257.2" r="8"/><circle cx="1419.9" cy="251.5" r="8"/><circle cx="1405.5" cy="286.2" r="8"/><circle cx="1432.5" cy="254.6" r="8"/><circle cx="1424.3" cy="254" r="8"/><circle cx="1398.3" cy="274.7" r="8"/><circle cx="1440.2" cy="242.4" r="8"/><circle cx="1432.1" cy="245.9" r="8"/><circle cx="1394.6" cy="274.5" r="8"/><circle cx="1411.3" cy="277.3" r="8"/><circle cx="1438.8" cy="237.2" r="8"/><circle cx="1434.5" cy="261.8" r="8"/><circle cx="1434.4" cy="259.6" r="8"/><circle cx="1416.7" cy="261.3" r="8"/><circle cx="1444" cy="242.5" r="8"/><circle cx="1403.5" cy="266.7" r="8"/><circle cx="1430" cy="256.2" r="8"/><circle cx="1436.9" cy="253.4" r="8"/><circle cx="1409.8" cy="282.1" r="8"/><circle cx="1414.8" cy="257.3" r="8"/><circle cx="1442.8" cy="243.4" r="8"/><circle cx="1420.2" cy="253.8" r="8"/><circle cx="1408.7" cy="275.5" r="8"/><circle cx="1438.9" cy="237.3" r="8"/><circle cx="1440.5" cy="246.6" r="8"/><circle cx="1410.7" cy="281.2" r="8"/><circle cx="1422.8" cy="271.9" r="8"/><circle cx="1420" cy="266" r="8"/><circle cx="1424.3" cy="258.4" r="8"/><circle cx="1435.4" cy="244.2" r="8"/><circle cx="1432.1" cy="249.5" r="8"/><circle cx="1417.2" cy="260.2" r="8"/><circle cx="1436.7" cy="255.2" r="8"/><circle cx="1436.5" cy="250.5" r="8"/><circle cx="1436.4" cy="243.5" r="8"/><circle cx="1428.4" cy="263" r="8"/><circle cx="1416.6" cy="273.8" r="8"/><circle cx="1411.5" cy="269" r="8"/><circle cx="1417.7" cy="269.9" r="8"/><circle cx="1418.7" cy="254.9" r="8"/><circle cx="1415.9" cy="274.3" r="8"/><circle cx="1411.4" cy="276.4" r="8"/><circle cx="1439" cy="260.1" r="8"/><circle cx="1403.1" cy="281" r="8"/><circle cx="1412.5" cy="273.7" r="8"/><circle cx="1417.5" cy="263" r="8"/><circle cx="1406" cy="282.6" r="8"/><circle cx="1433.8" cy="256.5" r="8"/><circle cx="1409.6" cy="271.9" r="8"/><circle cx="1420.9" cy="248.5" r="8"/><circle cx="1433.9" cy="262.5" r="8"/><circle cx="1421.8" cy="269.9" r="8"/><circle cx="1398.6" cy="270" r="8"/><circle cx="1417.4" cy="251.6" r="8"/><circle cx="1407.6" cy="280" r="8"/><circle cx="1427.9" cy="248.2" r="8"/><circle cx="1434.6" cy="244.5" r="8"/><circle cx="1417.3" cy="266.9" r="8"/><circle cx="1418.4" cy="277.4" r="8"/><circle cx="1444.5" cy="252.7" r="8"/><circle cx="1429.2" cy="256.8" r="8"/><circle cx="1396.7" cy="280.1" r="8"/><circle cx="1409.2" cy="268.9" r="8"/><circle cx="1414.1" cy="269.9" r="8"/><circle cx="1410.4" cy="275.2" r="8"/><circle cx="1446.1" cy="245.4" r="8"/><circle cx="1433.6" cy="252.3" r="8"/><circle cx="1448.3" cy="247.7" r="8"/><circle cx="1412.7" cy="281.6" r="8"/><circle cx="1418.3" cy="259.3" r="8"/><circle cx="1413" cy="280.6" r="8"/><circle cx="1445.5" cy="250.3" r="8"/><circle cx="1406.9" cy="284.9" r="8"/><circle cx="1430.7" cy="260.5" r="8"/><circle cx="1442.6" cy="243.4" r="8"/><circle cx="1404.8" cy="273" r="8"/><circle cx="1440" cy="256.3" r="8"/><circle cx="1420" cy="262" r="8"/><circle cx="1416.8" cy="278.1" r="8"/><circle cx="1444.5" cy="243.7" r="8"/><circle cx="1441.7" cy="245.7" r="8"/><circle cx="1410" cy="268.1" r="8"/><circle cx="1424.9" cy="268.5" r="8"/><circle cx="1432.9" cy="255.4" r="8"/><circle cx="1411.6" cy="268.3" r="8"/><circle cx="1419.7" cy="262" r="8"/><circle cx="1428.4" cy="269.1" r="8"/><circle cx="1434" cy="250" r="8"/><circle cx="1418.6" cy="275.6" r="8"/><circle cx="1402.6" cy="285.5" r="8"/><circle cx="1431.8" cy="256.6" r="8"/><circle cx="1409.4" cy="284.3" r="8"/><circle cx="1405.4" cy="277.5" r="8"/><circle cx="1425.3" cy="255.3" r="8"/><circle cx="1434.7" cy="241.8" r="8"/><circle cx="1409.6" cy="273.4" r="8"/><circle cx="1420.8" cy="267.6" r="8"/><circle cx="1415.3" cy="275.2" r="8"/><circle cx="1414.3" cy="276" r="8"/><circle cx="1409.3" cy="283.8" r="8"/><circle cx="1422.6" cy="259.3" r="8"/><circle cx="1402.8" cy="273" r="8"/><circle cx="1439.8" cy="261" r="8"/><circle cx="1388.8" cy="272.8" r="8"/><circle cx="1419.9" cy="248.1" r="8"/><circle cx="1420" cy="245.4" r="8"/><circle cx="1446" cy="253.4" r="8"/><circle cx="1422.5" cy="246.5" r="8"/><circle cx="1438.7" cy="262.6" r="8"/><circle cx="1413.8" cy="250.4" r="8"/><circle cx="1425.1" cy="278.7" r="8"/><circle cx="1415" cy="254.6" r="8"/><circle cx="1412.1" cy="253" r="8"/><circle cx="1417.1" cy="249.7" r="8"/><circle cx="1422.3" cy="242.7" r="8"/><circle cx="1427.7" cy="243.3" r="8"/><circle cx="1433.1" cy="268.4" r="8"/><circle cx="1449.5" cy="253" r="8"/><circle cx="1399" cy="265.8" r="8"/><circle cx="1415" cy="283.8" r="8"/><circle cx="1416" cy="284.3" r="8"/><circle cx="1428.2" cy="274.7" r="8"/><circle cx="1400.5" cy="267.8" r="8"/><circle cx="1397.8" cy="265.5" r="8"/><circle cx="1426.5" cy="240" r="8"/><circle cx="1431.4" cy="239.3" r="8"/><circle cx="1402.4" cy="262" r="8"/><circle cx="1415.8" cy="281.4" r="8"/><circle cx="1393.1" cy="270.1" r="8"/><circle cx="1442.5" cy="261.9" r="8"/><circle cx="1395.7" cy="267.3" r="8"/><circle cx="1423.2" cy="242.1" r="8"/><circle cx="1433.2" cy="238.4" r="8"/><circle cx="1448" cy="252.5" r="8"/><circle cx="1458.2" cy="242" r="8"/><circle cx="1458" cy="223.3" r="8"/><circle cx="1468.4" cy="220.8" r="8"/><circle cx="1487.1" cy="208.9" r="8"/><circle cx="1448.1" cy="230" r="8"/><circle cx="1474.9" cy="209.8" r="8"/><circle cx="1456.4" cy="227.5" r="8"/><circle cx="1477.5" cy="203.1" r="8"/><circle cx="1474.3" cy="225.9" r="8"/><circle cx="1487.8" cy="210.5" r="8"/><circle cx="1458.7" cy="233.4" r="8"/><circle cx="1453.5" cy="223.9" r="8"/><circle cx="1461.4" cy="216.7" r="8"/><circle cx="1469.5" cy="224.8" r="8"/><circle cx="1460.7" cy="225" r="8"/><circle cx="1468.5" cy="215" r="8"/><circle cx="1454.5" cy="227.3" r="8"/><circle cx="1470.6" cy="221.4" r="8"/><circle cx="1478.6" cy="204" r="8"/><circle cx="1447.1" cy="237.9" r="8"/><circle cx="1469.5" cy="231.9" r="8"/><circle cx="1469.7" cy="225.8" r="8"/><circle cx="1444.3" cy="235.4" r="8"/><circle cx="1465.2" cy="226" r="8"/><circle cx="1464.2" cy="225.1" r="8"/><circle cx="1451.3" cy="229.2" r="8"/><circle cx="1485.4" cy="216" r="8"/><circle cx="1487" cy="203.7" r="8"/><circle cx="1457.2" cy="225.5" r="8"/><circle cx="1486.7" cy="208.1" r="8"/><circle cx="1460.7" cy="221.8" r="8"/><circle cx="1476.4" cy="217.3" r="8"/><circle cx="1468.7" cy="222.6" r="8"/><circle cx="1478.3" cy="214.1" r="8"/><circle cx="1482.6" cy="212.3" r="8"/><circle cx="1463.4" cy="224" r="8"/><circle cx="1463.5" cy="232.4" r="8"/><circle cx="1482.1" cy="209.1" r="8"/><circle cx="1475.2" cy="209.2" r="8"/><circle cx="1458.3" cy="220.2" r="8"/><circle cx="1486.8" cy="204.5" r="8"/><circle cx="1483.5" cy="199.9" r="8"/><circle cx="1466.1" cy="221.4" r="8"/><circle cx="1461.2" cy="229.5" r="8"/><circle cx="1460.8" cy="223.6" r="8"/><circle cx="1471.2" cy="214.6" r="8"/><circle cx="1445.8" cy="232.6" r="8"/><circle cx="1450.9" cy="242.8" r="8"/><circle cx="1456.2" cy="225.9" r="8"/><circle cx="1482.9" cy="215.2" r="8"/><circle cx="1480.8" cy="211.4" r="8"/><circle cx="1453.3" cy="223.1" r="8"/><circle cx="1472.5" cy="212.7" r="8"/><circle cx="1450.3" cy="238.7" r="8"/><circle cx="1484.5" cy="209" r="8"/><circle cx="1466.5" cy="216.5" r="8"/><circle cx="1468.5" cy="227.9" r="8"/><circle cx="1465.9" cy="220.1" r="8"/><circle cx="1474.6" cy="226.3" r="8"/><circle cx="1447" cy="241.2" r="8"/><circle cx="1468.4" cy="212.8" r="8"/><circle cx="1476.6" cy="222.3" r="8"/><circle cx="1491" cy="205.8" r="8"/><circle cx="1478.2" cy="200.9" r="8"/><circle cx="1442.8" cy="236" r="8"/><circle cx="1463.6" cy="232.3" r="8"/><circle cx="1478.4" cy="201.6" r="8"/><circle cx="1452.8" cy="240.3" r="8"/><circle cx="1453.3" cy="241.3" r="8"/><circle cx="1459.4" cy="216.9" r="8"/><circle cx="1461.9" cy="236.3" r="8"/><circle cx="1490.9" cy="205.6" r="8"/><circle cx="1465.8" cy="220.6" r="8"/><circle cx="1452.3" cy="245.7" r="8"/><circle cx="1467.1" cy="215.1" r="8"/><circle cx="1483.4" cy="208.5" r="8"/><circle cx="1451.1" cy="239.5" r="8"/><circle cx="1460.1" cy="232.7" r="8"/><circle cx="1468.7" cy="229.5" r="8"/><circle cx="1469" cy="213.4" r="8"/><circle cx="1446.1" cy="234.2" r="8"/><circle cx="1467.6" cy="227.6" r="8"/><circle cx="1486.6" cy="202" r="8"/><circle cx="1462.4" cy="230.9" r="8"/><circle cx="1450.3" cy="238.6" r="8"/><circle cx="1491.9" cy="207.7" r="8"/><circle cx="1472.1" cy="217.7" r="8"/><circle cx="1462.5" cy="234.2" r="8"/><circle cx="1444.5" cy="234.7" r="8"/><circle cx="1463.8" cy="235.9" r="8"/><circle cx="1445.1" cy="241" r="8"/><circle cx="1452.1" cy="238.2" r="8"/><circle cx="1463.6" cy="237" r="8"/><circle cx="1461.2" cy="232.2" r="8"/><circle cx="1469.3" cy="217.6" r="8"/><circle cx="1473.1" cy="219.4" r="8"/><circle cx="1485.7" cy="215" r="8"/><circle cx="1484.4" cy="209.5" r="8"/><circle cx="1455.3" cy="224.5" r="8"/><circle cx="1490.2" cy="206.5" r="8"/><circle cx="1479.3" cy="202.4" r="8"/><circle cx="1463.3" cy="222.4" r="8"/><circle cx="1452.7" cy="235.7" r="8"/><circle cx="1447.3" cy="229.6" r="8"/><circle cx="1459.4" cy="220.6" r="8"/><circle cx="1473.8" cy="213.5" r="8"/><circle cx="1486.8" cy="204.7" r="8"/><circle cx="1471.4" cy="219.6" r="8"/><circle cx="1475.1" cy="214.7" r="8"/><circle cx="1478.7" cy="218.4" r="8"/><circle cx="1458.6" cy="223.9" r="8"/><circle cx="1467.2" cy="211.8" r="8"/><circle cx="1488.4" cy="210.8" r="8"/><circle cx="1476.5" cy="213.5" r="8"/><circle cx="1476.6" cy="207.4" r="8"/><circle cx="1460.8" cy="223.3" r="8"/><circle cx="1458.3" cy="221.2" r="8"/><circle cx="1475.8" cy="209" r="8"/><circle cx="1478" cy="203.9" r="8"/><circle cx="1463.4" cy="224.1" r="8"/><circle cx="1477" cy="214.9" r="8"/><circle cx="1453.2" cy="240.3" r="8"/><circle cx="1458.4" cy="236.7" r="8"/><circle cx="1448.4" cy="233.3" r="8"/><circle cx="1466" cy="219" r="8"/><circle cx="1461.7" cy="232.2" r="8"/><circle cx="1446.7" cy="225.4" r="8"/><circle cx="1463.6" cy="220.1" r="8"/><circle cx="1455.9" cy="224.8" r="8"/><circle cx="1471" cy="216" r="8"/><circle cx="1464.3" cy="221" r="8"/><circle cx="1459" cy="229.1" r="8"/><circle cx="1463.4" cy="234.5" r="8"/><circle cx="1478" cy="216.4" r="8"/><circle cx="1478.6" cy="212.8" r="8"/><circle cx="1445.5" cy="240.2" r="8"/><circle cx="1489.7" cy="207" r="8"/><circle cx="1461.6" cy="219.3" r="8"/><circle cx="1458.5" cy="219.5" r="8"/><circle cx="1465.4" cy="213.8" r="8"/><circle cx="1456.7" cy="229.1" r="8"/><circle cx="1457.7" cy="241.3" r="8"/><circle cx="1453.4" cy="234.3" r="8"/><circle cx="1484.5" cy="201.5" r="8"/><circle cx="1478.2" cy="204.1" r="8"/><circle cx="1480.8" cy="207.5" r="8"/><circle cx="1480.9" cy="214.7" r="8"/><circle cx="1449.7" cy="242" r="8"/><circle cx="1454.8" cy="226.2" r="8"/><circle cx="1467.2" cy="213.4" r="8"/><circle cx="1468.5" cy="222.6" r="8"/><circle cx="1451.9" cy="245.7" r="8"/><circle cx="1476.6" cy="209.1" r="8"/><circle cx="1451.5" cy="236.3" r="8"/><circle cx="1465" cy="219.5" r="8"/><circle cx="1472.6" cy="216.6" r="8"/><circle cx="1458.8" cy="221" r="8"/><circle cx="1475.5" cy="210.8" r="8"/><circle cx="1441.2" cy="239" r="8"/><circle cx="1462.8" cy="218" r="8"/><circle cx="1460.5" cy="228.3" r="8"/><circle cx="1442.6" cy="230.9" r="8"/><circle cx="1483.1" cy="208.7" r="8"/><circle cx="1469.8" cy="208.4" r="8"/><circle cx="1481" cy="202.9" r="8"/><circle cx="1449.7" cy="246.2" r="8"/><circle cx="1452.2" cy="246" r="8"/><circle cx="1466.6" cy="217.3" r="8"/><circle cx="1476.3" cy="211.4" r="8"/><circle cx="1453" cy="244" r="8"/><circle cx="1481.6" cy="211.3" r="8"/><circle cx="1463.1" cy="233.9" r="8"/><circle cx="1460.5" cy="223.1" r="8"/><circle cx="1482.8" cy="216.2" r="8"/><circle cx="1454.9" cy="240.8" r="8"/><circle cx="1445.9" cy="236.6" r="8"/><circle cx="1477.2" cy="209.4" r="8"/><circle cx="1456.7" cy="221.8" r="8"/><circle cx="1475.7" cy="218.8" r="8"/><circle cx="1475" cy="214.3" r="8"/><circle cx="1481.9" cy="207.9" r="8"/><circle cx="1460.2" cy="216.3" r="8"/><circle cx="1465.1" cy="225.6" r="8"/><circle cx="1454.7" cy="220.2" r="8"/><circle cx="1455.4" cy="223.8" r="8"/><circle cx="1483.3" cy="204.8" r="8"/><circle cx="1470.6" cy="214.3" r="8"/><circle cx="1473.5" cy="219.5" r="8"/><circle cx="1452.8" cy="225.1" r="8"/><circle cx="1443.3" cy="232.2" r="8"/><circle cx="1450.6" cy="225.1" r="8"/><circle cx="1453.1" cy="237.3" r="8"/><circle cx="1468.8" cy="217.7" r="8"/><circle cx="1487.7" cy="210.9" r="8"/><circle cx="1472.6" cy="220.3" r="8"/><circle cx="1480.8" cy="219.5" r="8"/><circle cx="1439.2" cy="233.3" r="8"/><circle cx="1483.5" cy="211.1" r="8"/><circle cx="1486.7" cy="206.1" r="8"/><circle cx="1473.7" cy="211.7" r="8"/><circle cx="1458.2" cy="220.8" r="8"/><circle cx="1472.2" cy="205.6" r="8"/><circle cx="1470.2" cy="219" r="8"/><circle cx="1477.3" cy="211.9" r="8"/><circle cx="1459.7" cy="222.8" r="8"/><circle cx="1440.2" cy="233.1" r="8"/><circle cx="1450.9" cy="238.7" r="8"/><circle cx="1481.7" cy="207.6" r="8"/><circle cx="1446.7" cy="242" r="8"/><circle cx="1489.3" cy="208.3" r="8"/><circle cx="1451.3" cy="222.2" r="8"/><circle cx="1460.8" cy="225.4" r="8"/><circle cx="1453.9" cy="235.2" r="8"/><circle cx="1468.7" cy="219.2" r="8"/><circle cx="1482.3" cy="209.4" r="8"/><circle cx="1479" cy="208.6" r="8"/><circle cx="1479.2" cy="217.1" r="8"/><circle cx="1467.3" cy="226" r="8"/><circle cx="1477.8" cy="209.9" r="8"/><circle cx="1463.6" cy="222.9" r="8"/><circle cx="1444.1" cy="238.3" r="8"/><circle cx="1441.8" cy="232.9" r="8"/><circle cx="1471.8" cy="218.1" r="8"/><circle cx="1453.7" cy="245.6" r="8"/><circle cx="1457.8" cy="234.6" r="8"/><circle cx="1479.2" cy="206.1" r="8"/><circle cx="1477.7" cy="220" r="8"/><circle cx="1463.3" cy="230.6" r="8"/><circle cx="1457" cy="231.9" r="8"/><circle cx="1454.8" cy="244.9" r="8"/><circle cx="1471.9" cy="208.2" r="8"/><circle cx="1460.2" cy="214.1" r="8"/><circle cx="1470" cy="216.3" r="8"/><circle cx="1467.7" cy="216.6" r="8"/><circle cx="1459.1" cy="228" r="8"/><circle cx="1449.3" cy="241.1" r="8"/><circle cx="1475" cy="219.7" r="8"/><circle cx="1446.7" cy="233.7" r="8"/><circle cx="1446.9" cy="241" r="8"/><circle cx="1467.8" cy="218.8" r="8"/><circle cx="1480.7" cy="201.5" r="8"/><circle cx="1489.1" cy="203.3" r="8"/><circle cx="1483.6" cy="206.6" r="8"/><circle cx="1480.1" cy="209.6" r="8"/><circle cx="1452.1" cy="233.5" r="8"/><circle cx="1469.6" cy="209.6" r="8"/><circle cx="1484.4" cy="203" r="8"/><circle cx="1466.9" cy="230.9" r="8"/><circle cx="1460.3" cy="213.9" r="8"/><circle cx="1465.7" cy="226.2" r="8"/><circle cx="1466.2" cy="223.9" r="8"/><circle cx="1481.9" cy="212.3" r="8"/><circle cx="1477.6" cy="210.4" r="8"/><circle cx="1455.7" cy="238.2" r="8"/><circle cx="1477" cy="218.9" r="8"/><circle cx="1474.4" cy="217" r="8"/><circle cx="1490.7" cy="209.8" r="8"/><circle cx="1454.7" cy="238.9" r="8"/><circle cx="1442.5" cy="234.3" r="8"/><circle cx="1464.7" cy="210.6" r="8"/><circle cx="1484.8" cy="205.9" r="8"/><circle cx="1472" cy="214.2" r="8"/><circle cx="1476.5" cy="217" r="8"/><circle cx="1456.8" cy="224.7" r="8"/><circle cx="1480.4" cy="217.1" r="8"/><circle cx="1462.5" cy="230.4" r="8"/><circle cx="1480.5" cy="206.7" r="8"/><circle cx="1438.9" cy="236.7" r="8"/><circle cx="1466.1" cy="213.9" r="8"/><circle cx="1441.7" cy="236.7" r="8"/><circle cx="1489.1" cy="204.1" r="8"/><circle cx="1470.3" cy="225.9" r="8"/><circle cx="1459.2" cy="239.6" r="8"/><circle cx="1452.2" cy="237.2" r="8"/><circle cx="1469.1" cy="222.6" r="8"/><circle cx="1482.4" cy="204.6" r="8"/><circle cx="1459.7" cy="227.9" r="8"/><circle cx="1457.5" cy="231.5" r="8"/><circle cx="1462.5" cy="217" r="8"/><circle cx="1477.5" cy="218.2" r="8"/><circle cx="1462.8" cy="233.7" r="8"/><circle cx="1469.7" cy="217.9" r="8"/><circle cx="1462.8" cy="230.8" r="8"/><circle cx="1453.2" cy="226.2" r="8"/><circle cx="1484.7" cy="200.9" r="8"/><circle cx="1474.3" cy="213.2" r="8"/><circle cx="1448.4" cy="240.8" r="8"/><circle cx="1465.8" cy="216.9" r="8"/><circle cx="1470.1" cy="227.7" r="8"/><circle cx="1448.9" cy="228.5" r="8"/><circle cx="1487.3" cy="208.6" r="8"/><circle cx="1473.7" cy="210.2" r="8"/><circle cx="1443.6" cy="238.2" r="8"/><circle cx="1454.6" cy="225.7" r="8"/><circle cx="1456.9" cy="217.3" r="8"/><circle cx="1469.1" cy="220" r="8"/><circle cx="1448.5" cy="241.6" r="8"/><circle cx="1463.6" cy="224.2" r="8"/><circle cx="1466.8" cy="220.2" r="8"/><circle cx="1452.5" cy="235.7" r="8"/><circle cx="1485.2" cy="206.7" r="8"/><circle cx="1460" cy="222.7" r="8"/><circle cx="1458.2" cy="219.4" r="8"/><circle cx="1462.9" cy="226.8" r="8"/><circle cx="1469" cy="217.7" r="8"/><circle cx="1462.3" cy="229.7" r="8"/><circle cx="1488.6" cy="208.3" r="8"/><circle cx="1467.1" cy="219.4" r="8"/><circle cx="1471" cy="222.1" r="8"/><circle cx="1472.7" cy="220.6" r="8"/><circle cx="1465.6" cy="213.7" r="8"/><circle cx="1461.4" cy="227.1" r="8"/><circle cx="1462" cy="231.1" r="8"/><circle cx="1460.6" cy="216.7" r="8"/><circle cx="1467.5" cy="209" r="8"/><circle cx="1487.4" cy="202.6" r="8"/><circle cx="1454" cy="222.3" r="8"/><circle cx="1445.6" cy="227.8" r="8"/><circle cx="1482.2" cy="211.5" r="8"/><circle cx="1483.7" cy="212.8" r="8"/><circle cx="1475" cy="221.4" r="8"/><circle cx="1465" cy="220.7" r="8"/><circle cx="1482.2" cy="200.6" r="8"/><circle cx="1479.1" cy="207" r="8"/><circle cx="1471.1" cy="226.3" r="8"/><circle cx="1464.4" cy="233.5" r="8"/><circle cx="1483.8" cy="201.9" r="8"/><circle cx="1488.3" cy="205.3" r="8"/><circle cx="1488.4" cy="213.8" r="8"/><circle cx="1467" cy="228.8" r="8"/><circle cx="1490.4" cy="207.4" r="8"/><circle cx="1450.1" cy="236.9" r="8"/><circle cx="1483.4" cy="203.8" r="8"/><circle cx="1448.3" cy="242.7" r="8"/><circle cx="1466.4" cy="225.9" r="8"/><circle cx="1470.7" cy="218.8" r="8"/><circle cx="1478.5" cy="212.5" r="8"/><circle cx="1474.8" cy="220.7" r="8"/><circle cx="1472.3" cy="205.8" r="8"/><circle cx="1470.1" cy="219.2" r="8"/><circle cx="1474.1" cy="221.2" r="8"/><circle cx="1461.2" cy="219.1" r="8"/><circle cx="1446.2" cy="234.1" r="8"/><circle cx="1448.5" cy="232.8" r="8"/><circle cx="1467.4" cy="221.3" r="8"/><circle cx="1449.1" cy="238.6" r="8"/><circle cx="1467.9" cy="216.4" r="8"/><circle cx="1461.7" cy="226.9" r="8"/><circle cx="1454.7" cy="228.1" r="8"/><circle cx="1459.7" cy="232.9" r="8"/><circle cx="1442.8" cy="240.4" r="8"/><circle cx="1461.8" cy="214.3" r="8"/><circle cx="1472.6" cy="216.2" r="8"/><circle cx="1481.4" cy="200.8" r="8"/><circle cx="1481.9" cy="202.9" r="8"/><circle cx="1457.4" cy="227.3" r="8"/><circle cx="1444.5" cy="236.7" r="8"/><circle cx="1483.4" cy="211.5" r="8"/><circle cx="1464.5" cy="222.7" r="8"/><circle cx="1480.4" cy="209.8" r="8"/><circle cx="1467.5" cy="220.5" r="8"/><circle cx="1452.9" cy="223" r="8"/><circle cx="1464" cy="232.5" r="8"/><circle cx="1486.9" cy="205.3" r="8"/><circle cx="1444.6" cy="241.9" r="8"/><circle cx="1475.2" cy="211.5" r="8"/><circle cx="1459.8" cy="216.1" r="8"/><circle cx="1441.3" cy="237.3" r="8"/><circle cx="1463.2" cy="214.1" r="8"/><circle cx="1443.6" cy="240.1" r="8"/><circle cx="1470.5" cy="223.6" r="8"/><circle cx="1469.6" cy="209.9" r="8"/><circle cx="1454.4" cy="238.7" r="8"/><circle cx="1461.7" cy="228.6" r="8"/><circle cx="1455.9" cy="217.9" r="8"/><circle cx="1449.7" cy="236.2" r="8"/><circle cx="1451.5" cy="233.3" r="8"/><circle cx="1448" cy="245.2" r="8"/><circle cx="1461.5" cy="219.4" r="8"/><circle cx="1444.9" cy="241.8" r="8"/><circle cx="1454.4" cy="243.8" r="8"/><circle cx="1474" cy="212.2" r="8"/><circle cx="1444.4" cy="239.3" r="8"/><circle cx="1477.3" cy="209.2" r="8"/><circle cx="1450.5" cy="239.6" r="8"/><circle cx="1490.7" cy="207.4" r="8"/><circle cx="1446.8" cy="229" r="8"/><circle cx="1486.5" cy="208.9" r="8"/><circle cx="1476.3" cy="215.2" r="8"/><circle cx="1462" cy="220" r="8"/><circle cx="1477.3" cy="212" r="8"/><circle cx="1472.2" cy="222.4" r="8"/><circle cx="1486.3" cy="203.8" r="8"/><circle cx="1455.9" cy="238.4" r="8"/><circle cx="1458.4" cy="230.4" r="8"/><circle cx="1451.8" cy="228.1" r="8"/><circle cx="1484.6" cy="203.4" r="8"/><circle cx="1452.4" cy="226.4" r="8"/><circle cx="1482.1" cy="217.9" r="8"/><circle cx="1447.7" cy="238.1" r="8"/><circle cx="1486.1" cy="201.8" r="8"/><circle cx="1454.6" cy="221" r="8"/><circle cx="1472" cy="216.6" r="8"/><circle cx="1461.7" cy="218.2" r="8"/><circle cx="1449.3" cy="230" r="8"/><circle cx="1451.2" cy="243" r="8"/><circle cx="1471.1" cy="223.6" r="8"/><circle cx="1448.3" cy="236.7" r="8"/><circle cx="1447.5" cy="236.4" r="8"/><circle cx="1473.3" cy="216.7" r="8"/><circle cx="1484.6" cy="212.1" r="8"/><circle cx="1459.8" cy="232.7" r="8"/><circle cx="1473.4" cy="207.7" r="8"/><circle cx="1447.5" cy="236.1" r="8"/><circle cx="1444.3" cy="235.2" r="8"/><circle cx="1480.3" cy="208.6" r="8"/><circle cx="1468.5" cy="226.8" r="8"/><circle cx="1456.2" cy="241.8" r="8"/><circle cx="1450.1" cy="231" r="8"/><circle cx="1457.7" cy="240" r="8"/><circle cx="1445.2" cy="230.9" r="8"/><circle cx="1443.9" cy="234.7" r="8"/><circle cx="1488.9" cy="203.4" r="8"/><circle cx="1448.1" cy="240.6" r="8"/><circle cx="1476.3" cy="209.5" r="8"/><circle cx="1455.8" cy="229" r="8"/><circle cx="1468.8" cy="213.5" r="8"/><circle cx="1443.8" cy="240.9" r="8"/><circle cx="1466" cy="225.4" r="8"/><circle cx="1452.7" cy="234" r="8"/><circle cx="1447.2" cy="241.9" r="8"/><circle cx="1458.9" cy="221.3" r="8"/><circle cx="1480.2" cy="209.9" r="8"/><circle cx="1451" cy="231.4" r="8"/><circle cx="1440.6" cy="233.6" r="8"/><circle cx="1482.3" cy="214" r="8"/><circle cx="1447.1" cy="243.5" r="8"/><circle cx="1481.2" cy="208.8" r="8"/><circle cx="1452.5" cy="223.8" r="8"/><circle cx="1472.2" cy="216.2" r="8"/><circle cx="1462.2" cy="235.4" r="8"/><circle cx="1448.7" cy="233.1" r="8"/><circle cx="1438.2" cy="235.1" r="8"/><circle cx="1472.2" cy="214.7" r="8"/><circle cx="1458" cy="226.4" r="8"/><circle cx="1474.8" cy="218.1" r="8"/><circle cx="1474.1" cy="228.2" r="8"/><circle cx="1457" cy="232.4" r="8"/><circle cx="1454.4" cy="241" r="8"/><circle cx="1486.1" cy="203.8" r="8"/><circle cx="1480.1" cy="222.2" r="8"/><circle cx="1472.8" cy="212.2" r="8"/><circle cx="1463.6" cy="216" r="8"/><circle cx="1455.8" cy="231.9" r="8"/><circle cx="1445.1" cy="226.9" r="8"/><circle cx="1474.3" cy="211.9" r="8"/><circle cx="1464.1" cy="226.7" r="8"/><circle cx="1471.8" cy="211" r="8"/><circle cx="1444.1" cy="230.2" r="8"/><circle cx="1463.7" cy="234.4" r="8"/><circle cx="1448.5" cy="231.3" r="8"/><circle cx="1472.4" cy="224.9" r="8"/><circle cx="1437.6" cy="234" r="8"/><circle cx="1454.6" cy="221" r="8"/><circle cx="1447.4" cy="242.6" r="8"/><circle cx="1485" cy="200.6" r="8"/><circle cx="1463.9" cy="227.5" r="8"/><circle cx="1463.7" cy="218" r="8"/><circle cx="1457.5" cy="233.4" r="8"/><circle cx="1463.5" cy="218.6" r="8"/><circle cx="1453.2" cy="236.5" r="8"/><circle cx="1443.8" cy="240.9" r="8"/><circle cx="1476.9" cy="205.2" r="8"/><circle cx="1475.3" cy="215.9" r="8"/><circle cx="1476.8" cy="210.6" r="8"/><circle cx="1489.5" cy="206.1" r="8"/><circle cx="1452.3" cy="232.3" r="8"/><circle cx="1458.3" cy="236.4" r="8"/><circle cx="1464.5" cy="212.1" r="8"/><circle cx="1459.1" cy="235.3" r="8"/><circle cx="1485.2" cy="200.9" r="8"/><circle cx="1455" cy="223.7" r="8"/><circle cx="1489.3" cy="205" r="8"/><circle cx="1474.8" cy="215.7" r="8"/><circle cx="1449.2" cy="225.4" r="8"/><circle cx="1464" cy="231.7" r="8"/><circle cx="1480.7" cy="202.9" r="8"/><circle cx="1456.7" cy="237.7" r="8"/><circle cx="1459.1" cy="234.5" r="8"/><circle cx="1476.6" cy="215.3" r="8"/><circle cx="1465.8" cy="225.7" r="8"/><circle cx="1463" cy="221" r="8"/><circle cx="1476.3" cy="217.9" r="8"/><circle cx="1481" cy="216.8" r="8"/><circle cx="1459.4" cy="224.5" r="8"/><circle cx="1457" cy="235.5" r="8"/><circle cx="1469.8" cy="232.2" r="8"/><circle cx="1484.8" cy="200.3" r="8"/><circle cx="1450.1" cy="240.4" r="8"/><circle cx="1462.4" cy="218.9" r="8"/><circle cx="1459.8" cy="227.1" r="8"/><circle cx="1463.8" cy="212.5" r="8"/><circle cx="1479.2" cy="211.9" r="8"/><circle cx="1452.3" cy="240.3" r="8"/><circle cx="1489.3" cy="203.7" r="8"/><circle cx="1450" cy="229.1" r="8"/><circle cx="1449.8" cy="230.4" r="8"/><circle cx="1475.6" cy="211.4" r="8"/><circle cx="1482.6" cy="208.9" r="8"/><circle cx="1479.3" cy="207.9" r="8"/><circle cx="1481.6" cy="202.1" r="8"/><circle cx="1474.5" cy="209.8" r="8"/><circle cx="1445.8" cy="242.9" r="8"/><circle cx="1449.8" cy="230.1" r="8"/><circle cx="1445.6" cy="231.4" r="8"/><circle cx="1480.8" cy="203.1" r="8"/><circle cx="1465" cy="222.3" r="8"/><circle cx="1484.7" cy="205.1" r="8"/><circle cx="1473.2" cy="209.3" r="8"/><circle cx="1461.7" cy="217.7" r="8"/><circle cx="1477" cy="219.6" r="8"/><circle cx="1456.3" cy="228.8" r="8"/><circle cx="1485.7" cy="207.1" r="8"/><circle cx="1482.5" cy="207.4" r="8"/><circle cx="1447.4" cy="230.5" r="8"/><circle cx="1451.8" cy="241" r="8"/><circle cx="1479.4" cy="213.6" r="8"/><circle cx="1487.6" cy="209" r="8"/><circle cx="1445.9" cy="234.5" r="8"/><circle cx="1462.4" cy="227.5" r="8"/><circle cx="1474.9" cy="221" r="8"/><circle cx="1476.4" cy="212.1" r="8"/><circle cx="1450.5" cy="231.3" r="8"/><circle cx="1476.6" cy="225.8" r="8"/><circle cx="1445.6" cy="238.9" r="8"/><circle cx="1457.9" cy="241.2" r="8"/><circle cx="1444.9" cy="240.4" r="8"/><circle cx="1473.2" cy="224.5" r="8"/><circle cx="1475" cy="221.5" r="8"/><circle cx="1459.4" cy="225.8" r="8"/><circle cx="1482.1" cy="213.5" r="8"/><circle cx="1471.2" cy="210.1" r="8"/><circle cx="1459.5" cy="216.1" r="8"/><circle cx="1464.5" cy="222" r="8"/><circle cx="1485.4" cy="211.9" r="8"/><circle cx="1464.4" cy="213.4" r="8"/><circle cx="1482.3" cy="206.6" r="8"/><circle cx="1452.5" cy="244.6" r="8"/><circle cx="1455.3" cy="223.3" r="8"/><circle cx="1449.9" cy="239.7" r="8"/><circle cx="1480.8" cy="205.3" r="8"/><circle cx="1468.6" cy="224.6" r="8"/><circle cx="1469" cy="218.8" r="8"/><circle cx="1453.5" cy="229.1" r="8"/><circle cx="1462.5" cy="229.9" r="8"/><circle cx="1467.1" cy="223.4" r="8"/><circle cx="1447.3" cy="231.4" r="8"/><circle cx="1477.9" cy="220.1" r="8"/><circle cx="1466.2" cy="226.5" r="8"/><circle cx="1483.4" cy="209.1" r="8"/><circle cx="1446.6" cy="226.3" r="8"/><circle cx="1472.8" cy="220.9" r="8"/><circle cx="1447" cy="225.2" r="8"/><circle cx="1461" cy="230.9" r="8"/><circle cx="1445.7" cy="240.8" r="8"/><circle cx="1459.2" cy="231.4" r="8"/><circle cx="1468.3" cy="223.7" r="8"/><circle cx="1458.9" cy="224.9" r="8"/><circle cx="1488.7" cy="205.8" r="8"/><circle cx="1467" cy="230.4" r="8"/><circle cx="1484.1" cy="212.1" r="8"/><circle cx="1458.2" cy="222.5" r="8"/><circle cx="1468.3" cy="228" r="8"/><circle cx="1448.2" cy="234.5" r="8"/><circle cx="1455.7" cy="229.4" r="8"/><circle cx="1467.8" cy="220.6" r="8"/><circle cx="1452.6" cy="227" r="8"/><circle cx="1477.9" cy="201.5" r="8"/><circle cx="1486.2" cy="203.8" r="8"/><circle cx="1464.8" cy="218.3" r="8"/><circle cx="1457.2" cy="224.5" r="8"/><circle cx="1465.4" cy="218.7" r="8"/><circle cx="1441.4" cy="234.4" r="8"/><circle cx="1482.2" cy="206.4" r="8"/><circle cx="1464.8" cy="230.3" r="8"/><circle cx="1464.2" cy="223.8" r="8"/><circle cx="1472.8" cy="222.3" r="8"/><circle cx="1469.1" cy="221.2" r="8"/><circle cx="1478.2" cy="211" r="8"/><circle cx="1454.5" cy="226.9" r="8"/><circle cx="1488.4" cy="210.9" r="8"/><circle cx="1472.8" cy="215.4" r="8"/><circle cx="1461.1" cy="234.1" r="8"/><circle cx="1448.7" cy="231.4" r="8"/><circle cx="1455.5" cy="232.5" r="8"/><circle cx="1444" cy="235.6" r="8"/><circle cx="1490.2" cy="206.4" r="8"/><circle cx="1474.9" cy="208.3" r="8"/><circle cx="1471.3" cy="215.1" r="8"/><circle cx="1446.3" cy="231.8" r="8"/><circle cx="1479.4" cy="223.9" r="8"/><circle cx="1457.8" cy="212.1" r="8"/><circle cx="1455.8" cy="213.6" r="8"/><circle cx="1479.2" cy="227.1" r="8"/><circle cx="1462.8" cy="209.4" r="8"/><circle cx="1441.5" cy="226.1" r="8"/><circle cx="1464.6" cy="236.1" r="8"/><circle cx="1474.3" cy="200.1" r="8"/><circle cx="1481.2" cy="223.3" r="8"/><circle cx="1466.6" cy="207.1" r="8"/><circle cx="1479.1" cy="196" r="8"/><circle cx="1474.2" cy="231.6" r="8"/><circle cx="1454.5" cy="216.5" r="8"/><circle cx="1484.5" cy="221.4" r="8"/><circle cx="1468.8" cy="235.2" r="8"/><circle cx="1440.7" cy="231.6" r="8"/><circle cx="1490.6" cy="215.9" r="8"/><circle cx="1477.8" cy="228.7" r="8"/><circle cx="1464.7" cy="209" r="8"/><circle cx="1448.5" cy="221.9" r="8"/><circle cx="1440.9" cy="230.5" r="8"/><circle cx="1491.4" cy="216" r="8"/><circle cx="1469.3" cy="236.8" r="8"/><circle cx="1442.8" cy="225.3" r="8"/><circle cx="1462.9" cy="210.3" r="8"/><circle cx="1444.2" cy="225.4" r="8"/><circle cx="1464.8" cy="241.9" r="8"/><circle cx="1459.4" cy="211.3" r="8"/><circle cx="1478.8" cy="196.9" r="8"/><circle cx="1438.5" cy="227.5" r="8"/><circle cx="1500.7" cy="190.1" r="8"/><circle cx="1504.2" cy="188.3" r="8"/><circle cx="1495.7" cy="193.8" r="8"/><circle cx="1506.5" cy="186.2" r="8"/><circle cx="1502.6" cy="188" r="8"/><circle cx="1503.2" cy="187.5" r="8"/><circle cx="1508.1" cy="192.1" r="8"/><circle cx="1500.7" cy="192.4" r="8"/><circle cx="1497.2" cy="204.2" r="8"/><circle cx="1511.3" cy="182" r="8"/><circle cx="1491" cy="199" r="8"/><circle cx="1509" cy="189.2" r="8"/><circle cx="1495.5" cy="193.1" r="8"/><circle cx="1503.3" cy="197.2" r="8"/><circle cx="1505.3" cy="192.7" r="8"/><circle cx="1499.9" cy="191.9" r="8"/><circle cx="1512.5" cy="183.1" r="8"/><circle cx="1492.4" cy="197.9" r="8"/><circle cx="1497" cy="191.5" r="8"/><circle cx="1510.8" cy="182.5" r="8"/><circle cx="1511.8" cy="185.5" r="8"/><circle cx="1500.5" cy="183.8" r="8"/><circle cx="1504.6" cy="186.1" r="8"/><circle cx="1502.1" cy="195.5" r="8"/><circle cx="1508.6" cy="186.5" r="8"/><circle cx="1504.3" cy="195" r="8"/><circle cx="1507.2" cy="187" r="8"/><circle cx="1501" cy="195" r="8"/><circle cx="1507.5" cy="190.4" r="8"/><circle cx="1495.5" cy="205.2" r="8"/><circle cx="1501.4" cy="195.1" r="8"/><circle cx="1494.5" cy="189.5" r="8"/><circle cx="1498.9" cy="200.3" r="8"/><circle cx="1499.7" cy="193" r="8"/><circle cx="1505.1" cy="186.7" r="8"/><circle cx="1496.1" cy="192.6" r="8"/><circle cx="1494.2" cy="202.4" r="8"/><circle cx="1502.6" cy="187.7" r="8"/><circle cx="1500.3" cy="201.4" r="8"/><circle cx="1494.1" cy="202.1" r="8"/><circle cx="1497.9" cy="197.8" r="8"/><circle cx="1489.5" cy="195.2" r="8"/><circle cx="1500.4" cy="190.2" r="8"/><circle cx="1510.5" cy="187.6" r="8"/><circle cx="1489.9" cy="199.1" r="8"/><circle cx="1513.5" cy="188.2" r="8"/><circle cx="1499" cy="195.9" r="8"/><circle cx="1513.6" cy="183.7" r="8"/><circle cx="1492.2" cy="203.5" r="8"/><circle cx="1490.4" cy="195.5" r="8"/><circle cx="1505.4" cy="186.5" r="8"/><circle cx="1505.7" cy="183.6" r="8"/><circle cx="1505.3" cy="193.5" r="8"/><circle cx="1488" cy="201.8" r="8"/><circle cx="1508.6" cy="184.4" r="8"/><circle cx="1494.4" cy="196.4" r="8"/><circle cx="1506.3" cy="184.2" r="8"/><circle cx="1490" cy="195.7" r="8"/><circle cx="1497.8" cy="196.3" r="8"/><circle cx="1494.6" cy="191.1" r="8"/><circle cx="1509" cy="179.5" r="8"/><circle cx="1505.4" cy="195.1" r="8"/><circle cx="1492.7" cy="197.8" r="8"/><circle cx="1496.3" cy="194.1" r="8"/><circle cx="1488.2" cy="199.3" r="8"/><circle cx="1508.6" cy="182.8" r="8"/><circle cx="1492.7" cy="198.8" r="8"/><circle cx="1489.9" cy="200.2" r="8"/><circle cx="1497.5" cy="193.6" r="8"/><circle cx="1493.7" cy="199" r="8"/><circle cx="1498.4" cy="204.4" r="8"/><circle cx="1491.4" cy="197.9" r="8"/><circle cx="1494.7" cy="197" r="8"/><circle cx="1495.9" cy="202.6" r="8"/><circle cx="1500.8" cy="191.6" r="8"/><circle cx="1500.4" cy="195.1" r="8"/><circle cx="1505.7" cy="196.7" r="8"/><circle cx="1498.7" cy="185.5" r="8"/><circle cx="1491" cy="195" r="8"/><circle cx="1500.7" cy="193.1" r="8"/><circle cx="1492.1" cy="196.9" r="8"/><circle cx="1510" cy="189" r="8"/><circle cx="1515.5" cy="184.6" r="8"/><circle cx="1501.4" cy="190.5" r="8"/><circle cx="1506.5" cy="184.4" r="8"/><circle cx="1492.5" cy="196.8" r="8"/><circle cx="1496.6" cy="204.4" r="8"/><circle cx="1495" cy="191.3" r="8"/><circle cx="1497" cy="199.5" r="8"/><circle cx="1499" cy="192.3" r="8"/><circle cx="1511.6" cy="184.1" r="8"/><circle cx="1498.9" cy="191.6" r="8"/><circle cx="1500.4" cy="189.4" r="8"/><circle cx="1514.3" cy="184.5" r="8"/><circle cx="1510.1" cy="189.7" r="8"/><circle cx="1492.8" cy="195.1" r="8"/><circle cx="1506.3" cy="188.4" r="8"/><circle cx="1495.5" cy="204.5" r="8"/><circle cx="1514.3" cy="187.1" r="8"/><circle cx="1504.6" cy="183.3" r="8"/><circle cx="1495.7" cy="197.7" r="8"/><circle cx="1492.7" cy="202.4" r="8"/><circle cx="1508.8" cy="182.2" r="8"/><circle cx="1498.5" cy="189" r="8"/><circle cx="1503" cy="187.5" r="8"/><circle cx="1502.9" cy="187.3" r="8"/><circle cx="1507" cy="181.5" r="8"/><circle cx="1505" cy="194.3" r="8"/><circle cx="1510" cy="185.3" r="8"/><circle cx="1509.2" cy="179.3" r="8"/><circle cx="1512.1" cy="187" r="8"/><circle cx="1503.3" cy="188.8" r="8"/><circle cx="1502.8" cy="190.3" r="8"/><circle cx="1503.9" cy="192" r="8"/><circle cx="1489.1" cy="194.2" r="8"/><circle cx="1498.9" cy="197.9" r="8"/><circle cx="1506.8" cy="193.8" r="8"/><circle cx="1507.4" cy="183.3" r="8"/><circle cx="1507.1" cy="187.4" r="8"/><circle cx="1492.8" cy="201.8" r="8"/><circle cx="1495.1" cy="200.6" r="8"/><circle cx="1499.2" cy="190.5" r="8"/><circle cx="1508" cy="186.7" r="8"/><circle cx="1506.2" cy="185.8" r="8"/><circle cx="1508.3" cy="179.8" r="8"/><circle cx="1489.8" cy="198.1" r="8"/><circle cx="1507.5" cy="184.5" r="8"/><circle cx="1499.1" cy="199" r="8"/><circle cx="1506.4" cy="191.6" r="8"/><circle cx="1490.7" cy="202.2" r="8"/><circle cx="1487.6" cy="200" r="8"/><circle cx="1506.7" cy="181.4" r="8"/><circle cx="1495.2" cy="204.3" r="8"/><circle cx="1500.2" cy="184.8" r="8"/><circle cx="1491.5" cy="195.3" r="8"/><circle cx="1490.9" cy="195.8" r="8"/><circle cx="1496.4" cy="198.8" r="8"/><circle cx="1506.9" cy="193.6" r="8"/><circle cx="1506.4" cy="187.7" r="8"/><circle cx="1496" cy="193.7" r="8"/><circle cx="1486.6" cy="200.5" r="8"/><circle cx="1503.5" cy="192.3" r="8"/><circle cx="1496.3" cy="194.2" r="8"/><circle cx="1491.9" cy="204.3" r="8"/><circle cx="1494.4" cy="191" r="8"/><circle cx="1497.7" cy="197.9" r="8"/><circle cx="1498.5" cy="202.6" r="8"/><circle cx="1507.4" cy="188.4" r="8"/><circle cx="1493.5" cy="196.3" r="8"/><circle cx="1500.4" cy="194.7" r="8"/><circle cx="1481.7" cy="195.1" r="8"/><circle cx="1513.7" cy="191.2" r="8"/><circle cx="1500.3" cy="181.3" r="8"/><circle cx="1491.5" cy="190.5" r="8"/><circle cx="1499.5" cy="207.5" r="8"/><circle cx="1502.2" cy="201.6" r="8"/><circle cx="1505" cy="180.9" r="8"/><circle cx="1495.4" cy="187.5" r="8"/><circle cx="1515.7" cy="180.6" r="8"/><circle cx="1513.9" cy="182" r="8"/><circle cx="1518.5" cy="180.5" r="8"/><circle cx="1520.1" cy="175.7" r="8"/><circle cx="1514.4" cy="178.7" r="8"/><circle cx="1515.7" cy="178.2" r="8"/><circle cx="1516.1" cy="178.1" r="8"/><circle cx="1512.6" cy="179.8" r="8"/><circle cx="1517.2" cy="179.1" r="8"/><circle cx="1525.8" cy="173.5" r="8"/><circle cx="1521.1" cy="169.9" r="8"/><circle cx="1524.1" cy="170.4" r="8"/><circle cx="1525.2" cy="172.8" r="8"/><circle cx="1518.1" cy="174.5" r="8"/><circle cx="1516.6" cy="178.2" r="8"/><circle cx="1519" cy="174.2" r="8"/><circle cx="1523.1" cy="172.6" r="8"/><circle cx="1522.9" cy="176.4" r="8"/><circle cx="1517.5" cy="180.2" r="8"/><circle cx="1518.3" cy="177.5" r="8"/><circle cx="1520.3" cy="178.5" r="8"/><circle cx="1524.5" cy="172.4" r="8"/><circle cx="1515" cy="173.9" r="8"/><circle cx="1524.7" cy="170.6" r="8"/><circle cx="1518.2" cy="178.5" r="8"/><circle cx="1517.9" cy="183.5" r="8"/><circle cx="1512.3" cy="180.6" r="8"/><circle cx="1520.2" cy="174" r="8"/><circle cx="1510.6" cy="175.5" r="8"/><circle cx="1523.4" cy="167.5" r="8"/><circle cx="1526.2" cy="171.4" r="8"/><circle cx="1529.1" cy="167.3" r="8"/><circle cx="1534.5" cy="164" r="8"/><circle cx="1527.7" cy="170.3" r="8"/><circle cx="1529.6" cy="165.5" r="8"/><circle cx="1610.4" cy="106.8" r="8"/><circle cx="1561.9" cy="137.9" r="8"/><circle cx="1568" cy="141.5" r="8"/><circle cx="1549.9" cy="147" r="8"/><circle cx="1554" cy="149.8" r="8"/><circle cx="1537.4" cy="155.4" r="8"/><circle cx="1545.7" cy="155.4" r="8"/><circle cx="1530.4" cy="163.7" r="8"/><circle cx="1523.5" cy="166.5" r="8"/><circle cx="1531.8" cy="170.7" r="8"/><circle cx="1511" cy="174.9" r="8"/><circle cx="1498.4" cy="180.4" r="8"/><circle cx="1523.5" cy="191.6" r="8"/><circle cx="1476.2" cy="197.1" r="8"/><circle cx="1463.7" cy="205.5" r="8"/><circle cx="1456.7" cy="209.6" r="8"/><circle cx="1438.8" cy="218.1" r="8"/><circle cx="1447.1" cy="269.6" r="8"/><circle cx="1434.6" cy="280.7" r="8"/><circle cx="1369.2" cy="289" r="8"/><circle cx="1366.4" cy="298.8" r="8"/><circle cx="1355.3" cy="309.9" r="8"/><circle cx="1358.1" cy="314.1" r="8"/><circle cx="1348.2" cy="336.3" r="8"/><circle cx="1357.3" cy="349.6" r="8"/><circle cx="1333.2" cy="350.7" r="8"/><circle cx="1304.8" cy="357.8" r="8"/>
</g>
<g fill="#d62214" fill-opacity="0.9">
<circle cx="1485.2" cy="182.3" r="9.5"/><circle cx="1449.6" cy="219.8" r="9.5"/><circle cx="1413.5" cy="230.9" r="9.5"/><circle cx="1423.4" cy="235.3" r="9.5"/><circle cx="1432.2" cy="233" r="9.5"/><circle cx="1420.5" cy="240.5" r="9.5"/><circle cx="1380.3" cy="259.8" r="9.5"/><circle cx="1397.9" cy="265.2" r="9.5"/>
</g>
<g fill="#4049a3" fill-opacity="0.95">
<circle cx="1548.6" cy="169.5" r="9.5"/><circle cx="1569.4" cy="176.5" r="9.5"/><circle cx="1507.5" cy="197.8" r="9.5"/><circle cx="1519.3" cy="206" r="9.5"/><circle cx="1505" cy="209.4" r="9.5"/><circle cx="1498" cy="203.4" r="9.5"/><circle cx="1489.1" cy="212.3" r="9.5"/><circle cx="1482.4" cy="225.6" r="9.5"/><circle cx="1473.5" cy="226.7" r="9.5"/><circle cx="1473.5" cy="247.9" r="9.5"/><circle cx="1470.6" cy="237.5" r="9.5"/><circle cx="1453.5" cy="247.9" r="9.5"/><circle cx="1449" cy="254.6" r="9.5"/><circle cx="1441.2" cy="259" r="9.5"/><circle cx="1435.7" cy="265.7" r="9.5"/><circle cx="1443.5" cy="269.1" r="9.5"/><circle cx="1452.6" cy="291" r="9.5"/><circle cx="1424.5" cy="278" r="9.5"/><circle cx="1419" cy="283.5" r="9.5"/><circle cx="1402.3" cy="292.4" r="9.5"/><circle cx="1393.4" cy="299.1" r="9.5"/><circle cx="1406.7" cy="304.5" r="9.5"/><circle cx="1391.4" cy="326.2" r="9.5"/><circle cx="1361.3" cy="342.6" r="9.5"/><circle cx="1351.4" cy="343.8" r="9.5"/><circle cx="1410" cy="289" r="9.5"/><circle cx="1398" cy="297" r="9.5"/><circle cx="1429" cy="273" r="9.5"/><circle cx="1446" cy="262" r="9.5"/><circle cx="1494" cy="208" r="9.5"/><circle cx="1512" cy="203" r="9.5"/><circle cx="1478" cy="228" r="9.5"/><circle cx="1405" cy="297" r="9.5"/><circle cx="1397" cy="303" r="9.5"/><circle cx="1514" cy="200" r="9.5"/>
</g>
</svg>
</body></html>
